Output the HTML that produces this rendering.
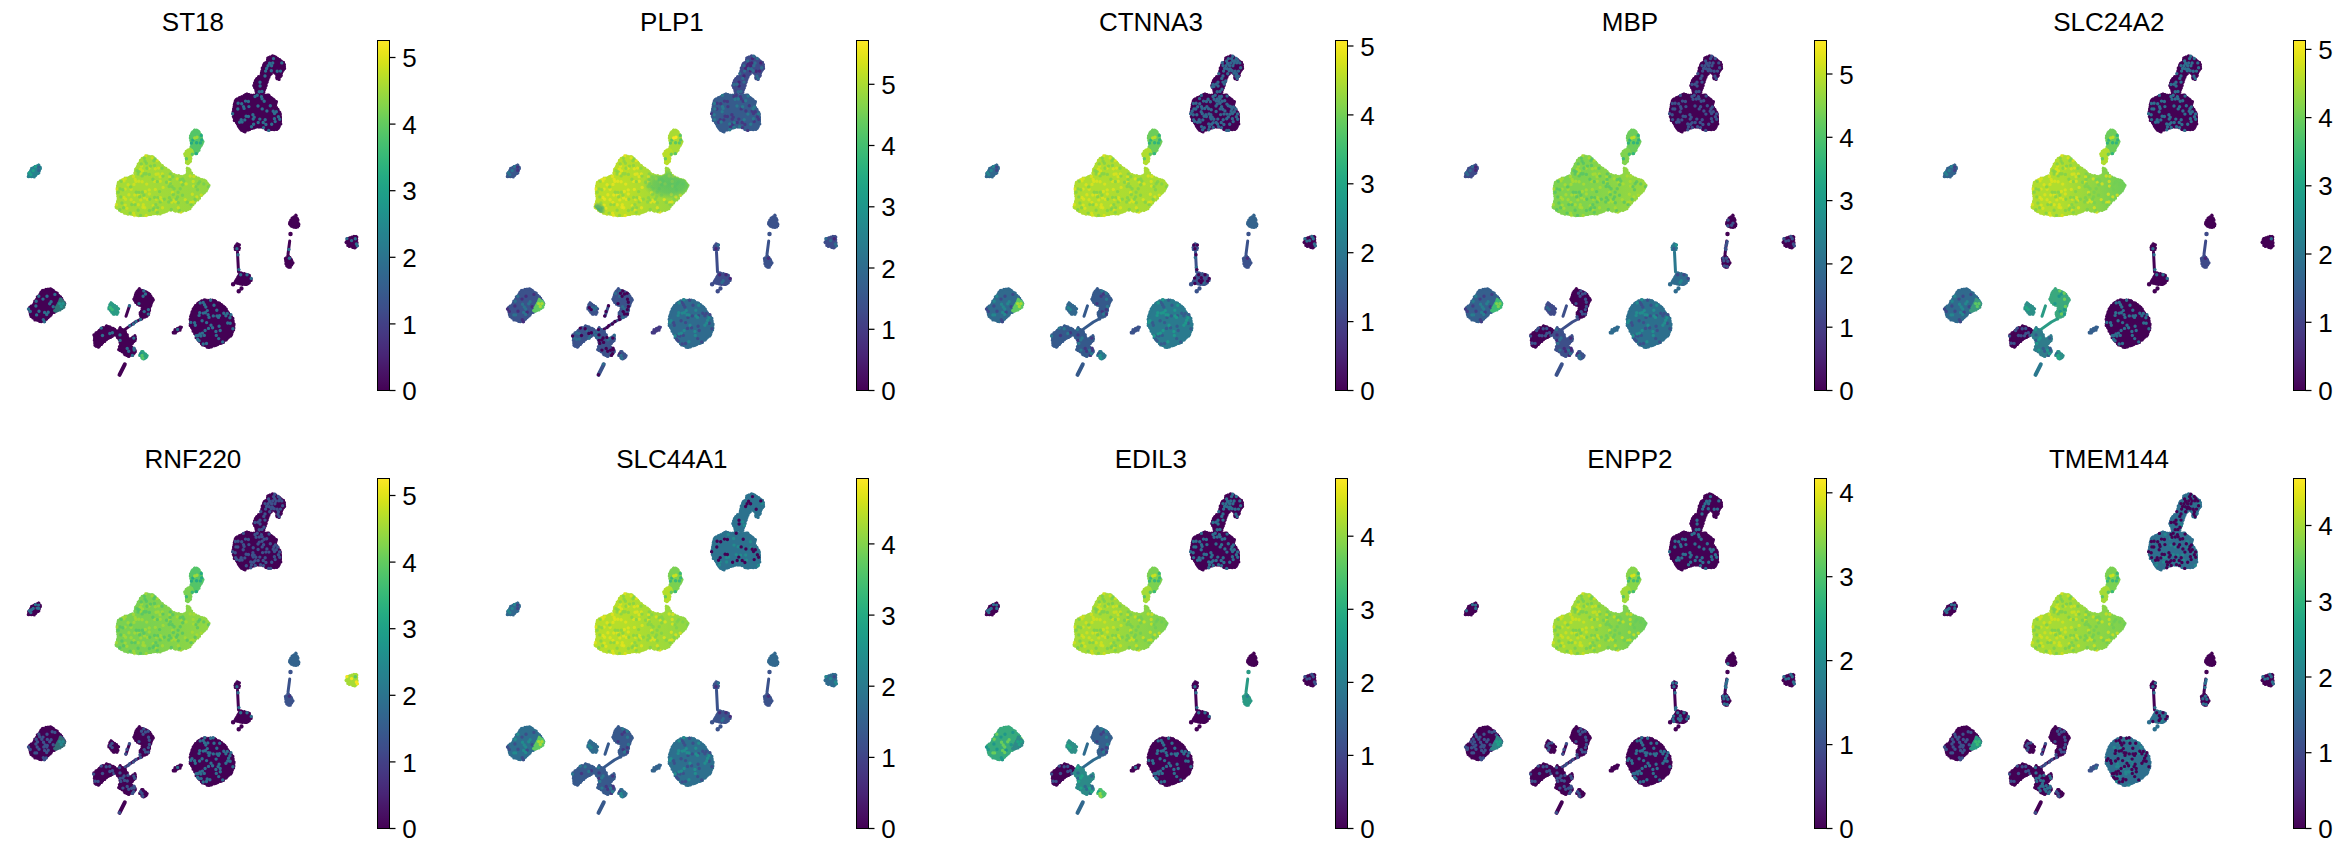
<!DOCTYPE html><html><head><meta charset="utf-8"><style>html,body{margin:0;padding:0;background:#fff;width:2344px;height:854px;overflow:hidden}svg{display:block}text{font-family:"Liberation Sans",sans-serif}</style></head><body>
<svg width="2344" height="854" viewBox="0 0 2344 854">
<defs><linearGradient id="vir" x1="0" y1="1" x2="0" y2="0">
<stop offset="0.000" stop-color="#440154"/>
<stop offset="0.032" stop-color="#470d60"/>
<stop offset="0.065" stop-color="#48186a"/>
<stop offset="0.097" stop-color="#482475"/>
<stop offset="0.129" stop-color="#472e7c"/>
<stop offset="0.161" stop-color="#453882"/>
<stop offset="0.194" stop-color="#424186"/>
<stop offset="0.226" stop-color="#3e4c8a"/>
<stop offset="0.258" stop-color="#3a548c"/>
<stop offset="0.290" stop-color="#365d8d"/>
<stop offset="0.323" stop-color="#32658e"/>
<stop offset="0.355" stop-color="#2e6d8e"/>
<stop offset="0.387" stop-color="#2b758e"/>
<stop offset="0.419" stop-color="#287d8e"/>
<stop offset="0.452" stop-color="#25848e"/>
<stop offset="0.484" stop-color="#228c8d"/>
<stop offset="0.516" stop-color="#1f948c"/>
<stop offset="0.548" stop-color="#1e9c89"/>
<stop offset="0.581" stop-color="#20a386"/>
<stop offset="0.613" stop-color="#25ab82"/>
<stop offset="0.645" stop-color="#2eb37c"/>
<stop offset="0.677" stop-color="#3aba76"/>
<stop offset="0.710" stop-color="#48c16e"/>
<stop offset="0.742" stop-color="#58c765"/>
<stop offset="0.774" stop-color="#69cd5b"/>
<stop offset="0.806" stop-color="#7fd34e"/>
<stop offset="0.839" stop-color="#93d741"/>
<stop offset="0.871" stop-color="#a8db34"/>
<stop offset="0.903" stop-color="#bddf26"/>
<stop offset="0.935" stop-color="#d5e21a"/>
<stop offset="0.968" stop-color="#eae51a"/>
<stop offset="1.000" stop-color="#fde725"/>
</linearGradient>
<path id="d_A_0" d="M37.0,170.4a1.7,1.7 0 1,0 3.4,0a1.7,1.7 0 1,0 -3.4,0"/>
<path id="d_A_1" d="M36.9,167.1a1.7,1.7 0 1,0 3.4,0a1.7,1.7 0 1,0 -3.4,0"/>
<path id="d_A_2" d=""/>
<path id="d_A_3" d=""/>
<path id="d_A_4" d="M33.8,166.6a1.7,1.7 0 1,0 3.4,0a1.7,1.7 0 1,0 -3.4,0M27.7,172.8a1.7,1.7 0 1,0 3.4,0a1.7,1.7 0 1,0 -3.4,0"/>
<path id="d_A_5" d="M31.5,170.5a1.7,1.7 0 1,0 3.4,0a1.7,1.7 0 1,0 -3.4,0M29.1,174.6a1.7,1.7 0 1,0 3.4,0a1.7,1.7 0 1,0 -3.4,0"/>
<path id="d_A_6" d=""/>
<path id="d_A_7" d="M29.8,171.8a1.7,1.7 0 1,0 3.4,0a1.7,1.7 0 1,0 -3.4,0"/>
<path id="d_A_8" d=""/>
<path id="d_A_9" d="M35.4,170.1a1.7,1.7 0 1,0 3.4,0a1.7,1.7 0 1,0 -3.4,0"/>
<path id="d_A_10" d="M26.0,175.4a1.7,1.7 0 1,0 3.4,0a1.7,1.7 0 1,0 -3.4,0M35.1,175.1a1.7,1.7 0 1,0 3.4,0a1.7,1.7 0 1,0 -3.4,0"/>
<path id="d_A_11" d="M33.1,172.9a1.7,1.7 0 1,0 3.4,0a1.7,1.7 0 1,0 -3.4,0"/>
<path id="d_A_12" d="M32.2,174.6a1.7,1.7 0 1,0 3.4,0a1.7,1.7 0 1,0 -3.4,0"/>
<path id="d_A_13" d=""/>
<path id="d_A_14" d=""/>
<path id="d_A_15" d=""/>
<path id="d_A_16" d="M37.2,164.5a1.7,1.7 0 1,0 3.4,0a1.7,1.7 0 1,0 -3.4,0"/>
<path id="d_A_17" d="M36.3,172.7a1.7,1.7 0 1,0 3.4,0a1.7,1.7 0 1,0 -3.4,0"/>
<path id="d_A_18" d=""/>
<path id="d_A_19" d=""/>
<path id="d_B1_0" d="M266.4,65.7a1.7,1.7 0 1,0 3.4,0a1.7,1.7 0 1,0 -3.4,0M264.9,68.5a1.7,1.7 0 1,0 3.4,0a1.7,1.7 0 1,0 -3.4,0M275.5,71.3a1.7,1.7 0 1,0 3.4,0a1.7,1.7 0 1,0 -3.4,0M258.3,82.2a1.7,1.7 0 1,0 3.4,0a1.7,1.7 0 1,0 -3.4,0M258.4,86.0a1.7,1.7 0 1,0 3.4,0a1.7,1.7 0 1,0 -3.4,0"/>
<path id="d_B1_1" d="M271.8,58.6a1.7,1.7 0 1,0 3.4,0a1.7,1.7 0 1,0 -3.4,0M267.9,63.2a1.7,1.7 0 1,0 3.4,0a1.7,1.7 0 1,0 -3.4,0M280.1,62.9a1.7,1.7 0 1,0 3.4,0a1.7,1.7 0 1,0 -3.4,0M269.9,65.7a1.7,1.7 0 1,0 3.4,0a1.7,1.7 0 1,0 -3.4,0"/>
<path id="d_B1_2" d="M271.0,63.0a1.7,1.7 0 1,0 3.4,0a1.7,1.7 0 1,0 -3.4,0M269.6,70.8a1.7,1.7 0 1,0 3.4,0a1.7,1.7 0 1,0 -3.4,0M278.8,71.1a1.7,1.7 0 1,0 3.4,0a1.7,1.7 0 1,0 -3.4,0M263.3,76.0a1.7,1.7 0 1,0 3.4,0a1.7,1.7 0 1,0 -3.4,0"/>
<path id="d_B1_3" d="M263.9,71.1a1.7,1.7 0 1,0 3.4,0a1.7,1.7 0 1,0 -3.4,0M257.5,91.7a1.7,1.7 0 1,0 3.4,0a1.7,1.7 0 1,0 -3.4,0M260.3,91.5a1.7,1.7 0 1,0 3.4,0a1.7,1.7 0 1,0 -3.4,0"/>
<path id="d_B1_4" d="M276.6,58.5a1.7,1.7 0 1,0 3.4,0a1.7,1.7 0 1,0 -3.4,0M266.9,61.0a1.7,1.7 0 1,0 3.4,0a1.7,1.7 0 1,0 -3.4,0M274.4,63.0a1.7,1.7 0 1,0 3.4,0a1.7,1.7 0 1,0 -3.4,0M263.3,65.6a1.7,1.7 0 1,0 3.4,0a1.7,1.7 0 1,0 -3.4,0M273.2,65.8a1.7,1.7 0 1,0 3.4,0a1.7,1.7 0 1,0 -3.4,0M270.6,69.0a1.7,1.7 0 1,0 3.4,0a1.7,1.7 0 1,0 -3.4,0M280.9,67.8a1.7,1.7 0 1,0 3.4,0a1.7,1.7 0 1,0 -3.4,0M272.5,70.8a1.7,1.7 0 1,0 3.4,0a1.7,1.7 0 1,0 -3.4,0M259.1,73.6a1.7,1.7 0 1,0 3.4,0a1.7,1.7 0 1,0 -3.4,0M277.5,78.6a1.7,1.7 0 1,0 3.4,0a1.7,1.7 0 1,0 -3.4,0M263.3,82.1a1.7,1.7 0 1,0 3.4,0a1.7,1.7 0 1,0 -3.4,0M253.3,84.5a1.7,1.7 0 1,0 3.4,0a1.7,1.7 0 1,0 -3.4,0M256.4,84.3a1.7,1.7 0 1,0 3.4,0a1.7,1.7 0 1,0 -3.4,0"/>
<path id="d_B1_5" d="M273.1,56.2a1.7,1.7 0 1,0 3.4,0a1.7,1.7 0 1,0 -3.4,0M267.7,68.8a1.7,1.7 0 1,0 3.4,0a1.7,1.7 0 1,0 -3.4,0M276.2,76.3a1.7,1.7 0 1,0 3.4,0a1.7,1.7 0 1,0 -3.4,0M262.1,78.4a1.7,1.7 0 1,0 3.4,0a1.7,1.7 0 1,0 -3.4,0"/>
<path id="d_B1_6" d="M273.0,60.7a1.7,1.7 0 1,0 3.4,0a1.7,1.7 0 1,0 -3.4,0M278.2,60.7a1.7,1.7 0 1,0 3.4,0a1.7,1.7 0 1,0 -3.4,0M268.0,73.7a1.7,1.7 0 1,0 3.4,0a1.7,1.7 0 1,0 -3.4,0M276.8,73.8a1.7,1.7 0 1,0 3.4,0a1.7,1.7 0 1,0 -3.4,0M262.3,89.3a1.7,1.7 0 1,0 3.4,0a1.7,1.7 0 1,0 -3.4,0"/>
<path id="d_B1_7" d="M277.2,62.7a1.7,1.7 0 1,0 3.4,0a1.7,1.7 0 1,0 -3.4,0"/>
<path id="d_B1_8" d="M275.3,60.8a1.7,1.7 0 1,0 3.4,0a1.7,1.7 0 1,0 -3.4,0M262.6,62.8a1.7,1.7 0 1,0 3.4,0a1.7,1.7 0 1,0 -3.4,0M278.7,76.3a1.7,1.7 0 1,0 3.4,0a1.7,1.7 0 1,0 -3.4,0M266.0,81.0a1.7,1.7 0 1,0 3.4,0a1.7,1.7 0 1,0 -3.4,0M264.6,84.0a1.7,1.7 0 1,0 3.4,0a1.7,1.7 0 1,0 -3.4,0M252.4,86.9a1.7,1.7 0 1,0 3.4,0a1.7,1.7 0 1,0 -3.4,0"/>
<path id="d_B1_9" d="M268.7,58.6a1.7,1.7 0 1,0 3.4,0a1.7,1.7 0 1,0 -3.4,0M274.2,73.2a1.7,1.7 0 1,0 3.4,0a1.7,1.7 0 1,0 -3.4,0M254.2,86.6a1.7,1.7 0 1,0 3.4,0a1.7,1.7 0 1,0 -3.4,0"/>
<path id="d_B1_10" d="M265.0,74.1a1.7,1.7 0 1,0 3.4,0a1.7,1.7 0 1,0 -3.4,0M257.1,76.7a1.7,1.7 0 1,0 3.4,0a1.7,1.7 0 1,0 -3.4,0M266.7,76.6a1.7,1.7 0 1,0 3.4,0a1.7,1.7 0 1,0 -3.4,0"/>
<path id="d_B1_11" d="M265.7,63.5a1.7,1.7 0 1,0 3.4,0a1.7,1.7 0 1,0 -3.4,0M266.8,70.8a1.7,1.7 0 1,0 3.4,0a1.7,1.7 0 1,0 -3.4,0M281.2,71.2a1.7,1.7 0 1,0 3.4,0a1.7,1.7 0 1,0 -3.4,0M262.1,74.3a1.7,1.7 0 1,0 3.4,0a1.7,1.7 0 1,0 -3.4,0M253.3,89.6a1.7,1.7 0 1,0 3.4,0a1.7,1.7 0 1,0 -3.4,0"/>
<path id="d_B1_12" d="M275.2,65.4a1.7,1.7 0 1,0 3.4,0a1.7,1.7 0 1,0 -3.4,0M260.1,76.4a1.7,1.7 0 1,0 3.4,0a1.7,1.7 0 1,0 -3.4,0M255.0,81.3a1.7,1.7 0 1,0 3.4,0a1.7,1.7 0 1,0 -3.4,0M256.7,89.7a1.7,1.7 0 1,0 3.4,0a1.7,1.7 0 1,0 -3.4,0M255.3,91.3a1.7,1.7 0 1,0 3.4,0a1.7,1.7 0 1,0 -3.4,0"/>
<path id="d_B1_13" d="M278.4,65.7a1.7,1.7 0 1,0 3.4,0a1.7,1.7 0 1,0 -3.4,0M262.2,68.6a1.7,1.7 0 1,0 3.4,0a1.7,1.7 0 1,0 -3.4,0"/>
<path id="d_B1_14" d="M260.3,82.1a1.7,1.7 0 1,0 3.4,0a1.7,1.7 0 1,0 -3.4,0"/>
<path id="d_B1_15" d="M260.0,70.9a1.7,1.7 0 1,0 3.4,0a1.7,1.7 0 1,0 -3.4,0M255.6,78.8a1.7,1.7 0 1,0 3.4,0a1.7,1.7 0 1,0 -3.4,0"/>
<path id="d_B1_16" d="M273.9,58.4a1.7,1.7 0 1,0 3.4,0a1.7,1.7 0 1,0 -3.4,0M269.9,60.8a1.7,1.7 0 1,0 3.4,0a1.7,1.7 0 1,0 -3.4,0M273.6,68.1a1.7,1.7 0 1,0 3.4,0a1.7,1.7 0 1,0 -3.4,0M277.2,69.1a1.7,1.7 0 1,0 3.4,0a1.7,1.7 0 1,0 -3.4,0M260.6,86.9a1.7,1.7 0 1,0 3.4,0a1.7,1.7 0 1,0 -3.4,0"/>
<path id="d_B1_17" d="M280.3,73.3a1.7,1.7 0 1,0 3.4,0a1.7,1.7 0 1,0 -3.4,0M259.0,78.8a1.7,1.7 0 1,0 3.4,0a1.7,1.7 0 1,0 -3.4,0M264.8,79.0a1.7,1.7 0 1,0 3.4,0a1.7,1.7 0 1,0 -3.4,0M259.1,84.2a1.7,1.7 0 1,0 3.4,0a1.7,1.7 0 1,0 -3.4,0M259.7,89.0a1.7,1.7 0 1,0 3.4,0a1.7,1.7 0 1,0 -3.4,0M263.1,91.5a1.7,1.7 0 1,0 3.4,0a1.7,1.7 0 1,0 -3.4,0"/>
<path id="d_B1_18" d="M281.3,65.4a1.7,1.7 0 1,0 3.4,0a1.7,1.7 0 1,0 -3.4,0M263.5,87.2a1.7,1.7 0 1,0 3.4,0a1.7,1.7 0 1,0 -3.4,0"/>
<path id="d_B1_19" d="M261.9,83.8a1.7,1.7 0 1,0 3.4,0a1.7,1.7 0 1,0 -3.4,0"/>
<path id="d_B2_0" d="M255.5,95.3a1.7,1.7 0 1,0 3.4,0a1.7,1.7 0 1,0 -3.4,0M246.7,101.5a1.7,1.7 0 1,0 3.4,0a1.7,1.7 0 1,0 -3.4,0M262.5,101.2a1.7,1.7 0 1,0 3.4,0a1.7,1.7 0 1,0 -3.4,0M274.6,111.7a1.7,1.7 0 1,0 3.4,0a1.7,1.7 0 1,0 -3.4,0M276.7,116.8a1.7,1.7 0 1,0 3.4,0a1.7,1.7 0 1,0 -3.4,0M256.5,122.5a1.7,1.7 0 1,0 3.4,0a1.7,1.7 0 1,0 -3.4,0M273.5,121.6a1.7,1.7 0 1,0 3.4,0a1.7,1.7 0 1,0 -3.4,0"/>
<path id="d_B2_1" d="M243.8,101.1a1.7,1.7 0 1,0 3.4,0a1.7,1.7 0 1,0 -3.4,0M236.4,103.2a1.7,1.7 0 1,0 3.4,0a1.7,1.7 0 1,0 -3.4,0M240.0,103.8a1.7,1.7 0 1,0 3.4,0a1.7,1.7 0 1,0 -3.4,0M236.1,109.0a1.7,1.7 0 1,0 3.4,0a1.7,1.7 0 1,0 -3.4,0M260.5,108.9a1.7,1.7 0 1,0 3.4,0a1.7,1.7 0 1,0 -3.4,0M265.2,111.0a1.7,1.7 0 1,0 3.4,0a1.7,1.7 0 1,0 -3.4,0M271.5,111.3a1.7,1.7 0 1,0 3.4,0a1.7,1.7 0 1,0 -3.4,0M230.9,113.7a1.7,1.7 0 1,0 3.4,0a1.7,1.7 0 1,0 -3.4,0M272.8,113.5a1.7,1.7 0 1,0 3.4,0a1.7,1.7 0 1,0 -3.4,0M244.4,116.3a1.7,1.7 0 1,0 3.4,0a1.7,1.7 0 1,0 -3.4,0M246.7,116.5a1.7,1.7 0 1,0 3.4,0a1.7,1.7 0 1,0 -3.4,0M239.5,119.6a1.7,1.7 0 1,0 3.4,0a1.7,1.7 0 1,0 -3.4,0M258.1,119.1a1.7,1.7 0 1,0 3.4,0a1.7,1.7 0 1,0 -3.4,0M278.0,119.2a1.7,1.7 0 1,0 3.4,0a1.7,1.7 0 1,0 -3.4,0M237.9,122.2a1.7,1.7 0 1,0 3.4,0a1.7,1.7 0 1,0 -3.4,0M261.5,122.5a1.7,1.7 0 1,0 3.4,0a1.7,1.7 0 1,0 -3.4,0M251.9,124.2a1.7,1.7 0 1,0 3.4,0a1.7,1.7 0 1,0 -3.4,0M264.2,124.5a1.7,1.7 0 1,0 3.4,0a1.7,1.7 0 1,0 -3.4,0"/>
<path id="d_B2_2" d="M253.3,96.5a1.7,1.7 0 1,0 3.4,0a1.7,1.7 0 1,0 -3.4,0M259.7,96.6a1.7,1.7 0 1,0 3.4,0a1.7,1.7 0 1,0 -3.4,0M260.4,98.7a1.7,1.7 0 1,0 3.4,0a1.7,1.7 0 1,0 -3.4,0M247.2,106.6a1.7,1.7 0 1,0 3.4,0a1.7,1.7 0 1,0 -3.4,0M268.6,105.7a1.7,1.7 0 1,0 3.4,0a1.7,1.7 0 1,0 -3.4,0M251.2,114.8a1.7,1.7 0 1,0 3.4,0a1.7,1.7 0 1,0 -3.4,0M252.5,117.2a1.7,1.7 0 1,0 3.4,0a1.7,1.7 0 1,0 -3.4,0M243.1,119.9a1.7,1.7 0 1,0 3.4,0a1.7,1.7 0 1,0 -3.4,0M251.5,119.1a1.7,1.7 0 1,0 3.4,0a1.7,1.7 0 1,0 -3.4,0M249.8,126.7a1.7,1.7 0 1,0 3.4,0a1.7,1.7 0 1,0 -3.4,0M261.8,127.6a1.7,1.7 0 1,0 3.4,0a1.7,1.7 0 1,0 -3.4,0M267.0,130.4a1.7,1.7 0 1,0 3.4,0a1.7,1.7 0 1,0 -3.4,0"/>
<path id="d_B2_3" d="M241.8,106.6a1.7,1.7 0 1,0 3.4,0a1.7,1.7 0 1,0 -3.4,0M256.3,106.0a1.7,1.7 0 1,0 3.4,0a1.7,1.7 0 1,0 -3.4,0M242.4,108.4a1.7,1.7 0 1,0 3.4,0a1.7,1.7 0 1,0 -3.4,0M263.5,119.7a1.7,1.7 0 1,0 3.4,0a1.7,1.7 0 1,0 -3.4,0M272.7,118.8a1.7,1.7 0 1,0 3.4,0a1.7,1.7 0 1,0 -3.4,0M240.4,122.0a1.7,1.7 0 1,0 3.4,0a1.7,1.7 0 1,0 -3.4,0M270.0,124.2a1.7,1.7 0 1,0 3.4,0a1.7,1.7 0 1,0 -3.4,0"/>
<path id="d_B2_4" d="M267.4,96.1a1.7,1.7 0 1,0 3.4,0a1.7,1.7 0 1,0 -3.4,0M257.6,99.0a1.7,1.7 0 1,0 3.4,0a1.7,1.7 0 1,0 -3.4,0M261.9,106.8a1.7,1.7 0 1,0 3.4,0a1.7,1.7 0 1,0 -3.4,0M273.7,106.9a1.7,1.7 0 1,0 3.4,0a1.7,1.7 0 1,0 -3.4,0M234.2,108.9a1.7,1.7 0 1,0 3.4,0a1.7,1.7 0 1,0 -3.4,0M241.5,111.8a1.7,1.7 0 1,0 3.4,0a1.7,1.7 0 1,0 -3.4,0M277.9,113.9a1.7,1.7 0 1,0 3.4,0a1.7,1.7 0 1,0 -3.4,0M253.5,127.5a1.7,1.7 0 1,0 3.4,0a1.7,1.7 0 1,0 -3.4,0M258.8,126.6a1.7,1.7 0 1,0 3.4,0a1.7,1.7 0 1,0 -3.4,0M249.1,129.8a1.7,1.7 0 1,0 3.4,0a1.7,1.7 0 1,0 -3.4,0"/>
<path id="d_B2_5" d="M241.7,95.4a1.7,1.7 0 1,0 3.4,0a1.7,1.7 0 1,0 -3.4,0M254.4,99.2a1.7,1.7 0 1,0 3.4,0a1.7,1.7 0 1,0 -3.4,0M265.0,100.7a1.7,1.7 0 1,0 3.4,0a1.7,1.7 0 1,0 -3.4,0M233.7,103.5a1.7,1.7 0 1,0 3.4,0a1.7,1.7 0 1,0 -3.4,0M272.3,108.8a1.7,1.7 0 1,0 3.4,0a1.7,1.7 0 1,0 -3.4,0M233.5,114.7a1.7,1.7 0 1,0 3.4,0a1.7,1.7 0 1,0 -3.4,0M267.2,114.1a1.7,1.7 0 1,0 3.4,0a1.7,1.7 0 1,0 -3.4,0M233.9,119.6a1.7,1.7 0 1,0 3.4,0a1.7,1.7 0 1,0 -3.4,0M253.5,122.6a1.7,1.7 0 1,0 3.4,0a1.7,1.7 0 1,0 -3.4,0M249.0,123.9a1.7,1.7 0 1,0 3.4,0a1.7,1.7 0 1,0 -3.4,0"/>
<path id="d_B2_6" d="M257.6,104.1a1.7,1.7 0 1,0 3.4,0a1.7,1.7 0 1,0 -3.4,0M251.5,109.7a1.7,1.7 0 1,0 3.4,0a1.7,1.7 0 1,0 -3.4,0M276.0,109.0a1.7,1.7 0 1,0 3.4,0a1.7,1.7 0 1,0 -3.4,0M256.4,111.5a1.7,1.7 0 1,0 3.4,0a1.7,1.7 0 1,0 -3.4,0M260.9,114.6a1.7,1.7 0 1,0 3.4,0a1.7,1.7 0 1,0 -3.4,0M250.7,117.3a1.7,1.7 0 1,0 3.4,0a1.7,1.7 0 1,0 -3.4,0M254.2,119.2a1.7,1.7 0 1,0 3.4,0a1.7,1.7 0 1,0 -3.4,0M234.9,121.4a1.7,1.7 0 1,0 3.4,0a1.7,1.7 0 1,0 -3.4,0"/>
<path id="d_B2_7" d="M260.4,103.2a1.7,1.7 0 1,0 3.4,0a1.7,1.7 0 1,0 -3.4,0M264.2,114.1a1.7,1.7 0 1,0 3.4,0a1.7,1.7 0 1,0 -3.4,0M244.6,127.7a1.7,1.7 0 1,0 3.4,0a1.7,1.7 0 1,0 -3.4,0M269.0,130.4a1.7,1.7 0 1,0 3.4,0a1.7,1.7 0 1,0 -3.4,0"/>
<path id="d_B2_8" d="M248.4,99.2a1.7,1.7 0 1,0 3.4,0a1.7,1.7 0 1,0 -3.4,0M250.7,101.8a1.7,1.7 0 1,0 3.4,0a1.7,1.7 0 1,0 -3.4,0M256.5,101.1a1.7,1.7 0 1,0 3.4,0a1.7,1.7 0 1,0 -3.4,0M259.2,101.4a1.7,1.7 0 1,0 3.4,0a1.7,1.7 0 1,0 -3.4,0M267.2,104.1a1.7,1.7 0 1,0 3.4,0a1.7,1.7 0 1,0 -3.4,0M270.7,106.5a1.7,1.7 0 1,0 3.4,0a1.7,1.7 0 1,0 -3.4,0M248.9,108.7a1.7,1.7 0 1,0 3.4,0a1.7,1.7 0 1,0 -3.4,0M237.1,114.8a1.7,1.7 0 1,0 3.4,0a1.7,1.7 0 1,0 -3.4,0M242.6,113.7a1.7,1.7 0 1,0 3.4,0a1.7,1.7 0 1,0 -3.4,0M246.2,114.8a1.7,1.7 0 1,0 3.4,0a1.7,1.7 0 1,0 -3.4,0M270.2,114.2a1.7,1.7 0 1,0 3.4,0a1.7,1.7 0 1,0 -3.4,0M267.0,118.7a1.7,1.7 0 1,0 3.4,0a1.7,1.7 0 1,0 -3.4,0M241.8,126.6a1.7,1.7 0 1,0 3.4,0a1.7,1.7 0 1,0 -3.4,0"/>
<path id="d_B2_9" d="M261.8,96.5a1.7,1.7 0 1,0 3.4,0a1.7,1.7 0 1,0 -3.4,0M239.8,98.6a1.7,1.7 0 1,0 3.4,0a1.7,1.7 0 1,0 -3.4,0M238.0,106.8a1.7,1.7 0 1,0 3.4,0a1.7,1.7 0 1,0 -3.4,0M245.1,108.5a1.7,1.7 0 1,0 3.4,0a1.7,1.7 0 1,0 -3.4,0M263.1,109.2a1.7,1.7 0 1,0 3.4,0a1.7,1.7 0 1,0 -3.4,0M232.5,111.3a1.7,1.7 0 1,0 3.4,0a1.7,1.7 0 1,0 -3.4,0M249.3,114.0a1.7,1.7 0 1,0 3.4,0a1.7,1.7 0 1,0 -3.4,0M268.6,116.9a1.7,1.7 0 1,0 3.4,0a1.7,1.7 0 1,0 -3.4,0M257.8,124.0a1.7,1.7 0 1,0 3.4,0a1.7,1.7 0 1,0 -3.4,0M242.9,129.8a1.7,1.7 0 1,0 3.4,0a1.7,1.7 0 1,0 -3.4,0"/>
<path id="d_B2_10" d="M244.7,96.4a1.7,1.7 0 1,0 3.4,0a1.7,1.7 0 1,0 -3.4,0M249.7,95.5a1.7,1.7 0 1,0 3.4,0a1.7,1.7 0 1,0 -3.4,0M235.0,100.5a1.7,1.7 0 1,0 3.4,0a1.7,1.7 0 1,0 -3.4,0M242.9,103.9a1.7,1.7 0 1,0 3.4,0a1.7,1.7 0 1,0 -3.4,0M249.7,105.7a1.7,1.7 0 1,0 3.4,0a1.7,1.7 0 1,0 -3.4,0M243.4,111.4a1.7,1.7 0 1,0 3.4,0a1.7,1.7 0 1,0 -3.4,0M231.8,116.2a1.7,1.7 0 1,0 3.4,0a1.7,1.7 0 1,0 -3.4,0M269.1,118.8a1.7,1.7 0 1,0 3.4,0a1.7,1.7 0 1,0 -3.4,0M275.5,119.1a1.7,1.7 0 1,0 3.4,0a1.7,1.7 0 1,0 -3.4,0M237.1,125.1a1.7,1.7 0 1,0 3.4,0a1.7,1.7 0 1,0 -3.4,0M242.0,124.0a1.7,1.7 0 1,0 3.4,0a1.7,1.7 0 1,0 -3.4,0"/>
<path id="d_B2_11" d="M231.2,109.3a1.7,1.7 0 1,0 3.4,0a1.7,1.7 0 1,0 -3.4,0M266.7,108.4a1.7,1.7 0 1,0 3.4,0a1.7,1.7 0 1,0 -3.4,0M253.5,112.3a1.7,1.7 0 1,0 3.4,0a1.7,1.7 0 1,0 -3.4,0M246.8,126.9a1.7,1.7 0 1,0 3.4,0a1.7,1.7 0 1,0 -3.4,0M267.8,126.9a1.7,1.7 0 1,0 3.4,0a1.7,1.7 0 1,0 -3.4,0M270.9,127.3a1.7,1.7 0 1,0 3.4,0a1.7,1.7 0 1,0 -3.4,0M244.9,130.0a1.7,1.7 0 1,0 3.4,0a1.7,1.7 0 1,0 -3.4,0"/>
<path id="d_B2_12" d="M264.8,96.5a1.7,1.7 0 1,0 3.4,0a1.7,1.7 0 1,0 -3.4,0M263.0,98.2a1.7,1.7 0 1,0 3.4,0a1.7,1.7 0 1,0 -3.4,0M269.4,98.7a1.7,1.7 0 1,0 3.4,0a1.7,1.7 0 1,0 -3.4,0M238.2,101.1a1.7,1.7 0 1,0 3.4,0a1.7,1.7 0 1,0 -3.4,0M240.9,101.0a1.7,1.7 0 1,0 3.4,0a1.7,1.7 0 1,0 -3.4,0M272.9,103.4a1.7,1.7 0 1,0 3.4,0a1.7,1.7 0 1,0 -3.4,0M265.5,107.0a1.7,1.7 0 1,0 3.4,0a1.7,1.7 0 1,0 -3.4,0M239.2,114.8a1.7,1.7 0 1,0 3.4,0a1.7,1.7 0 1,0 -3.4,0M257.9,114.9a1.7,1.7 0 1,0 3.4,0a1.7,1.7 0 1,0 -3.4,0M261.2,118.7a1.7,1.7 0 1,0 3.4,0a1.7,1.7 0 1,0 -3.4,0M246.7,122.0a1.7,1.7 0 1,0 3.4,0a1.7,1.7 0 1,0 -3.4,0M259.9,124.4a1.7,1.7 0 1,0 3.4,0a1.7,1.7 0 1,0 -3.4,0M256.5,127.4a1.7,1.7 0 1,0 3.4,0a1.7,1.7 0 1,0 -3.4,0"/>
<path id="d_B2_13" d="M245.1,98.9a1.7,1.7 0 1,0 3.4,0a1.7,1.7 0 1,0 -3.4,0M267.5,100.7a1.7,1.7 0 1,0 3.4,0a1.7,1.7 0 1,0 -3.4,0M270.6,101.8a1.7,1.7 0 1,0 3.4,0a1.7,1.7 0 1,0 -3.4,0M274.2,100.5a1.7,1.7 0 1,0 3.4,0a1.7,1.7 0 1,0 -3.4,0M248.3,104.2a1.7,1.7 0 1,0 3.4,0a1.7,1.7 0 1,0 -3.4,0M244.3,105.9a1.7,1.7 0 1,0 3.4,0a1.7,1.7 0 1,0 -3.4,0M254.4,109.2a1.7,1.7 0 1,0 3.4,0a1.7,1.7 0 1,0 -3.4,0M267.8,111.7a1.7,1.7 0 1,0 3.4,0a1.7,1.7 0 1,0 -3.4,0M237.7,117.1a1.7,1.7 0 1,0 3.4,0a1.7,1.7 0 1,0 -3.4,0M249.5,122.0a1.7,1.7 0 1,0 3.4,0a1.7,1.7 0 1,0 -3.4,0"/>
<path id="d_B2_14" d="M236.6,98.8a1.7,1.7 0 1,0 3.4,0a1.7,1.7 0 1,0 -3.4,0M243.1,98.5a1.7,1.7 0 1,0 3.4,0a1.7,1.7 0 1,0 -3.4,0M234.8,117.3a1.7,1.7 0 1,0 3.4,0a1.7,1.7 0 1,0 -3.4,0M271.7,117.3a1.7,1.7 0 1,0 3.4,0a1.7,1.7 0 1,0 -3.4,0M276.8,122.2a1.7,1.7 0 1,0 3.4,0a1.7,1.7 0 1,0 -3.4,0M266.3,124.5a1.7,1.7 0 1,0 3.4,0a1.7,1.7 0 1,0 -3.4,0M273.6,126.7a1.7,1.7 0 1,0 3.4,0a1.7,1.7 0 1,0 -3.4,0"/>
<path id="d_B2_15" d="M251.4,97.9a1.7,1.7 0 1,0 3.4,0a1.7,1.7 0 1,0 -3.4,0M251.4,104.4a1.7,1.7 0 1,0 3.4,0a1.7,1.7 0 1,0 -3.4,0M255.0,104.1a1.7,1.7 0 1,0 3.4,0a1.7,1.7 0 1,0 -3.4,0M238.6,112.1a1.7,1.7 0 1,0 3.4,0a1.7,1.7 0 1,0 -3.4,0M254.9,114.8a1.7,1.7 0 1,0 3.4,0a1.7,1.7 0 1,0 -3.4,0M236.7,119.6a1.7,1.7 0 1,0 3.4,0a1.7,1.7 0 1,0 -3.4,0M270.5,122.5a1.7,1.7 0 1,0 3.4,0a1.7,1.7 0 1,0 -3.4,0M254.8,124.9a1.7,1.7 0 1,0 3.4,0a1.7,1.7 0 1,0 -3.4,0M264.4,127.2a1.7,1.7 0 1,0 3.4,0a1.7,1.7 0 1,0 -3.4,0M239.8,129.6a1.7,1.7 0 1,0 3.4,0a1.7,1.7 0 1,0 -3.4,0"/>
<path id="d_B2_16" d="M245.1,93.1a1.7,1.7 0 1,0 3.4,0a1.7,1.7 0 1,0 -3.4,0M264.1,103.7a1.7,1.7 0 1,0 3.4,0a1.7,1.7 0 1,0 -3.4,0M259.6,106.1a1.7,1.7 0 1,0 3.4,0a1.7,1.7 0 1,0 -3.4,0M247.4,111.2a1.7,1.7 0 1,0 3.4,0a1.7,1.7 0 1,0 -3.4,0M262.6,111.6a1.7,1.7 0 1,0 3.4,0a1.7,1.7 0 1,0 -3.4,0M275.4,113.9a1.7,1.7 0 1,0 3.4,0a1.7,1.7 0 1,0 -3.4,0M261.6,116.9a1.7,1.7 0 1,0 3.4,0a1.7,1.7 0 1,0 -3.4,0M273.6,116.2a1.7,1.7 0 1,0 3.4,0a1.7,1.7 0 1,0 -3.4,0M243.4,122.5a1.7,1.7 0 1,0 3.4,0a1.7,1.7 0 1,0 -3.4,0M272.1,125.2a1.7,1.7 0 1,0 3.4,0a1.7,1.7 0 1,0 -3.4,0M275.5,124.5a1.7,1.7 0 1,0 3.4,0a1.7,1.7 0 1,0 -3.4,0M278.3,124.2a1.7,1.7 0 1,0 3.4,0a1.7,1.7 0 1,0 -3.4,0"/>
<path id="d_B2_17" d="M266.0,98.5a1.7,1.7 0 1,0 3.4,0a1.7,1.7 0 1,0 -3.4,0M245.0,103.5a1.7,1.7 0 1,0 3.4,0a1.7,1.7 0 1,0 -3.4,0M234.9,106.6a1.7,1.7 0 1,0 3.4,0a1.7,1.7 0 1,0 -3.4,0M240.2,109.1a1.7,1.7 0 1,0 3.4,0a1.7,1.7 0 1,0 -3.4,0M235.1,112.0a1.7,1.7 0 1,0 3.4,0a1.7,1.7 0 1,0 -3.4,0M249.5,111.7a1.7,1.7 0 1,0 3.4,0a1.7,1.7 0 1,0 -3.4,0M258.4,111.8a1.7,1.7 0 1,0 3.4,0a1.7,1.7 0 1,0 -3.4,0M277.2,111.2a1.7,1.7 0 1,0 3.4,0a1.7,1.7 0 1,0 -3.4,0M241.8,116.1a1.7,1.7 0 1,0 3.4,0a1.7,1.7 0 1,0 -3.4,0M268.2,122.3a1.7,1.7 0 1,0 3.4,0a1.7,1.7 0 1,0 -3.4,0"/>
<path id="d_B2_18" d="M253.3,107.1a1.7,1.7 0 1,0 3.4,0a1.7,1.7 0 1,0 -3.4,0M257.4,108.8a1.7,1.7 0 1,0 3.4,0a1.7,1.7 0 1,0 -3.4,0M270.3,109.7a1.7,1.7 0 1,0 3.4,0a1.7,1.7 0 1,0 -3.4,0M255.5,116.6a1.7,1.7 0 1,0 3.4,0a1.7,1.7 0 1,0 -3.4,0M265.0,117.0a1.7,1.7 0 1,0 3.4,0a1.7,1.7 0 1,0 -3.4,0M245.9,119.6a1.7,1.7 0 1,0 3.4,0a1.7,1.7 0 1,0 -3.4,0M258.4,122.4a1.7,1.7 0 1,0 3.4,0a1.7,1.7 0 1,0 -3.4,0M265.8,122.3a1.7,1.7 0 1,0 3.4,0a1.7,1.7 0 1,0 -3.4,0M245.9,124.0a1.7,1.7 0 1,0 3.4,0a1.7,1.7 0 1,0 -3.4,0M238.7,127.1a1.7,1.7 0 1,0 3.4,0a1.7,1.7 0 1,0 -3.4,0"/>
<path id="d_B2_19" d="M247.5,96.4a1.7,1.7 0 1,0 3.4,0a1.7,1.7 0 1,0 -3.4,0M252.9,100.5a1.7,1.7 0 1,0 3.4,0a1.7,1.7 0 1,0 -3.4,0M269.7,103.7a1.7,1.7 0 1,0 3.4,0a1.7,1.7 0 1,0 -3.4,0M259.8,117.3a1.7,1.7 0 1,0 3.4,0a1.7,1.7 0 1,0 -3.4,0M248.0,119.1a1.7,1.7 0 1,0 3.4,0a1.7,1.7 0 1,0 -3.4,0M239.3,123.9a1.7,1.7 0 1,0 3.4,0a1.7,1.7 0 1,0 -3.4,0M277.6,127.5a1.7,1.7 0 1,0 3.4,0a1.7,1.7 0 1,0 -3.4,0"/>
<path id="d_C_0" d="M150.5,157.9a1.7,1.7 0 1,0 3.4,0a1.7,1.7 0 1,0 -3.4,0M155.5,160.6a1.7,1.7 0 1,0 3.4,0a1.7,1.7 0 1,0 -3.4,0M139.9,166.1a1.7,1.7 0 1,0 3.4,0a1.7,1.7 0 1,0 -3.4,0M156.9,168.1a1.7,1.7 0 1,0 3.4,0a1.7,1.7 0 1,0 -3.4,0M138.9,173.8a1.7,1.7 0 1,0 3.4,0a1.7,1.7 0 1,0 -3.4,0M131.8,176.5a1.7,1.7 0 1,0 3.4,0a1.7,1.7 0 1,0 -3.4,0M158.4,176.7a1.7,1.7 0 1,0 3.4,0a1.7,1.7 0 1,0 -3.4,0M133.5,179.4a1.7,1.7 0 1,0 3.4,0a1.7,1.7 0 1,0 -3.4,0M175.6,178.9a1.7,1.7 0 1,0 3.4,0a1.7,1.7 0 1,0 -3.4,0M126.4,184.8a1.7,1.7 0 1,0 3.4,0a1.7,1.7 0 1,0 -3.4,0M184.4,183.9a1.7,1.7 0 1,0 3.4,0a1.7,1.7 0 1,0 -3.4,0M191.8,186.1a1.7,1.7 0 1,0 3.4,0a1.7,1.7 0 1,0 -3.4,0M127.2,194.8a1.7,1.7 0 1,0 3.4,0a1.7,1.7 0 1,0 -3.4,0M136.7,195.0a1.7,1.7 0 1,0 3.4,0a1.7,1.7 0 1,0 -3.4,0M139.1,199.9a1.7,1.7 0 1,0 3.4,0a1.7,1.7 0 1,0 -3.4,0M145.7,199.4a1.7,1.7 0 1,0 3.4,0a1.7,1.7 0 1,0 -3.4,0M154.7,199.2a1.7,1.7 0 1,0 3.4,0a1.7,1.7 0 1,0 -3.4,0M183.5,199.6a1.7,1.7 0 1,0 3.4,0a1.7,1.7 0 1,0 -3.4,0M170.2,202.1a1.7,1.7 0 1,0 3.4,0a1.7,1.7 0 1,0 -3.4,0M114.7,204.7a1.7,1.7 0 1,0 3.4,0a1.7,1.7 0 1,0 -3.4,0M151.5,205.7a1.7,1.7 0 1,0 3.4,0a1.7,1.7 0 1,0 -3.4,0M125.2,208.2a1.7,1.7 0 1,0 3.4,0a1.7,1.7 0 1,0 -3.4,0M131.9,213.1a1.7,1.7 0 1,0 3.4,0a1.7,1.7 0 1,0 -3.4,0"/>
<path id="d_C_1" d="M153.6,168.7a1.7,1.7 0 1,0 3.4,0a1.7,1.7 0 1,0 -3.4,0M154.4,174.2a1.7,1.7 0 1,0 3.4,0a1.7,1.7 0 1,0 -3.4,0M156.4,174.0a1.7,1.7 0 1,0 3.4,0a1.7,1.7 0 1,0 -3.4,0M188.5,176.0a1.7,1.7 0 1,0 3.4,0a1.7,1.7 0 1,0 -3.4,0M123.6,178.8a1.7,1.7 0 1,0 3.4,0a1.7,1.7 0 1,0 -3.4,0M122.2,180.9a1.7,1.7 0 1,0 3.4,0a1.7,1.7 0 1,0 -3.4,0M191.5,181.5a1.7,1.7 0 1,0 3.4,0a1.7,1.7 0 1,0 -3.4,0M132.3,184.4a1.7,1.7 0 1,0 3.4,0a1.7,1.7 0 1,0 -3.4,0M145.0,184.1a1.7,1.7 0 1,0 3.4,0a1.7,1.7 0 1,0 -3.4,0M115.3,189.0a1.7,1.7 0 1,0 3.4,0a1.7,1.7 0 1,0 -3.4,0M129.4,189.2a1.7,1.7 0 1,0 3.4,0a1.7,1.7 0 1,0 -3.4,0M170.8,192.5a1.7,1.7 0 1,0 3.4,0a1.7,1.7 0 1,0 -3.4,0M147.6,194.0a1.7,1.7 0 1,0 3.4,0a1.7,1.7 0 1,0 -3.4,0M122.2,197.5a1.7,1.7 0 1,0 3.4,0a1.7,1.7 0 1,0 -3.4,0M158.7,197.6a1.7,1.7 0 1,0 3.4,0a1.7,1.7 0 1,0 -3.4,0M159.9,200.4a1.7,1.7 0 1,0 3.4,0a1.7,1.7 0 1,0 -3.4,0M132.2,202.5a1.7,1.7 0 1,0 3.4,0a1.7,1.7 0 1,0 -3.4,0M191.3,201.9a1.7,1.7 0 1,0 3.4,0a1.7,1.7 0 1,0 -3.4,0M141.6,204.7a1.7,1.7 0 1,0 3.4,0a1.7,1.7 0 1,0 -3.4,0M160.8,207.7a1.7,1.7 0 1,0 3.4,0a1.7,1.7 0 1,0 -3.4,0M176.6,207.7a1.7,1.7 0 1,0 3.4,0a1.7,1.7 0 1,0 -3.4,0M154.5,210.3a1.7,1.7 0 1,0 3.4,0a1.7,1.7 0 1,0 -3.4,0M132.7,215.5a1.7,1.7 0 1,0 3.4,0a1.7,1.7 0 1,0 -3.4,0M144.5,215.5a1.7,1.7 0 1,0 3.4,0a1.7,1.7 0 1,0 -3.4,0"/>
<path id="d_C_2" d="M144.0,155.8a1.7,1.7 0 1,0 3.4,0a1.7,1.7 0 1,0 -3.4,0M140.8,170.9a1.7,1.7 0 1,0 3.4,0a1.7,1.7 0 1,0 -3.4,0M168.0,176.7a1.7,1.7 0 1,0 3.4,0a1.7,1.7 0 1,0 -3.4,0M134.1,181.6a1.7,1.7 0 1,0 3.4,0a1.7,1.7 0 1,0 -3.4,0M137.1,181.2a1.7,1.7 0 1,0 3.4,0a1.7,1.7 0 1,0 -3.4,0M153.0,181.4a1.7,1.7 0 1,0 3.4,0a1.7,1.7 0 1,0 -3.4,0M167.5,182.1a1.7,1.7 0 1,0 3.4,0a1.7,1.7 0 1,0 -3.4,0M123.4,189.1a1.7,1.7 0 1,0 3.4,0a1.7,1.7 0 1,0 -3.4,0M147.5,189.9a1.7,1.7 0 1,0 3.4,0a1.7,1.7 0 1,0 -3.4,0M143.6,191.4a1.7,1.7 0 1,0 3.4,0a1.7,1.7 0 1,0 -3.4,0M133.1,195.0a1.7,1.7 0 1,0 3.4,0a1.7,1.7 0 1,0 -3.4,0M123.9,199.3a1.7,1.7 0 1,0 3.4,0a1.7,1.7 0 1,0 -3.4,0M171.7,200.2a1.7,1.7 0 1,0 3.4,0a1.7,1.7 0 1,0 -3.4,0M173.8,201.7a1.7,1.7 0 1,0 3.4,0a1.7,1.7 0 1,0 -3.4,0M189.1,202.4a1.7,1.7 0 1,0 3.4,0a1.7,1.7 0 1,0 -3.4,0M123.5,205.1a1.7,1.7 0 1,0 3.4,0a1.7,1.7 0 1,0 -3.4,0M136.5,204.7a1.7,1.7 0 1,0 3.4,0a1.7,1.7 0 1,0 -3.4,0M141.2,207.3a1.7,1.7 0 1,0 3.4,0a1.7,1.7 0 1,0 -3.4,0M179.1,212.2a1.7,1.7 0 1,0 3.4,0a1.7,1.7 0 1,0 -3.4,0"/>
<path id="d_C_3" d="M138.7,169.3a1.7,1.7 0 1,0 3.4,0a1.7,1.7 0 1,0 -3.4,0M147.4,168.1a1.7,1.7 0 1,0 3.4,0a1.7,1.7 0 1,0 -3.4,0M160.6,173.9a1.7,1.7 0 1,0 3.4,0a1.7,1.7 0 1,0 -3.4,0M192.2,176.4a1.7,1.7 0 1,0 3.4,0a1.7,1.7 0 1,0 -3.4,0M120.8,179.7a1.7,1.7 0 1,0 3.4,0a1.7,1.7 0 1,0 -3.4,0M140.4,181.8a1.7,1.7 0 1,0 3.4,0a1.7,1.7 0 1,0 -3.4,0M158.5,181.3a1.7,1.7 0 1,0 3.4,0a1.7,1.7 0 1,0 -3.4,0M179.6,182.1a1.7,1.7 0 1,0 3.4,0a1.7,1.7 0 1,0 -3.4,0M161.4,187.4a1.7,1.7 0 1,0 3.4,0a1.7,1.7 0 1,0 -3.4,0M153.6,189.4a1.7,1.7 0 1,0 3.4,0a1.7,1.7 0 1,0 -3.4,0M190.6,194.2a1.7,1.7 0 1,0 3.4,0a1.7,1.7 0 1,0 -3.4,0M199.5,195.1a1.7,1.7 0 1,0 3.4,0a1.7,1.7 0 1,0 -3.4,0M142.9,197.9a1.7,1.7 0 1,0 3.4,0a1.7,1.7 0 1,0 -3.4,0M195.1,196.9a1.7,1.7 0 1,0 3.4,0a1.7,1.7 0 1,0 -3.4,0M129.4,199.7a1.7,1.7 0 1,0 3.4,0a1.7,1.7 0 1,0 -3.4,0M143.1,207.7a1.7,1.7 0 1,0 3.4,0a1.7,1.7 0 1,0 -3.4,0"/>
<path id="d_C_4" d="M153.4,158.8a1.7,1.7 0 1,0 3.4,0a1.7,1.7 0 1,0 -3.4,0M139.5,164.0a1.7,1.7 0 1,0 3.4,0a1.7,1.7 0 1,0 -3.4,0M148.8,166.1a1.7,1.7 0 1,0 3.4,0a1.7,1.7 0 1,0 -3.4,0M135.2,170.7a1.7,1.7 0 1,0 3.4,0a1.7,1.7 0 1,0 -3.4,0M161.2,176.1a1.7,1.7 0 1,0 3.4,0a1.7,1.7 0 1,0 -3.4,0M171.1,176.7a1.7,1.7 0 1,0 3.4,0a1.7,1.7 0 1,0 -3.4,0M194.2,186.6a1.7,1.7 0 1,0 3.4,0a1.7,1.7 0 1,0 -3.4,0M176.4,192.2a1.7,1.7 0 1,0 3.4,0a1.7,1.7 0 1,0 -3.4,0M156.0,197.8a1.7,1.7 0 1,0 3.4,0a1.7,1.7 0 1,0 -3.4,0M174.6,199.2a1.7,1.7 0 1,0 3.4,0a1.7,1.7 0 1,0 -3.4,0M193.4,199.3a1.7,1.7 0 1,0 3.4,0a1.7,1.7 0 1,0 -3.4,0M130.1,204.6a1.7,1.7 0 1,0 3.4,0a1.7,1.7 0 1,0 -3.4,0M189.4,204.6a1.7,1.7 0 1,0 3.4,0a1.7,1.7 0 1,0 -3.4,0M151.3,209.6a1.7,1.7 0 1,0 3.4,0a1.7,1.7 0 1,0 -3.4,0M128.4,213.1a1.7,1.7 0 1,0 3.4,0a1.7,1.7 0 1,0 -3.4,0"/>
<path id="d_C_5" d="M152.2,160.7a1.7,1.7 0 1,0 3.4,0a1.7,1.7 0 1,0 -3.4,0M144.7,163.3a1.7,1.7 0 1,0 3.4,0a1.7,1.7 0 1,0 -3.4,0M145.3,168.3a1.7,1.7 0 1,0 3.4,0a1.7,1.7 0 1,0 -3.4,0M160.3,168.3a1.7,1.7 0 1,0 3.4,0a1.7,1.7 0 1,0 -3.4,0M136.4,174.0a1.7,1.7 0 1,0 3.4,0a1.7,1.7 0 1,0 -3.4,0M168.6,173.9a1.7,1.7 0 1,0 3.4,0a1.7,1.7 0 1,0 -3.4,0M178.4,179.7a1.7,1.7 0 1,0 3.4,0a1.7,1.7 0 1,0 -3.4,0M168.7,183.6a1.7,1.7 0 1,0 3.4,0a1.7,1.7 0 1,0 -3.4,0M181.0,184.7a1.7,1.7 0 1,0 3.4,0a1.7,1.7 0 1,0 -3.4,0M202.1,183.9a1.7,1.7 0 1,0 3.4,0a1.7,1.7 0 1,0 -3.4,0M129.0,187.0a1.7,1.7 0 1,0 3.4,0a1.7,1.7 0 1,0 -3.4,0M167.4,186.5a1.7,1.7 0 1,0 3.4,0a1.7,1.7 0 1,0 -3.4,0M206.8,186.7a1.7,1.7 0 1,0 3.4,0a1.7,1.7 0 1,0 -3.4,0M116.5,192.2a1.7,1.7 0 1,0 3.4,0a1.7,1.7 0 1,0 -3.4,0M134.5,192.3a1.7,1.7 0 1,0 3.4,0a1.7,1.7 0 1,0 -3.4,0M137.2,192.4a1.7,1.7 0 1,0 3.4,0a1.7,1.7 0 1,0 -3.4,0M180.8,195.2a1.7,1.7 0 1,0 3.4,0a1.7,1.7 0 1,0 -3.4,0M119.1,196.9a1.7,1.7 0 1,0 3.4,0a1.7,1.7 0 1,0 -3.4,0M167.7,197.7a1.7,1.7 0 1,0 3.4,0a1.7,1.7 0 1,0 -3.4,0M148.0,199.2a1.7,1.7 0 1,0 3.4,0a1.7,1.7 0 1,0 -3.4,0M167.0,202.0a1.7,1.7 0 1,0 3.4,0a1.7,1.7 0 1,0 -3.4,0M176.6,202.8a1.7,1.7 0 1,0 3.4,0a1.7,1.7 0 1,0 -3.4,0M185.5,202.2a1.7,1.7 0 1,0 3.4,0a1.7,1.7 0 1,0 -3.4,0M154.1,204.8a1.7,1.7 0 1,0 3.4,0a1.7,1.7 0 1,0 -3.4,0M136.4,210.2a1.7,1.7 0 1,0 3.4,0a1.7,1.7 0 1,0 -3.4,0M147.7,210.5a1.7,1.7 0 1,0 3.4,0a1.7,1.7 0 1,0 -3.4,0M178.0,210.6a1.7,1.7 0 1,0 3.4,0a1.7,1.7 0 1,0 -3.4,0"/>
<path id="d_C_6" d="M137.3,171.7a1.7,1.7 0 1,0 3.4,0a1.7,1.7 0 1,0 -3.4,0M142.6,173.8a1.7,1.7 0 1,0 3.4,0a1.7,1.7 0 1,0 -3.4,0M144.4,173.7a1.7,1.7 0 1,0 3.4,0a1.7,1.7 0 1,0 -3.4,0M147.7,174.4a1.7,1.7 0 1,0 3.4,0a1.7,1.7 0 1,0 -3.4,0M151.2,179.2a1.7,1.7 0 1,0 3.4,0a1.7,1.7 0 1,0 -3.4,0M181.0,178.9a1.7,1.7 0 1,0 3.4,0a1.7,1.7 0 1,0 -3.4,0M155.6,181.6a1.7,1.7 0 1,0 3.4,0a1.7,1.7 0 1,0 -3.4,0M164.8,182.2a1.7,1.7 0 1,0 3.4,0a1.7,1.7 0 1,0 -3.4,0M182.1,181.0a1.7,1.7 0 1,0 3.4,0a1.7,1.7 0 1,0 -3.4,0M196.4,183.8a1.7,1.7 0 1,0 3.4,0a1.7,1.7 0 1,0 -3.4,0M170.4,186.8a1.7,1.7 0 1,0 3.4,0a1.7,1.7 0 1,0 -3.4,0M178.5,188.8a1.7,1.7 0 1,0 3.4,0a1.7,1.7 0 1,0 -3.4,0M195.8,189.8a1.7,1.7 0 1,0 3.4,0a1.7,1.7 0 1,0 -3.4,0M140.7,192.3a1.7,1.7 0 1,0 3.4,0a1.7,1.7 0 1,0 -3.4,0M171.6,194.5a1.7,1.7 0 1,0 3.4,0a1.7,1.7 0 1,0 -3.4,0M137.9,196.8a1.7,1.7 0 1,0 3.4,0a1.7,1.7 0 1,0 -3.4,0M152.9,197.4a1.7,1.7 0 1,0 3.4,0a1.7,1.7 0 1,0 -3.4,0M175.9,196.9a1.7,1.7 0 1,0 3.4,0a1.7,1.7 0 1,0 -3.4,0M162.6,199.3a1.7,1.7 0 1,0 3.4,0a1.7,1.7 0 1,0 -3.4,0M120.2,203.0a1.7,1.7 0 1,0 3.4,0a1.7,1.7 0 1,0 -3.4,0M133.3,204.6a1.7,1.7 0 1,0 3.4,0a1.7,1.7 0 1,0 -3.4,0M121.9,207.7a1.7,1.7 0 1,0 3.4,0a1.7,1.7 0 1,0 -3.4,0M155.9,207.6a1.7,1.7 0 1,0 3.4,0a1.7,1.7 0 1,0 -3.4,0"/>
<path id="d_C_7" d="M142.6,158.1a1.7,1.7 0 1,0 3.4,0a1.7,1.7 0 1,0 -3.4,0M143.3,161.1a1.7,1.7 0 1,0 3.4,0a1.7,1.7 0 1,0 -3.4,0M152.8,165.5a1.7,1.7 0 1,0 3.4,0a1.7,1.7 0 1,0 -3.4,0M140.4,175.9a1.7,1.7 0 1,0 3.4,0a1.7,1.7 0 1,0 -3.4,0M168.4,179.4a1.7,1.7 0 1,0 3.4,0a1.7,1.7 0 1,0 -3.4,0M119.6,181.2a1.7,1.7 0 1,0 3.4,0a1.7,1.7 0 1,0 -3.4,0M198.0,181.7a1.7,1.7 0 1,0 3.4,0a1.7,1.7 0 1,0 -3.4,0M118.3,188.9a1.7,1.7 0 1,0 3.4,0a1.7,1.7 0 1,0 -3.4,0M121.2,189.8a1.7,1.7 0 1,0 3.4,0a1.7,1.7 0 1,0 -3.4,0M172.4,188.8a1.7,1.7 0 1,0 3.4,0a1.7,1.7 0 1,0 -3.4,0M157.9,191.6a1.7,1.7 0 1,0 3.4,0a1.7,1.7 0 1,0 -3.4,0M142.2,195.2a1.7,1.7 0 1,0 3.4,0a1.7,1.7 0 1,0 -3.4,0M169.4,200.1a1.7,1.7 0 1,0 3.4,0a1.7,1.7 0 1,0 -3.4,0M158.5,201.9a1.7,1.7 0 1,0 3.4,0a1.7,1.7 0 1,0 -3.4,0M152.3,207.7a1.7,1.7 0 1,0 3.4,0a1.7,1.7 0 1,0 -3.4,0M118.1,209.8a1.7,1.7 0 1,0 3.4,0a1.7,1.7 0 1,0 -3.4,0M169.6,209.5a1.7,1.7 0 1,0 3.4,0a1.7,1.7 0 1,0 -3.4,0M155.5,212.2a1.7,1.7 0 1,0 3.4,0a1.7,1.7 0 1,0 -3.4,0M138.8,215.4a1.7,1.7 0 1,0 3.4,0a1.7,1.7 0 1,0 -3.4,0"/>
<path id="d_C_8" d="M148.4,158.0a1.7,1.7 0 1,0 3.4,0a1.7,1.7 0 1,0 -3.4,0M137.0,165.8a1.7,1.7 0 1,0 3.4,0a1.7,1.7 0 1,0 -3.4,0M143.6,170.6a1.7,1.7 0 1,0 3.4,0a1.7,1.7 0 1,0 -3.4,0M161.6,171.0a1.7,1.7 0 1,0 3.4,0a1.7,1.7 0 1,0 -3.4,0M167.2,171.5a1.7,1.7 0 1,0 3.4,0a1.7,1.7 0 1,0 -3.4,0M162.7,174.4a1.7,1.7 0 1,0 3.4,0a1.7,1.7 0 1,0 -3.4,0M187.0,178.8a1.7,1.7 0 1,0 3.4,0a1.7,1.7 0 1,0 -3.4,0M146.6,181.9a1.7,1.7 0 1,0 3.4,0a1.7,1.7 0 1,0 -3.4,0M200.5,182.2a1.7,1.7 0 1,0 3.4,0a1.7,1.7 0 1,0 -3.4,0M203.4,181.3a1.7,1.7 0 1,0 3.4,0a1.7,1.7 0 1,0 -3.4,0M175.0,184.0a1.7,1.7 0 1,0 3.4,0a1.7,1.7 0 1,0 -3.4,0M152.8,187.1a1.7,1.7 0 1,0 3.4,0a1.7,1.7 0 1,0 -3.4,0M200.2,187.0a1.7,1.7 0 1,0 3.4,0a1.7,1.7 0 1,0 -3.4,0M202.8,186.5a1.7,1.7 0 1,0 3.4,0a1.7,1.7 0 1,0 -3.4,0M126.8,189.9a1.7,1.7 0 1,0 3.4,0a1.7,1.7 0 1,0 -3.4,0M180.8,188.7a1.7,1.7 0 1,0 3.4,0a1.7,1.7 0 1,0 -3.4,0M202.5,188.8a1.7,1.7 0 1,0 3.4,0a1.7,1.7 0 1,0 -3.4,0M179.8,192.5a1.7,1.7 0 1,0 3.4,0a1.7,1.7 0 1,0 -3.4,0M197.7,192.5a1.7,1.7 0 1,0 3.4,0a1.7,1.7 0 1,0 -3.4,0M142.2,199.9a1.7,1.7 0 1,0 3.4,0a1.7,1.7 0 1,0 -3.4,0M126.0,202.8a1.7,1.7 0 1,0 3.4,0a1.7,1.7 0 1,0 -3.4,0M117.0,207.9a1.7,1.7 0 1,0 3.4,0a1.7,1.7 0 1,0 -3.4,0M132.9,209.5a1.7,1.7 0 1,0 3.4,0a1.7,1.7 0 1,0 -3.4,0M145.0,210.4a1.7,1.7 0 1,0 3.4,0a1.7,1.7 0 1,0 -3.4,0M172.5,209.7a1.7,1.7 0 1,0 3.4,0a1.7,1.7 0 1,0 -3.4,0M181.3,210.6a1.7,1.7 0 1,0 3.4,0a1.7,1.7 0 1,0 -3.4,0M146.3,212.6a1.7,1.7 0 1,0 3.4,0a1.7,1.7 0 1,0 -3.4,0M149.9,213.0a1.7,1.7 0 1,0 3.4,0a1.7,1.7 0 1,0 -3.4,0M161.0,212.9a1.7,1.7 0 1,0 3.4,0a1.7,1.7 0 1,0 -3.4,0M136.2,215.5a1.7,1.7 0 1,0 3.4,0a1.7,1.7 0 1,0 -3.4,0M142.6,215.4a1.7,1.7 0 1,0 3.4,0a1.7,1.7 0 1,0 -3.4,0"/>
<path id="d_C_9" d="M165.4,173.8a1.7,1.7 0 1,0 3.4,0a1.7,1.7 0 1,0 -3.4,0M135.2,176.4a1.7,1.7 0 1,0 3.4,0a1.7,1.7 0 1,0 -3.4,0M185.5,176.7a1.7,1.7 0 1,0 3.4,0a1.7,1.7 0 1,0 -3.4,0M190.3,179.6a1.7,1.7 0 1,0 3.4,0a1.7,1.7 0 1,0 -3.4,0M170.5,182.3a1.7,1.7 0 1,0 3.4,0a1.7,1.7 0 1,0 -3.4,0M184.8,181.7a1.7,1.7 0 1,0 3.4,0a1.7,1.7 0 1,0 -3.4,0M194.5,182.0a1.7,1.7 0 1,0 3.4,0a1.7,1.7 0 1,0 -3.4,0M177.7,183.8a1.7,1.7 0 1,0 3.4,0a1.7,1.7 0 1,0 -3.4,0M122.7,187.1a1.7,1.7 0 1,0 3.4,0a1.7,1.7 0 1,0 -3.4,0M133.7,188.8a1.7,1.7 0 1,0 3.4,0a1.7,1.7 0 1,0 -3.4,0M200.2,191.7a1.7,1.7 0 1,0 3.4,0a1.7,1.7 0 1,0 -3.4,0M115.4,194.0a1.7,1.7 0 1,0 3.4,0a1.7,1.7 0 1,0 -3.4,0M187.3,194.3a1.7,1.7 0 1,0 3.4,0a1.7,1.7 0 1,0 -3.4,0M196.0,194.7a1.7,1.7 0 1,0 3.4,0a1.7,1.7 0 1,0 -3.4,0M132.0,197.5a1.7,1.7 0 1,0 3.4,0a1.7,1.7 0 1,0 -3.4,0M147.2,197.4a1.7,1.7 0 1,0 3.4,0a1.7,1.7 0 1,0 -3.4,0M116.3,202.7a1.7,1.7 0 1,0 3.4,0a1.7,1.7 0 1,0 -3.4,0M118.0,204.5a1.7,1.7 0 1,0 3.4,0a1.7,1.7 0 1,0 -3.4,0M157.1,204.8a1.7,1.7 0 1,0 3.4,0a1.7,1.7 0 1,0 -3.4,0M163.5,205.4a1.7,1.7 0 1,0 3.4,0a1.7,1.7 0 1,0 -3.4,0M181.2,204.3a1.7,1.7 0 1,0 3.4,0a1.7,1.7 0 1,0 -3.4,0M119.7,208.2a1.7,1.7 0 1,0 3.4,0a1.7,1.7 0 1,0 -3.4,0M183.3,210.1a1.7,1.7 0 1,0 3.4,0a1.7,1.7 0 1,0 -3.4,0M125.8,213.4a1.7,1.7 0 1,0 3.4,0a1.7,1.7 0 1,0 -3.4,0"/>
<path id="d_C_10" d="M140.8,160.9a1.7,1.7 0 1,0 3.4,0a1.7,1.7 0 1,0 -3.4,0M186.4,168.8a1.7,1.7 0 1,0 3.4,0a1.7,1.7 0 1,0 -3.4,0M146.0,170.5a1.7,1.7 0 1,0 3.4,0a1.7,1.7 0 1,0 -3.4,0M173.0,181.3a1.7,1.7 0 1,0 3.4,0a1.7,1.7 0 1,0 -3.4,0M121.3,184.7a1.7,1.7 0 1,0 3.4,0a1.7,1.7 0 1,0 -3.4,0M147.4,184.5a1.7,1.7 0 1,0 3.4,0a1.7,1.7 0 1,0 -3.4,0M124.9,186.4a1.7,1.7 0 1,0 3.4,0a1.7,1.7 0 1,0 -3.4,0M140.7,187.3a1.7,1.7 0 1,0 3.4,0a1.7,1.7 0 1,0 -3.4,0M198.4,189.7a1.7,1.7 0 1,0 3.4,0a1.7,1.7 0 1,0 -3.4,0M131.5,191.8a1.7,1.7 0 1,0 3.4,0a1.7,1.7 0 1,0 -3.4,0M191.0,191.3a1.7,1.7 0 1,0 3.4,0a1.7,1.7 0 1,0 -3.4,0M193.7,194.9a1.7,1.7 0 1,0 3.4,0a1.7,1.7 0 1,0 -3.4,0M129.0,197.0a1.7,1.7 0 1,0 3.4,0a1.7,1.7 0 1,0 -3.4,0M134.5,197.5a1.7,1.7 0 1,0 3.4,0a1.7,1.7 0 1,0 -3.4,0M148.9,196.5a1.7,1.7 0 1,0 3.4,0a1.7,1.7 0 1,0 -3.4,0M190.4,199.3a1.7,1.7 0 1,0 3.4,0a1.7,1.7 0 1,0 -3.4,0M194.0,202.1a1.7,1.7 0 1,0 3.4,0a1.7,1.7 0 1,0 -3.4,0M186.8,204.6a1.7,1.7 0 1,0 3.4,0a1.7,1.7 0 1,0 -3.4,0M175.2,210.8a1.7,1.7 0 1,0 3.4,0a1.7,1.7 0 1,0 -3.4,0M119.9,212.2a1.7,1.7 0 1,0 3.4,0a1.7,1.7 0 1,0 -3.4,0M152.4,213.4a1.7,1.7 0 1,0 3.4,0a1.7,1.7 0 1,0 -3.4,0"/>
<path id="d_C_11" d="M147.0,160.6a1.7,1.7 0 1,0 3.4,0a1.7,1.7 0 1,0 -3.4,0M150.9,163.4a1.7,1.7 0 1,0 3.4,0a1.7,1.7 0 1,0 -3.4,0M161.1,165.9a1.7,1.7 0 1,0 3.4,0a1.7,1.7 0 1,0 -3.4,0M150.9,169.2a1.7,1.7 0 1,0 3.4,0a1.7,1.7 0 1,0 -3.4,0M163.9,170.9a1.7,1.7 0 1,0 3.4,0a1.7,1.7 0 1,0 -3.4,0M189.8,173.1a1.7,1.7 0 1,0 3.4,0a1.7,1.7 0 1,0 -3.4,0M194.0,176.9a1.7,1.7 0 1,0 3.4,0a1.7,1.7 0 1,0 -3.4,0M157.0,178.6a1.7,1.7 0 1,0 3.4,0a1.7,1.7 0 1,0 -3.4,0M184.6,179.3a1.7,1.7 0 1,0 3.4,0a1.7,1.7 0 1,0 -3.4,0M117.8,183.6a1.7,1.7 0 1,0 3.4,0a1.7,1.7 0 1,0 -3.4,0M130.6,184.7a1.7,1.7 0 1,0 3.4,0a1.7,1.7 0 1,0 -3.4,0M150.3,184.3a1.7,1.7 0 1,0 3.4,0a1.7,1.7 0 1,0 -3.4,0M199.1,183.6a1.7,1.7 0 1,0 3.4,0a1.7,1.7 0 1,0 -3.4,0M134.3,186.3a1.7,1.7 0 1,0 3.4,0a1.7,1.7 0 1,0 -3.4,0M158.3,186.5a1.7,1.7 0 1,0 3.4,0a1.7,1.7 0 1,0 -3.4,0M197.9,186.1a1.7,1.7 0 1,0 3.4,0a1.7,1.7 0 1,0 -3.4,0M159.4,189.1a1.7,1.7 0 1,0 3.4,0a1.7,1.7 0 1,0 -3.4,0M186.8,188.9a1.7,1.7 0 1,0 3.4,0a1.7,1.7 0 1,0 -3.4,0M128.8,192.5a1.7,1.7 0 1,0 3.4,0a1.7,1.7 0 1,0 -3.4,0M174.0,191.3a1.7,1.7 0 1,0 3.4,0a1.7,1.7 0 1,0 -3.4,0M162.9,194.7a1.7,1.7 0 1,0 3.4,0a1.7,1.7 0 1,0 -3.4,0M161.3,197.0a1.7,1.7 0 1,0 3.4,0a1.7,1.7 0 1,0 -3.4,0M191.1,196.8a1.7,1.7 0 1,0 3.4,0a1.7,1.7 0 1,0 -3.4,0M187.4,200.0a1.7,1.7 0 1,0 3.4,0a1.7,1.7 0 1,0 -3.4,0M143.9,202.0a1.7,1.7 0 1,0 3.4,0a1.7,1.7 0 1,0 -3.4,0M150.2,202.8a1.7,1.7 0 1,0 3.4,0a1.7,1.7 0 1,0 -3.4,0M164.3,202.0a1.7,1.7 0 1,0 3.4,0a1.7,1.7 0 1,0 -3.4,0M178.6,204.7a1.7,1.7 0 1,0 3.4,0a1.7,1.7 0 1,0 -3.4,0M188.1,207.8a1.7,1.7 0 1,0 3.4,0a1.7,1.7 0 1,0 -3.4,0M121.7,210.0a1.7,1.7 0 1,0 3.4,0a1.7,1.7 0 1,0 -3.4,0"/>
<path id="d_C_12" d="M133.1,169.0a1.7,1.7 0 1,0 3.4,0a1.7,1.7 0 1,0 -3.4,0M135.9,169.1a1.7,1.7 0 1,0 3.4,0a1.7,1.7 0 1,0 -3.4,0M142.3,168.2a1.7,1.7 0 1,0 3.4,0a1.7,1.7 0 1,0 -3.4,0M189.0,170.9a1.7,1.7 0 1,0 3.4,0a1.7,1.7 0 1,0 -3.4,0M133.3,173.5a1.7,1.7 0 1,0 3.4,0a1.7,1.7 0 1,0 -3.4,0M155.8,176.1a1.7,1.7 0 1,0 3.4,0a1.7,1.7 0 1,0 -3.4,0M173.8,176.1a1.7,1.7 0 1,0 3.4,0a1.7,1.7 0 1,0 -3.4,0M179.6,176.7a1.7,1.7 0 1,0 3.4,0a1.7,1.7 0 1,0 -3.4,0M165.9,179.4a1.7,1.7 0 1,0 3.4,0a1.7,1.7 0 1,0 -3.4,0M199.5,179.3a1.7,1.7 0 1,0 3.4,0a1.7,1.7 0 1,0 -3.4,0M124.6,184.9a1.7,1.7 0 1,0 3.4,0a1.7,1.7 0 1,0 -3.4,0M160.4,183.8a1.7,1.7 0 1,0 3.4,0a1.7,1.7 0 1,0 -3.4,0M166.3,184.1a1.7,1.7 0 1,0 3.4,0a1.7,1.7 0 1,0 -3.4,0M116.9,186.1a1.7,1.7 0 1,0 3.4,0a1.7,1.7 0 1,0 -3.4,0M119.5,186.5a1.7,1.7 0 1,0 3.4,0a1.7,1.7 0 1,0 -3.4,0M131.0,186.8a1.7,1.7 0 1,0 3.4,0a1.7,1.7 0 1,0 -3.4,0M137.4,186.8a1.7,1.7 0 1,0 3.4,0a1.7,1.7 0 1,0 -3.4,0M156.7,189.3a1.7,1.7 0 1,0 3.4,0a1.7,1.7 0 1,0 -3.4,0M175.3,189.2a1.7,1.7 0 1,0 3.4,0a1.7,1.7 0 1,0 -3.4,0M119.6,191.9a1.7,1.7 0 1,0 3.4,0a1.7,1.7 0 1,0 -3.4,0M144.6,194.1a1.7,1.7 0 1,0 3.4,0a1.7,1.7 0 1,0 -3.4,0M165.4,194.6a1.7,1.7 0 1,0 3.4,0a1.7,1.7 0 1,0 -3.4,0M175.6,195.3a1.7,1.7 0 1,0 3.4,0a1.7,1.7 0 1,0 -3.4,0M183.7,194.7a1.7,1.7 0 1,0 3.4,0a1.7,1.7 0 1,0 -3.4,0M138.6,205.4a1.7,1.7 0 1,0 3.4,0a1.7,1.7 0 1,0 -3.4,0M175.0,205.6a1.7,1.7 0 1,0 3.4,0a1.7,1.7 0 1,0 -3.4,0M184.3,205.1a1.7,1.7 0 1,0 3.4,0a1.7,1.7 0 1,0 -3.4,0M127.9,208.1a1.7,1.7 0 1,0 3.4,0a1.7,1.7 0 1,0 -3.4,0M170.8,207.4a1.7,1.7 0 1,0 3.4,0a1.7,1.7 0 1,0 -3.4,0M139.3,209.5a1.7,1.7 0 1,0 3.4,0a1.7,1.7 0 1,0 -3.4,0M148.3,214.8a1.7,1.7 0 1,0 3.4,0a1.7,1.7 0 1,0 -3.4,0"/>
<path id="d_C_13" d="M146.0,155.9a1.7,1.7 0 1,0 3.4,0a1.7,1.7 0 1,0 -3.4,0M142.8,166.0a1.7,1.7 0 1,0 3.4,0a1.7,1.7 0 1,0 -3.4,0M158.5,166.4a1.7,1.7 0 1,0 3.4,0a1.7,1.7 0 1,0 -3.4,0M150.0,170.7a1.7,1.7 0 1,0 3.4,0a1.7,1.7 0 1,0 -3.4,0M171.9,174.3a1.7,1.7 0 1,0 3.4,0a1.7,1.7 0 1,0 -3.4,0M137.1,176.8a1.7,1.7 0 1,0 3.4,0a1.7,1.7 0 1,0 -3.4,0M145.4,178.6a1.7,1.7 0 1,0 3.4,0a1.7,1.7 0 1,0 -3.4,0M163.6,178.5a1.7,1.7 0 1,0 3.4,0a1.7,1.7 0 1,0 -3.4,0M172.6,179.1a1.7,1.7 0 1,0 3.4,0a1.7,1.7 0 1,0 -3.4,0M193.0,178.9a1.7,1.7 0 1,0 3.4,0a1.7,1.7 0 1,0 -3.4,0M135.6,184.7a1.7,1.7 0 1,0 3.4,0a1.7,1.7 0 1,0 -3.4,0M138.7,183.6a1.7,1.7 0 1,0 3.4,0a1.7,1.7 0 1,0 -3.4,0M142.3,189.1a1.7,1.7 0 1,0 3.4,0a1.7,1.7 0 1,0 -3.4,0M145.0,189.9a1.7,1.7 0 1,0 3.4,0a1.7,1.7 0 1,0 -3.4,0M168.1,192.2a1.7,1.7 0 1,0 3.4,0a1.7,1.7 0 1,0 -3.4,0M182.1,192.0a1.7,1.7 0 1,0 3.4,0a1.7,1.7 0 1,0 -3.4,0M186.1,191.5a1.7,1.7 0 1,0 3.4,0a1.7,1.7 0 1,0 -3.4,0M139.0,194.0a1.7,1.7 0 1,0 3.4,0a1.7,1.7 0 1,0 -3.4,0M178.3,194.3a1.7,1.7 0 1,0 3.4,0a1.7,1.7 0 1,0 -3.4,0M120.8,200.0a1.7,1.7 0 1,0 3.4,0a1.7,1.7 0 1,0 -3.4,0M151.4,199.8a1.7,1.7 0 1,0 3.4,0a1.7,1.7 0 1,0 -3.4,0M195.3,199.7a1.7,1.7 0 1,0 3.4,0a1.7,1.7 0 1,0 -3.4,0M122.6,202.2a1.7,1.7 0 1,0 3.4,0a1.7,1.7 0 1,0 -3.4,0M138.1,201.9a1.7,1.7 0 1,0 3.4,0a1.7,1.7 0 1,0 -3.4,0M121.0,205.0a1.7,1.7 0 1,0 3.4,0a1.7,1.7 0 1,0 -3.4,0M134.5,212.7a1.7,1.7 0 1,0 3.4,0a1.7,1.7 0 1,0 -3.4,0"/>
<path id="d_C_14" d="M149.5,161.3a1.7,1.7 0 1,0 3.4,0a1.7,1.7 0 1,0 -3.4,0M142.3,163.9a1.7,1.7 0 1,0 3.4,0a1.7,1.7 0 1,0 -3.4,0M148.1,163.3a1.7,1.7 0 1,0 3.4,0a1.7,1.7 0 1,0 -3.4,0M152.3,170.9a1.7,1.7 0 1,0 3.4,0a1.7,1.7 0 1,0 -3.4,0M149.2,177.0a1.7,1.7 0 1,0 3.4,0a1.7,1.7 0 1,0 -3.4,0M176.8,177.0a1.7,1.7 0 1,0 3.4,0a1.7,1.7 0 1,0 -3.4,0M159.8,178.7a1.7,1.7 0 1,0 3.4,0a1.7,1.7 0 1,0 -3.4,0M128.3,181.8a1.7,1.7 0 1,0 3.4,0a1.7,1.7 0 1,0 -3.4,0M153.4,184.1a1.7,1.7 0 1,0 3.4,0a1.7,1.7 0 1,0 -3.4,0M163.5,184.0a1.7,1.7 0 1,0 3.4,0a1.7,1.7 0 1,0 -3.4,0M146.3,187.0a1.7,1.7 0 1,0 3.4,0a1.7,1.7 0 1,0 -3.4,0M188.0,186.5a1.7,1.7 0 1,0 3.4,0a1.7,1.7 0 1,0 -3.4,0M164.7,191.8a1.7,1.7 0 1,0 3.4,0a1.7,1.7 0 1,0 -3.4,0M204.1,191.3a1.7,1.7 0 1,0 3.4,0a1.7,1.7 0 1,0 -3.4,0M118.5,194.3a1.7,1.7 0 1,0 3.4,0a1.7,1.7 0 1,0 -3.4,0M121.6,194.8a1.7,1.7 0 1,0 3.4,0a1.7,1.7 0 1,0 -3.4,0M154.5,195.1a1.7,1.7 0 1,0 3.4,0a1.7,1.7 0 1,0 -3.4,0M117.9,200.0a1.7,1.7 0 1,0 3.4,0a1.7,1.7 0 1,0 -3.4,0M165.9,199.4a1.7,1.7 0 1,0 3.4,0a1.7,1.7 0 1,0 -3.4,0M147.2,202.8a1.7,1.7 0 1,0 3.4,0a1.7,1.7 0 1,0 -3.4,0M153.1,202.0a1.7,1.7 0 1,0 3.4,0a1.7,1.7 0 1,0 -3.4,0M162.1,202.8a1.7,1.7 0 1,0 3.4,0a1.7,1.7 0 1,0 -3.4,0M182.2,202.9a1.7,1.7 0 1,0 3.4,0a1.7,1.7 0 1,0 -3.4,0M160.7,204.6a1.7,1.7 0 1,0 3.4,0a1.7,1.7 0 1,0 -3.4,0M123.5,210.6a1.7,1.7 0 1,0 3.4,0a1.7,1.7 0 1,0 -3.4,0"/>
<path id="d_C_15" d="M139.5,158.7a1.7,1.7 0 1,0 3.4,0a1.7,1.7 0 1,0 -3.4,0M156.5,163.8a1.7,1.7 0 1,0 3.4,0a1.7,1.7 0 1,0 -3.4,0M155.6,165.4a1.7,1.7 0 1,0 3.4,0a1.7,1.7 0 1,0 -3.4,0M150.9,173.6a1.7,1.7 0 1,0 3.4,0a1.7,1.7 0 1,0 -3.4,0M146.0,176.0a1.7,1.7 0 1,0 3.4,0a1.7,1.7 0 1,0 -3.4,0M127.2,178.5a1.7,1.7 0 1,0 3.4,0a1.7,1.7 0 1,0 -3.4,0M148.3,178.5a1.7,1.7 0 1,0 3.4,0a1.7,1.7 0 1,0 -3.4,0M154.2,178.5a1.7,1.7 0 1,0 3.4,0a1.7,1.7 0 1,0 -3.4,0M116.6,181.8a1.7,1.7 0 1,0 3.4,0a1.7,1.7 0 1,0 -3.4,0M149.1,181.0a1.7,1.7 0 1,0 3.4,0a1.7,1.7 0 1,0 -3.4,0M176.9,181.5a1.7,1.7 0 1,0 3.4,0a1.7,1.7 0 1,0 -3.4,0M149.4,186.7a1.7,1.7 0 1,0 3.4,0a1.7,1.7 0 1,0 -3.4,0M139.1,189.3a1.7,1.7 0 1,0 3.4,0a1.7,1.7 0 1,0 -3.4,0M124.4,194.2a1.7,1.7 0 1,0 3.4,0a1.7,1.7 0 1,0 -3.4,0M151.0,194.2a1.7,1.7 0 1,0 3.4,0a1.7,1.7 0 1,0 -3.4,0M169.1,194.2a1.7,1.7 0 1,0 3.4,0a1.7,1.7 0 1,0 -3.4,0M125.9,196.9a1.7,1.7 0 1,0 3.4,0a1.7,1.7 0 1,0 -3.4,0M141.1,196.9a1.7,1.7 0 1,0 3.4,0a1.7,1.7 0 1,0 -3.4,0M170.4,197.7a1.7,1.7 0 1,0 3.4,0a1.7,1.7 0 1,0 -3.4,0M173.9,196.8a1.7,1.7 0 1,0 3.4,0a1.7,1.7 0 1,0 -3.4,0M179.6,197.3a1.7,1.7 0 1,0 3.4,0a1.7,1.7 0 1,0 -3.4,0M147.9,205.5a1.7,1.7 0 1,0 3.4,0a1.7,1.7 0 1,0 -3.4,0M147.2,207.2a1.7,1.7 0 1,0 3.4,0a1.7,1.7 0 1,0 -3.4,0M163.8,207.2a1.7,1.7 0 1,0 3.4,0a1.7,1.7 0 1,0 -3.4,0M179.5,207.6a1.7,1.7 0 1,0 3.4,0a1.7,1.7 0 1,0 -3.4,0M130.1,210.1a1.7,1.7 0 1,0 3.4,0a1.7,1.7 0 1,0 -3.4,0M142.0,209.9a1.7,1.7 0 1,0 3.4,0a1.7,1.7 0 1,0 -3.4,0M156.7,210.7a1.7,1.7 0 1,0 3.4,0a1.7,1.7 0 1,0 -3.4,0M159.4,210.3a1.7,1.7 0 1,0 3.4,0a1.7,1.7 0 1,0 -3.4,0"/>
<path id="d_C_16" d="M136.3,163.6a1.7,1.7 0 1,0 3.4,0a1.7,1.7 0 1,0 -3.4,0M165.1,176.8a1.7,1.7 0 1,0 3.4,0a1.7,1.7 0 1,0 -3.4,0M161.0,181.9a1.7,1.7 0 1,0 3.4,0a1.7,1.7 0 1,0 -3.4,0M172.2,183.6a1.7,1.7 0 1,0 3.4,0a1.7,1.7 0 1,0 -3.4,0M190.3,184.4a1.7,1.7 0 1,0 3.4,0a1.7,1.7 0 1,0 -3.4,0M143.2,187.5a1.7,1.7 0 1,0 3.4,0a1.7,1.7 0 1,0 -3.4,0M136.6,188.8a1.7,1.7 0 1,0 3.4,0a1.7,1.7 0 1,0 -3.4,0M184.6,189.5a1.7,1.7 0 1,0 3.4,0a1.7,1.7 0 1,0 -3.4,0M190.5,189.2a1.7,1.7 0 1,0 3.4,0a1.7,1.7 0 1,0 -3.4,0M205.3,189.7a1.7,1.7 0 1,0 3.4,0a1.7,1.7 0 1,0 -3.4,0M182.0,197.4a1.7,1.7 0 1,0 3.4,0a1.7,1.7 0 1,0 -3.4,0M188.0,197.5a1.7,1.7 0 1,0 3.4,0a1.7,1.7 0 1,0 -3.4,0M127.0,199.2a1.7,1.7 0 1,0 3.4,0a1.7,1.7 0 1,0 -3.4,0M157.1,199.4a1.7,1.7 0 1,0 3.4,0a1.7,1.7 0 1,0 -3.4,0M177.5,199.9a1.7,1.7 0 1,0 3.4,0a1.7,1.7 0 1,0 -3.4,0M155.1,202.0a1.7,1.7 0 1,0 3.4,0a1.7,1.7 0 1,0 -3.4,0M179.1,202.5a1.7,1.7 0 1,0 3.4,0a1.7,1.7 0 1,0 -3.4,0M173.9,207.6a1.7,1.7 0 1,0 3.4,0a1.7,1.7 0 1,0 -3.4,0M185.2,207.2a1.7,1.7 0 1,0 3.4,0a1.7,1.7 0 1,0 -3.4,0M127.0,210.1a1.7,1.7 0 1,0 3.4,0a1.7,1.7 0 1,0 -3.4,0M140.2,212.3a1.7,1.7 0 1,0 3.4,0a1.7,1.7 0 1,0 -3.4,0M144.0,213.2a1.7,1.7 0 1,0 3.4,0a1.7,1.7 0 1,0 -3.4,0M158.3,212.6a1.7,1.7 0 1,0 3.4,0a1.7,1.7 0 1,0 -3.4,0"/>
<path id="d_C_17" d="M144.4,157.6a1.7,1.7 0 1,0 3.4,0a1.7,1.7 0 1,0 -3.4,0M162.4,169.1a1.7,1.7 0 1,0 3.4,0a1.7,1.7 0 1,0 -3.4,0M185.9,171.8a1.7,1.7 0 1,0 3.4,0a1.7,1.7 0 1,0 -3.4,0M186.9,173.2a1.7,1.7 0 1,0 3.4,0a1.7,1.7 0 1,0 -3.4,0M152.9,175.7a1.7,1.7 0 1,0 3.4,0a1.7,1.7 0 1,0 -3.4,0M139.2,178.4a1.7,1.7 0 1,0 3.4,0a1.7,1.7 0 1,0 -3.4,0M142.1,184.4a1.7,1.7 0 1,0 3.4,0a1.7,1.7 0 1,0 -3.4,0M164.2,186.4a1.7,1.7 0 1,0 3.4,0a1.7,1.7 0 1,0 -3.4,0M182.8,187.3a1.7,1.7 0 1,0 3.4,0a1.7,1.7 0 1,0 -3.4,0M166.2,189.5a1.7,1.7 0 1,0 3.4,0a1.7,1.7 0 1,0 -3.4,0M168.9,188.7a1.7,1.7 0 1,0 3.4,0a1.7,1.7 0 1,0 -3.4,0M192.5,189.3a1.7,1.7 0 1,0 3.4,0a1.7,1.7 0 1,0 -3.4,0M149.7,192.5a1.7,1.7 0 1,0 3.4,0a1.7,1.7 0 1,0 -3.4,0M152.0,191.9a1.7,1.7 0 1,0 3.4,0a1.7,1.7 0 1,0 -3.4,0M161.1,191.6a1.7,1.7 0 1,0 3.4,0a1.7,1.7 0 1,0 -3.4,0M157.5,194.6a1.7,1.7 0 1,0 3.4,0a1.7,1.7 0 1,0 -3.4,0M129.1,202.0a1.7,1.7 0 1,0 3.4,0a1.7,1.7 0 1,0 -3.4,0M134.7,202.0a1.7,1.7 0 1,0 3.4,0a1.7,1.7 0 1,0 -3.4,0M159.1,207.8a1.7,1.7 0 1,0 3.4,0a1.7,1.7 0 1,0 -3.4,0M181.8,207.1a1.7,1.7 0 1,0 3.4,0a1.7,1.7 0 1,0 -3.4,0M163.5,210.5a1.7,1.7 0 1,0 3.4,0a1.7,1.7 0 1,0 -3.4,0M166.6,210.1a1.7,1.7 0 1,0 3.4,0a1.7,1.7 0 1,0 -3.4,0"/>
<path id="d_C_18" d="M157.8,170.7a1.7,1.7 0 1,0 3.4,0a1.7,1.7 0 1,0 -3.4,0M182.0,176.3a1.7,1.7 0 1,0 3.4,0a1.7,1.7 0 1,0 -3.4,0M141.4,178.5a1.7,1.7 0 1,0 3.4,0a1.7,1.7 0 1,0 -3.4,0M196.0,178.3a1.7,1.7 0 1,0 3.4,0a1.7,1.7 0 1,0 -3.4,0M131.3,181.5a1.7,1.7 0 1,0 3.4,0a1.7,1.7 0 1,0 -3.4,0M189.1,181.2a1.7,1.7 0 1,0 3.4,0a1.7,1.7 0 1,0 -3.4,0M187.1,184.4a1.7,1.7 0 1,0 3.4,0a1.7,1.7 0 1,0 -3.4,0M192.4,183.7a1.7,1.7 0 1,0 3.4,0a1.7,1.7 0 1,0 -3.4,0M204.4,183.5a1.7,1.7 0 1,0 3.4,0a1.7,1.7 0 1,0 -3.4,0M154.9,186.1a1.7,1.7 0 1,0 3.4,0a1.7,1.7 0 1,0 -3.4,0M173.0,187.1a1.7,1.7 0 1,0 3.4,0a1.7,1.7 0 1,0 -3.4,0M176.7,187.1a1.7,1.7 0 1,0 3.4,0a1.7,1.7 0 1,0 -3.4,0M179.4,186.3a1.7,1.7 0 1,0 3.4,0a1.7,1.7 0 1,0 -3.4,0M150.4,188.9a1.7,1.7 0 1,0 3.4,0a1.7,1.7 0 1,0 -3.4,0M125.5,191.8a1.7,1.7 0 1,0 3.4,0a1.7,1.7 0 1,0 -3.4,0M146.7,192.5a1.7,1.7 0 1,0 3.4,0a1.7,1.7 0 1,0 -3.4,0M155.8,192.6a1.7,1.7 0 1,0 3.4,0a1.7,1.7 0 1,0 -3.4,0M187.9,191.9a1.7,1.7 0 1,0 3.4,0a1.7,1.7 0 1,0 -3.4,0M194.4,192.2a1.7,1.7 0 1,0 3.4,0a1.7,1.7 0 1,0 -3.4,0M159.9,194.8a1.7,1.7 0 1,0 3.4,0a1.7,1.7 0 1,0 -3.4,0M201.4,194.3a1.7,1.7 0 1,0 3.4,0a1.7,1.7 0 1,0 -3.4,0M164.7,196.9a1.7,1.7 0 1,0 3.4,0a1.7,1.7 0 1,0 -3.4,0M185.2,197.0a1.7,1.7 0 1,0 3.4,0a1.7,1.7 0 1,0 -3.4,0M197.9,196.5a1.7,1.7 0 1,0 3.4,0a1.7,1.7 0 1,0 -3.4,0M132.8,200.2a1.7,1.7 0 1,0 3.4,0a1.7,1.7 0 1,0 -3.4,0M135.4,199.6a1.7,1.7 0 1,0 3.4,0a1.7,1.7 0 1,0 -3.4,0M140.8,203.0a1.7,1.7 0 1,0 3.4,0a1.7,1.7 0 1,0 -3.4,0M127.6,205.3a1.7,1.7 0 1,0 3.4,0a1.7,1.7 0 1,0 -3.4,0M145.3,204.8a1.7,1.7 0 1,0 3.4,0a1.7,1.7 0 1,0 -3.4,0M165.7,205.4a1.7,1.7 0 1,0 3.4,0a1.7,1.7 0 1,0 -3.4,0M169.3,205.4a1.7,1.7 0 1,0 3.4,0a1.7,1.7 0 1,0 -3.4,0M172.0,204.5a1.7,1.7 0 1,0 3.4,0a1.7,1.7 0 1,0 -3.4,0M135.0,207.6a1.7,1.7 0 1,0 3.4,0a1.7,1.7 0 1,0 -3.4,0M138.1,207.5a1.7,1.7 0 1,0 3.4,0a1.7,1.7 0 1,0 -3.4,0M149.8,207.2a1.7,1.7 0 1,0 3.4,0a1.7,1.7 0 1,0 -3.4,0M138.1,212.4a1.7,1.7 0 1,0 3.4,0a1.7,1.7 0 1,0 -3.4,0"/>
<path id="d_C_19" d="M154.0,162.7a1.7,1.7 0 1,0 3.4,0a1.7,1.7 0 1,0 -3.4,0M146.2,165.3a1.7,1.7 0 1,0 3.4,0a1.7,1.7 0 1,0 -3.4,0M155.8,170.6a1.7,1.7 0 1,0 3.4,0a1.7,1.7 0 1,0 -3.4,0M144.1,176.4a1.7,1.7 0 1,0 3.4,0a1.7,1.7 0 1,0 -3.4,0M129.5,178.4a1.7,1.7 0 1,0 3.4,0a1.7,1.7 0 1,0 -3.4,0M135.5,178.7a1.7,1.7 0 1,0 3.4,0a1.7,1.7 0 1,0 -3.4,0M125.4,181.7a1.7,1.7 0 1,0 3.4,0a1.7,1.7 0 1,0 -3.4,0M143.5,181.2a1.7,1.7 0 1,0 3.4,0a1.7,1.7 0 1,0 -3.4,0M157.1,183.8a1.7,1.7 0 1,0 3.4,0a1.7,1.7 0 1,0 -3.4,0M186.0,187.1a1.7,1.7 0 1,0 3.4,0a1.7,1.7 0 1,0 -3.4,0M162.3,188.8a1.7,1.7 0 1,0 3.4,0a1.7,1.7 0 1,0 -3.4,0M122.0,192.0a1.7,1.7 0 1,0 3.4,0a1.7,1.7 0 1,0 -3.4,0M129.9,194.6a1.7,1.7 0 1,0 3.4,0a1.7,1.7 0 1,0 -3.4,0M116.6,196.7a1.7,1.7 0 1,0 3.4,0a1.7,1.7 0 1,0 -3.4,0M181.4,200.1a1.7,1.7 0 1,0 3.4,0a1.7,1.7 0 1,0 -3.4,0M132.1,206.9a1.7,1.7 0 1,0 3.4,0a1.7,1.7 0 1,0 -3.4,0M167.5,207.4a1.7,1.7 0 1,0 3.4,0a1.7,1.7 0 1,0 -3.4,0M122.8,213.3a1.7,1.7 0 1,0 3.4,0a1.7,1.7 0 1,0 -3.4,0"/>
<path id="d_D_0" d=""/>
<path id="d_D_1" d="M199.6,135.4a1.7,1.7 0 1,0 3.4,0a1.7,1.7 0 1,0 -3.4,0M191.1,140.1a1.7,1.7 0 1,0 3.4,0a1.7,1.7 0 1,0 -3.4,0M198.7,142.9a1.7,1.7 0 1,0 3.4,0a1.7,1.7 0 1,0 -3.4,0"/>
<path id="d_D_2" d="M200.0,139.9a1.7,1.7 0 1,0 3.4,0a1.7,1.7 0 1,0 -3.4,0M189.7,143.1a1.7,1.7 0 1,0 3.4,0a1.7,1.7 0 1,0 -3.4,0M194.9,142.7a1.7,1.7 0 1,0 3.4,0a1.7,1.7 0 1,0 -3.4,0M194.7,153.6a1.7,1.7 0 1,0 3.4,0a1.7,1.7 0 1,0 -3.4,0"/>
<path id="d_D_3" d=""/>
<path id="d_D_4" d=""/>
<path id="d_D_5" d="M193.0,138.0a1.7,1.7 0 1,0 3.4,0a1.7,1.7 0 1,0 -3.4,0M195.3,137.2a1.7,1.7 0 1,0 3.4,0a1.7,1.7 0 1,0 -3.4,0"/>
<path id="d_D_6" d="M198.9,147.9a1.7,1.7 0 1,0 3.4,0a1.7,1.7 0 1,0 -3.4,0M191.4,150.1a1.7,1.7 0 1,0 3.4,0a1.7,1.7 0 1,0 -3.4,0"/>
<path id="d_D_7" d="M197.4,134.4a1.7,1.7 0 1,0 3.4,0a1.7,1.7 0 1,0 -3.4,0M193.6,140.0a1.7,1.7 0 1,0 3.4,0a1.7,1.7 0 1,0 -3.4,0M196.5,150.8a1.7,1.7 0 1,0 3.4,0a1.7,1.7 0 1,0 -3.4,0"/>
<path id="d_D_8" d="M190.1,131.9a1.7,1.7 0 1,0 3.4,0a1.7,1.7 0 1,0 -3.4,0M198.6,132.9a1.7,1.7 0 1,0 3.4,0a1.7,1.7 0 1,0 -3.4,0M192.6,143.2a1.7,1.7 0 1,0 3.4,0a1.7,1.7 0 1,0 -3.4,0M192.6,148.2a1.7,1.7 0 1,0 3.4,0a1.7,1.7 0 1,0 -3.4,0"/>
<path id="d_D_9" d="M192.7,131.9a1.7,1.7 0 1,0 3.4,0a1.7,1.7 0 1,0 -3.4,0"/>
<path id="d_D_10" d="M198.0,137.4a1.7,1.7 0 1,0 3.4,0a1.7,1.7 0 1,0 -3.4,0M193.9,145.6a1.7,1.7 0 1,0 3.4,0a1.7,1.7 0 1,0 -3.4,0"/>
<path id="d_D_11" d="M192.5,152.8a1.7,1.7 0 1,0 3.4,0a1.7,1.7 0 1,0 -3.4,0"/>
<path id="d_D_12" d="M190.5,145.1a1.7,1.7 0 1,0 3.4,0a1.7,1.7 0 1,0 -3.4,0M193.3,150.1a1.7,1.7 0 1,0 3.4,0a1.7,1.7 0 1,0 -3.4,0"/>
<path id="d_D_13" d="M194.3,129.4a1.7,1.7 0 1,0 3.4,0a1.7,1.7 0 1,0 -3.4,0M195.9,131.8a1.7,1.7 0 1,0 3.4,0a1.7,1.7 0 1,0 -3.4,0M189.1,147.3a1.7,1.7 0 1,0 3.4,0a1.7,1.7 0 1,0 -3.4,0"/>
<path id="d_D_14" d=""/>
<path id="d_D_15" d="M189.5,137.6a1.7,1.7 0 1,0 3.4,0a1.7,1.7 0 1,0 -3.4,0"/>
<path id="d_D_16" d=""/>
<path id="d_D_17" d="M193.8,134.9a1.7,1.7 0 1,0 3.4,0a1.7,1.7 0 1,0 -3.4,0M196.9,140.2a1.7,1.7 0 1,0 3.4,0a1.7,1.7 0 1,0 -3.4,0"/>
<path id="d_D_18" d="M201.1,143.0a1.7,1.7 0 1,0 3.4,0a1.7,1.7 0 1,0 -3.4,0M194.9,147.7a1.7,1.7 0 1,0 3.4,0a1.7,1.7 0 1,0 -3.4,0"/>
<path id="d_D_19" d="M190.3,134.8a1.7,1.7 0 1,0 3.4,0a1.7,1.7 0 1,0 -3.4,0M196.9,145.0a1.7,1.7 0 1,0 3.4,0a1.7,1.7 0 1,0 -3.4,0"/>
<path id="d_Dl_0" d=""/>
<path id="d_Dl_1" d="M184.7,158.7a1.7,1.7 0 1,0 3.4,0a1.7,1.7 0 1,0 -3.4,0"/>
<path id="d_Dl_2" d="M190.6,154.2a1.7,1.7 0 1,0 3.4,0a1.7,1.7 0 1,0 -3.4,0"/>
<path id="d_Dl_3" d=""/>
<path id="d_Dl_4" d=""/>
<path id="d_Dl_5" d=""/>
<path id="d_Dl_6" d=""/>
<path id="d_Dl_7" d="M189.4,156.1a1.7,1.7 0 1,0 3.4,0a1.7,1.7 0 1,0 -3.4,0"/>
<path id="d_Dl_8" d=""/>
<path id="d_Dl_9" d=""/>
<path id="d_Dl_10" d="M188.5,154.3a1.7,1.7 0 1,0 3.4,0a1.7,1.7 0 1,0 -3.4,0M187.0,160.9a1.7,1.7 0 1,0 3.4,0a1.7,1.7 0 1,0 -3.4,0"/>
<path id="d_Dl_11" d="M186.9,151.0a1.7,1.7 0 1,0 3.4,0a1.7,1.7 0 1,0 -3.4,0M184.7,153.5a1.7,1.7 0 1,0 3.4,0a1.7,1.7 0 1,0 -3.4,0"/>
<path id="d_Dl_12" d="M188.8,159.1a1.7,1.7 0 1,0 3.4,0a1.7,1.7 0 1,0 -3.4,0"/>
<path id="d_Dl_13" d=""/>
<path id="d_Dl_14" d="M186.1,157.1a1.7,1.7 0 1,0 3.4,0a1.7,1.7 0 1,0 -3.4,0"/>
<path id="d_Dl_15" d=""/>
<path id="d_Dl_16" d=""/>
<path id="d_Dl_17" d="M189.7,151.1a1.7,1.7 0 1,0 3.4,0a1.7,1.7 0 1,0 -3.4,0"/>
<path id="d_Dl_18" d=""/>
<path id="d_Dl_19" d="M189.3,162.2a1.7,1.7 0 1,0 3.4,0a1.7,1.7 0 1,0 -3.4,0"/>
<path id="d_E_0" d="M53.2,294.4a1.7,1.7 0 1,0 3.4,0a1.7,1.7 0 1,0 -3.4,0M59.3,299.1a1.7,1.7 0 1,0 3.4,0a1.7,1.7 0 1,0 -3.4,0M46.5,312.3a1.7,1.7 0 1,0 3.4,0a1.7,1.7 0 1,0 -3.4,0M42.6,321.8a1.7,1.7 0 1,0 3.4,0a1.7,1.7 0 1,0 -3.4,0"/>
<path id="d_E_1" d="M45.3,296.3a1.7,1.7 0 1,0 3.4,0a1.7,1.7 0 1,0 -3.4,0M41.6,319.6a1.7,1.7 0 1,0 3.4,0a1.7,1.7 0 1,0 -3.4,0"/>
<path id="d_E_2" d="M41.3,299.1a1.7,1.7 0 1,0 3.4,0a1.7,1.7 0 1,0 -3.4,0M34.2,306.0a1.7,1.7 0 1,0 3.4,0a1.7,1.7 0 1,0 -3.4,0M51.5,306.8a1.7,1.7 0 1,0 3.4,0a1.7,1.7 0 1,0 -3.4,0M26.8,309.0a1.7,1.7 0 1,0 3.4,0a1.7,1.7 0 1,0 -3.4,0M28.6,311.5a1.7,1.7 0 1,0 3.4,0a1.7,1.7 0 1,0 -3.4,0M37.3,311.2a1.7,1.7 0 1,0 3.4,0a1.7,1.7 0 1,0 -3.4,0"/>
<path id="d_E_3" d="M37.1,296.2a1.7,1.7 0 1,0 3.4,0a1.7,1.7 0 1,0 -3.4,0M49.4,301.8a1.7,1.7 0 1,0 3.4,0a1.7,1.7 0 1,0 -3.4,0M48.0,303.8a1.7,1.7 0 1,0 3.4,0a1.7,1.7 0 1,0 -3.4,0"/>
<path id="d_E_4" d="M34.5,301.2a1.7,1.7 0 1,0 3.4,0a1.7,1.7 0 1,0 -3.4,0M60.0,304.7a1.7,1.7 0 1,0 3.4,0a1.7,1.7 0 1,0 -3.4,0M55.4,307.3a1.7,1.7 0 1,0 3.4,0a1.7,1.7 0 1,0 -3.4,0M42.9,312.4a1.7,1.7 0 1,0 3.4,0a1.7,1.7 0 1,0 -3.4,0M34.9,314.9a1.7,1.7 0 1,0 3.4,0a1.7,1.7 0 1,0 -3.4,0M45.0,314.5a1.7,1.7 0 1,0 3.4,0a1.7,1.7 0 1,0 -3.4,0"/>
<path id="d_E_5" d="M61.3,300.8a1.7,1.7 0 1,0 3.4,0a1.7,1.7 0 1,0 -3.4,0M41.8,304.3a1.7,1.7 0 1,0 3.4,0a1.7,1.7 0 1,0 -3.4,0M43.5,307.0a1.7,1.7 0 1,0 3.4,0a1.7,1.7 0 1,0 -3.4,0M45.0,309.0a1.7,1.7 0 1,0 3.4,0a1.7,1.7 0 1,0 -3.4,0M57.2,309.0a1.7,1.7 0 1,0 3.4,0a1.7,1.7 0 1,0 -3.4,0M33.2,314.9a1.7,1.7 0 1,0 3.4,0a1.7,1.7 0 1,0 -3.4,0"/>
<path id="d_E_6" d="M50.5,293.8a1.7,1.7 0 1,0 3.4,0a1.7,1.7 0 1,0 -3.4,0M45.6,301.4a1.7,1.7 0 1,0 3.4,0a1.7,1.7 0 1,0 -3.4,0M35.8,303.9a1.7,1.7 0 1,0 3.4,0a1.7,1.7 0 1,0 -3.4,0M56.3,304.6a1.7,1.7 0 1,0 3.4,0a1.7,1.7 0 1,0 -3.4,0M45.6,307.4a1.7,1.7 0 1,0 3.4,0a1.7,1.7 0 1,0 -3.4,0M42.1,309.0a1.7,1.7 0 1,0 3.4,0a1.7,1.7 0 1,0 -3.4,0M44.5,320.0a1.7,1.7 0 1,0 3.4,0a1.7,1.7 0 1,0 -3.4,0"/>
<path id="d_E_7" d="M38.0,298.7a1.7,1.7 0 1,0 3.4,0a1.7,1.7 0 1,0 -3.4,0M40.1,301.2a1.7,1.7 0 1,0 3.4,0a1.7,1.7 0 1,0 -3.4,0M35.5,309.0a1.7,1.7 0 1,0 3.4,0a1.7,1.7 0 1,0 -3.4,0"/>
<path id="d_E_8" d="M57.6,296.9a1.7,1.7 0 1,0 3.4,0a1.7,1.7 0 1,0 -3.4,0M37.1,307.2a1.7,1.7 0 1,0 3.4,0a1.7,1.7 0 1,0 -3.4,0M32.9,309.8a1.7,1.7 0 1,0 3.4,0a1.7,1.7 0 1,0 -3.4,0"/>
<path id="d_E_9" d="M55.8,293.4a1.7,1.7 0 1,0 3.4,0a1.7,1.7 0 1,0 -3.4,0M32.3,303.7a1.7,1.7 0 1,0 3.4,0a1.7,1.7 0 1,0 -3.4,0M28.9,309.9a1.7,1.7 0 1,0 3.4,0a1.7,1.7 0 1,0 -3.4,0M51.9,312.1a1.7,1.7 0 1,0 3.4,0a1.7,1.7 0 1,0 -3.4,0"/>
<path id="d_E_10" d="M45.1,298.9a1.7,1.7 0 1,0 3.4,0a1.7,1.7 0 1,0 -3.4,0M36.9,301.2a1.7,1.7 0 1,0 3.4,0a1.7,1.7 0 1,0 -3.4,0M44.2,304.3a1.7,1.7 0 1,0 3.4,0a1.7,1.7 0 1,0 -3.4,0M63.1,303.5a1.7,1.7 0 1,0 3.4,0a1.7,1.7 0 1,0 -3.4,0M40.4,306.2a1.7,1.7 0 1,0 3.4,0a1.7,1.7 0 1,0 -3.4,0M57.8,307.3a1.7,1.7 0 1,0 3.4,0a1.7,1.7 0 1,0 -3.4,0M53.5,309.1a1.7,1.7 0 1,0 3.4,0a1.7,1.7 0 1,0 -3.4,0M32.3,319.0a1.7,1.7 0 1,0 3.4,0a1.7,1.7 0 1,0 -3.4,0"/>
<path id="d_E_11" d="M50.3,288.8a1.7,1.7 0 1,0 3.4,0a1.7,1.7 0 1,0 -3.4,0M35.3,298.7a1.7,1.7 0 1,0 3.4,0a1.7,1.7 0 1,0 -3.4,0M39.0,309.1a1.7,1.7 0 1,0 3.4,0a1.7,1.7 0 1,0 -3.4,0M36.0,320.1a1.7,1.7 0 1,0 3.4,0a1.7,1.7 0 1,0 -3.4,0"/>
<path id="d_E_12" d="M57.4,301.1a1.7,1.7 0 1,0 3.4,0a1.7,1.7 0 1,0 -3.4,0M30.9,306.7a1.7,1.7 0 1,0 3.4,0a1.7,1.7 0 1,0 -3.4,0M61.7,306.1a1.7,1.7 0 1,0 3.4,0a1.7,1.7 0 1,0 -3.4,0M33.5,311.6a1.7,1.7 0 1,0 3.4,0a1.7,1.7 0 1,0 -3.4,0M38.9,320.1a1.7,1.7 0 1,0 3.4,0a1.7,1.7 0 1,0 -3.4,0"/>
<path id="d_E_13" d="M48.5,296.1a1.7,1.7 0 1,0 3.4,0a1.7,1.7 0 1,0 -3.4,0M53.8,298.4a1.7,1.7 0 1,0 3.4,0a1.7,1.7 0 1,0 -3.4,0M52.2,301.1a1.7,1.7 0 1,0 3.4,0a1.7,1.7 0 1,0 -3.4,0M30.6,312.5a1.7,1.7 0 1,0 3.4,0a1.7,1.7 0 1,0 -3.4,0M45.4,316.7a1.7,1.7 0 1,0 3.4,0a1.7,1.7 0 1,0 -3.4,0"/>
<path id="d_E_14" d="M46.0,291.4a1.7,1.7 0 1,0 3.4,0a1.7,1.7 0 1,0 -3.4,0M41.9,314.1a1.7,1.7 0 1,0 3.4,0a1.7,1.7 0 1,0 -3.4,0M37.2,317.5a1.7,1.7 0 1,0 3.4,0a1.7,1.7 0 1,0 -3.4,0"/>
<path id="d_E_15" d="M40.5,290.5a1.7,1.7 0 1,0 3.4,0a1.7,1.7 0 1,0 -3.4,0M47.3,294.2a1.7,1.7 0 1,0 3.4,0a1.7,1.7 0 1,0 -3.4,0M43.0,301.1a1.7,1.7 0 1,0 3.4,0a1.7,1.7 0 1,0 -3.4,0M52.9,304.7a1.7,1.7 0 1,0 3.4,0a1.7,1.7 0 1,0 -3.4,0M39.7,311.8a1.7,1.7 0 1,0 3.4,0a1.7,1.7 0 1,0 -3.4,0M29.7,315.0a1.7,1.7 0 1,0 3.4,0a1.7,1.7 0 1,0 -3.4,0M31.1,317.3a1.7,1.7 0 1,0 3.4,0a1.7,1.7 0 1,0 -3.4,0M33.9,317.6a1.7,1.7 0 1,0 3.4,0a1.7,1.7 0 1,0 -3.4,0"/>
<path id="d_E_16" d="M51.7,290.6a1.7,1.7 0 1,0 3.4,0a1.7,1.7 0 1,0 -3.4,0M37.9,293.9a1.7,1.7 0 1,0 3.4,0a1.7,1.7 0 1,0 -3.4,0M39.5,296.5a1.7,1.7 0 1,0 3.4,0a1.7,1.7 0 1,0 -3.4,0M51.1,303.8a1.7,1.7 0 1,0 3.4,0a1.7,1.7 0 1,0 -3.4,0M38.4,315.1a1.7,1.7 0 1,0 3.4,0a1.7,1.7 0 1,0 -3.4,0M40.4,321.7a1.7,1.7 0 1,0 3.4,0a1.7,1.7 0 1,0 -3.4,0"/>
<path id="d_E_17" d="M55.6,296.0a1.7,1.7 0 1,0 3.4,0a1.7,1.7 0 1,0 -3.4,0M48.0,298.3a1.7,1.7 0 1,0 3.4,0a1.7,1.7 0 1,0 -3.4,0M48.1,309.0a1.7,1.7 0 1,0 3.4,0a1.7,1.7 0 1,0 -3.4,0M48.3,312.2a1.7,1.7 0 1,0 3.4,0a1.7,1.7 0 1,0 -3.4,0M48.1,314.0a1.7,1.7 0 1,0 3.4,0a1.7,1.7 0 1,0 -3.4,0M40.6,316.4a1.7,1.7 0 1,0 3.4,0a1.7,1.7 0 1,0 -3.4,0"/>
<path id="d_E_18" d="M44.4,294.2a1.7,1.7 0 1,0 3.4,0a1.7,1.7 0 1,0 -3.4,0M42.7,296.0a1.7,1.7 0 1,0 3.4,0a1.7,1.7 0 1,0 -3.4,0M50.2,299.4a1.7,1.7 0 1,0 3.4,0a1.7,1.7 0 1,0 -3.4,0M54.7,301.5a1.7,1.7 0 1,0 3.4,0a1.7,1.7 0 1,0 -3.4,0M38.4,304.8a1.7,1.7 0 1,0 3.4,0a1.7,1.7 0 1,0 -3.4,0M49.9,309.6a1.7,1.7 0 1,0 3.4,0a1.7,1.7 0 1,0 -3.4,0M43.4,316.5a1.7,1.7 0 1,0 3.4,0a1.7,1.7 0 1,0 -3.4,0"/>
<path id="d_E_19" d="M42.3,291.7a1.7,1.7 0 1,0 3.4,0a1.7,1.7 0 1,0 -3.4,0M48.9,291.5a1.7,1.7 0 1,0 3.4,0a1.7,1.7 0 1,0 -3.4,0M41.5,293.9a1.7,1.7 0 1,0 3.4,0a1.7,1.7 0 1,0 -3.4,0M51.7,296.5a1.7,1.7 0 1,0 3.4,0a1.7,1.7 0 1,0 -3.4,0M56.9,299.0a1.7,1.7 0 1,0 3.4,0a1.7,1.7 0 1,0 -3.4,0M49.3,307.3a1.7,1.7 0 1,0 3.4,0a1.7,1.7 0 1,0 -3.4,0"/>
<path id="d_E2_0" d=""/>
<path id="d_E2_1" d=""/>
<path id="d_E2_2" d=""/>
<path id="d_E2_3" d="M59.6,306.5a1.7,1.7 0 1,0 3.4,0a1.7,1.7 0 1,0 -3.4,0"/>
<path id="d_E2_4" d="M58.0,303.6a1.7,1.7 0 1,0 3.4,0a1.7,1.7 0 1,0 -3.4,0"/>
<path id="d_E2_5" d="M61.2,303.6a1.7,1.7 0 1,0 3.4,0a1.7,1.7 0 1,0 -3.4,0"/>
<path id="d_E2_6" d=""/>
<path id="d_E2_7" d="M62.1,301.4a1.7,1.7 0 1,0 3.4,0a1.7,1.7 0 1,0 -3.4,0"/>
<path id="d_E2_8" d="M60.6,308.9a1.7,1.7 0 1,0 3.4,0a1.7,1.7 0 1,0 -3.4,0"/>
<path id="d_E2_9" d="M56.4,306.4a1.7,1.7 0 1,0 3.4,0a1.7,1.7 0 1,0 -3.4,0"/>
<path id="d_E2_10" d=""/>
<path id="d_E2_11" d="M60.2,301.2a1.7,1.7 0 1,0 3.4,0a1.7,1.7 0 1,0 -3.4,0"/>
<path id="d_E2_12" d=""/>
<path id="d_E2_13" d="M58.7,298.5a1.7,1.7 0 1,0 3.4,0a1.7,1.7 0 1,0 -3.4,0"/>
<path id="d_E2_14" d=""/>
<path id="d_E2_15" d=""/>
<path id="d_E2_16" d=""/>
<path id="d_E2_17" d=""/>
<path id="d_E2_18" d="M55.7,309.4a1.7,1.7 0 1,0 3.4,0a1.7,1.7 0 1,0 -3.4,0"/>
<path id="d_E2_19" d="M62.4,306.4a1.7,1.7 0 1,0 3.4,0a1.7,1.7 0 1,0 -3.4,0M58.3,309.0a1.7,1.7 0 1,0 3.4,0a1.7,1.7 0 1,0 -3.4,0"/>
<path id="d_F1_0" d="M142.5,311.6a1.7,1.7 0 1,0 3.4,0a1.7,1.7 0 1,0 -3.4,0"/>
<path id="d_F1_1" d="M141.4,296.3a1.7,1.7 0 1,0 3.4,0a1.7,1.7 0 1,0 -3.4,0M146.7,309.6a1.7,1.7 0 1,0 3.4,0a1.7,1.7 0 1,0 -3.4,0M146.6,314.1a1.7,1.7 0 1,0 3.4,0a1.7,1.7 0 1,0 -3.4,0"/>
<path id="d_F1_2" d="M143.8,294.0a1.7,1.7 0 1,0 3.4,0a1.7,1.7 0 1,0 -3.4,0M137.3,303.6a1.7,1.7 0 1,0 3.4,0a1.7,1.7 0 1,0 -3.4,0"/>
<path id="d_F1_3" d="M142.1,290.9a1.7,1.7 0 1,0 3.4,0a1.7,1.7 0 1,0 -3.4,0"/>
<path id="d_F1_4" d="M146.5,293.3a1.7,1.7 0 1,0 3.4,0a1.7,1.7 0 1,0 -3.4,0M146.8,299.2a1.7,1.7 0 1,0 3.4,0a1.7,1.7 0 1,0 -3.4,0"/>
<path id="d_F1_5" d="M147.7,306.5a1.7,1.7 0 1,0 3.4,0a1.7,1.7 0 1,0 -3.4,0M143.8,314.0a1.7,1.7 0 1,0 3.4,0a1.7,1.7 0 1,0 -3.4,0"/>
<path id="d_F1_6" d="M139.8,293.3a1.7,1.7 0 1,0 3.4,0a1.7,1.7 0 1,0 -3.4,0M147.6,302.2a1.7,1.7 0 1,0 3.4,0a1.7,1.7 0 1,0 -3.4,0M138.3,316.7a1.7,1.7 0 1,0 3.4,0a1.7,1.7 0 1,0 -3.4,0"/>
<path id="d_F1_7" d=""/>
<path id="d_F1_8" d=""/>
<path id="d_F1_9" d="M142.7,298.9a1.7,1.7 0 1,0 3.4,0a1.7,1.7 0 1,0 -3.4,0M148.7,298.8a1.7,1.7 0 1,0 3.4,0a1.7,1.7 0 1,0 -3.4,0M139.9,315.3a1.7,1.7 0 1,0 3.4,0a1.7,1.7 0 1,0 -3.4,0"/>
<path id="d_F1_10" d="M137.5,298.9a1.7,1.7 0 1,0 3.4,0a1.7,1.7 0 1,0 -3.4,0M140.3,298.8a1.7,1.7 0 1,0 3.4,0a1.7,1.7 0 1,0 -3.4,0M136.2,301.5a1.7,1.7 0 1,0 3.4,0a1.7,1.7 0 1,0 -3.4,0M138.9,301.5a1.7,1.7 0 1,0 3.4,0a1.7,1.7 0 1,0 -3.4,0M140.7,303.6a1.7,1.7 0 1,0 3.4,0a1.7,1.7 0 1,0 -3.4,0M146.9,304.4a1.7,1.7 0 1,0 3.4,0a1.7,1.7 0 1,0 -3.4,0M144.6,312.4a1.7,1.7 0 1,0 3.4,0a1.7,1.7 0 1,0 -3.4,0"/>
<path id="d_F1_11" d="M137.6,293.6a1.7,1.7 0 1,0 3.4,0a1.7,1.7 0 1,0 -3.4,0M144.6,296.8a1.7,1.7 0 1,0 3.4,0a1.7,1.7 0 1,0 -3.4,0M138.2,312.5a1.7,1.7 0 1,0 3.4,0a1.7,1.7 0 1,0 -3.4,0"/>
<path id="d_F1_12" d=""/>
<path id="d_F1_13" d="M137.5,289.2a1.7,1.7 0 1,0 3.4,0a1.7,1.7 0 1,0 -3.4,0M144.3,301.4a1.7,1.7 0 1,0 3.4,0a1.7,1.7 0 1,0 -3.4,0M149.7,303.7a1.7,1.7 0 1,0 3.4,0a1.7,1.7 0 1,0 -3.4,0"/>
<path id="d_F1_14" d="M145.4,291.7a1.7,1.7 0 1,0 3.4,0a1.7,1.7 0 1,0 -3.4,0M136.2,297.1a1.7,1.7 0 1,0 3.4,0a1.7,1.7 0 1,0 -3.4,0M141.9,302.1a1.7,1.7 0 1,0 3.4,0a1.7,1.7 0 1,0 -3.4,0"/>
<path id="d_F1_15" d="M136.2,291.2a1.7,1.7 0 1,0 3.4,0a1.7,1.7 0 1,0 -3.4,0"/>
<path id="d_F1_16" d="M148.3,296.0a1.7,1.7 0 1,0 3.4,0a1.7,1.7 0 1,0 -3.4,0M152.3,298.8a1.7,1.7 0 1,0 3.4,0a1.7,1.7 0 1,0 -3.4,0"/>
<path id="d_F1_17" d="M134.2,299.6a1.7,1.7 0 1,0 3.4,0a1.7,1.7 0 1,0 -3.4,0M143.1,304.9a1.7,1.7 0 1,0 3.4,0a1.7,1.7 0 1,0 -3.4,0M145.2,307.6a1.7,1.7 0 1,0 3.4,0a1.7,1.7 0 1,0 -3.4,0M139.6,309.6a1.7,1.7 0 1,0 3.4,0a1.7,1.7 0 1,0 -3.4,0"/>
<path id="d_F1_18" d="M134.8,293.5a1.7,1.7 0 1,0 3.4,0a1.7,1.7 0 1,0 -3.4,0M139.2,296.4a1.7,1.7 0 1,0 3.4,0a1.7,1.7 0 1,0 -3.4,0M142.4,317.6a1.7,1.7 0 1,0 3.4,0a1.7,1.7 0 1,0 -3.4,0"/>
<path id="d_F1_19" d="M139.0,291.5a1.7,1.7 0 1,0 3.4,0a1.7,1.7 0 1,0 -3.4,0M141.9,306.8a1.7,1.7 0 1,0 3.4,0a1.7,1.7 0 1,0 -3.4,0M143.6,308.9a1.7,1.7 0 1,0 3.4,0a1.7,1.7 0 1,0 -3.4,0"/>
<path id="d_F2_0" d="M128.1,325.7a1.7,1.7 0 1,0 3.4,0a1.7,1.7 0 1,0 -3.4,0"/>
<path id="d_F2_1" d="M138.8,319.5a1.7,1.7 0 1,0 3.4,0a1.7,1.7 0 1,0 -3.4,0"/>
<path id="d_F2_2" d="M134.3,321.5a1.7,1.7 0 1,0 3.4,0a1.7,1.7 0 1,0 -3.4,0"/>
<path id="d_F2_3" d="M131.7,324.0a1.7,1.7 0 1,0 3.4,0a1.7,1.7 0 1,0 -3.4,0"/>
<path id="d_F2_4" d="M126.4,327.6a1.7,1.7 0 1,0 3.4,0a1.7,1.7 0 1,0 -3.4,0M123.4,329.3a1.7,1.7 0 1,0 3.4,0a1.7,1.7 0 1,0 -3.4,0"/>
<path id="d_F2_5" d=""/>
<path id="d_F2_6" d=""/>
<path id="d_F2_7" d=""/>
<path id="d_F2_8" d=""/>
<path id="d_F2_9" d=""/>
<path id="d_F2_10" d=""/>
<path id="d_F2_11" d=""/>
<path id="d_F2_12" d="M129.8,324.7a1.7,1.7 0 1,0 3.4,0a1.7,1.7 0 1,0 -3.4,0M121.4,330.6a1.7,1.7 0 1,0 3.4,0a1.7,1.7 0 1,0 -3.4,0"/>
<path id="d_F2_13" d="M133.8,321.9a1.7,1.7 0 1,0 3.4,0a1.7,1.7 0 1,0 -3.4,0"/>
<path id="d_F2_14" d=""/>
<path id="d_F2_15" d=""/>
<path id="d_F2_16" d="M136.2,321.0a1.7,1.7 0 1,0 3.4,0a1.7,1.7 0 1,0 -3.4,0"/>
<path id="d_F2_17" d=""/>
<path id="d_F2_18" d=""/>
<path id="d_F2_19" d=""/>
<path id="d_F3_0" d=""/>
<path id="d_F3_1" d=""/>
<path id="d_F3_2" d=""/>
<path id="d_F3_3" d="M127.8,305.7a1.7,1.7 0 1,0 3.4,0a1.7,1.7 0 1,0 -3.4,0"/>
<path id="d_F3_4" d=""/>
<path id="d_F3_5" d=""/>
<path id="d_F3_6" d="M125.3,311.5a1.7,1.7 0 1,0 3.4,0a1.7,1.7 0 1,0 -3.4,0M124.0,315.9a1.7,1.7 0 1,0 3.4,0a1.7,1.7 0 1,0 -3.4,0"/>
<path id="d_F3_7" d=""/>
<path id="d_F3_8" d=""/>
<path id="d_F3_9" d="M127.1,308.1a1.7,1.7 0 1,0 3.4,0a1.7,1.7 0 1,0 -3.4,0"/>
<path id="d_F3_10" d=""/>
<path id="d_F3_11" d="M126.1,310.3a1.7,1.7 0 1,0 3.4,0a1.7,1.7 0 1,0 -3.4,0"/>
<path id="d_F3_12" d="M124.7,314.8a1.7,1.7 0 1,0 3.4,0a1.7,1.7 0 1,0 -3.4,0"/>
<path id="d_F3_13" d=""/>
<path id="d_F3_14" d=""/>
<path id="d_F3_15" d=""/>
<path id="d_F3_16" d=""/>
<path id="d_F3_17" d=""/>
<path id="d_F3_18" d=""/>
<path id="d_F3_19" d=""/>
<path id="d_F4_0" d=""/>
<path id="d_F4_1" d=""/>
<path id="d_F4_2" d=""/>
<path id="d_F4_3" d=""/>
<path id="d_F4_4" d="M110.5,309.6a1.7,1.7 0 1,0 3.4,0a1.7,1.7 0 1,0 -3.4,0"/>
<path id="d_F4_5" d="M108.6,307.6a1.7,1.7 0 1,0 3.4,0a1.7,1.7 0 1,0 -3.4,0"/>
<path id="d_F4_6" d=""/>
<path id="d_F4_7" d="M110.3,305.4a1.7,1.7 0 1,0 3.4,0a1.7,1.7 0 1,0 -3.4,0"/>
<path id="d_F4_8" d="M113.1,304.9a1.7,1.7 0 1,0 3.4,0a1.7,1.7 0 1,0 -3.4,0M109.6,312.1a1.7,1.7 0 1,0 3.4,0a1.7,1.7 0 1,0 -3.4,0"/>
<path id="d_F4_9" d=""/>
<path id="d_F4_10" d=""/>
<path id="d_F4_11" d=""/>
<path id="d_F4_12" d=""/>
<path id="d_F4_13" d="M115.4,312.7a1.7,1.7 0 1,0 3.4,0a1.7,1.7 0 1,0 -3.4,0"/>
<path id="d_F4_14" d="M111.7,312.2a1.7,1.7 0 1,0 3.4,0a1.7,1.7 0 1,0 -3.4,0"/>
<path id="d_F4_15" d=""/>
<path id="d_F4_16" d=""/>
<path id="d_F4_17" d=""/>
<path id="d_F4_18" d="M111.7,307.7a1.7,1.7 0 1,0 3.4,0a1.7,1.7 0 1,0 -3.4,0M113.6,309.4a1.7,1.7 0 1,0 3.4,0a1.7,1.7 0 1,0 -3.4,0"/>
<path id="d_F4_19" d="M115.2,307.6a1.7,1.7 0 1,0 3.4,0a1.7,1.7 0 1,0 -3.4,0"/>
<path id="d_F5_0" d=""/>
<path id="d_F5_1" d="M110.7,332.7a1.7,1.7 0 1,0 3.4,0a1.7,1.7 0 1,0 -3.4,0"/>
<path id="d_F5_2" d="M100.8,335.5a1.7,1.7 0 1,0 3.4,0a1.7,1.7 0 1,0 -3.4,0"/>
<path id="d_F5_3" d="M99.6,328.1a1.7,1.7 0 1,0 3.4,0a1.7,1.7 0 1,0 -3.4,0M108.1,333.5a1.7,1.7 0 1,0 3.4,0a1.7,1.7 0 1,0 -3.4,0"/>
<path id="d_F5_4" d="M104.5,328.8a1.7,1.7 0 1,0 3.4,0a1.7,1.7 0 1,0 -3.4,0M91.9,336.1a1.7,1.7 0 1,0 3.4,0a1.7,1.7 0 1,0 -3.4,0"/>
<path id="d_F5_5" d=""/>
<path id="d_F5_6" d=""/>
<path id="d_F5_7" d="M108.0,328.5a1.7,1.7 0 1,0 3.4,0a1.7,1.7 0 1,0 -3.4,0M112.2,335.6a1.7,1.7 0 1,0 3.4,0a1.7,1.7 0 1,0 -3.4,0M93.4,343.3a1.7,1.7 0 1,0 3.4,0a1.7,1.7 0 1,0 -3.4,0M96.4,343.4a1.7,1.7 0 1,0 3.4,0a1.7,1.7 0 1,0 -3.4,0"/>
<path id="d_F5_8" d="M103.4,335.8a1.7,1.7 0 1,0 3.4,0a1.7,1.7 0 1,0 -3.4,0M106.8,335.7a1.7,1.7 0 1,0 3.4,0a1.7,1.7 0 1,0 -3.4,0"/>
<path id="d_F5_9" d="M97.9,330.5a1.7,1.7 0 1,0 3.4,0a1.7,1.7 0 1,0 -3.4,0"/>
<path id="d_F5_10" d="M94.5,346.0a1.7,1.7 0 1,0 3.4,0a1.7,1.7 0 1,0 -3.4,0"/>
<path id="d_F5_11" d="M101.7,328.0a1.7,1.7 0 1,0 3.4,0a1.7,1.7 0 1,0 -3.4,0M93.5,333.9a1.7,1.7 0 1,0 3.4,0a1.7,1.7 0 1,0 -3.4,0M104.6,339.0a1.7,1.7 0 1,0 3.4,0a1.7,1.7 0 1,0 -3.4,0M100.1,341.5a1.7,1.7 0 1,0 3.4,0a1.7,1.7 0 1,0 -3.4,0"/>
<path id="d_F5_12" d="M109.9,331.3a1.7,1.7 0 1,0 3.4,0a1.7,1.7 0 1,0 -3.4,0M113.0,331.1a1.7,1.7 0 1,0 3.4,0a1.7,1.7 0 1,0 -3.4,0M94.7,340.7a1.7,1.7 0 1,0 3.4,0a1.7,1.7 0 1,0 -3.4,0"/>
<path id="d_F5_13" d="M100.4,330.6a1.7,1.7 0 1,0 3.4,0a1.7,1.7 0 1,0 -3.4,0M103.2,330.9a1.7,1.7 0 1,0 3.4,0a1.7,1.7 0 1,0 -3.4,0M101.7,333.9a1.7,1.7 0 1,0 3.4,0a1.7,1.7 0 1,0 -3.4,0M94.0,335.5a1.7,1.7 0 1,0 3.4,0a1.7,1.7 0 1,0 -3.4,0"/>
<path id="d_F5_14" d="M105.4,333.8a1.7,1.7 0 1,0 3.4,0a1.7,1.7 0 1,0 -3.4,0M92.2,340.8a1.7,1.7 0 1,0 3.4,0a1.7,1.7 0 1,0 -3.4,0M103.5,340.6a1.7,1.7 0 1,0 3.4,0a1.7,1.7 0 1,0 -3.4,0"/>
<path id="d_F5_15" d="M102.5,338.4a1.7,1.7 0 1,0 3.4,0a1.7,1.7 0 1,0 -3.4,0"/>
<path id="d_F5_16" d=""/>
<path id="d_F5_17" d="M111.4,327.6a1.7,1.7 0 1,0 3.4,0a1.7,1.7 0 1,0 -3.4,0M97.6,335.5a1.7,1.7 0 1,0 3.4,0a1.7,1.7 0 1,0 -3.4,0M97.2,341.5a1.7,1.7 0 1,0 3.4,0a1.7,1.7 0 1,0 -3.4,0M99.6,343.3a1.7,1.7 0 1,0 3.4,0a1.7,1.7 0 1,0 -3.4,0M98.1,346.2a1.7,1.7 0 1,0 3.4,0a1.7,1.7 0 1,0 -3.4,0"/>
<path id="d_F5_18" d="M96.1,332.9a1.7,1.7 0 1,0 3.4,0a1.7,1.7 0 1,0 -3.4,0M98.7,333.8a1.7,1.7 0 1,0 3.4,0a1.7,1.7 0 1,0 -3.4,0M114.0,332.8a1.7,1.7 0 1,0 3.4,0a1.7,1.7 0 1,0 -3.4,0M95.9,339.3a1.7,1.7 0 1,0 3.4,0a1.7,1.7 0 1,0 -3.4,0M108.4,338.2a1.7,1.7 0 1,0 3.4,0a1.7,1.7 0 1,0 -3.4,0"/>
<path id="d_F5_19" d="M105.9,330.2a1.7,1.7 0 1,0 3.4,0a1.7,1.7 0 1,0 -3.4,0M109.0,335.3a1.7,1.7 0 1,0 3.4,0a1.7,1.7 0 1,0 -3.4,0M93.3,338.0a1.7,1.7 0 1,0 3.4,0a1.7,1.7 0 1,0 -3.4,0M98.5,339.1a1.7,1.7 0 1,0 3.4,0a1.7,1.7 0 1,0 -3.4,0"/>
<path id="d_F6_0" d="M132.1,338.1a1.7,1.7 0 1,0 3.4,0a1.7,1.7 0 1,0 -3.4,0M125.5,348.4a1.7,1.7 0 1,0 3.4,0a1.7,1.7 0 1,0 -3.4,0M132.3,348.2a1.7,1.7 0 1,0 3.4,0a1.7,1.7 0 1,0 -3.4,0"/>
<path id="d_F6_1" d="M118.3,334.9a1.7,1.7 0 1,0 3.4,0a1.7,1.7 0 1,0 -3.4,0M118.4,340.4a1.7,1.7 0 1,0 3.4,0a1.7,1.7 0 1,0 -3.4,0M132.5,350.0a1.7,1.7 0 1,0 3.4,0a1.7,1.7 0 1,0 -3.4,0M130.7,355.4a1.7,1.7 0 1,0 3.4,0a1.7,1.7 0 1,0 -3.4,0"/>
<path id="d_F6_2" d="M127.0,351.2a1.7,1.7 0 1,0 3.4,0a1.7,1.7 0 1,0 -3.4,0"/>
<path id="d_F6_3" d=""/>
<path id="d_F6_4" d="M117.8,329.6a1.7,1.7 0 1,0 3.4,0a1.7,1.7 0 1,0 -3.4,0M122.4,338.0a1.7,1.7 0 1,0 3.4,0a1.7,1.7 0 1,0 -3.4,0M121.0,339.9a1.7,1.7 0 1,0 3.4,0a1.7,1.7 0 1,0 -3.4,0M119.1,343.4a1.7,1.7 0 1,0 3.4,0a1.7,1.7 0 1,0 -3.4,0M121.2,350.1a1.7,1.7 0 1,0 3.4,0a1.7,1.7 0 1,0 -3.4,0M129.9,350.3a1.7,1.7 0 1,0 3.4,0a1.7,1.7 0 1,0 -3.4,0M131.8,353.8a1.7,1.7 0 1,0 3.4,0a1.7,1.7 0 1,0 -3.4,0"/>
<path id="d_F6_5" d=""/>
<path id="d_F6_6" d="M126.2,337.4a1.7,1.7 0 1,0 3.4,0a1.7,1.7 0 1,0 -3.4,0M122.9,342.4a1.7,1.7 0 1,0 3.4,0a1.7,1.7 0 1,0 -3.4,0"/>
<path id="d_F6_7" d="M133.0,340.2a1.7,1.7 0 1,0 3.4,0a1.7,1.7 0 1,0 -3.4,0M125.6,343.0a1.7,1.7 0 1,0 3.4,0a1.7,1.7 0 1,0 -3.4,0"/>
<path id="d_F6_8" d="M123.1,348.2a1.7,1.7 0 1,0 3.4,0a1.7,1.7 0 1,0 -3.4,0M122.5,352.7a1.7,1.7 0 1,0 3.4,0a1.7,1.7 0 1,0 -3.4,0"/>
<path id="d_F6_9" d="M124.7,345.7a1.7,1.7 0 1,0 3.4,0a1.7,1.7 0 1,0 -3.4,0M128.5,347.6a1.7,1.7 0 1,0 3.4,0a1.7,1.7 0 1,0 -3.4,0M128.4,353.3a1.7,1.7 0 1,0 3.4,0a1.7,1.7 0 1,0 -3.4,0"/>
<path id="d_F6_10" d="M119.4,347.5a1.7,1.7 0 1,0 3.4,0a1.7,1.7 0 1,0 -3.4,0"/>
<path id="d_F6_11" d="M121.0,335.5a1.7,1.7 0 1,0 3.4,0a1.7,1.7 0 1,0 -3.4,0"/>
<path id="d_F6_12" d="M121.7,330.5a1.7,1.7 0 1,0 3.4,0a1.7,1.7 0 1,0 -3.4,0M124.1,334.6a1.7,1.7 0 1,0 3.4,0a1.7,1.7 0 1,0 -3.4,0M124.2,339.9a1.7,1.7 0 1,0 3.4,0a1.7,1.7 0 1,0 -3.4,0M130.8,340.3a1.7,1.7 0 1,0 3.4,0a1.7,1.7 0 1,0 -3.4,0M127.7,356.0a1.7,1.7 0 1,0 3.4,0a1.7,1.7 0 1,0 -3.4,0"/>
<path id="d_F6_13" d="M131.4,342.3a1.7,1.7 0 1,0 3.4,0a1.7,1.7 0 1,0 -3.4,0"/>
<path id="d_F6_14" d="M124.7,356.0a1.7,1.7 0 1,0 3.4,0a1.7,1.7 0 1,0 -3.4,0"/>
<path id="d_F6_15" d="M122.1,332.6a1.7,1.7 0 1,0 3.4,0a1.7,1.7 0 1,0 -3.4,0"/>
<path id="d_F6_16" d=""/>
<path id="d_F6_17" d="M120.1,332.0a1.7,1.7 0 1,0 3.4,0a1.7,1.7 0 1,0 -3.4,0M128.6,342.2a1.7,1.7 0 1,0 3.4,0a1.7,1.7 0 1,0 -3.4,0M117.6,346.2a1.7,1.7 0 1,0 3.4,0a1.7,1.7 0 1,0 -3.4,0M121.5,346.1a1.7,1.7 0 1,0 3.4,0a1.7,1.7 0 1,0 -3.4,0M127.4,345.0a1.7,1.7 0 1,0 3.4,0a1.7,1.7 0 1,0 -3.4,0M123.9,350.7a1.7,1.7 0 1,0 3.4,0a1.7,1.7 0 1,0 -3.4,0M126.0,353.8a1.7,1.7 0 1,0 3.4,0a1.7,1.7 0 1,0 -3.4,0"/>
<path id="d_F6_18" d="M114.8,335.2a1.7,1.7 0 1,0 3.4,0a1.7,1.7 0 1,0 -3.4,0M119.3,337.8a1.7,1.7 0 1,0 3.4,0a1.7,1.7 0 1,0 -3.4,0M129.4,338.2a1.7,1.7 0 1,0 3.4,0a1.7,1.7 0 1,0 -3.4,0"/>
<path id="d_F6_19" d="M117.2,331.8a1.7,1.7 0 1,0 3.4,0a1.7,1.7 0 1,0 -3.4,0M133.6,335.2a1.7,1.7 0 1,0 3.4,0a1.7,1.7 0 1,0 -3.4,0M117.0,337.1a1.7,1.7 0 1,0 3.4,0a1.7,1.7 0 1,0 -3.4,0M127.3,339.7a1.7,1.7 0 1,0 3.4,0a1.7,1.7 0 1,0 -3.4,0"/>
<path id="d_F7_0" d=""/>
<path id="d_F7_1" d=""/>
<path id="d_F7_2" d="M138.8,353.7a1.7,1.7 0 1,0 3.4,0a1.7,1.7 0 1,0 -3.4,0"/>
<path id="d_F7_3" d="M140.3,355.4a1.7,1.7 0 1,0 3.4,0a1.7,1.7 0 1,0 -3.4,0"/>
<path id="d_F7_4" d="M141.1,358.2a1.7,1.7 0 1,0 3.4,0a1.7,1.7 0 1,0 -3.4,0"/>
<path id="d_F7_5" d=""/>
<path id="d_F7_6" d=""/>
<path id="d_F7_7" d=""/>
<path id="d_F7_8" d=""/>
<path id="d_F7_9" d=""/>
<path id="d_F7_10" d="M143.8,356.0a1.7,1.7 0 1,0 3.4,0a1.7,1.7 0 1,0 -3.4,0"/>
<path id="d_F7_11" d=""/>
<path id="d_F7_12" d="M141.7,354.0a1.7,1.7 0 1,0 3.4,0a1.7,1.7 0 1,0 -3.4,0"/>
<path id="d_F7_13" d=""/>
<path id="d_F7_14" d=""/>
<path id="d_F7_15" d=""/>
<path id="d_F7_16" d=""/>
<path id="d_F7_17" d="M144.0,358.2a1.7,1.7 0 1,0 3.4,0a1.7,1.7 0 1,0 -3.4,0"/>
<path id="d_F7_18" d=""/>
<path id="d_F7_19" d=""/>
<path id="d_F8_0" d=""/>
<path id="d_F8_1" d=""/>
<path id="d_F8_2" d=""/>
<path id="d_F8_3" d=""/>
<path id="d_F8_4" d=""/>
<path id="d_F8_5" d="M117.8,374.8a1.7,1.7 0 1,0 3.4,0a1.7,1.7 0 1,0 -3.4,0"/>
<path id="d_F8_6" d=""/>
<path id="d_F8_7" d=""/>
<path id="d_F8_8" d="M120.5,370.8a1.7,1.7 0 1,0 3.4,0a1.7,1.7 0 1,0 -3.4,0"/>
<path id="d_F8_9" d=""/>
<path id="d_F8_10" d="M121.3,368.4a1.7,1.7 0 1,0 3.4,0a1.7,1.7 0 1,0 -3.4,0"/>
<path id="d_F8_11" d=""/>
<path id="d_F8_12" d=""/>
<path id="d_F8_13" d="M122.2,366.4a1.7,1.7 0 1,0 3.4,0a1.7,1.7 0 1,0 -3.4,0"/>
<path id="d_F8_14" d=""/>
<path id="d_F8_15" d="M118.6,372.5a1.7,1.7 0 1,0 3.4,0a1.7,1.7 0 1,0 -3.4,0"/>
<path id="d_F8_16" d=""/>
<path id="d_F8_17" d=""/>
<path id="d_F8_18" d=""/>
<path id="d_F8_19" d="M122.6,364.1a1.7,1.7 0 1,0 3.4,0a1.7,1.7 0 1,0 -3.4,0"/>
<path id="d_G_0" d="M202.8,304.7a1.7,1.7 0 1,0 3.4,0a1.7,1.7 0 1,0 -3.4,0M212.3,305.2a1.7,1.7 0 1,0 3.4,0a1.7,1.7 0 1,0 -3.4,0M229.2,314.8a1.7,1.7 0 1,0 3.4,0a1.7,1.7 0 1,0 -3.4,0M207.3,317.4a1.7,1.7 0 1,0 3.4,0a1.7,1.7 0 1,0 -3.4,0M204.9,322.6a1.7,1.7 0 1,0 3.4,0a1.7,1.7 0 1,0 -3.4,0M193.6,325.3a1.7,1.7 0 1,0 3.4,0a1.7,1.7 0 1,0 -3.4,0M206.8,328.4a1.7,1.7 0 1,0 3.4,0a1.7,1.7 0 1,0 -3.4,0M210.9,327.7a1.7,1.7 0 1,0 3.4,0a1.7,1.7 0 1,0 -3.4,0M231.2,328.8a1.7,1.7 0 1,0 3.4,0a1.7,1.7 0 1,0 -3.4,0M218.5,330.5a1.7,1.7 0 1,0 3.4,0a1.7,1.7 0 1,0 -3.4,0M196.3,335.5a1.7,1.7 0 1,0 3.4,0a1.7,1.7 0 1,0 -3.4,0M202.6,335.4a1.7,1.7 0 1,0 3.4,0a1.7,1.7 0 1,0 -3.4,0M195.9,339.2a1.7,1.7 0 1,0 3.4,0a1.7,1.7 0 1,0 -3.4,0M197.4,340.8a1.7,1.7 0 1,0 3.4,0a1.7,1.7 0 1,0 -3.4,0M201.5,344.0a1.7,1.7 0 1,0 3.4,0a1.7,1.7 0 1,0 -3.4,0"/>
<path id="d_G_1" d="M201.5,302.4a1.7,1.7 0 1,0 3.4,0a1.7,1.7 0 1,0 -3.4,0M204.1,307.0a1.7,1.7 0 1,0 3.4,0a1.7,1.7 0 1,0 -3.4,0M225.6,313.4a1.7,1.7 0 1,0 3.4,0a1.7,1.7 0 1,0 -3.4,0M211.6,315.9a1.7,1.7 0 1,0 3.4,0a1.7,1.7 0 1,0 -3.4,0M217.8,315.6a1.7,1.7 0 1,0 3.4,0a1.7,1.7 0 1,0 -3.4,0M192.9,322.7a1.7,1.7 0 1,0 3.4,0a1.7,1.7 0 1,0 -3.4,0M228.5,323.3a1.7,1.7 0 1,0 3.4,0a1.7,1.7 0 1,0 -3.4,0M217.4,326.2a1.7,1.7 0 1,0 3.4,0a1.7,1.7 0 1,0 -3.4,0"/>
<path id="d_G_2" d="M208.9,300.3a1.7,1.7 0 1,0 3.4,0a1.7,1.7 0 1,0 -3.4,0M222.1,313.2a1.7,1.7 0 1,0 3.4,0a1.7,1.7 0 1,0 -3.4,0M224.2,315.7a1.7,1.7 0 1,0 3.4,0a1.7,1.7 0 1,0 -3.4,0M200.4,320.7a1.7,1.7 0 1,0 3.4,0a1.7,1.7 0 1,0 -3.4,0M199.2,336.0a1.7,1.7 0 1,0 3.4,0a1.7,1.7 0 1,0 -3.4,0M217.0,338.6a1.7,1.7 0 1,0 3.4,0a1.7,1.7 0 1,0 -3.4,0M221.0,341.9a1.7,1.7 0 1,0 3.4,0a1.7,1.7 0 1,0 -3.4,0M204.8,343.5a1.7,1.7 0 1,0 3.4,0a1.7,1.7 0 1,0 -3.4,0"/>
<path id="d_G_3" d="M205.6,310.6a1.7,1.7 0 1,0 3.4,0a1.7,1.7 0 1,0 -3.4,0M215.1,310.3a1.7,1.7 0 1,0 3.4,0a1.7,1.7 0 1,0 -3.4,0M198.0,312.7a1.7,1.7 0 1,0 3.4,0a1.7,1.7 0 1,0 -3.4,0M201.5,313.1a1.7,1.7 0 1,0 3.4,0a1.7,1.7 0 1,0 -3.4,0M203.6,312.7a1.7,1.7 0 1,0 3.4,0a1.7,1.7 0 1,0 -3.4,0M197.4,315.4a1.7,1.7 0 1,0 3.4,0a1.7,1.7 0 1,0 -3.4,0M206.4,314.7a1.7,1.7 0 1,0 3.4,0a1.7,1.7 0 1,0 -3.4,0M228.2,317.7a1.7,1.7 0 1,0 3.4,0a1.7,1.7 0 1,0 -3.4,0M203.4,330.5a1.7,1.7 0 1,0 3.4,0a1.7,1.7 0 1,0 -3.4,0M214.2,331.5a1.7,1.7 0 1,0 3.4,0a1.7,1.7 0 1,0 -3.4,0M200.7,333.1a1.7,1.7 0 1,0 3.4,0a1.7,1.7 0 1,0 -3.4,0"/>
<path id="d_G_4" d="M198.5,302.9a1.7,1.7 0 1,0 3.4,0a1.7,1.7 0 1,0 -3.4,0M215.3,316.0a1.7,1.7 0 1,0 3.4,0a1.7,1.7 0 1,0 -3.4,0M216.8,317.4a1.7,1.7 0 1,0 3.4,0a1.7,1.7 0 1,0 -3.4,0M189.1,322.4a1.7,1.7 0 1,0 3.4,0a1.7,1.7 0 1,0 -3.4,0M226.0,323.0a1.7,1.7 0 1,0 3.4,0a1.7,1.7 0 1,0 -3.4,0M209.3,325.3a1.7,1.7 0 1,0 3.4,0a1.7,1.7 0 1,0 -3.4,0M198.3,333.9a1.7,1.7 0 1,0 3.4,0a1.7,1.7 0 1,0 -3.4,0M194.5,335.7a1.7,1.7 0 1,0 3.4,0a1.7,1.7 0 1,0 -3.4,0M214.6,335.4a1.7,1.7 0 1,0 3.4,0a1.7,1.7 0 1,0 -3.4,0"/>
<path id="d_G_5" d="M203.1,299.7a1.7,1.7 0 1,0 3.4,0a1.7,1.7 0 1,0 -3.4,0M218.0,305.3a1.7,1.7 0 1,0 3.4,0a1.7,1.7 0 1,0 -3.4,0M208.3,315.0a1.7,1.7 0 1,0 3.4,0a1.7,1.7 0 1,0 -3.4,0M190.3,320.6a1.7,1.7 0 1,0 3.4,0a1.7,1.7 0 1,0 -3.4,0M226.9,320.3a1.7,1.7 0 1,0 3.4,0a1.7,1.7 0 1,0 -3.4,0M224.2,325.3a1.7,1.7 0 1,0 3.4,0a1.7,1.7 0 1,0 -3.4,0M208.2,341.7a1.7,1.7 0 1,0 3.4,0a1.7,1.7 0 1,0 -3.4,0"/>
<path id="d_G_6" d="M211.5,299.7a1.7,1.7 0 1,0 3.4,0a1.7,1.7 0 1,0 -3.4,0M206.1,304.9a1.7,1.7 0 1,0 3.4,0a1.7,1.7 0 1,0 -3.4,0M214.4,321.1a1.7,1.7 0 1,0 3.4,0a1.7,1.7 0 1,0 -3.4,0M197.9,323.0a1.7,1.7 0 1,0 3.4,0a1.7,1.7 0 1,0 -3.4,0M216.4,328.6a1.7,1.7 0 1,0 3.4,0a1.7,1.7 0 1,0 -3.4,0M218.6,333.8a1.7,1.7 0 1,0 3.4,0a1.7,1.7 0 1,0 -3.4,0M199.5,340.6a1.7,1.7 0 1,0 3.4,0a1.7,1.7 0 1,0 -3.4,0M205.5,341.0a1.7,1.7 0 1,0 3.4,0a1.7,1.7 0 1,0 -3.4,0"/>
<path id="d_G_7" d="M197.9,307.4a1.7,1.7 0 1,0 3.4,0a1.7,1.7 0 1,0 -3.4,0M213.2,307.9a1.7,1.7 0 1,0 3.4,0a1.7,1.7 0 1,0 -3.4,0M216.6,313.1a1.7,1.7 0 1,0 3.4,0a1.7,1.7 0 1,0 -3.4,0M198.5,317.6a1.7,1.7 0 1,0 3.4,0a1.7,1.7 0 1,0 -3.4,0M204.0,317.8a1.7,1.7 0 1,0 3.4,0a1.7,1.7 0 1,0 -3.4,0M221.8,318.3a1.7,1.7 0 1,0 3.4,0a1.7,1.7 0 1,0 -3.4,0M224.8,318.4a1.7,1.7 0 1,0 3.4,0a1.7,1.7 0 1,0 -3.4,0M193.9,331.6a1.7,1.7 0 1,0 3.4,0a1.7,1.7 0 1,0 -3.4,0M225.5,338.9a1.7,1.7 0 1,0 3.4,0a1.7,1.7 0 1,0 -3.4,0M205.2,347.0a1.7,1.7 0 1,0 3.4,0a1.7,1.7 0 1,0 -3.4,0"/>
<path id="d_G_8" d="M208.9,304.7a1.7,1.7 0 1,0 3.4,0a1.7,1.7 0 1,0 -3.4,0M219.5,308.1a1.7,1.7 0 1,0 3.4,0a1.7,1.7 0 1,0 -3.4,0M195.7,312.7a1.7,1.7 0 1,0 3.4,0a1.7,1.7 0 1,0 -3.4,0M209.9,312.6a1.7,1.7 0 1,0 3.4,0a1.7,1.7 0 1,0 -3.4,0M218.8,313.0a1.7,1.7 0 1,0 3.4,0a1.7,1.7 0 1,0 -3.4,0M193.6,315.0a1.7,1.7 0 1,0 3.4,0a1.7,1.7 0 1,0 -3.4,0M202.5,315.5a1.7,1.7 0 1,0 3.4,0a1.7,1.7 0 1,0 -3.4,0M195.2,318.5a1.7,1.7 0 1,0 3.4,0a1.7,1.7 0 1,0 -3.4,0M213.7,317.9a1.7,1.7 0 1,0 3.4,0a1.7,1.7 0 1,0 -3.4,0M194.3,320.9a1.7,1.7 0 1,0 3.4,0a1.7,1.7 0 1,0 -3.4,0M212.1,320.3a1.7,1.7 0 1,0 3.4,0a1.7,1.7 0 1,0 -3.4,0M229.6,320.6a1.7,1.7 0 1,0 3.4,0a1.7,1.7 0 1,0 -3.4,0M207.5,323.4a1.7,1.7 0 1,0 3.4,0a1.7,1.7 0 1,0 -3.4,0M196.5,326.1a1.7,1.7 0 1,0 3.4,0a1.7,1.7 0 1,0 -3.4,0M228.6,327.8a1.7,1.7 0 1,0 3.4,0a1.7,1.7 0 1,0 -3.4,0M206.9,338.1a1.7,1.7 0 1,0 3.4,0a1.7,1.7 0 1,0 -3.4,0"/>
<path id="d_G_9" d="M195.9,308.2a1.7,1.7 0 1,0 3.4,0a1.7,1.7 0 1,0 -3.4,0M207.9,306.8a1.7,1.7 0 1,0 3.4,0a1.7,1.7 0 1,0 -3.4,0M199.6,310.2a1.7,1.7 0 1,0 3.4,0a1.7,1.7 0 1,0 -3.4,0M192.0,327.7a1.7,1.7 0 1,0 3.4,0a1.7,1.7 0 1,0 -3.4,0M196.4,330.6a1.7,1.7 0 1,0 3.4,0a1.7,1.7 0 1,0 -3.4,0M223.5,331.2a1.7,1.7 0 1,0 3.4,0a1.7,1.7 0 1,0 -3.4,0M227.2,336.8a1.7,1.7 0 1,0 3.4,0a1.7,1.7 0 1,0 -3.4,0M211.2,341.4a1.7,1.7 0 1,0 3.4,0a1.7,1.7 0 1,0 -3.4,0M207.0,344.1a1.7,1.7 0 1,0 3.4,0a1.7,1.7 0 1,0 -3.4,0"/>
<path id="d_G_10" d="M200.8,307.7a1.7,1.7 0 1,0 3.4,0a1.7,1.7 0 1,0 -3.4,0M190.5,325.5a1.7,1.7 0 1,0 3.4,0a1.7,1.7 0 1,0 -3.4,0M203.9,328.3a1.7,1.7 0 1,0 3.4,0a1.7,1.7 0 1,0 -3.4,0M190.9,330.2a1.7,1.7 0 1,0 3.4,0a1.7,1.7 0 1,0 -3.4,0M195.7,333.0a1.7,1.7 0 1,0 3.4,0a1.7,1.7 0 1,0 -3.4,0M204.8,338.5a1.7,1.7 0 1,0 3.4,0a1.7,1.7 0 1,0 -3.4,0M210.6,339.0a1.7,1.7 0 1,0 3.4,0a1.7,1.7 0 1,0 -3.4,0M222.2,338.0a1.7,1.7 0 1,0 3.4,0a1.7,1.7 0 1,0 -3.4,0M216.0,344.3a1.7,1.7 0 1,0 3.4,0a1.7,1.7 0 1,0 -3.4,0"/>
<path id="d_G_11" d="M221.2,310.5a1.7,1.7 0 1,0 3.4,0a1.7,1.7 0 1,0 -3.4,0M190.9,314.7a1.7,1.7 0 1,0 3.4,0a1.7,1.7 0 1,0 -3.4,0M194.7,328.7a1.7,1.7 0 1,0 3.4,0a1.7,1.7 0 1,0 -3.4,0M222.4,328.4a1.7,1.7 0 1,0 3.4,0a1.7,1.7 0 1,0 -3.4,0M225.3,328.0a1.7,1.7 0 1,0 3.4,0a1.7,1.7 0 1,0 -3.4,0M199.2,331.4a1.7,1.7 0 1,0 3.4,0a1.7,1.7 0 1,0 -3.4,0M208.2,330.9a1.7,1.7 0 1,0 3.4,0a1.7,1.7 0 1,0 -3.4,0M213.8,338.4a1.7,1.7 0 1,0 3.4,0a1.7,1.7 0 1,0 -3.4,0M218.7,344.2a1.7,1.7 0 1,0 3.4,0a1.7,1.7 0 1,0 -3.4,0M202.1,346.1a1.7,1.7 0 1,0 3.4,0a1.7,1.7 0 1,0 -3.4,0"/>
<path id="d_G_12" d="M213.5,302.6a1.7,1.7 0 1,0 3.4,0a1.7,1.7 0 1,0 -3.4,0M214.2,304.9a1.7,1.7 0 1,0 3.4,0a1.7,1.7 0 1,0 -3.4,0M191.6,317.8a1.7,1.7 0 1,0 3.4,0a1.7,1.7 0 1,0 -3.4,0M205.2,320.1a1.7,1.7 0 1,0 3.4,0a1.7,1.7 0 1,0 -3.4,0M194.8,322.7a1.7,1.7 0 1,0 3.4,0a1.7,1.7 0 1,0 -3.4,0M206.1,325.5a1.7,1.7 0 1,0 3.4,0a1.7,1.7 0 1,0 -3.4,0M229.3,331.2a1.7,1.7 0 1,0 3.4,0a1.7,1.7 0 1,0 -3.4,0M223.2,336.3a1.7,1.7 0 1,0 3.4,0a1.7,1.7 0 1,0 -3.4,0M217.4,340.8a1.7,1.7 0 1,0 3.4,0a1.7,1.7 0 1,0 -3.4,0"/>
<path id="d_G_13" d="M204.0,302.8a1.7,1.7 0 1,0 3.4,0a1.7,1.7 0 1,0 -3.4,0M196.8,304.5a1.7,1.7 0 1,0 3.4,0a1.7,1.7 0 1,0 -3.4,0M194.1,309.7a1.7,1.7 0 1,0 3.4,0a1.7,1.7 0 1,0 -3.4,0M207.3,312.2a1.7,1.7 0 1,0 3.4,0a1.7,1.7 0 1,0 -3.4,0M189.0,318.0a1.7,1.7 0 1,0 3.4,0a1.7,1.7 0 1,0 -3.4,0M200.7,317.6a1.7,1.7 0 1,0 3.4,0a1.7,1.7 0 1,0 -3.4,0M210.6,318.4a1.7,1.7 0 1,0 3.4,0a1.7,1.7 0 1,0 -3.4,0M188.1,320.2a1.7,1.7 0 1,0 3.4,0a1.7,1.7 0 1,0 -3.4,0M217.9,320.9a1.7,1.7 0 1,0 3.4,0a1.7,1.7 0 1,0 -3.4,0M220.9,319.9a1.7,1.7 0 1,0 3.4,0a1.7,1.7 0 1,0 -3.4,0M226.5,326.0a1.7,1.7 0 1,0 3.4,0a1.7,1.7 0 1,0 -3.4,0M229.6,326.3a1.7,1.7 0 1,0 3.4,0a1.7,1.7 0 1,0 -3.4,0M222.0,333.5a1.7,1.7 0 1,0 3.4,0a1.7,1.7 0 1,0 -3.4,0M198.6,338.3a1.7,1.7 0 1,0 3.4,0a1.7,1.7 0 1,0 -3.4,0M202.7,341.8a1.7,1.7 0 1,0 3.4,0a1.7,1.7 0 1,0 -3.4,0M214.7,341.9a1.7,1.7 0 1,0 3.4,0a1.7,1.7 0 1,0 -3.4,0"/>
<path id="d_G_14" d="M207.2,302.0a1.7,1.7 0 1,0 3.4,0a1.7,1.7 0 1,0 -3.4,0M210.9,308.2a1.7,1.7 0 1,0 3.4,0a1.7,1.7 0 1,0 -3.4,0M218.6,317.8a1.7,1.7 0 1,0 3.4,0a1.7,1.7 0 1,0 -3.4,0M212.3,330.6a1.7,1.7 0 1,0 3.4,0a1.7,1.7 0 1,0 -3.4,0M204.5,333.3a1.7,1.7 0 1,0 3.4,0a1.7,1.7 0 1,0 -3.4,0M212.2,336.3a1.7,1.7 0 1,0 3.4,0a1.7,1.7 0 1,0 -3.4,0M221.4,336.1a1.7,1.7 0 1,0 3.4,0a1.7,1.7 0 1,0 -3.4,0"/>
<path id="d_G_15" d="M211.6,309.8a1.7,1.7 0 1,0 3.4,0a1.7,1.7 0 1,0 -3.4,0M192.1,312.9a1.7,1.7 0 1,0 3.4,0a1.7,1.7 0 1,0 -3.4,0M230.9,317.9a1.7,1.7 0 1,0 3.4,0a1.7,1.7 0 1,0 -3.4,0M197.5,320.5a1.7,1.7 0 1,0 3.4,0a1.7,1.7 0 1,0 -3.4,0M202.8,320.2a1.7,1.7 0 1,0 3.4,0a1.7,1.7 0 1,0 -3.4,0M223.8,320.6a1.7,1.7 0 1,0 3.4,0a1.7,1.7 0 1,0 -3.4,0M211.6,325.6a1.7,1.7 0 1,0 3.4,0a1.7,1.7 0 1,0 -3.4,0M220.8,331.1a1.7,1.7 0 1,0 3.4,0a1.7,1.7 0 1,0 -3.4,0M217.5,336.1a1.7,1.7 0 1,0 3.4,0a1.7,1.7 0 1,0 -3.4,0M208.7,346.2a1.7,1.7 0 1,0 3.4,0a1.7,1.7 0 1,0 -3.4,0"/>
<path id="d_G_16" d="M208.5,319.8a1.7,1.7 0 1,0 3.4,0a1.7,1.7 0 1,0 -3.4,0M201.5,323.8a1.7,1.7 0 1,0 3.4,0a1.7,1.7 0 1,0 -3.4,0M203.5,325.5a1.7,1.7 0 1,0 3.4,0a1.7,1.7 0 1,0 -3.4,0M221.4,326.2a1.7,1.7 0 1,0 3.4,0a1.7,1.7 0 1,0 -3.4,0M219.6,328.8a1.7,1.7 0 1,0 3.4,0a1.7,1.7 0 1,0 -3.4,0M226.5,330.5a1.7,1.7 0 1,0 3.4,0a1.7,1.7 0 1,0 -3.4,0M225.1,333.8a1.7,1.7 0 1,0 3.4,0a1.7,1.7 0 1,0 -3.4,0M228.4,334.0a1.7,1.7 0 1,0 3.4,0a1.7,1.7 0 1,0 -3.4,0M210.3,344.0a1.7,1.7 0 1,0 3.4,0a1.7,1.7 0 1,0 -3.4,0M213.8,343.4a1.7,1.7 0 1,0 3.4,0a1.7,1.7 0 1,0 -3.4,0"/>
<path id="d_G_17" d="M216.7,302.9a1.7,1.7 0 1,0 3.4,0a1.7,1.7 0 1,0 -3.4,0M216.5,307.0a1.7,1.7 0 1,0 3.4,0a1.7,1.7 0 1,0 -3.4,0M221.8,307.2a1.7,1.7 0 1,0 3.4,0a1.7,1.7 0 1,0 -3.4,0M191.3,310.5a1.7,1.7 0 1,0 3.4,0a1.7,1.7 0 1,0 -3.4,0M209.5,309.7a1.7,1.7 0 1,0 3.4,0a1.7,1.7 0 1,0 -3.4,0M218.5,309.4a1.7,1.7 0 1,0 3.4,0a1.7,1.7 0 1,0 -3.4,0M214.0,312.5a1.7,1.7 0 1,0 3.4,0a1.7,1.7 0 1,0 -3.4,0M199.4,315.9a1.7,1.7 0 1,0 3.4,0a1.7,1.7 0 1,0 -3.4,0M217.0,323.0a1.7,1.7 0 1,0 3.4,0a1.7,1.7 0 1,0 -3.4,0M218.8,322.5a1.7,1.7 0 1,0 3.4,0a1.7,1.7 0 1,0 -3.4,0M221.6,322.7a1.7,1.7 0 1,0 3.4,0a1.7,1.7 0 1,0 -3.4,0M231.1,323.6a1.7,1.7 0 1,0 3.4,0a1.7,1.7 0 1,0 -3.4,0M216.7,332.8a1.7,1.7 0 1,0 3.4,0a1.7,1.7 0 1,0 -3.4,0M206.1,336.0a1.7,1.7 0 1,0 3.4,0a1.7,1.7 0 1,0 -3.4,0M219.1,338.2a1.7,1.7 0 1,0 3.4,0a1.7,1.7 0 1,0 -3.4,0"/>
<path id="d_G_18" d="M199.7,304.4a1.7,1.7 0 1,0 3.4,0a1.7,1.7 0 1,0 -3.4,0M221.3,305.1a1.7,1.7 0 1,0 3.4,0a1.7,1.7 0 1,0 -3.4,0M196.5,309.4a1.7,1.7 0 1,0 3.4,0a1.7,1.7 0 1,0 -3.4,0M202.6,310.3a1.7,1.7 0 1,0 3.4,0a1.7,1.7 0 1,0 -3.4,0M227.1,314.6a1.7,1.7 0 1,0 3.4,0a1.7,1.7 0 1,0 -3.4,0M210.0,323.5a1.7,1.7 0 1,0 3.4,0a1.7,1.7 0 1,0 -3.4,0M213.6,322.5a1.7,1.7 0 1,0 3.4,0a1.7,1.7 0 1,0 -3.4,0M199.9,325.6a1.7,1.7 0 1,0 3.4,0a1.7,1.7 0 1,0 -3.4,0M201.0,328.8a1.7,1.7 0 1,0 3.4,0a1.7,1.7 0 1,0 -3.4,0M213.0,328.6a1.7,1.7 0 1,0 3.4,0a1.7,1.7 0 1,0 -3.4,0M205.4,330.6a1.7,1.7 0 1,0 3.4,0a1.7,1.7 0 1,0 -3.4,0M207.9,334.0a1.7,1.7 0 1,0 3.4,0a1.7,1.7 0 1,0 -3.4,0M210.9,333.8a1.7,1.7 0 1,0 3.4,0a1.7,1.7 0 1,0 -3.4,0M212.7,333.9a1.7,1.7 0 1,0 3.4,0a1.7,1.7 0 1,0 -3.4,0M208.2,335.9a1.7,1.7 0 1,0 3.4,0a1.7,1.7 0 1,0 -3.4,0"/>
<path id="d_G_19" d="M210.5,302.1a1.7,1.7 0 1,0 3.4,0a1.7,1.7 0 1,0 -3.4,0M223.2,309.5a1.7,1.7 0 1,0 3.4,0a1.7,1.7 0 1,0 -3.4,0M221.1,315.1a1.7,1.7 0 1,0 3.4,0a1.7,1.7 0 1,0 -3.4,0M215.3,325.6a1.7,1.7 0 1,0 3.4,0a1.7,1.7 0 1,0 -3.4,0M199.0,328.6a1.7,1.7 0 1,0 3.4,0a1.7,1.7 0 1,0 -3.4,0M201.2,339.0a1.7,1.7 0 1,0 3.4,0a1.7,1.7 0 1,0 -3.4,0M198.9,343.6a1.7,1.7 0 1,0 3.4,0a1.7,1.7 0 1,0 -3.4,0M211.2,347.1a1.7,1.7 0 1,0 3.4,0a1.7,1.7 0 1,0 -3.4,0"/>
<path id="d_H_0" d=""/>
<path id="d_H_1" d=""/>
<path id="d_H_2" d=""/>
<path id="d_H_3" d=""/>
<path id="d_H_4" d=""/>
<path id="d_H_5" d=""/>
<path id="d_H_6" d=""/>
<path id="d_H_7" d=""/>
<path id="d_H_8" d=""/>
<path id="d_H_9" d="M175.9,329.5a1.7,1.7 0 1,0 3.4,0a1.7,1.7 0 1,0 -3.4,0"/>
<path id="d_H_10" d="M179.8,327.0a1.7,1.7 0 1,0 3.4,0a1.7,1.7 0 1,0 -3.4,0M173.5,332.2a1.7,1.7 0 1,0 3.4,0a1.7,1.7 0 1,0 -3.4,0"/>
<path id="d_H_11" d=""/>
<path id="d_H_12" d=""/>
<path id="d_H_13" d=""/>
<path id="d_H_14" d=""/>
<path id="d_H_15" d=""/>
<path id="d_H_16" d=""/>
<path id="d_H_17" d=""/>
<path id="d_H_18" d="M178.6,329.6a1.7,1.7 0 1,0 3.4,0a1.7,1.7 0 1,0 -3.4,0"/>
<path id="d_H_19" d=""/>
<path id="d_I0_0" d="M235.2,248.7a1.7,1.7 0 1,0 3.4,0a1.7,1.7 0 1,0 -3.4,0"/>
<path id="d_I0_1" d=""/>
<path id="d_I0_2" d=""/>
<path id="d_I0_3" d=""/>
<path id="d_I0_4" d="M237.6,245.1a1.7,1.7 0 1,0 3.4,0a1.7,1.7 0 1,0 -3.4,0"/>
<path id="d_I0_5" d=""/>
<path id="d_I0_6" d=""/>
<path id="d_I0_7" d=""/>
<path id="d_I0_8" d="M234.1,245.0a1.7,1.7 0 1,0 3.4,0a1.7,1.7 0 1,0 -3.4,0"/>
<path id="d_I0_9" d=""/>
<path id="d_I0_10" d=""/>
<path id="d_I0_11" d=""/>
<path id="d_I0_12" d=""/>
<path id="d_I0_13" d=""/>
<path id="d_I0_14" d=""/>
<path id="d_I0_15" d=""/>
<path id="d_I0_16" d=""/>
<path id="d_I0_17" d=""/>
<path id="d_I0_18" d=""/>
<path id="d_I0_19" d=""/>
<path id="d_I1_0" d="M237.2,269.6a1.7,1.7 0 1,0 3.4,0a1.7,1.7 0 1,0 -3.4,0"/>
<path id="d_I1_1" d="M236.3,254.7a1.7,1.7 0 1,0 3.4,0a1.7,1.7 0 1,0 -3.4,0"/>
<path id="d_I1_2" d=""/>
<path id="d_I1_3" d=""/>
<path id="d_I1_4" d=""/>
<path id="d_I1_5" d=""/>
<path id="d_I1_6" d=""/>
<path id="d_I1_7" d=""/>
<path id="d_I1_8" d=""/>
<path id="d_I1_9" d="M236.9,271.4a1.7,1.7 0 1,0 3.4,0a1.7,1.7 0 1,0 -3.4,0"/>
<path id="d_I1_10" d=""/>
<path id="d_I1_11" d="M236.6,262.5a1.7,1.7 0 1,0 3.4,0a1.7,1.7 0 1,0 -3.4,0"/>
<path id="d_I1_12" d="M235.8,251.5a1.7,1.7 0 1,0 3.4,0a1.7,1.7 0 1,0 -3.4,0M236.3,264.5a1.7,1.7 0 1,0 3.4,0a1.7,1.7 0 1,0 -3.4,0"/>
<path id="d_I1_13" d=""/>
<path id="d_I1_14" d=""/>
<path id="d_I1_15" d=""/>
<path id="d_I1_16" d="M236.8,259.4a1.7,1.7 0 1,0 3.4,0a1.7,1.7 0 1,0 -3.4,0M236.1,261.9a1.7,1.7 0 1,0 3.4,0a1.7,1.7 0 1,0 -3.4,0"/>
<path id="d_I1_17" d=""/>
<path id="d_I1_18" d=""/>
<path id="d_I1_19" d="M235.6,257.4a1.7,1.7 0 1,0 3.4,0a1.7,1.7 0 1,0 -3.4,0M236.7,267.5a1.7,1.7 0 1,0 3.4,0a1.7,1.7 0 1,0 -3.4,0"/>
<path id="d_I2_0" d=""/>
<path id="d_I2_1" d="M239.0,274.8a1.7,1.7 0 1,0 3.4,0a1.7,1.7 0 1,0 -3.4,0M245.3,274.8a1.7,1.7 0 1,0 3.4,0a1.7,1.7 0 1,0 -3.4,0M249.5,278.4a1.7,1.7 0 1,0 3.4,0a1.7,1.7 0 1,0 -3.4,0"/>
<path id="d_I2_2" d=""/>
<path id="d_I2_3" d=""/>
<path id="d_I2_4" d="M242.5,280.8a1.7,1.7 0 1,0 3.4,0a1.7,1.7 0 1,0 -3.4,0M241.4,282.5a1.7,1.7 0 1,0 3.4,0a1.7,1.7 0 1,0 -3.4,0"/>
<path id="d_I2_5" d=""/>
<path id="d_I2_6" d="M241.6,277.8a1.7,1.7 0 1,0 3.4,0a1.7,1.7 0 1,0 -3.4,0M248.0,281.1a1.7,1.7 0 1,0 3.4,0a1.7,1.7 0 1,0 -3.4,0M235.1,283.5a1.7,1.7 0 1,0 3.4,0a1.7,1.7 0 1,0 -3.4,0"/>
<path id="d_I2_7" d=""/>
<path id="d_I2_8" d="M234.9,278.1a1.7,1.7 0 1,0 3.4,0a1.7,1.7 0 1,0 -3.4,0M239.7,280.8a1.7,1.7 0 1,0 3.4,0a1.7,1.7 0 1,0 -3.4,0"/>
<path id="d_I2_9" d="M234.2,281.1a1.7,1.7 0 1,0 3.4,0a1.7,1.7 0 1,0 -3.4,0"/>
<path id="d_I2_10" d="M242.8,275.5a1.7,1.7 0 1,0 3.4,0a1.7,1.7 0 1,0 -3.4,0"/>
<path id="d_I2_11" d="M237.6,278.0a1.7,1.7 0 1,0 3.4,0a1.7,1.7 0 1,0 -3.4,0M237.1,280.1a1.7,1.7 0 1,0 3.4,0a1.7,1.7 0 1,0 -3.4,0M245.8,279.9a1.7,1.7 0 1,0 3.4,0a1.7,1.7 0 1,0 -3.4,0M247.0,282.8a1.7,1.7 0 1,0 3.4,0a1.7,1.7 0 1,0 -3.4,0"/>
<path id="d_I2_12" d="M240.5,272.8a1.7,1.7 0 1,0 3.4,0a1.7,1.7 0 1,0 -3.4,0M244.2,277.8a1.7,1.7 0 1,0 3.4,0a1.7,1.7 0 1,0 -3.4,0"/>
<path id="d_I2_13" d="M238.7,283.4a1.7,1.7 0 1,0 3.4,0a1.7,1.7 0 1,0 -3.4,0"/>
<path id="d_I2_14" d=""/>
<path id="d_I2_15" d=""/>
<path id="d_I2_16" d=""/>
<path id="d_I2_17" d="M246.6,278.0a1.7,1.7 0 1,0 3.4,0a1.7,1.7 0 1,0 -3.4,0"/>
<path id="d_I2_18" d=""/>
<path id="d_I2_19" d="M243.8,282.9a1.7,1.7 0 1,0 3.4,0a1.7,1.7 0 1,0 -3.4,0"/>
<path id="d_J_0" d=""/>
<path id="d_J_1" d=""/>
<path id="d_J_2" d=""/>
<path id="d_J_3" d=""/>
<path id="d_J_4" d=""/>
<path id="d_J_5" d=""/>
<path id="d_J_6" d="M289.2,225.8a1.7,1.7 0 1,0 3.4,0a1.7,1.7 0 1,0 -3.4,0"/>
<path id="d_J_7" d=""/>
<path id="d_J_8" d="M294.3,223.1a1.7,1.7 0 1,0 3.4,0a1.7,1.7 0 1,0 -3.4,0"/>
<path id="d_J_9" d="M289.4,220.1a1.7,1.7 0 1,0 3.4,0a1.7,1.7 0 1,0 -3.4,0M292.9,225.2a1.7,1.7 0 1,0 3.4,0a1.7,1.7 0 1,0 -3.4,0"/>
<path id="d_J_10" d=""/>
<path id="d_J_11" d="M294.7,218.1a1.7,1.7 0 1,0 3.4,0a1.7,1.7 0 1,0 -3.4,0"/>
<path id="d_J_12" d=""/>
<path id="d_J_13" d=""/>
<path id="d_J_14" d=""/>
<path id="d_J_15" d="M288.5,223.0a1.7,1.7 0 1,0 3.4,0a1.7,1.7 0 1,0 -3.4,0"/>
<path id="d_J_16" d="M293.3,220.3a1.7,1.7 0 1,0 3.4,0a1.7,1.7 0 1,0 -3.4,0M295.3,225.3a1.7,1.7 0 1,0 3.4,0a1.7,1.7 0 1,0 -3.4,0"/>
<path id="d_J_17" d="M291.7,217.3a1.7,1.7 0 1,0 3.4,0a1.7,1.7 0 1,0 -3.4,0"/>
<path id="d_J_18" d="M296.0,219.5a1.7,1.7 0 1,0 3.4,0a1.7,1.7 0 1,0 -3.4,0M291.5,222.1a1.7,1.7 0 1,0 3.4,0a1.7,1.7 0 1,0 -3.4,0"/>
<path id="d_J_19" d=""/>
<path id="d_K1_0" d=""/>
<path id="d_K1_1" d=""/>
<path id="d_K1_2" d="M287.2,249.5a1.7,1.7 0 1,0 3.4,0a1.7,1.7 0 1,0 -3.4,0"/>
<path id="d_K1_3" d=""/>
<path id="d_K1_4" d=""/>
<path id="d_K1_5" d="M288.1,243.6a1.7,1.7 0 1,0 3.4,0a1.7,1.7 0 1,0 -3.4,0M287.5,245.3a1.7,1.7 0 1,0 3.4,0a1.7,1.7 0 1,0 -3.4,0"/>
<path id="d_K1_6" d=""/>
<path id="d_K1_7" d="M288.5,241.6a1.7,1.7 0 1,0 3.4,0a1.7,1.7 0 1,0 -3.4,0"/>
<path id="d_K1_8" d=""/>
<path id="d_K1_9" d="M286.7,248.2a1.7,1.7 0 1,0 3.4,0a1.7,1.7 0 1,0 -3.4,0"/>
<path id="d_K1_10" d=""/>
<path id="d_K1_11" d=""/>
<path id="d_K1_12" d=""/>
<path id="d_K1_13" d="M287.0,252.1a1.7,1.7 0 1,0 3.4,0a1.7,1.7 0 1,0 -3.4,0"/>
<path id="d_K1_14" d=""/>
<path id="d_K1_15" d=""/>
<path id="d_K1_16" d=""/>
<path id="d_K1_17" d="M285.8,254.0a1.7,1.7 0 1,0 3.4,0a1.7,1.7 0 1,0 -3.4,0"/>
<path id="d_K1_18" d=""/>
<path id="d_K1_19" d=""/>
<path id="d_K2_0" d=""/>
<path id="d_K2_1" d=""/>
<path id="d_K2_2" d="M287.7,258.3a1.7,1.7 0 1,0 3.4,0a1.7,1.7 0 1,0 -3.4,0"/>
<path id="d_K2_3" d=""/>
<path id="d_K2_4" d=""/>
<path id="d_K2_5" d=""/>
<path id="d_K2_6" d="M289.1,261.2a1.7,1.7 0 1,0 3.4,0a1.7,1.7 0 1,0 -3.4,0"/>
<path id="d_K2_7" d="M285.2,260.8a1.7,1.7 0 1,0 3.4,0a1.7,1.7 0 1,0 -3.4,0M285.7,266.0a1.7,1.7 0 1,0 3.4,0a1.7,1.7 0 1,0 -3.4,0M288.5,266.4a1.7,1.7 0 1,0 3.4,0a1.7,1.7 0 1,0 -3.4,0"/>
<path id="d_K2_8" d="M284.3,258.1a1.7,1.7 0 1,0 3.4,0a1.7,1.7 0 1,0 -3.4,0"/>
<path id="d_K2_9" d=""/>
<path id="d_K2_10" d=""/>
<path id="d_K2_11" d="M285.8,256.1a1.7,1.7 0 1,0 3.4,0a1.7,1.7 0 1,0 -3.4,0M287.1,263.3a1.7,1.7 0 1,0 3.4,0a1.7,1.7 0 1,0 -3.4,0"/>
<path id="d_K2_12" d=""/>
<path id="d_K2_13" d=""/>
<path id="d_K2_14" d=""/>
<path id="d_K2_15" d=""/>
<path id="d_K2_16" d="M290.7,263.9a1.7,1.7 0 1,0 3.4,0a1.7,1.7 0 1,0 -3.4,0"/>
<path id="d_K2_17" d="M284.2,262.9a1.7,1.7 0 1,0 3.4,0a1.7,1.7 0 1,0 -3.4,0"/>
<path id="d_K2_18" d=""/>
<path id="d_K2_19" d=""/>
<path id="d_L_0" d=""/>
<path id="d_L_1" d=""/>
<path id="d_L_2" d="M353.6,238.8a1.7,1.7 0 1,0 3.4,0a1.7,1.7 0 1,0 -3.4,0"/>
<path id="d_L_3" d="M345.2,238.6a1.7,1.7 0 1,0 3.4,0a1.7,1.7 0 1,0 -3.4,0"/>
<path id="d_L_4" d="M349.9,240.6a1.7,1.7 0 1,0 3.4,0a1.7,1.7 0 1,0 -3.4,0M355.6,245.8a1.7,1.7 0 1,0 3.4,0a1.7,1.7 0 1,0 -3.4,0"/>
<path id="d_L_5" d="M354.7,243.9a1.7,1.7 0 1,0 3.4,0a1.7,1.7 0 1,0 -3.4,0"/>
<path id="d_L_6" d=""/>
<path id="d_L_7" d="M352.2,236.5a1.7,1.7 0 1,0 3.4,0a1.7,1.7 0 1,0 -3.4,0M347.2,241.1a1.7,1.7 0 1,0 3.4,0a1.7,1.7 0 1,0 -3.4,0"/>
<path id="d_L_8" d=""/>
<path id="d_L_9" d=""/>
<path id="d_L_10" d=""/>
<path id="d_L_11" d=""/>
<path id="d_L_12" d="M351.8,244.0a1.7,1.7 0 1,0 3.4,0a1.7,1.7 0 1,0 -3.4,0"/>
<path id="d_L_13" d="M348.0,237.7a1.7,1.7 0 1,0 3.4,0a1.7,1.7 0 1,0 -3.4,0"/>
<path id="d_L_14" d="M345.7,243.5a1.7,1.7 0 1,0 3.4,0a1.7,1.7 0 1,0 -3.4,0M353.3,245.7a1.7,1.7 0 1,0 3.4,0a1.7,1.7 0 1,0 -3.4,0"/>
<path id="d_L_15" d="M348.3,244.1a1.7,1.7 0 1,0 3.4,0a1.7,1.7 0 1,0 -3.4,0"/>
<path id="d_L_16" d=""/>
<path id="d_L_17" d="M350.8,238.2a1.7,1.7 0 1,0 3.4,0a1.7,1.7 0 1,0 -3.4,0"/>
<path id="d_L_18" d="M352.1,241.3a1.7,1.7 0 1,0 3.4,0a1.7,1.7 0 1,0 -3.4,0M349.1,245.8a1.7,1.7 0 1,0 3.4,0a1.7,1.7 0 1,0 -3.4,0"/>
<path id="d_L_19" d=""/>
<path id="d_X_0" d=""/>
<path id="d_X_1" d=""/>
<path id="d_X_2" d=""/>
<path id="d_X_3" d=""/>
<path id="d_X_4" d=""/>
<path id="d_X_5" d=""/>
<path id="d_X_6" d=""/>
<path id="d_X_7" d=""/>
<path id="d_X_8" d=""/>
<path id="d_X_9" d=""/>
<path id="d_X_10" d=""/>
<path id="d_X_11" d=""/>
<path id="d_X_12" d=""/>
<path id="d_X_13" d=""/>
<path id="d_X_14" d=""/>
<path id="d_X_15" d=""/>
<path id="d_X_16" d=""/>
<path id="d_X_17" d=""/>
<path id="d_X_18" d=""/>
<path id="d_X_19" d=""/>
<path id="d_X2_0" d=""/>
<path id="d_X2_1" d=""/>
<path id="d_X2_2" d=""/>
<path id="d_X2_3" d=""/>
<path id="d_X2_4" d=""/>
<path id="d_X2_5" d=""/>
<path id="d_X2_6" d=""/>
<path id="d_X2_7" d=""/>
<path id="d_X2_8" d=""/>
<path id="d_X2_9" d=""/>
<path id="d_X2_10" d=""/>
<path id="d_X2_11" d=""/>
<path id="d_X2_12" d=""/>
<path id="d_X2_13" d=""/>
<path id="d_X2_14" d=""/>
<path id="d_X2_15" d=""/>
<path id="d_X2_16" d=""/>
<path id="d_X2_17" d=""/>
<path id="d_X2_18" d=""/>
<path id="d_X2_19" d=""/>
<path id="e_A" d="M37.4,165.1a1.5,1.5 0 1,0 3.0,0a1.5,1.5 0 1,0 -3.0,0M38.9,167.3a1.5,1.5 0 1,0 3.0,0a1.5,1.5 0 1,0 -3.0,0M38.8,168.7a1.5,1.5 0 1,0 3.0,0a1.5,1.5 0 1,0 -3.0,0M37.6,171.2a1.5,1.5 0 1,0 3.0,0a1.5,1.5 0 1,0 -3.0,0M37.4,173.0a1.5,1.5 0 1,0 3.0,0a1.5,1.5 0 1,0 -3.0,0M36.3,173.5a1.5,1.5 0 1,0 3.0,0a1.5,1.5 0 1,0 -3.0,0M34.1,175.4a1.5,1.5 0 1,0 3.0,0a1.5,1.5 0 1,0 -3.0,0M32.8,177.0a1.5,1.5 0 1,0 3.0,0a1.5,1.5 0 1,0 -3.0,0M31.1,176.5a1.5,1.5 0 1,0 3.0,0a1.5,1.5 0 1,0 -3.0,0M29.9,176.8a1.5,1.5 0 1,0 3.0,0a1.5,1.5 0 1,0 -3.0,0M27.2,176.8a1.5,1.5 0 1,0 3.0,0a1.5,1.5 0 1,0 -3.0,0M26.7,176.5a1.5,1.5 0 1,0 3.0,0a1.5,1.5 0 1,0 -3.0,0M27.2,173.2a1.5,1.5 0 1,0 3.0,0a1.5,1.5 0 1,0 -3.0,0M29.4,170.2a1.5,1.5 0 1,0 3.0,0a1.5,1.5 0 1,0 -3.0,0M30.0,168.3a1.5,1.5 0 1,0 3.0,0a1.5,1.5 0 1,0 -3.0,0M32.2,167.3a1.5,1.5 0 1,0 3.0,0a1.5,1.5 0 1,0 -3.0,0M33.4,166.5a1.5,1.5 0 1,0 3.0,0a1.5,1.5 0 1,0 -3.0,0M36.3,165.6a1.5,1.5 0 1,0 3.0,0a1.5,1.5 0 1,0 -3.0,0"/>
<path id="e_B1" d="M253.0,82.8a1.5,1.5 0 1,0 3.0,0a1.5,1.5 0 1,0 -3.0,0M253.8,80.5a1.5,1.5 0 1,0 3.0,0a1.5,1.5 0 1,0 -3.0,0M255.2,78.4a1.5,1.5 0 1,0 3.0,0a1.5,1.5 0 1,0 -3.0,0M257.0,76.5a1.5,1.5 0 1,0 3.0,0a1.5,1.5 0 1,0 -3.0,0M259.8,73.1a1.5,1.5 0 1,0 3.0,0a1.5,1.5 0 1,0 -3.0,0M260.4,71.0a1.5,1.5 0 1,0 3.0,0a1.5,1.5 0 1,0 -3.0,0M260.6,67.9a1.5,1.5 0 1,0 3.0,0a1.5,1.5 0 1,0 -3.0,0M262.1,65.8a1.5,1.5 0 1,0 3.0,0a1.5,1.5 0 1,0 -3.0,0M262.3,64.7a1.5,1.5 0 1,0 3.0,0a1.5,1.5 0 1,0 -3.0,0M263.2,63.2a1.5,1.5 0 1,0 3.0,0a1.5,1.5 0 1,0 -3.0,0M265.9,59.6a1.5,1.5 0 1,0 3.0,0a1.5,1.5 0 1,0 -3.0,0M266.1,58.0a1.5,1.5 0 1,0 3.0,0a1.5,1.5 0 1,0 -3.0,0M268.3,57.0a1.5,1.5 0 1,0 3.0,0a1.5,1.5 0 1,0 -3.0,0M270.9,55.8a1.5,1.5 0 1,0 3.0,0a1.5,1.5 0 1,0 -3.0,0M272.7,56.2a1.5,1.5 0 1,0 3.0,0a1.5,1.5 0 1,0 -3.0,0M274.3,57.0a1.5,1.5 0 1,0 3.0,0a1.5,1.5 0 1,0 -3.0,0M276.0,58.3a1.5,1.5 0 1,0 3.0,0a1.5,1.5 0 1,0 -3.0,0M278.3,59.5a1.5,1.5 0 1,0 3.0,0a1.5,1.5 0 1,0 -3.0,0M279.9,61.1a1.5,1.5 0 1,0 3.0,0a1.5,1.5 0 1,0 -3.0,0M282.1,62.3a1.5,1.5 0 1,0 3.0,0a1.5,1.5 0 1,0 -3.0,0M283.0,64.4a1.5,1.5 0 1,0 3.0,0a1.5,1.5 0 1,0 -3.0,0M282.9,66.5a1.5,1.5 0 1,0 3.0,0a1.5,1.5 0 1,0 -3.0,0M283.2,68.5a1.5,1.5 0 1,0 3.0,0a1.5,1.5 0 1,0 -3.0,0M281.9,69.9a1.5,1.5 0 1,0 3.0,0a1.5,1.5 0 1,0 -3.0,0M280.3,72.6a1.5,1.5 0 1,0 3.0,0a1.5,1.5 0 1,0 -3.0,0M279.9,75.5a1.5,1.5 0 1,0 3.0,0a1.5,1.5 0 1,0 -3.0,0M278.9,76.8a1.5,1.5 0 1,0 3.0,0a1.5,1.5 0 1,0 -3.0,0M277.7,79.6a1.5,1.5 0 1,0 3.0,0a1.5,1.5 0 1,0 -3.0,0M277.4,79.3a1.5,1.5 0 1,0 3.0,0a1.5,1.5 0 1,0 -3.0,0M275.5,78.7a1.5,1.5 0 1,0 3.0,0a1.5,1.5 0 1,0 -3.0,0M275.2,76.9a1.5,1.5 0 1,0 3.0,0a1.5,1.5 0 1,0 -3.0,0M275.1,75.0a1.5,1.5 0 1,0 3.0,0a1.5,1.5 0 1,0 -3.0,0M273.5,73.3a1.5,1.5 0 1,0 3.0,0a1.5,1.5 0 1,0 -3.0,0M272.7,72.2a1.5,1.5 0 1,0 3.0,0a1.5,1.5 0 1,0 -3.0,0M269.9,73.7a1.5,1.5 0 1,0 3.0,0a1.5,1.5 0 1,0 -3.0,0M268.6,74.7a1.5,1.5 0 1,0 3.0,0a1.5,1.5 0 1,0 -3.0,0M267.5,77.3a1.5,1.5 0 1,0 3.0,0a1.5,1.5 0 1,0 -3.0,0M266.5,79.4a1.5,1.5 0 1,0 3.0,0a1.5,1.5 0 1,0 -3.0,0M265.8,81.9a1.5,1.5 0 1,0 3.0,0a1.5,1.5 0 1,0 -3.0,0M264.9,82.9a1.5,1.5 0 1,0 3.0,0a1.5,1.5 0 1,0 -3.0,0M264.8,85.5a1.5,1.5 0 1,0 3.0,0a1.5,1.5 0 1,0 -3.0,0M263.9,87.9a1.5,1.5 0 1,0 3.0,0a1.5,1.5 0 1,0 -3.0,0M263.0,89.5a1.5,1.5 0 1,0 3.0,0a1.5,1.5 0 1,0 -3.0,0M262.4,92.2a1.5,1.5 0 1,0 3.0,0a1.5,1.5 0 1,0 -3.0,0M261.7,93.0a1.5,1.5 0 1,0 3.0,0a1.5,1.5 0 1,0 -3.0,0M259.7,93.0a1.5,1.5 0 1,0 3.0,0a1.5,1.5 0 1,0 -3.0,0M255.9,93.8a1.5,1.5 0 1,0 3.0,0a1.5,1.5 0 1,0 -3.0,0M254.7,92.7a1.5,1.5 0 1,0 3.0,0a1.5,1.5 0 1,0 -3.0,0M254.4,90.9a1.5,1.5 0 1,0 3.0,0a1.5,1.5 0 1,0 -3.0,0M253.2,87.8a1.5,1.5 0 1,0 3.0,0a1.5,1.5 0 1,0 -3.0,0M252.2,85.6a1.5,1.5 0 1,0 3.0,0a1.5,1.5 0 1,0 -3.0,0"/>
<path id="e_B2" d="M235.4,99.1a1.5,1.5 0 1,0 3.0,0a1.5,1.5 0 1,0 -3.0,0M237.9,97.4a1.5,1.5 0 1,0 3.0,0a1.5,1.5 0 1,0 -3.0,0M240.1,96.8a1.5,1.5 0 1,0 3.0,0a1.5,1.5 0 1,0 -3.0,0M242.9,95.2a1.5,1.5 0 1,0 3.0,0a1.5,1.5 0 1,0 -3.0,0M244.1,94.5a1.5,1.5 0 1,0 3.0,0a1.5,1.5 0 1,0 -3.0,0M245.6,93.9a1.5,1.5 0 1,0 3.0,0a1.5,1.5 0 1,0 -3.0,0M247.4,94.6a1.5,1.5 0 1,0 3.0,0a1.5,1.5 0 1,0 -3.0,0M249.8,95.3a1.5,1.5 0 1,0 3.0,0a1.5,1.5 0 1,0 -3.0,0M252.4,94.9a1.5,1.5 0 1,0 3.0,0a1.5,1.5 0 1,0 -3.0,0M254.6,94.8a1.5,1.5 0 1,0 3.0,0a1.5,1.5 0 1,0 -3.0,0M257.6,95.3a1.5,1.5 0 1,0 3.0,0a1.5,1.5 0 1,0 -3.0,0M260.3,95.1a1.5,1.5 0 1,0 3.0,0a1.5,1.5 0 1,0 -3.0,0M263.2,95.0a1.5,1.5 0 1,0 3.0,0a1.5,1.5 0 1,0 -3.0,0M265.7,95.1a1.5,1.5 0 1,0 3.0,0a1.5,1.5 0 1,0 -3.0,0M267.4,95.1a1.5,1.5 0 1,0 3.0,0a1.5,1.5 0 1,0 -3.0,0M270.0,97.7a1.5,1.5 0 1,0 3.0,0a1.5,1.5 0 1,0 -3.0,0M271.8,98.9a1.5,1.5 0 1,0 3.0,0a1.5,1.5 0 1,0 -3.0,0M272.6,99.8a1.5,1.5 0 1,0 3.0,0a1.5,1.5 0 1,0 -3.0,0M275.0,101.4a1.5,1.5 0 1,0 3.0,0a1.5,1.5 0 1,0 -3.0,0M274.5,103.0a1.5,1.5 0 1,0 3.0,0a1.5,1.5 0 1,0 -3.0,0M274.2,104.8a1.5,1.5 0 1,0 3.0,0a1.5,1.5 0 1,0 -3.0,0M275.2,107.4a1.5,1.5 0 1,0 3.0,0a1.5,1.5 0 1,0 -3.0,0M276.5,109.2a1.5,1.5 0 1,0 3.0,0a1.5,1.5 0 1,0 -3.0,0M278.4,112.5a1.5,1.5 0 1,0 3.0,0a1.5,1.5 0 1,0 -3.0,0M278.9,114.1a1.5,1.5 0 1,0 3.0,0a1.5,1.5 0 1,0 -3.0,0M279.1,117.5a1.5,1.5 0 1,0 3.0,0a1.5,1.5 0 1,0 -3.0,0M279.1,120.0a1.5,1.5 0 1,0 3.0,0a1.5,1.5 0 1,0 -3.0,0M279.1,121.1a1.5,1.5 0 1,0 3.0,0a1.5,1.5 0 1,0 -3.0,0M279.4,123.9a1.5,1.5 0 1,0 3.0,0a1.5,1.5 0 1,0 -3.0,0M277.8,126.6a1.5,1.5 0 1,0 3.0,0a1.5,1.5 0 1,0 -3.0,0M276.9,128.1a1.5,1.5 0 1,0 3.0,0a1.5,1.5 0 1,0 -3.0,0M275.3,129.4a1.5,1.5 0 1,0 3.0,0a1.5,1.5 0 1,0 -3.0,0M272.7,129.8a1.5,1.5 0 1,0 3.0,0a1.5,1.5 0 1,0 -3.0,0M270.2,129.5a1.5,1.5 0 1,0 3.0,0a1.5,1.5 0 1,0 -3.0,0M267.6,129.9a1.5,1.5 0 1,0 3.0,0a1.5,1.5 0 1,0 -3.0,0M264.3,129.5a1.5,1.5 0 1,0 3.0,0a1.5,1.5 0 1,0 -3.0,0M261.5,127.7a1.5,1.5 0 1,0 3.0,0a1.5,1.5 0 1,0 -3.0,0M259.1,127.0a1.5,1.5 0 1,0 3.0,0a1.5,1.5 0 1,0 -3.0,0M257.1,127.0a1.5,1.5 0 1,0 3.0,0a1.5,1.5 0 1,0 -3.0,0M254.3,127.3a1.5,1.5 0 1,0 3.0,0a1.5,1.5 0 1,0 -3.0,0M252.5,128.1a1.5,1.5 0 1,0 3.0,0a1.5,1.5 0 1,0 -3.0,0M250.2,128.5a1.5,1.5 0 1,0 3.0,0a1.5,1.5 0 1,0 -3.0,0M248.2,129.4a1.5,1.5 0 1,0 3.0,0a1.5,1.5 0 1,0 -3.0,0M246.9,129.9a1.5,1.5 0 1,0 3.0,0a1.5,1.5 0 1,0 -3.0,0M243.6,131.9a1.5,1.5 0 1,0 3.0,0a1.5,1.5 0 1,0 -3.0,0M242.3,131.4a1.5,1.5 0 1,0 3.0,0a1.5,1.5 0 1,0 -3.0,0M240.1,130.3a1.5,1.5 0 1,0 3.0,0a1.5,1.5 0 1,0 -3.0,0M239.1,129.0a1.5,1.5 0 1,0 3.0,0a1.5,1.5 0 1,0 -3.0,0M238.1,128.1a1.5,1.5 0 1,0 3.0,0a1.5,1.5 0 1,0 -3.0,0M236.8,126.2a1.5,1.5 0 1,0 3.0,0a1.5,1.5 0 1,0 -3.0,0M235.8,124.1a1.5,1.5 0 1,0 3.0,0a1.5,1.5 0 1,0 -3.0,0M234.9,122.4a1.5,1.5 0 1,0 3.0,0a1.5,1.5 0 1,0 -3.0,0M232.7,120.5a1.5,1.5 0 1,0 3.0,0a1.5,1.5 0 1,0 -3.0,0M232.6,118.1a1.5,1.5 0 1,0 3.0,0a1.5,1.5 0 1,0 -3.0,0M231.7,116.6a1.5,1.5 0 1,0 3.0,0a1.5,1.5 0 1,0 -3.0,0M231.5,113.4a1.5,1.5 0 1,0 3.0,0a1.5,1.5 0 1,0 -3.0,0M231.6,111.4a1.5,1.5 0 1,0 3.0,0a1.5,1.5 0 1,0 -3.0,0M232.0,109.1a1.5,1.5 0 1,0 3.0,0a1.5,1.5 0 1,0 -3.0,0M232.6,107.1a1.5,1.5 0 1,0 3.0,0a1.5,1.5 0 1,0 -3.0,0M232.7,104.6a1.5,1.5 0 1,0 3.0,0a1.5,1.5 0 1,0 -3.0,0M233.2,103.3a1.5,1.5 0 1,0 3.0,0a1.5,1.5 0 1,0 -3.0,0M233.7,101.1a1.5,1.5 0 1,0 3.0,0a1.5,1.5 0 1,0 -3.0,0"/>
<path id="e_C" d="M144.5,156.0a1.5,1.5 0 1,0 3.0,0a1.5,1.5 0 1,0 -3.0,0M142.3,157.8a1.5,1.5 0 1,0 3.0,0a1.5,1.5 0 1,0 -3.0,0M140.6,158.3a1.5,1.5 0 1,0 3.0,0a1.5,1.5 0 1,0 -3.0,0M138.8,160.2a1.5,1.5 0 1,0 3.0,0a1.5,1.5 0 1,0 -3.0,0M138.3,162.4a1.5,1.5 0 1,0 3.0,0a1.5,1.5 0 1,0 -3.0,0M136.6,163.9a1.5,1.5 0 1,0 3.0,0a1.5,1.5 0 1,0 -3.0,0M136.0,166.5a1.5,1.5 0 1,0 3.0,0a1.5,1.5 0 1,0 -3.0,0M134.2,168.9a1.5,1.5 0 1,0 3.0,0a1.5,1.5 0 1,0 -3.0,0M133.9,171.2a1.5,1.5 0 1,0 3.0,0a1.5,1.5 0 1,0 -3.0,0M133.3,173.1a1.5,1.5 0 1,0 3.0,0a1.5,1.5 0 1,0 -3.0,0M130.9,175.7a1.5,1.5 0 1,0 3.0,0a1.5,1.5 0 1,0 -3.0,0M128.9,176.4a1.5,1.5 0 1,0 3.0,0a1.5,1.5 0 1,0 -3.0,0M128.0,177.3a1.5,1.5 0 1,0 3.0,0a1.5,1.5 0 1,0 -3.0,0M125.4,178.0a1.5,1.5 0 1,0 3.0,0a1.5,1.5 0 1,0 -3.0,0M123.5,178.1a1.5,1.5 0 1,0 3.0,0a1.5,1.5 0 1,0 -3.0,0M121.2,180.0a1.5,1.5 0 1,0 3.0,0a1.5,1.5 0 1,0 -3.0,0M118.7,180.8a1.5,1.5 0 1,0 3.0,0a1.5,1.5 0 1,0 -3.0,0M116.8,182.3a1.5,1.5 0 1,0 3.0,0a1.5,1.5 0 1,0 -3.0,0M116.6,183.3a1.5,1.5 0 1,0 3.0,0a1.5,1.5 0 1,0 -3.0,0M116.0,185.4a1.5,1.5 0 1,0 3.0,0a1.5,1.5 0 1,0 -3.0,0M115.8,187.5a1.5,1.5 0 1,0 3.0,0a1.5,1.5 0 1,0 -3.0,0M115.9,189.0a1.5,1.5 0 1,0 3.0,0a1.5,1.5 0 1,0 -3.0,0M115.8,191.6a1.5,1.5 0 1,0 3.0,0a1.5,1.5 0 1,0 -3.0,0M115.8,193.6a1.5,1.5 0 1,0 3.0,0a1.5,1.5 0 1,0 -3.0,0M116.2,196.2a1.5,1.5 0 1,0 3.0,0a1.5,1.5 0 1,0 -3.0,0M116.5,199.0a1.5,1.5 0 1,0 3.0,0a1.5,1.5 0 1,0 -3.0,0M115.9,201.3a1.5,1.5 0 1,0 3.0,0a1.5,1.5 0 1,0 -3.0,0M115.6,203.5a1.5,1.5 0 1,0 3.0,0a1.5,1.5 0 1,0 -3.0,0M114.6,206.4a1.5,1.5 0 1,0 3.0,0a1.5,1.5 0 1,0 -3.0,0M114.6,207.5a1.5,1.5 0 1,0 3.0,0a1.5,1.5 0 1,0 -3.0,0M115.8,208.3a1.5,1.5 0 1,0 3.0,0a1.5,1.5 0 1,0 -3.0,0M117.9,210.2a1.5,1.5 0 1,0 3.0,0a1.5,1.5 0 1,0 -3.0,0M119.6,211.2a1.5,1.5 0 1,0 3.0,0a1.5,1.5 0 1,0 -3.0,0M120.2,211.6a1.5,1.5 0 1,0 3.0,0a1.5,1.5 0 1,0 -3.0,0M123.0,213.2a1.5,1.5 0 1,0 3.0,0a1.5,1.5 0 1,0 -3.0,0M125.0,213.5a1.5,1.5 0 1,0 3.0,0a1.5,1.5 0 1,0 -3.0,0M126.5,214.2a1.5,1.5 0 1,0 3.0,0a1.5,1.5 0 1,0 -3.0,0M129.4,214.0a1.5,1.5 0 1,0 3.0,0a1.5,1.5 0 1,0 -3.0,0M131.4,214.6a1.5,1.5 0 1,0 3.0,0a1.5,1.5 0 1,0 -3.0,0M133.4,214.8a1.5,1.5 0 1,0 3.0,0a1.5,1.5 0 1,0 -3.0,0M135.7,215.3a1.5,1.5 0 1,0 3.0,0a1.5,1.5 0 1,0 -3.0,0M137.2,215.7a1.5,1.5 0 1,0 3.0,0a1.5,1.5 0 1,0 -3.0,0M139.4,215.3a1.5,1.5 0 1,0 3.0,0a1.5,1.5 0 1,0 -3.0,0M141.8,215.6a1.5,1.5 0 1,0 3.0,0a1.5,1.5 0 1,0 -3.0,0M144.1,215.5a1.5,1.5 0 1,0 3.0,0a1.5,1.5 0 1,0 -3.0,0M146.3,214.7a1.5,1.5 0 1,0 3.0,0a1.5,1.5 0 1,0 -3.0,0M147.5,214.5a1.5,1.5 0 1,0 3.0,0a1.5,1.5 0 1,0 -3.0,0M149.5,214.6a1.5,1.5 0 1,0 3.0,0a1.5,1.5 0 1,0 -3.0,0M152.3,213.8a1.5,1.5 0 1,0 3.0,0a1.5,1.5 0 1,0 -3.0,0M153.9,213.5a1.5,1.5 0 1,0 3.0,0a1.5,1.5 0 1,0 -3.0,0M156.0,214.0a1.5,1.5 0 1,0 3.0,0a1.5,1.5 0 1,0 -3.0,0M158.7,213.9a1.5,1.5 0 1,0 3.0,0a1.5,1.5 0 1,0 -3.0,0M160.3,212.8a1.5,1.5 0 1,0 3.0,0a1.5,1.5 0 1,0 -3.0,0M163.1,212.0a1.5,1.5 0 1,0 3.0,0a1.5,1.5 0 1,0 -3.0,0M165.3,211.2a1.5,1.5 0 1,0 3.0,0a1.5,1.5 0 1,0 -3.0,0M166.8,210.1a1.5,1.5 0 1,0 3.0,0a1.5,1.5 0 1,0 -3.0,0M169.3,210.2a1.5,1.5 0 1,0 3.0,0a1.5,1.5 0 1,0 -3.0,0M172.8,210.4a1.5,1.5 0 1,0 3.0,0a1.5,1.5 0 1,0 -3.0,0M174.0,211.3a1.5,1.5 0 1,0 3.0,0a1.5,1.5 0 1,0 -3.0,0M177.2,211.7a1.5,1.5 0 1,0 3.0,0a1.5,1.5 0 1,0 -3.0,0M179.7,211.5a1.5,1.5 0 1,0 3.0,0a1.5,1.5 0 1,0 -3.0,0M181.3,211.0a1.5,1.5 0 1,0 3.0,0a1.5,1.5 0 1,0 -3.0,0M184.6,210.4a1.5,1.5 0 1,0 3.0,0a1.5,1.5 0 1,0 -3.0,0M186.7,209.3a1.5,1.5 0 1,0 3.0,0a1.5,1.5 0 1,0 -3.0,0M188.5,208.7a1.5,1.5 0 1,0 3.0,0a1.5,1.5 0 1,0 -3.0,0M189.7,206.7a1.5,1.5 0 1,0 3.0,0a1.5,1.5 0 1,0 -3.0,0M191.5,204.7a1.5,1.5 0 1,0 3.0,0a1.5,1.5 0 1,0 -3.0,0M193.1,203.1a1.5,1.5 0 1,0 3.0,0a1.5,1.5 0 1,0 -3.0,0M193.8,201.4a1.5,1.5 0 1,0 3.0,0a1.5,1.5 0 1,0 -3.0,0M196.4,199.9a1.5,1.5 0 1,0 3.0,0a1.5,1.5 0 1,0 -3.0,0M198.1,198.2a1.5,1.5 0 1,0 3.0,0a1.5,1.5 0 1,0 -3.0,0M200.0,195.5a1.5,1.5 0 1,0 3.0,0a1.5,1.5 0 1,0 -3.0,0M201.5,194.0a1.5,1.5 0 1,0 3.0,0a1.5,1.5 0 1,0 -3.0,0M202.9,192.8a1.5,1.5 0 1,0 3.0,0a1.5,1.5 0 1,0 -3.0,0M204.8,190.9a1.5,1.5 0 1,0 3.0,0a1.5,1.5 0 1,0 -3.0,0M205.6,188.9a1.5,1.5 0 1,0 3.0,0a1.5,1.5 0 1,0 -3.0,0M206.2,187.4a1.5,1.5 0 1,0 3.0,0a1.5,1.5 0 1,0 -3.0,0M207.6,185.2a1.5,1.5 0 1,0 3.0,0a1.5,1.5 0 1,0 -3.0,0M206.3,183.8a1.5,1.5 0 1,0 3.0,0a1.5,1.5 0 1,0 -3.0,0M205.2,182.7a1.5,1.5 0 1,0 3.0,0a1.5,1.5 0 1,0 -3.0,0M204.4,181.1a1.5,1.5 0 1,0 3.0,0a1.5,1.5 0 1,0 -3.0,0M202.7,180.1a1.5,1.5 0 1,0 3.0,0a1.5,1.5 0 1,0 -3.0,0M200.5,179.6a1.5,1.5 0 1,0 3.0,0a1.5,1.5 0 1,0 -3.0,0M198.1,179.0a1.5,1.5 0 1,0 3.0,0a1.5,1.5 0 1,0 -3.0,0M197.0,178.1a1.5,1.5 0 1,0 3.0,0a1.5,1.5 0 1,0 -3.0,0M194.6,176.9a1.5,1.5 0 1,0 3.0,0a1.5,1.5 0 1,0 -3.0,0M192.3,175.4a1.5,1.5 0 1,0 3.0,0a1.5,1.5 0 1,0 -3.0,0M190.2,173.1a1.5,1.5 0 1,0 3.0,0a1.5,1.5 0 1,0 -3.0,0M188.5,170.1a1.5,1.5 0 1,0 3.0,0a1.5,1.5 0 1,0 -3.0,0M187.5,168.8a1.5,1.5 0 1,0 3.0,0a1.5,1.5 0 1,0 -3.0,0M185.7,168.2a1.5,1.5 0 1,0 3.0,0a1.5,1.5 0 1,0 -3.0,0M185.6,168.4a1.5,1.5 0 1,0 3.0,0a1.5,1.5 0 1,0 -3.0,0M185.7,170.8a1.5,1.5 0 1,0 3.0,0a1.5,1.5 0 1,0 -3.0,0M185.6,173.3a1.5,1.5 0 1,0 3.0,0a1.5,1.5 0 1,0 -3.0,0M184.1,175.3a1.5,1.5 0 1,0 3.0,0a1.5,1.5 0 1,0 -3.0,0M182.1,176.0a1.5,1.5 0 1,0 3.0,0a1.5,1.5 0 1,0 -3.0,0M179.5,176.3a1.5,1.5 0 1,0 3.0,0a1.5,1.5 0 1,0 -3.0,0M177.3,175.5a1.5,1.5 0 1,0 3.0,0a1.5,1.5 0 1,0 -3.0,0M175.0,175.7a1.5,1.5 0 1,0 3.0,0a1.5,1.5 0 1,0 -3.0,0M172.6,174.6a1.5,1.5 0 1,0 3.0,0a1.5,1.5 0 1,0 -3.0,0M170.3,173.7a1.5,1.5 0 1,0 3.0,0a1.5,1.5 0 1,0 -3.0,0M168.7,171.4a1.5,1.5 0 1,0 3.0,0a1.5,1.5 0 1,0 -3.0,0M167.0,170.0a1.5,1.5 0 1,0 3.0,0a1.5,1.5 0 1,0 -3.0,0M164.5,168.2a1.5,1.5 0 1,0 3.0,0a1.5,1.5 0 1,0 -3.0,0M162.9,167.8a1.5,1.5 0 1,0 3.0,0a1.5,1.5 0 1,0 -3.0,0M160.9,165.4a1.5,1.5 0 1,0 3.0,0a1.5,1.5 0 1,0 -3.0,0M158.2,163.6a1.5,1.5 0 1,0 3.0,0a1.5,1.5 0 1,0 -3.0,0M157.1,162.1a1.5,1.5 0 1,0 3.0,0a1.5,1.5 0 1,0 -3.0,0M154.9,160.6a1.5,1.5 0 1,0 3.0,0a1.5,1.5 0 1,0 -3.0,0M153.6,158.9a1.5,1.5 0 1,0 3.0,0a1.5,1.5 0 1,0 -3.0,0M151.8,157.1a1.5,1.5 0 1,0 3.0,0a1.5,1.5 0 1,0 -3.0,0M150.5,156.6a1.5,1.5 0 1,0 3.0,0a1.5,1.5 0 1,0 -3.0,0M148.2,156.8a1.5,1.5 0 1,0 3.0,0a1.5,1.5 0 1,0 -3.0,0M145.8,155.9a1.5,1.5 0 1,0 3.0,0a1.5,1.5 0 1,0 -3.0,0"/>
<path id="e_D" d="M195.2,130.1a1.5,1.5 0 1,0 3.0,0a1.5,1.5 0 1,0 -3.0,0M196.4,130.7a1.5,1.5 0 1,0 3.0,0a1.5,1.5 0 1,0 -3.0,0M197.6,132.0a1.5,1.5 0 1,0 3.0,0a1.5,1.5 0 1,0 -3.0,0M199.3,134.4a1.5,1.5 0 1,0 3.0,0a1.5,1.5 0 1,0 -3.0,0M199.9,137.0a1.5,1.5 0 1,0 3.0,0a1.5,1.5 0 1,0 -3.0,0M200.3,139.2a1.5,1.5 0 1,0 3.0,0a1.5,1.5 0 1,0 -3.0,0M201.6,141.4a1.5,1.5 0 1,0 3.0,0a1.5,1.5 0 1,0 -3.0,0M200.8,143.4a1.5,1.5 0 1,0 3.0,0a1.5,1.5 0 1,0 -3.0,0M199.9,145.3a1.5,1.5 0 1,0 3.0,0a1.5,1.5 0 1,0 -3.0,0M198.3,147.6a1.5,1.5 0 1,0 3.0,0a1.5,1.5 0 1,0 -3.0,0M197.6,150.2a1.5,1.5 0 1,0 3.0,0a1.5,1.5 0 1,0 -3.0,0M195.8,151.9a1.5,1.5 0 1,0 3.0,0a1.5,1.5 0 1,0 -3.0,0M195.2,153.6a1.5,1.5 0 1,0 3.0,0a1.5,1.5 0 1,0 -3.0,0M192.7,153.2a1.5,1.5 0 1,0 3.0,0a1.5,1.5 0 1,0 -3.0,0M191.4,151.8a1.5,1.5 0 1,0 3.0,0a1.5,1.5 0 1,0 -3.0,0M189.8,149.6a1.5,1.5 0 1,0 3.0,0a1.5,1.5 0 1,0 -3.0,0M189.5,146.7a1.5,1.5 0 1,0 3.0,0a1.5,1.5 0 1,0 -3.0,0M190.2,143.7a1.5,1.5 0 1,0 3.0,0a1.5,1.5 0 1,0 -3.0,0M189.2,140.5a1.5,1.5 0 1,0 3.0,0a1.5,1.5 0 1,0 -3.0,0M188.7,138.0a1.5,1.5 0 1,0 3.0,0a1.5,1.5 0 1,0 -3.0,0M188.9,135.7a1.5,1.5 0 1,0 3.0,0a1.5,1.5 0 1,0 -3.0,0M190.1,134.0a1.5,1.5 0 1,0 3.0,0a1.5,1.5 0 1,0 -3.0,0M191.3,131.9a1.5,1.5 0 1,0 3.0,0a1.5,1.5 0 1,0 -3.0,0M193.0,130.0a1.5,1.5 0 1,0 3.0,0a1.5,1.5 0 1,0 -3.0,0"/>
<path id="e_Dl" d="M183.2,153.7a1.5,1.5 0 1,0 3.0,0a1.5,1.5 0 1,0 -3.0,0M184.6,151.3a1.5,1.5 0 1,0 3.0,0a1.5,1.5 0 1,0 -3.0,0M186.3,150.1a1.5,1.5 0 1,0 3.0,0a1.5,1.5 0 1,0 -3.0,0M188.4,149.1a1.5,1.5 0 1,0 3.0,0a1.5,1.5 0 1,0 -3.0,0M190.2,150.2a1.5,1.5 0 1,0 3.0,0a1.5,1.5 0 1,0 -3.0,0M190.9,152.3a1.5,1.5 0 1,0 3.0,0a1.5,1.5 0 1,0 -3.0,0M190.4,154.9a1.5,1.5 0 1,0 3.0,0a1.5,1.5 0 1,0 -3.0,0M189.5,158.4a1.5,1.5 0 1,0 3.0,0a1.5,1.5 0 1,0 -3.0,0M189.1,161.2a1.5,1.5 0 1,0 3.0,0a1.5,1.5 0 1,0 -3.0,0M187.4,163.1a1.5,1.5 0 1,0 3.0,0a1.5,1.5 0 1,0 -3.0,0M186.3,163.8a1.5,1.5 0 1,0 3.0,0a1.5,1.5 0 1,0 -3.0,0M184.8,162.7a1.5,1.5 0 1,0 3.0,0a1.5,1.5 0 1,0 -3.0,0M184.9,160.8a1.5,1.5 0 1,0 3.0,0a1.5,1.5 0 1,0 -3.0,0M184.7,157.8a1.5,1.5 0 1,0 3.0,0a1.5,1.5 0 1,0 -3.0,0M183.5,155.6a1.5,1.5 0 1,0 3.0,0a1.5,1.5 0 1,0 -3.0,0"/>
<path id="e_E" d="M41.5,290.3a1.5,1.5 0 1,0 3.0,0a1.5,1.5 0 1,0 -3.0,0M44.4,289.2a1.5,1.5 0 1,0 3.0,0a1.5,1.5 0 1,0 -3.0,0M46.5,289.0a1.5,1.5 0 1,0 3.0,0a1.5,1.5 0 1,0 -3.0,0M48.8,288.8a1.5,1.5 0 1,0 3.0,0a1.5,1.5 0 1,0 -3.0,0M50.0,289.2a1.5,1.5 0 1,0 3.0,0a1.5,1.5 0 1,0 -3.0,0M51.8,290.3a1.5,1.5 0 1,0 3.0,0a1.5,1.5 0 1,0 -3.0,0M54.0,292.4a1.5,1.5 0 1,0 3.0,0a1.5,1.5 0 1,0 -3.0,0M55.8,292.9a1.5,1.5 0 1,0 3.0,0a1.5,1.5 0 1,0 -3.0,0M57.4,295.5a1.5,1.5 0 1,0 3.0,0a1.5,1.5 0 1,0 -3.0,0M59.1,296.7a1.5,1.5 0 1,0 3.0,0a1.5,1.5 0 1,0 -3.0,0M60.3,298.3a1.5,1.5 0 1,0 3.0,0a1.5,1.5 0 1,0 -3.0,0M60.7,300.0a1.5,1.5 0 1,0 3.0,0a1.5,1.5 0 1,0 -3.0,0M62.7,302.3a1.5,1.5 0 1,0 3.0,0a1.5,1.5 0 1,0 -3.0,0M63.0,304.6a1.5,1.5 0 1,0 3.0,0a1.5,1.5 0 1,0 -3.0,0M61.8,306.1a1.5,1.5 0 1,0 3.0,0a1.5,1.5 0 1,0 -3.0,0M59.9,307.9a1.5,1.5 0 1,0 3.0,0a1.5,1.5 0 1,0 -3.0,0M58.0,309.4a1.5,1.5 0 1,0 3.0,0a1.5,1.5 0 1,0 -3.0,0M55.8,309.7a1.5,1.5 0 1,0 3.0,0a1.5,1.5 0 1,0 -3.0,0M54.9,311.1a1.5,1.5 0 1,0 3.0,0a1.5,1.5 0 1,0 -3.0,0M52.8,312.4a1.5,1.5 0 1,0 3.0,0a1.5,1.5 0 1,0 -3.0,0M49.6,314.9a1.5,1.5 0 1,0 3.0,0a1.5,1.5 0 1,0 -3.0,0M48.6,315.9a1.5,1.5 0 1,0 3.0,0a1.5,1.5 0 1,0 -3.0,0M46.7,317.4a1.5,1.5 0 1,0 3.0,0a1.5,1.5 0 1,0 -3.0,0M45.3,319.0a1.5,1.5 0 1,0 3.0,0a1.5,1.5 0 1,0 -3.0,0M43.2,321.5a1.5,1.5 0 1,0 3.0,0a1.5,1.5 0 1,0 -3.0,0M42.3,321.2a1.5,1.5 0 1,0 3.0,0a1.5,1.5 0 1,0 -3.0,0M39.8,321.8a1.5,1.5 0 1,0 3.0,0a1.5,1.5 0 1,0 -3.0,0M38.1,321.4a1.5,1.5 0 1,0 3.0,0a1.5,1.5 0 1,0 -3.0,0M35.9,320.2a1.5,1.5 0 1,0 3.0,0a1.5,1.5 0 1,0 -3.0,0M33.3,319.9a1.5,1.5 0 1,0 3.0,0a1.5,1.5 0 1,0 -3.0,0M31.3,317.9a1.5,1.5 0 1,0 3.0,0a1.5,1.5 0 1,0 -3.0,0M29.5,316.4a1.5,1.5 0 1,0 3.0,0a1.5,1.5 0 1,0 -3.0,0M28.8,314.2a1.5,1.5 0 1,0 3.0,0a1.5,1.5 0 1,0 -3.0,0M28.6,312.2a1.5,1.5 0 1,0 3.0,0a1.5,1.5 0 1,0 -3.0,0M27.7,309.8a1.5,1.5 0 1,0 3.0,0a1.5,1.5 0 1,0 -3.0,0M27.9,307.5a1.5,1.5 0 1,0 3.0,0a1.5,1.5 0 1,0 -3.0,0M29.5,306.0a1.5,1.5 0 1,0 3.0,0a1.5,1.5 0 1,0 -3.0,0M31.7,304.8a1.5,1.5 0 1,0 3.0,0a1.5,1.5 0 1,0 -3.0,0M32.8,302.7a1.5,1.5 0 1,0 3.0,0a1.5,1.5 0 1,0 -3.0,0M33.2,301.0a1.5,1.5 0 1,0 3.0,0a1.5,1.5 0 1,0 -3.0,0M35.1,299.2a1.5,1.5 0 1,0 3.0,0a1.5,1.5 0 1,0 -3.0,0M35.7,296.8a1.5,1.5 0 1,0 3.0,0a1.5,1.5 0 1,0 -3.0,0M36.7,296.4a1.5,1.5 0 1,0 3.0,0a1.5,1.5 0 1,0 -3.0,0M38.7,294.0a1.5,1.5 0 1,0 3.0,0a1.5,1.5 0 1,0 -3.0,0M39.3,292.2a1.5,1.5 0 1,0 3.0,0a1.5,1.5 0 1,0 -3.0,0M40.8,290.4a1.5,1.5 0 1,0 3.0,0a1.5,1.5 0 1,0 -3.0,0"/>
<path id="e_E2" d="M58.9,299.2a1.5,1.5 0 1,0 3.0,0a1.5,1.5 0 1,0 -3.0,0M61.2,301.3a1.5,1.5 0 1,0 3.0,0a1.5,1.5 0 1,0 -3.0,0M62.4,302.5a1.5,1.5 0 1,0 3.0,0a1.5,1.5 0 1,0 -3.0,0M63.0,305.0a1.5,1.5 0 1,0 3.0,0a1.5,1.5 0 1,0 -3.0,0M62.4,307.2a1.5,1.5 0 1,0 3.0,0a1.5,1.5 0 1,0 -3.0,0M60.5,308.4a1.5,1.5 0 1,0 3.0,0a1.5,1.5 0 1,0 -3.0,0M58.5,310.0a1.5,1.5 0 1,0 3.0,0a1.5,1.5 0 1,0 -3.0,0M56.1,310.5a1.5,1.5 0 1,0 3.0,0a1.5,1.5 0 1,0 -3.0,0M54.1,311.2a1.5,1.5 0 1,0 3.0,0a1.5,1.5 0 1,0 -3.0,0M53.0,310.6a1.5,1.5 0 1,0 3.0,0a1.5,1.5 0 1,0 -3.0,0M54.4,307.6a1.5,1.5 0 1,0 3.0,0a1.5,1.5 0 1,0 -3.0,0M55.6,305.6a1.5,1.5 0 1,0 3.0,0a1.5,1.5 0 1,0 -3.0,0M56.7,303.6a1.5,1.5 0 1,0 3.0,0a1.5,1.5 0 1,0 -3.0,0M58.1,301.6a1.5,1.5 0 1,0 3.0,0a1.5,1.5 0 1,0 -3.0,0M58.8,299.4a1.5,1.5 0 1,0 3.0,0a1.5,1.5 0 1,0 -3.0,0"/>
<path id="e_F1" d="M137.9,288.5a1.5,1.5 0 1,0 3.0,0a1.5,1.5 0 1,0 -3.0,0M141.1,290.6a1.5,1.5 0 1,0 3.0,0a1.5,1.5 0 1,0 -3.0,0M143.5,291.5a1.5,1.5 0 1,0 3.0,0a1.5,1.5 0 1,0 -3.0,0M144.8,292.0a1.5,1.5 0 1,0 3.0,0a1.5,1.5 0 1,0 -3.0,0M147.0,293.2a1.5,1.5 0 1,0 3.0,0a1.5,1.5 0 1,0 -3.0,0M148.4,294.3a1.5,1.5 0 1,0 3.0,0a1.5,1.5 0 1,0 -3.0,0M149.4,296.1a1.5,1.5 0 1,0 3.0,0a1.5,1.5 0 1,0 -3.0,0M151.1,298.4a1.5,1.5 0 1,0 3.0,0a1.5,1.5 0 1,0 -3.0,0M151.9,300.0a1.5,1.5 0 1,0 3.0,0a1.5,1.5 0 1,0 -3.0,0M150.8,301.5a1.5,1.5 0 1,0 3.0,0a1.5,1.5 0 1,0 -3.0,0M149.9,303.2a1.5,1.5 0 1,0 3.0,0a1.5,1.5 0 1,0 -3.0,0M149.4,305.4a1.5,1.5 0 1,0 3.0,0a1.5,1.5 0 1,0 -3.0,0M148.4,307.0a1.5,1.5 0 1,0 3.0,0a1.5,1.5 0 1,0 -3.0,0M148.1,309.0a1.5,1.5 0 1,0 3.0,0a1.5,1.5 0 1,0 -3.0,0M148.1,310.6a1.5,1.5 0 1,0 3.0,0a1.5,1.5 0 1,0 -3.0,0M147.4,313.1a1.5,1.5 0 1,0 3.0,0a1.5,1.5 0 1,0 -3.0,0M147.0,314.7a1.5,1.5 0 1,0 3.0,0a1.5,1.5 0 1,0 -3.0,0M145.4,316.3a1.5,1.5 0 1,0 3.0,0a1.5,1.5 0 1,0 -3.0,0M143.5,316.9a1.5,1.5 0 1,0 3.0,0a1.5,1.5 0 1,0 -3.0,0M140.3,318.9a1.5,1.5 0 1,0 3.0,0a1.5,1.5 0 1,0 -3.0,0M140.1,318.2a1.5,1.5 0 1,0 3.0,0a1.5,1.5 0 1,0 -3.0,0M139.4,316.4a1.5,1.5 0 1,0 3.0,0a1.5,1.5 0 1,0 -3.0,0M138.8,314.6a1.5,1.5 0 1,0 3.0,0a1.5,1.5 0 1,0 -3.0,0M138.6,312.5a1.5,1.5 0 1,0 3.0,0a1.5,1.5 0 1,0 -3.0,0M140.0,311.0a1.5,1.5 0 1,0 3.0,0a1.5,1.5 0 1,0 -3.0,0M140.5,308.6a1.5,1.5 0 1,0 3.0,0a1.5,1.5 0 1,0 -3.0,0M140.4,306.5a1.5,1.5 0 1,0 3.0,0a1.5,1.5 0 1,0 -3.0,0M137.8,305.2a1.5,1.5 0 1,0 3.0,0a1.5,1.5 0 1,0 -3.0,0M135.9,304.2a1.5,1.5 0 1,0 3.0,0a1.5,1.5 0 1,0 -3.0,0M134.1,302.6a1.5,1.5 0 1,0 3.0,0a1.5,1.5 0 1,0 -3.0,0M133.0,300.3a1.5,1.5 0 1,0 3.0,0a1.5,1.5 0 1,0 -3.0,0M132.3,298.9a1.5,1.5 0 1,0 3.0,0a1.5,1.5 0 1,0 -3.0,0M133.4,297.1a1.5,1.5 0 1,0 3.0,0a1.5,1.5 0 1,0 -3.0,0M133.8,295.0a1.5,1.5 0 1,0 3.0,0a1.5,1.5 0 1,0 -3.0,0M134.5,293.3a1.5,1.5 0 1,0 3.0,0a1.5,1.5 0 1,0 -3.0,0M135.7,291.2a1.5,1.5 0 1,0 3.0,0a1.5,1.5 0 1,0 -3.0,0M137.2,289.8a1.5,1.5 0 1,0 3.0,0a1.5,1.5 0 1,0 -3.0,0"/>
<path id="e_F4" d="M109.7,302.8a1.5,1.5 0 1,0 3.0,0a1.5,1.5 0 1,0 -3.0,0M111.2,304.1a1.5,1.5 0 1,0 3.0,0a1.5,1.5 0 1,0 -3.0,0M113.2,305.3a1.5,1.5 0 1,0 3.0,0a1.5,1.5 0 1,0 -3.0,0M115.2,306.6a1.5,1.5 0 1,0 3.0,0a1.5,1.5 0 1,0 -3.0,0M116.0,308.3a1.5,1.5 0 1,0 3.0,0a1.5,1.5 0 1,0 -3.0,0M117.2,308.7a1.5,1.5 0 1,0 3.0,0a1.5,1.5 0 1,0 -3.0,0M116.6,312.2a1.5,1.5 0 1,0 3.0,0a1.5,1.5 0 1,0 -3.0,0M115.8,313.4a1.5,1.5 0 1,0 3.0,0a1.5,1.5 0 1,0 -3.0,0M115.5,314.2a1.5,1.5 0 1,0 3.0,0a1.5,1.5 0 1,0 -3.0,0M112.5,314.2a1.5,1.5 0 1,0 3.0,0a1.5,1.5 0 1,0 -3.0,0M111.6,314.0a1.5,1.5 0 1,0 3.0,0a1.5,1.5 0 1,0 -3.0,0M110.1,312.3a1.5,1.5 0 1,0 3.0,0a1.5,1.5 0 1,0 -3.0,0M109.1,310.7a1.5,1.5 0 1,0 3.0,0a1.5,1.5 0 1,0 -3.0,0M107.3,309.0a1.5,1.5 0 1,0 3.0,0a1.5,1.5 0 1,0 -3.0,0M107.7,307.2a1.5,1.5 0 1,0 3.0,0a1.5,1.5 0 1,0 -3.0,0M108.3,304.6a1.5,1.5 0 1,0 3.0,0a1.5,1.5 0 1,0 -3.0,0M109.4,303.3a1.5,1.5 0 1,0 3.0,0a1.5,1.5 0 1,0 -3.0,0"/>
<path id="e_F5" d="M106.4,326.4a1.5,1.5 0 1,0 3.0,0a1.5,1.5 0 1,0 -3.0,0M108.4,326.7a1.5,1.5 0 1,0 3.0,0a1.5,1.5 0 1,0 -3.0,0M111.6,328.2a1.5,1.5 0 1,0 3.0,0a1.5,1.5 0 1,0 -3.0,0M113.3,329.2a1.5,1.5 0 1,0 3.0,0a1.5,1.5 0 1,0 -3.0,0M115.5,330.9a1.5,1.5 0 1,0 3.0,0a1.5,1.5 0 1,0 -3.0,0M116.9,332.6a1.5,1.5 0 1,0 3.0,0a1.5,1.5 0 1,0 -3.0,0M117.1,332.4a1.5,1.5 0 1,0 3.0,0a1.5,1.5 0 1,0 -3.0,0M115.3,333.1a1.5,1.5 0 1,0 3.0,0a1.5,1.5 0 1,0 -3.0,0M112.3,335.3a1.5,1.5 0 1,0 3.0,0a1.5,1.5 0 1,0 -3.0,0M110.7,336.6a1.5,1.5 0 1,0 3.0,0a1.5,1.5 0 1,0 -3.0,0M109.1,337.6a1.5,1.5 0 1,0 3.0,0a1.5,1.5 0 1,0 -3.0,0M107.0,338.2a1.5,1.5 0 1,0 3.0,0a1.5,1.5 0 1,0 -3.0,0M104.9,339.8a1.5,1.5 0 1,0 3.0,0a1.5,1.5 0 1,0 -3.0,0M103.3,341.5a1.5,1.5 0 1,0 3.0,0a1.5,1.5 0 1,0 -3.0,0M101.0,343.1a1.5,1.5 0 1,0 3.0,0a1.5,1.5 0 1,0 -3.0,0M100.0,344.4a1.5,1.5 0 1,0 3.0,0a1.5,1.5 0 1,0 -3.0,0M97.9,346.3a1.5,1.5 0 1,0 3.0,0a1.5,1.5 0 1,0 -3.0,0M96.9,347.3a1.5,1.5 0 1,0 3.0,0a1.5,1.5 0 1,0 -3.0,0M94.7,346.3a1.5,1.5 0 1,0 3.0,0a1.5,1.5 0 1,0 -3.0,0M93.3,344.9a1.5,1.5 0 1,0 3.0,0a1.5,1.5 0 1,0 -3.0,0M93.2,343.0a1.5,1.5 0 1,0 3.0,0a1.5,1.5 0 1,0 -3.0,0M92.7,340.3a1.5,1.5 0 1,0 3.0,0a1.5,1.5 0 1,0 -3.0,0M93.1,338.2a1.5,1.5 0 1,0 3.0,0a1.5,1.5 0 1,0 -3.0,0M92.7,335.7a1.5,1.5 0 1,0 3.0,0a1.5,1.5 0 1,0 -3.0,0M92.3,334.7a1.5,1.5 0 1,0 3.0,0a1.5,1.5 0 1,0 -3.0,0M94.4,332.7a1.5,1.5 0 1,0 3.0,0a1.5,1.5 0 1,0 -3.0,0M95.6,332.4a1.5,1.5 0 1,0 3.0,0a1.5,1.5 0 1,0 -3.0,0M97.6,330.4a1.5,1.5 0 1,0 3.0,0a1.5,1.5 0 1,0 -3.0,0M99.2,329.2a1.5,1.5 0 1,0 3.0,0a1.5,1.5 0 1,0 -3.0,0M101.3,327.4a1.5,1.5 0 1,0 3.0,0a1.5,1.5 0 1,0 -3.0,0M104.9,325.8a1.5,1.5 0 1,0 3.0,0a1.5,1.5 0 1,0 -3.0,0"/>
<path id="e_F6" d="M118.7,327.5a1.5,1.5 0 1,0 3.0,0a1.5,1.5 0 1,0 -3.0,0M121.1,329.5a1.5,1.5 0 1,0 3.0,0a1.5,1.5 0 1,0 -3.0,0M123.9,331.2a1.5,1.5 0 1,0 3.0,0a1.5,1.5 0 1,0 -3.0,0M124.0,332.7a1.5,1.5 0 1,0 3.0,0a1.5,1.5 0 1,0 -3.0,0M125.9,334.7a1.5,1.5 0 1,0 3.0,0a1.5,1.5 0 1,0 -3.0,0M126.5,337.8a1.5,1.5 0 1,0 3.0,0a1.5,1.5 0 1,0 -3.0,0M129.3,338.8a1.5,1.5 0 1,0 3.0,0a1.5,1.5 0 1,0 -3.0,0M131.3,336.9a1.5,1.5 0 1,0 3.0,0a1.5,1.5 0 1,0 -3.0,0M133.4,335.5a1.5,1.5 0 1,0 3.0,0a1.5,1.5 0 1,0 -3.0,0M133.8,336.5a1.5,1.5 0 1,0 3.0,0a1.5,1.5 0 1,0 -3.0,0M134.0,338.4a1.5,1.5 0 1,0 3.0,0a1.5,1.5 0 1,0 -3.0,0M133.6,340.7a1.5,1.5 0 1,0 3.0,0a1.5,1.5 0 1,0 -3.0,0M132.1,341.8a1.5,1.5 0 1,0 3.0,0a1.5,1.5 0 1,0 -3.0,0M130.8,343.6a1.5,1.5 0 1,0 3.0,0a1.5,1.5 0 1,0 -3.0,0M130.0,346.7a1.5,1.5 0 1,0 3.0,0a1.5,1.5 0 1,0 -3.0,0M132.6,348.5a1.5,1.5 0 1,0 3.0,0a1.5,1.5 0 1,0 -3.0,0M133.4,349.7a1.5,1.5 0 1,0 3.0,0a1.5,1.5 0 1,0 -3.0,0M133.9,351.7a1.5,1.5 0 1,0 3.0,0a1.5,1.5 0 1,0 -3.0,0M132.9,352.9a1.5,1.5 0 1,0 3.0,0a1.5,1.5 0 1,0 -3.0,0M131.3,355.2a1.5,1.5 0 1,0 3.0,0a1.5,1.5 0 1,0 -3.0,0M129.3,354.9a1.5,1.5 0 1,0 3.0,0a1.5,1.5 0 1,0 -3.0,0M127.4,356.4a1.5,1.5 0 1,0 3.0,0a1.5,1.5 0 1,0 -3.0,0M125.2,355.5a1.5,1.5 0 1,0 3.0,0a1.5,1.5 0 1,0 -3.0,0M123.3,354.7a1.5,1.5 0 1,0 3.0,0a1.5,1.5 0 1,0 -3.0,0M122.6,353.5a1.5,1.5 0 1,0 3.0,0a1.5,1.5 0 1,0 -3.0,0M120.5,351.8a1.5,1.5 0 1,0 3.0,0a1.5,1.5 0 1,0 -3.0,0M118.4,350.4a1.5,1.5 0 1,0 3.0,0a1.5,1.5 0 1,0 -3.0,0M117.1,349.6a1.5,1.5 0 1,0 3.0,0a1.5,1.5 0 1,0 -3.0,0M117.8,346.5a1.5,1.5 0 1,0 3.0,0a1.5,1.5 0 1,0 -3.0,0M118.9,343.9a1.5,1.5 0 1,0 3.0,0a1.5,1.5 0 1,0 -3.0,0M118.4,342.6a1.5,1.5 0 1,0 3.0,0a1.5,1.5 0 1,0 -3.0,0M117.6,339.5a1.5,1.5 0 1,0 3.0,0a1.5,1.5 0 1,0 -3.0,0M115.8,337.5a1.5,1.5 0 1,0 3.0,0a1.5,1.5 0 1,0 -3.0,0M115.0,335.8a1.5,1.5 0 1,0 3.0,0a1.5,1.5 0 1,0 -3.0,0M114.5,334.7a1.5,1.5 0 1,0 3.0,0a1.5,1.5 0 1,0 -3.0,0M116.2,331.9a1.5,1.5 0 1,0 3.0,0a1.5,1.5 0 1,0 -3.0,0M117.1,330.4a1.5,1.5 0 1,0 3.0,0a1.5,1.5 0 1,0 -3.0,0M118.3,328.3a1.5,1.5 0 1,0 3.0,0a1.5,1.5 0 1,0 -3.0,0"/>
<path id="e_F7" d="M141.5,351.5a1.5,1.5 0 1,0 3.0,0a1.5,1.5 0 1,0 -3.0,0M142.5,353.1a1.5,1.5 0 1,0 3.0,0a1.5,1.5 0 1,0 -3.0,0M144.2,353.9a1.5,1.5 0 1,0 3.0,0a1.5,1.5 0 1,0 -3.0,0M145.7,355.6a1.5,1.5 0 1,0 3.0,0a1.5,1.5 0 1,0 -3.0,0M145.4,356.6a1.5,1.5 0 1,0 3.0,0a1.5,1.5 0 1,0 -3.0,0M144.5,357.7a1.5,1.5 0 1,0 3.0,0a1.5,1.5 0 1,0 -3.0,0M142.9,358.8a1.5,1.5 0 1,0 3.0,0a1.5,1.5 0 1,0 -3.0,0M141.3,358.7a1.5,1.5 0 1,0 3.0,0a1.5,1.5 0 1,0 -3.0,0M140.3,357.7a1.5,1.5 0 1,0 3.0,0a1.5,1.5 0 1,0 -3.0,0M138.1,355.4a1.5,1.5 0 1,0 3.0,0a1.5,1.5 0 1,0 -3.0,0M138.8,354.3a1.5,1.5 0 1,0 3.0,0a1.5,1.5 0 1,0 -3.0,0M140.1,351.5a1.5,1.5 0 1,0 3.0,0a1.5,1.5 0 1,0 -3.0,0"/>
<path id="e_G" d="M204.0,300.1a1.5,1.5 0 1,0 3.0,0a1.5,1.5 0 1,0 -3.0,0M207.3,300.4a1.5,1.5 0 1,0 3.0,0a1.5,1.5 0 1,0 -3.0,0M208.9,300.1a1.5,1.5 0 1,0 3.0,0a1.5,1.5 0 1,0 -3.0,0M210.9,299.9a1.5,1.5 0 1,0 3.0,0a1.5,1.5 0 1,0 -3.0,0M213.4,300.4a1.5,1.5 0 1,0 3.0,0a1.5,1.5 0 1,0 -3.0,0M214.3,301.3a1.5,1.5 0 1,0 3.0,0a1.5,1.5 0 1,0 -3.0,0M217.0,302.7a1.5,1.5 0 1,0 3.0,0a1.5,1.5 0 1,0 -3.0,0M218.1,303.0a1.5,1.5 0 1,0 3.0,0a1.5,1.5 0 1,0 -3.0,0M220.1,304.5a1.5,1.5 0 1,0 3.0,0a1.5,1.5 0 1,0 -3.0,0M221.9,306.0a1.5,1.5 0 1,0 3.0,0a1.5,1.5 0 1,0 -3.0,0M223.4,307.2a1.5,1.5 0 1,0 3.0,0a1.5,1.5 0 1,0 -3.0,0M224.9,309.1a1.5,1.5 0 1,0 3.0,0a1.5,1.5 0 1,0 -3.0,0M225.6,310.9a1.5,1.5 0 1,0 3.0,0a1.5,1.5 0 1,0 -3.0,0M227.0,312.8a1.5,1.5 0 1,0 3.0,0a1.5,1.5 0 1,0 -3.0,0M228.6,314.4a1.5,1.5 0 1,0 3.0,0a1.5,1.5 0 1,0 -3.0,0M229.9,316.5a1.5,1.5 0 1,0 3.0,0a1.5,1.5 0 1,0 -3.0,0M231.5,318.3a1.5,1.5 0 1,0 3.0,0a1.5,1.5 0 1,0 -3.0,0M231.6,320.8a1.5,1.5 0 1,0 3.0,0a1.5,1.5 0 1,0 -3.0,0M232.7,323.9a1.5,1.5 0 1,0 3.0,0a1.5,1.5 0 1,0 -3.0,0M232.5,325.6a1.5,1.5 0 1,0 3.0,0a1.5,1.5 0 1,0 -3.0,0M232.5,328.1a1.5,1.5 0 1,0 3.0,0a1.5,1.5 0 1,0 -3.0,0M232.2,330.0a1.5,1.5 0 1,0 3.0,0a1.5,1.5 0 1,0 -3.0,0M230.9,332.3a1.5,1.5 0 1,0 3.0,0a1.5,1.5 0 1,0 -3.0,0M230.3,334.6a1.5,1.5 0 1,0 3.0,0a1.5,1.5 0 1,0 -3.0,0M229.4,335.9a1.5,1.5 0 1,0 3.0,0a1.5,1.5 0 1,0 -3.0,0M227.5,337.1a1.5,1.5 0 1,0 3.0,0a1.5,1.5 0 1,0 -3.0,0M225.4,339.1a1.5,1.5 0 1,0 3.0,0a1.5,1.5 0 1,0 -3.0,0M224.7,339.9a1.5,1.5 0 1,0 3.0,0a1.5,1.5 0 1,0 -3.0,0M222.0,342.4a1.5,1.5 0 1,0 3.0,0a1.5,1.5 0 1,0 -3.0,0M220.0,343.3a1.5,1.5 0 1,0 3.0,0a1.5,1.5 0 1,0 -3.0,0M218.9,343.4a1.5,1.5 0 1,0 3.0,0a1.5,1.5 0 1,0 -3.0,0M216.2,344.4a1.5,1.5 0 1,0 3.0,0a1.5,1.5 0 1,0 -3.0,0M214.8,345.2a1.5,1.5 0 1,0 3.0,0a1.5,1.5 0 1,0 -3.0,0M213.1,345.8a1.5,1.5 0 1,0 3.0,0a1.5,1.5 0 1,0 -3.0,0M209.9,347.1a1.5,1.5 0 1,0 3.0,0a1.5,1.5 0 1,0 -3.0,0M207.5,347.5a1.5,1.5 0 1,0 3.0,0a1.5,1.5 0 1,0 -3.0,0M205.6,347.2a1.5,1.5 0 1,0 3.0,0a1.5,1.5 0 1,0 -3.0,0M203.4,345.6a1.5,1.5 0 1,0 3.0,0a1.5,1.5 0 1,0 -3.0,0M201.0,345.0a1.5,1.5 0 1,0 3.0,0a1.5,1.5 0 1,0 -3.0,0M199.9,343.7a1.5,1.5 0 1,0 3.0,0a1.5,1.5 0 1,0 -3.0,0M198.0,341.4a1.5,1.5 0 1,0 3.0,0a1.5,1.5 0 1,0 -3.0,0M196.7,340.3a1.5,1.5 0 1,0 3.0,0a1.5,1.5 0 1,0 -3.0,0M194.5,337.8a1.5,1.5 0 1,0 3.0,0a1.5,1.5 0 1,0 -3.0,0M194.9,336.1a1.5,1.5 0 1,0 3.0,0a1.5,1.5 0 1,0 -3.0,0M193.1,333.8a1.5,1.5 0 1,0 3.0,0a1.5,1.5 0 1,0 -3.0,0M191.5,331.2a1.5,1.5 0 1,0 3.0,0a1.5,1.5 0 1,0 -3.0,0M191.4,329.4a1.5,1.5 0 1,0 3.0,0a1.5,1.5 0 1,0 -3.0,0M190.1,327.5a1.5,1.5 0 1,0 3.0,0a1.5,1.5 0 1,0 -3.0,0M188.6,325.5a1.5,1.5 0 1,0 3.0,0a1.5,1.5 0 1,0 -3.0,0M188.6,323.7a1.5,1.5 0 1,0 3.0,0a1.5,1.5 0 1,0 -3.0,0M189.0,321.7a1.5,1.5 0 1,0 3.0,0a1.5,1.5 0 1,0 -3.0,0M188.5,319.2a1.5,1.5 0 1,0 3.0,0a1.5,1.5 0 1,0 -3.0,0M189.0,316.5a1.5,1.5 0 1,0 3.0,0a1.5,1.5 0 1,0 -3.0,0M189.6,314.9a1.5,1.5 0 1,0 3.0,0a1.5,1.5 0 1,0 -3.0,0M190.5,311.7a1.5,1.5 0 1,0 3.0,0a1.5,1.5 0 1,0 -3.0,0M191.4,310.5a1.5,1.5 0 1,0 3.0,0a1.5,1.5 0 1,0 -3.0,0M191.6,308.7a1.5,1.5 0 1,0 3.0,0a1.5,1.5 0 1,0 -3.0,0M193.1,307.0a1.5,1.5 0 1,0 3.0,0a1.5,1.5 0 1,0 -3.0,0M193.8,305.5a1.5,1.5 0 1,0 3.0,0a1.5,1.5 0 1,0 -3.0,0M196.2,303.3a1.5,1.5 0 1,0 3.0,0a1.5,1.5 0 1,0 -3.0,0M197.5,302.4a1.5,1.5 0 1,0 3.0,0a1.5,1.5 0 1,0 -3.0,0M200.2,300.8a1.5,1.5 0 1,0 3.0,0a1.5,1.5 0 1,0 -3.0,0M202.7,299.7a1.5,1.5 0 1,0 3.0,0a1.5,1.5 0 1,0 -3.0,0"/>
<path id="e_H" d="M171.6,332.3a1.5,1.5 0 1,0 3.0,0a1.5,1.5 0 1,0 -3.0,0M173.4,329.6a1.5,1.5 0 1,0 3.0,0a1.5,1.5 0 1,0 -3.0,0M175.9,328.3a1.5,1.5 0 1,0 3.0,0a1.5,1.5 0 1,0 -3.0,0M178.5,327.0a1.5,1.5 0 1,0 3.0,0a1.5,1.5 0 1,0 -3.0,0M179.8,327.2a1.5,1.5 0 1,0 3.0,0a1.5,1.5 0 1,0 -3.0,0M179.4,327.7a1.5,1.5 0 1,0 3.0,0a1.5,1.5 0 1,0 -3.0,0M178.6,330.2a1.5,1.5 0 1,0 3.0,0a1.5,1.5 0 1,0 -3.0,0M176.0,331.0a1.5,1.5 0 1,0 3.0,0a1.5,1.5 0 1,0 -3.0,0M174.0,333.0a1.5,1.5 0 1,0 3.0,0a1.5,1.5 0 1,0 -3.0,0M171.8,333.0a1.5,1.5 0 1,0 3.0,0a1.5,1.5 0 1,0 -3.0,0"/>
<path id="e_I0" d="M236.3,244.0a1.5,1.5 0 1,0 3.0,0a1.5,1.5 0 1,0 -3.0,0M238.0,244.8a1.5,1.5 0 1,0 3.0,0a1.5,1.5 0 1,0 -3.0,0M238.0,248.0a1.5,1.5 0 1,0 3.0,0a1.5,1.5 0 1,0 -3.0,0M237.6,249.4a1.5,1.5 0 1,0 3.0,0a1.5,1.5 0 1,0 -3.0,0M236.0,249.9a1.5,1.5 0 1,0 3.0,0a1.5,1.5 0 1,0 -3.0,0M233.7,249.5a1.5,1.5 0 1,0 3.0,0a1.5,1.5 0 1,0 -3.0,0M233.4,247.5a1.5,1.5 0 1,0 3.0,0a1.5,1.5 0 1,0 -3.0,0M234.0,246.0a1.5,1.5 0 1,0 3.0,0a1.5,1.5 0 1,0 -3.0,0M235.5,244.4a1.5,1.5 0 1,0 3.0,0a1.5,1.5 0 1,0 -3.0,0"/>
<path id="e_I2" d="M240.1,273.0a1.5,1.5 0 1,0 3.0,0a1.5,1.5 0 1,0 -3.0,0M242.9,273.4a1.5,1.5 0 1,0 3.0,0a1.5,1.5 0 1,0 -3.0,0M244.9,274.2a1.5,1.5 0 1,0 3.0,0a1.5,1.5 0 1,0 -3.0,0M246.6,274.7a1.5,1.5 0 1,0 3.0,0a1.5,1.5 0 1,0 -3.0,0M248.0,275.3a1.5,1.5 0 1,0 3.0,0a1.5,1.5 0 1,0 -3.0,0M248.7,278.0a1.5,1.5 0 1,0 3.0,0a1.5,1.5 0 1,0 -3.0,0M249.8,278.7a1.5,1.5 0 1,0 3.0,0a1.5,1.5 0 1,0 -3.0,0M249.7,280.6a1.5,1.5 0 1,0 3.0,0a1.5,1.5 0 1,0 -3.0,0M247.9,282.7a1.5,1.5 0 1,0 3.0,0a1.5,1.5 0 1,0 -3.0,0M246.6,283.7a1.5,1.5 0 1,0 3.0,0a1.5,1.5 0 1,0 -3.0,0M245.0,284.6a1.5,1.5 0 1,0 3.0,0a1.5,1.5 0 1,0 -3.0,0M243.5,284.4a1.5,1.5 0 1,0 3.0,0a1.5,1.5 0 1,0 -3.0,0M241.0,284.4a1.5,1.5 0 1,0 3.0,0a1.5,1.5 0 1,0 -3.0,0M239.2,284.0a1.5,1.5 0 1,0 3.0,0a1.5,1.5 0 1,0 -3.0,0M236.3,283.3a1.5,1.5 0 1,0 3.0,0a1.5,1.5 0 1,0 -3.0,0M234.6,283.0a1.5,1.5 0 1,0 3.0,0a1.5,1.5 0 1,0 -3.0,0M233.6,281.7a1.5,1.5 0 1,0 3.0,0a1.5,1.5 0 1,0 -3.0,0M234.3,280.6a1.5,1.5 0 1,0 3.0,0a1.5,1.5 0 1,0 -3.0,0M235.4,278.9a1.5,1.5 0 1,0 3.0,0a1.5,1.5 0 1,0 -3.0,0M236.6,276.4a1.5,1.5 0 1,0 3.0,0a1.5,1.5 0 1,0 -3.0,0M237.6,274.4a1.5,1.5 0 1,0 3.0,0a1.5,1.5 0 1,0 -3.0,0M239.1,272.8a1.5,1.5 0 1,0 3.0,0a1.5,1.5 0 1,0 -3.0,0"/>
<path id="e_J" d="M294.8,215.6a1.5,1.5 0 1,0 3.0,0a1.5,1.5 0 1,0 -3.0,0M296.0,218.5a1.5,1.5 0 1,0 3.0,0a1.5,1.5 0 1,0 -3.0,0M296.6,220.1a1.5,1.5 0 1,0 3.0,0a1.5,1.5 0 1,0 -3.0,0M297.4,223.9a1.5,1.5 0 1,0 3.0,0a1.5,1.5 0 1,0 -3.0,0M297.3,225.8a1.5,1.5 0 1,0 3.0,0a1.5,1.5 0 1,0 -3.0,0M296.2,227.0a1.5,1.5 0 1,0 3.0,0a1.5,1.5 0 1,0 -3.0,0M294.4,227.5a1.5,1.5 0 1,0 3.0,0a1.5,1.5 0 1,0 -3.0,0M292.2,227.2a1.5,1.5 0 1,0 3.0,0a1.5,1.5 0 1,0 -3.0,0M290.3,226.3a1.5,1.5 0 1,0 3.0,0a1.5,1.5 0 1,0 -3.0,0M289.0,225.1a1.5,1.5 0 1,0 3.0,0a1.5,1.5 0 1,0 -3.0,0M288.0,223.9a1.5,1.5 0 1,0 3.0,0a1.5,1.5 0 1,0 -3.0,0M288.3,222.1a1.5,1.5 0 1,0 3.0,0a1.5,1.5 0 1,0 -3.0,0M289.2,219.9a1.5,1.5 0 1,0 3.0,0a1.5,1.5 0 1,0 -3.0,0M290.5,218.0a1.5,1.5 0 1,0 3.0,0a1.5,1.5 0 1,0 -3.0,0M292.2,216.9a1.5,1.5 0 1,0 3.0,0a1.5,1.5 0 1,0 -3.0,0M294.3,215.1a1.5,1.5 0 1,0 3.0,0a1.5,1.5 0 1,0 -3.0,0"/>
<path id="e_K2" d="M287.0,256.1a1.5,1.5 0 1,0 3.0,0a1.5,1.5 0 1,0 -3.0,0M288.5,257.6a1.5,1.5 0 1,0 3.0,0a1.5,1.5 0 1,0 -3.0,0M290.0,259.5a1.5,1.5 0 1,0 3.0,0a1.5,1.5 0 1,0 -3.0,0M290.5,261.0a1.5,1.5 0 1,0 3.0,0a1.5,1.5 0 1,0 -3.0,0M291.6,262.7a1.5,1.5 0 1,0 3.0,0a1.5,1.5 0 1,0 -3.0,0M290.2,264.9a1.5,1.5 0 1,0 3.0,0a1.5,1.5 0 1,0 -3.0,0M288.9,267.2a1.5,1.5 0 1,0 3.0,0a1.5,1.5 0 1,0 -3.0,0M287.1,267.2a1.5,1.5 0 1,0 3.0,0a1.5,1.5 0 1,0 -3.0,0M285.2,265.7a1.5,1.5 0 1,0 3.0,0a1.5,1.5 0 1,0 -3.0,0M284.3,263.7a1.5,1.5 0 1,0 3.0,0a1.5,1.5 0 1,0 -3.0,0M284.3,261.4a1.5,1.5 0 1,0 3.0,0a1.5,1.5 0 1,0 -3.0,0M284.0,259.4a1.5,1.5 0 1,0 3.0,0a1.5,1.5 0 1,0 -3.0,0M283.9,258.4a1.5,1.5 0 1,0 3.0,0a1.5,1.5 0 1,0 -3.0,0M286.4,256.1a1.5,1.5 0 1,0 3.0,0a1.5,1.5 0 1,0 -3.0,0"/>
<path id="e_L" d="M346.3,238.4a1.5,1.5 0 1,0 3.0,0a1.5,1.5 0 1,0 -3.0,0M348.2,237.7a1.5,1.5 0 1,0 3.0,0a1.5,1.5 0 1,0 -3.0,0M350.3,236.9a1.5,1.5 0 1,0 3.0,0a1.5,1.5 0 1,0 -3.0,0M352.4,236.2a1.5,1.5 0 1,0 3.0,0a1.5,1.5 0 1,0 -3.0,0M354.3,236.6a1.5,1.5 0 1,0 3.0,0a1.5,1.5 0 1,0 -3.0,0M355.4,237.1a1.5,1.5 0 1,0 3.0,0a1.5,1.5 0 1,0 -3.0,0M355.3,239.4a1.5,1.5 0 1,0 3.0,0a1.5,1.5 0 1,0 -3.0,0M355.6,242.7a1.5,1.5 0 1,0 3.0,0a1.5,1.5 0 1,0 -3.0,0M355.7,245.7a1.5,1.5 0 1,0 3.0,0a1.5,1.5 0 1,0 -3.0,0M353.9,247.4a1.5,1.5 0 1,0 3.0,0a1.5,1.5 0 1,0 -3.0,0M353.2,248.1a1.5,1.5 0 1,0 3.0,0a1.5,1.5 0 1,0 -3.0,0M351.2,247.4a1.5,1.5 0 1,0 3.0,0a1.5,1.5 0 1,0 -3.0,0M347.8,246.6a1.5,1.5 0 1,0 3.0,0a1.5,1.5 0 1,0 -3.0,0M346.2,245.4a1.5,1.5 0 1,0 3.0,0a1.5,1.5 0 1,0 -3.0,0M344.7,242.8a1.5,1.5 0 1,0 3.0,0a1.5,1.5 0 1,0 -3.0,0M344.5,242.2a1.5,1.5 0 1,0 3.0,0a1.5,1.5 0 1,0 -3.0,0M345.8,239.4a1.5,1.5 0 1,0 3.0,0a1.5,1.5 0 1,0 -3.0,0"/>
<clipPath id="clipC"><path d="M146.8,155.1 L141.0,158.6 L137.5,164.5 L134.5,169.2 L134.0,175.0 L123.4,178.5 L117.6,182.0 L116.4,190.3 L117.6,199.6 L115.2,206.7 L121.0,212.5 L129.3,214.8 L142.2,216.6 L152.7,214.8 L163.2,213.7 L170.3,210.2 L179.6,212.5 L189.0,210.2 L193.7,204.3 L200.7,197.3 L207.7,190.3 L209.5,184.4 L205.4,179.7 L197.2,177.4 L192.5,173.9 L190.2,169.2 L186.7,166.8 L186.7,173.9 L182.0,176.2 L173.8,173.9 L167.9,169.2 L163.2,165.7 L158.5,161.0 L152.7,156.3 Z" stroke-width="1.5"/></clipPath>
<radialGradient id="rg"><stop offset="0" stop-color="#fff" stop-opacity="1"/><stop offset="1" stop-color="#fff" stop-opacity="0"/></radialGradient>
</defs>
<g transform="translate(0.0,0.0)">
<text x="192.9" y="30.7" font-size="26" text-anchor="middle" fill="#000">ST18</text>
<g stroke-linejoin="round" stroke-linecap="round">
<path d="M39.0,164.1 L41.4,168.3 L39.0,174.0 L34.0,177.5 L27.4,177.5 L27.7,173.6 L30.5,169.0 L34.0,166.2 Z" fill="#26828e" stroke="#26828e" stroke-width="0.6"/><use href="#e_A" fill="#26828e"/>
<g fill="#32648e"><use href="#d_A_0"/><use href="#d_A_1"/><use href="#d_A_2"/></g>
<g fill="#1f9f88"><use href="#d_A_3"/><use href="#d_A_4"/><use href="#d_A_5"/></g>
<path d="M253.4,83.9 L255.6,78.4 L260.0,75.0 L261.2,69.5 L263.4,62.8 L266.7,60.6 L267.8,56.7 L273.4,55.0 L279.0,58.3 L284.5,62.8 L285.6,67.2 L282.3,73.9 L279.0,80.6 L275.6,78.4 L276.7,73.9 L272.3,72.8 L269.0,78.4 L266.7,85.0 L264.5,93.0 L256.7,94.0 L253.4,87.3 Z" fill="#440154" stroke="#440154" stroke-width="0.6"/><use href="#e_B1" fill="#440154"/>
<g fill="#2d6f8e"><use href="#d_B1_0"/><use href="#d_B1_1"/><use href="#d_B1_2"/><use href="#d_B1_3"/></g>
<path d="M235.2,98.8 L240.5,96.4 L246.4,92.9 L250.5,94.1 L255.1,94.7 L261.0,94.7 L268.6,94.1 L272.7,97.6 L277.4,101.7 L276.2,106.4 L279.7,110.5 L281.5,115.8 L281.5,122.8 L278.6,129.8 L272.7,130.4 L266.9,131.0 L262.2,127.5 L255.1,128.1 L249.3,130.4 L244.6,132.2 L240.5,131.0 L237.0,125.1 L233.5,119.9 L232.3,112.3 L233.5,104.1 Z" fill="#440154" stroke="#440154" stroke-width="0.6"/><use href="#e_B2" fill="#440154"/>
<g fill="#2d6f8e"><use href="#d_B2_0"/><use href="#d_B2_1"/><use href="#d_B2_2"/><use href="#d_B2_3"/></g>
<linearGradient id="gc0" gradientUnits="userSpaceOnUse" x1="120" y1="0" x2="210" y2="0"><stop offset="0.3" stop-color="#a5db36"/><stop offset="1" stop-color="#93d741"/></linearGradient>
<path d="M146.8,155.1 L141.0,158.6 L137.5,164.5 L134.5,169.2 L134.0,175.0 L123.4,178.5 L117.6,182.0 L116.4,190.3 L117.6,199.6 L115.2,206.7 L121.0,212.5 L129.3,214.8 L142.2,216.6 L152.7,214.8 L163.2,213.7 L170.3,210.2 L179.6,212.5 L189.0,210.2 L193.7,204.3 L200.7,197.3 L207.7,190.3 L209.5,184.4 L205.4,179.7 L197.2,177.4 L192.5,173.9 L190.2,169.2 L186.7,166.8 L186.7,173.9 L182.0,176.2 L173.8,173.9 L167.9,169.2 L163.2,165.7 L158.5,161.0 L152.7,156.3 Z" fill="url(#gc0)" stroke="url(#gc0)" stroke-width="0.6"/><use href="#e_C" fill="url(#gc0)"/>
<g fill="#dae319" fill-opacity="0.7"><use href="#d_C_0"/><use href="#d_C_1"/><use href="#d_C_2"/><use href="#d_C_3"/></g>
<g fill="#67cc5c" fill-opacity="0.6"><use href="#d_C_4"/><use href="#d_C_5"/><use href="#d_C_6"/><use href="#d_C_7"/></g>
<path d="M195.2,129.1 L199.4,130.5 L201.5,135.5 L203.6,141.8 L201.5,146.7 L198.7,151.6 L195.9,155.1 L193.1,153.0 L190.8,150.5 L190.3,148.1 L191.0,142.5 L189.6,137.6 L191.0,131.9 Z" fill="#54c568" stroke="#54c568" stroke-width="0.6"/><use href="#e_D" fill="#54c568"/>
<g fill="#25ab82"><use href="#d_D_0"/><use href="#d_D_1"/><use href="#d_D_2"/></g>
<g fill="#9dd93b"><use href="#d_D_3"/><use href="#d_D_4"/><use href="#d_D_5"/></g>
<path d="M183.9,153.7 L186.8,150.2 L190.3,148.1 L193.1,150.0 L193.1,153.0 L191.7,156.5 L191.0,162.2 L188.2,164.3 L186.0,163.6 L185.4,157.2 Z" fill="#a5db36" stroke="#a5db36" stroke-width="0.6"/><use href="#e_Dl" fill="#a5db36"/>
<g fill="#5ac864"><use href="#d_Dl_0"/><use href="#d_Dl_1"/><use href="#d_Dl_2"/></g>
<g fill="#f6e620"><use href="#d_Dl_3"/><use href="#d_Dl_4"/><use href="#d_Dl_5"/></g>
<path d="M42.1,289.7 L51.1,288.0 L56.9,292.1 L62.6,298.7 L65.9,303.6 L62.6,308.5 L55.2,311.8 L51.1,315.9 L44.6,322.5 L35.6,320.8 L29.8,315.9 L28.2,308.5 L33.1,303.6 L37.2,296.2 Z" fill="#440154" stroke="#440154" stroke-width="0.6"/><use href="#e_E" fill="#440154"/>
<g fill="#2d6f8e"><use href="#d_E_0"/><use href="#d_E_1"/><use href="#d_E_2"/><use href="#d_E_3"/><use href="#d_E_4"/></g>
<path d="M60.0,298.0 L64.0,301.0 L66.0,304.0 L63.0,309.0 L57.0,312.0 L54.0,311.0 L57.0,305.0 Z" fill="#2c7676" stroke="#2c7676" stroke-width="0.6"/><use href="#e_E2" fill="#2c7676"/>
<g fill="#39568c"><use href="#d_E2_0"/><use href="#d_E2_1"/><use href="#d_E2_2"/></g>
<g fill="#20928c"><use href="#d_E2_3"/><use href="#d_E2_4"/><use href="#d_E2_5"/></g>
<path d="M138.9,288.2 L148.2,291.7 L154.1,298.7 L150.6,308.1 L148.2,316.3 L141.2,319.8 L138.9,314.0 L142.4,306.9 L136.5,304.6 L133.0,299.9 L135.4,291.7 Z" fill="#440154" stroke="#440154" stroke-width="0.6"/><use href="#e_F1" fill="#440154"/>
<g fill="#2d6f8e"><use href="#d_F1_0"/><use href="#d_F1_1"/><use href="#d_F1_2"/><use href="#d_F1_3"/></g>
<path d="M141,319 L135.4,322 L123.6,330.4" fill="none" stroke="#440154" stroke-width="3"/>
<g fill="#2d6f8e"><use href="#d_F2_0"/><use href="#d_F2_1"/><use href="#d_F2_2"/><use href="#d_F2_3"/></g>
<path d="M129.5,305.8 L126,316.3" fill="none" stroke="#440154" stroke-width="3"/>
<g fill="#2d6f8e"><use href="#d_F3_0"/><use href="#d_F3_1"/><use href="#d_F3_2"/><use href="#d_F3_3"/></g>
<path d="M110.8,301.7 L119.0,308.1 L117.8,315.1 L113.1,315.1 L107.8,308.1 Z" fill="#2a9b84" stroke="#2a9b84" stroke-width="0.6"/><use href="#e_F4" fill="#2a9b84"/>
<g fill="#26818e"><use href="#d_F4_0"/><use href="#d_F4_1"/><use href="#d_F4_2"/></g>
<g fill="#3aba76"><use href="#d_F4_3"/><use href="#d_F4_4"/><use href="#d_F4_5"/></g>
<path d="M107.2,325.1 L114.3,328.0 L120.1,332.7 L113.1,336.2 L106.1,340.9 L99.1,347.9 L94.4,346.7 L93.2,335.0 L99.1,329.2 L103.7,326.8 Z" fill="#440154" stroke="#440154" stroke-width="0.6"/><use href="#e_F5" fill="#440154"/>
<g fill="#2d6f8e"><use href="#d_F5_0"/><use href="#d_F5_1"/><use href="#d_F5_2"/><use href="#d_F5_3"/></g>
<path d="M120.1,326.8 L126.0,331.5 L129.5,338.5 L135.4,335.0 L136.5,339.7 L131.8,345.6 L136.5,350.3 L134.2,354.9 L127.2,357.3 L122.5,352.6 L117.8,350.3 L120.1,343.2 L115.4,335.0 Z" fill="#440154" stroke="#440154" stroke-width="0.6"/><use href="#e_F6" fill="#440154"/>
<g fill="#2d6f8e"><use href="#d_F6_0"/><use href="#d_F6_1"/><use href="#d_F6_2"/><use href="#d_F6_3"/></g>
<path d="M142.4,350.3 L148.2,356.1 L143.5,360.2 L138.9,354.9 Z" fill="#2ca37f" stroke="#2ca37f" stroke-width="0.6"/><use href="#e_F7" fill="#2ca37f"/>
<g fill="#218f8d"><use href="#d_F7_0"/><use href="#d_F7_1"/><use href="#d_F7_2"/></g>
<g fill="#56c667"><use href="#d_F7_3"/><use href="#d_F7_4"/><use href="#d_F7_5"/></g>
<path d="M124.8,364.3 L119.5,374.8" fill="none" stroke="#440154" stroke-width="4"/>
<g fill="#2d6f8e"><use href="#d_F8_0"/><use href="#d_F8_1"/><use href="#d_F8_2"/><use href="#d_F8_3"/></g>
<path d="M205.1,299.2 L213.5,299.6 L221.1,303.4 L225.7,307.5 L229.5,312.9 L233.3,317.4 L234.4,322.8 L234.0,329.6 L231.7,335.7 L227.2,340.3 L221.1,344.1 L213.5,347.1 L208.2,348.3 L201.3,344.8 L196.7,339.5 L193.7,332.7 L189.9,326.6 L189.5,320.5 L190.7,312.9 L194.5,305.3 L199.8,300.7 Z" fill="#440154" stroke="#440154" stroke-width="0.6"/><use href="#e_G" fill="#440154"/>
<g fill="#2d6f8e"><use href="#d_G_0"/><use href="#d_G_1"/><use href="#d_G_2"/><use href="#d_G_3"/><use href="#d_G_4"/></g>
<path d="M172.5,333.0 L174.0,330.0 L180.0,326.0 L182.5,326.5 L181.0,330.0 L175.0,333.5 Z" fill="#440154" stroke="#440154" stroke-width="0.6"/><use href="#e_H" fill="#440154"/>
<g fill="#2d6f8e"><use href="#d_H_0"/><use href="#d_H_1"/><use href="#d_H_2"/><use href="#d_H_3"/><use href="#d_H_4"/><use href="#d_H_5"/><use href="#d_H_6"/><use href="#d_H_7"/><use href="#d_H_8"/><use href="#d_H_9"/></g>
<path d="M237.0,242.5 L239.5,244.0 L240.0,248.5 L238.0,251.0 L235.0,250.5 L234.5,246.0 Z" fill="#440154" stroke="#440154" stroke-width="0.6"/><use href="#e_I0" fill="#440154"/>
<g fill="#2d6f8e"><use href="#d_I0_0"/><use href="#d_I0_1"/><use href="#d_I0_2"/></g>
<path d="M237.5,252 L238,262 L238.5,272" fill="none" stroke="#440154" stroke-width="3"/>
<g fill="#2d6f8e"><use href="#d_I1_0"/><use href="#d_I1_1"/><use href="#d_I1_2"/></g>
<path d="M240.8,272.2 L249.3,274.3 L252.1,280.0 L247.9,284.9 L239.4,284.9 L233.8,282.8 L236.6,277.1 Z" fill="#440154" stroke="#440154" stroke-width="0.6"/><use href="#e_I2" fill="#440154"/>
<g fill="#2d6f8e"><use href="#d_I2_0"/><use href="#d_I2_1"/><use href="#d_I2_2"/></g>
<path d="M296.2,214.4 L298.7,221.4 L299.9,224.7 L297.0,228.0 L290.5,227.1 L288.4,223.0 L292.1,217.3 Z" fill="#440154" stroke="#440154" stroke-width="0.6"/><use href="#e_J" fill="#440154"/>
<g fill="#2d6f8e"><use href="#d_J_0"/><use href="#d_J_1"/><use href="#d_J_2"/><use href="#d_J_3"/><use href="#d_J_4"/><use href="#d_J_5"/></g>
<path d="M289.7,241.1 L288,254.2" fill="none" stroke="#440154" stroke-width="3"/>
<g fill="#2d6f8e"><use href="#d_K1_0"/><use href="#d_K1_1"/><use href="#d_K1_2"/><use href="#d_K1_3"/><use href="#d_K1_4"/></g>
<path d="M288.0,255.0 L290.5,256.6 L293.8,264.0 L289.7,268.1 L286.4,267.3 L284.3,258.3 Z" fill="#440154" stroke="#440154" stroke-width="0.6"/><use href="#e_K2" fill="#440154"/>
<g fill="#2d6f8e"><use href="#d_K2_0"/><use href="#d_K2_1"/><use href="#d_K2_2"/><use href="#d_K2_3"/><use href="#d_K2_4"/></g>
<path d="M347.0,237.8 L356.9,235.3 L357.7,241.1 L357.7,246.8 L355.2,248.4 L348.7,246.8 L345.4,242.7 Z" fill="#440154" stroke="#440154" stroke-width="0.6"/><use href="#e_L" fill="#440154"/>
<g fill="#2d6f8e"><use href="#d_L_0"/><use href="#d_L_1"/><use href="#d_L_2"/><use href="#d_L_3"/><use href="#d_L_4"/><use href="#d_L_5"/></g>
<path d="M237.2,291.2a1.5,1.5 0 1,0 3,0a1.5,1.5 0 1,0 -3,0M231.6,284.2a1.5,1.5 0 1,0 3,0a1.5,1.5 0 1,0 -3,0M240.1,288.5a1.4,1.4 0 1,0 2.8,0a1.4,1.4 0 1,0 -2.8,0" fill="#440154" stroke="#440154" stroke-width="1.5"/>
<path d="M289,234.1a1.5,1.5 0 1,0 3,0a1.5,1.5 0 1,0 -3,0" fill="#440154" stroke="#440154" stroke-width="1.5"/>
</g>
<rect x="377.5" y="40.5" width="12" height="350.0" fill="url(#vir)" stroke="#000" stroke-width="1.0"/>
<line x1="389.5" y1="390.5" x2="395.5" y2="390.5" stroke="#000" stroke-width="1.25"/>
<text x="402.3" y="400.1" font-size="26" fill="#000">0</text>
<line x1="389.5" y1="323.9" x2="395.5" y2="323.9" stroke="#000" stroke-width="1.25"/>
<text x="402.3" y="333.5" font-size="26" fill="#000">1</text>
<line x1="389.5" y1="257.3" x2="395.5" y2="257.3" stroke="#000" stroke-width="1.25"/>
<text x="402.3" y="266.9" font-size="26" fill="#000">2</text>
<line x1="389.5" y1="190.7" x2="395.5" y2="190.7" stroke="#000" stroke-width="1.25"/>
<text x="402.3" y="200.3" font-size="26" fill="#000">3</text>
<line x1="389.5" y1="124.1" x2="395.5" y2="124.1" stroke="#000" stroke-width="1.25"/>
<text x="402.3" y="133.7" font-size="26" fill="#000">4</text>
<line x1="389.5" y1="57.5" x2="395.5" y2="57.5" stroke="#000" stroke-width="1.25"/>
<text x="402.3" y="67.1" font-size="26" fill="#000">5</text>
</g>
<g transform="translate(479.0,0.0)">
<text x="192.9" y="30.7" font-size="26" text-anchor="middle" fill="#000">PLP1</text>
<g stroke-linejoin="round" stroke-linecap="round">
<path d="M39.0,164.1 L41.4,168.3 L39.0,174.0 L34.0,177.5 L27.4,177.5 L27.7,173.6 L30.5,169.0 L34.0,166.2 Z" fill="#3a568b" stroke="#3a568b" stroke-width="0.6"/><use href="#e_A" fill="#3a568b"/>
<g fill="#46327e"><use href="#d_A_0"/><use href="#d_A_1"/><use href="#d_A_2"/></g>
<g fill="#2b748e"><use href="#d_A_3"/><use href="#d_A_4"/><use href="#d_A_5"/></g>
<path d="M253.4,83.9 L255.6,78.4 L260.0,75.0 L261.2,69.5 L263.4,62.8 L266.7,60.6 L267.8,56.7 L273.4,55.0 L279.0,58.3 L284.5,62.8 L285.6,67.2 L282.3,73.9 L279.0,80.6 L275.6,78.4 L276.7,73.9 L272.3,72.8 L269.0,78.4 L266.7,85.0 L264.5,93.0 L256.7,94.0 L253.4,87.3 Z" fill="#3e4a89" stroke="#3e4a89" stroke-width="0.6"/><use href="#e_B1" fill="#3e4a89"/>
<g fill="#482576"><use href="#d_B1_0"/><use href="#d_B1_1"/><use href="#d_B1_2"/></g>
<g fill="#2f6b8e"><use href="#d_B1_3"/><use href="#d_B1_4"/><use href="#d_B1_5"/></g>
<path d="M235.2,98.8 L240.5,96.4 L246.4,92.9 L250.5,94.1 L255.1,94.7 L261.0,94.7 L268.6,94.1 L272.7,97.6 L277.4,101.7 L276.2,106.4 L279.7,110.5 L281.5,115.8 L281.5,122.8 L278.6,129.8 L272.7,130.4 L266.9,131.0 L262.2,127.5 L255.1,128.1 L249.3,130.4 L244.6,132.2 L240.5,131.0 L237.0,125.1 L233.5,119.9 L232.3,112.3 L233.5,104.1 Z" fill="#365b8c" stroke="#365b8c" stroke-width="0.6"/><use href="#e_B2" fill="#365b8c"/>
<g fill="#453882"><use href="#d_B2_0"/><use href="#d_B2_1"/><use href="#d_B2_2"/></g>
<g fill="#29798e"><use href="#d_B2_3"/><use href="#d_B2_4"/><use href="#d_B2_5"/></g>
<linearGradient id="gc1" gradientUnits="userSpaceOnUse" x1="120" y1="0" x2="210" y2="0"><stop offset="0.3" stop-color="#bade28"/><stop offset="1" stop-color="#8ad547"/></linearGradient>
<path d="M146.8,155.1 L141.0,158.6 L137.5,164.5 L134.5,169.2 L134.0,175.0 L123.4,178.5 L117.6,182.0 L116.4,190.3 L117.6,199.6 L115.2,206.7 L121.0,212.5 L129.3,214.8 L142.2,216.6 L152.7,214.8 L163.2,213.7 L170.3,210.2 L179.6,212.5 L189.0,210.2 L193.7,204.3 L200.7,197.3 L207.7,190.3 L209.5,184.4 L205.4,179.7 L197.2,177.4 L192.5,173.9 L190.2,169.2 L186.7,166.8 L186.7,173.9 L182.0,176.2 L173.8,173.9 L167.9,169.2 L163.2,165.7 L158.5,161.0 L152.7,156.3 Z" fill="url(#gc1)" stroke="url(#gc1)" stroke-width="0.6"/><use href="#e_C" fill="url(#gc1)"/>
<g fill="#efe51c" fill-opacity="0.7"><use href="#d_C_0"/><use href="#d_C_1"/><use href="#d_C_2"/><use href="#d_C_3"/></g>
<g fill="#7ad151" fill-opacity="0.6"><use href="#d_C_4"/><use href="#d_C_5"/><use href="#d_C_6"/><use href="#d_C_7"/></g>
<radialGradient id="ov1_190"><stop offset="0" stop-color="#3fb874" stop-opacity="0.65"/><stop offset="0.6" stop-color="#3fb874" stop-opacity="0.52"/><stop offset="1" stop-color="#3fb874" stop-opacity="0"/></radialGradient>
<g clip-path="url(#clipC)"><ellipse cx="190" cy="184" rx="26" ry="15" fill="url(#ov1_190)"/></g>
<radialGradient id="ov1_117"><stop offset="0" stop-color="#2a9b84" stop-opacity="0.75"/><stop offset="0.6" stop-color="#2a9b84" stop-opacity="0.60"/><stop offset="1" stop-color="#2a9b84" stop-opacity="0"/></radialGradient>
<g clip-path="url(#clipC)"><ellipse cx="117" cy="210" rx="10" ry="8" fill="url(#ov1_117)"/></g>
<path d="M195.2,129.1 L199.4,130.5 L201.5,135.5 L203.6,141.8 L201.5,146.7 L198.7,151.6 L195.9,155.1 L193.1,153.0 L190.8,150.5 L190.3,148.1 L191.0,142.5 L189.6,137.6 L191.0,131.9 Z" fill="#a8db34" stroke="#a8db34" stroke-width="0.6"/><use href="#e_D" fill="#a8db34"/>
<g fill="#5cc863"><use href="#d_D_0"/><use href="#d_D_1"/><use href="#d_D_2"/></g>
<g fill="#f8e621"><use href="#d_D_3"/><use href="#d_D_4"/><use href="#d_D_5"/></g>
<path d="M183.9,153.7 L186.8,150.2 L190.3,148.1 L193.1,150.0 L193.1,153.0 L191.7,156.5 L191.0,162.2 L188.2,164.3 L186.0,163.6 L185.4,157.2 Z" fill="#bade28" stroke="#bade28" stroke-width="0.6"/><use href="#e_Dl" fill="#bade28"/>
<g fill="#6ccd5a"><use href="#d_Dl_0"/><use href="#d_Dl_1"/><use href="#d_Dl_2"/></g>
<g fill="#fde725"><use href="#d_Dl_3"/><use href="#d_Dl_4"/><use href="#d_Dl_5"/></g>
<path d="M42.1,289.7 L51.1,288.0 L56.9,292.1 L62.6,298.7 L65.9,303.6 L62.6,308.5 L55.2,311.8 L51.1,315.9 L44.6,322.5 L35.6,320.8 L29.8,315.9 L28.2,308.5 L33.1,303.6 L37.2,296.2 Z" fill="#3b528b" stroke="#3b528b" stroke-width="0.6"/><use href="#e_E" fill="#3b528b"/>
<g fill="#472e7c"><use href="#d_E_0"/><use href="#d_E_1"/><use href="#d_E_2"/></g>
<g fill="#2c718e"><use href="#d_E_3"/><use href="#d_E_4"/><use href="#d_E_5"/></g>
<path d="M60.0,298.0 L64.0,301.0 L66.0,304.0 L63.0,309.0 L57.0,312.0 L54.0,311.0 L57.0,305.0 Z" fill="#5ec962" stroke="#5ec962" stroke-width="0.6"/><use href="#e_E2" fill="#5ec962"/>
<g fill="#29af7f"><use href="#d_E2_0"/><use href="#d_E2_1"/><use href="#d_E2_2"/></g>
<g fill="#aadc32"><use href="#d_E2_3"/><use href="#d_E2_4"/><use href="#d_E2_5"/></g>
<path d="M138.9,288.2 L148.2,291.7 L154.1,298.7 L150.6,308.1 L148.2,316.3 L141.2,319.8 L138.9,314.0 L142.4,306.9 L136.5,304.6 L133.0,299.9 L135.4,291.7 Z" fill="#3b528b" stroke="#3b528b" stroke-width="0.6"/><use href="#e_F1" fill="#3b528b"/>
<g fill="#2e6d8e"><use href="#d_F1_18"/><use href="#d_F1_19"/></g>
<g fill="#440154"><use href="#d_F1_0"/><use href="#d_F1_1"/><use href="#d_F1_2"/><use href="#d_F1_3"/><use href="#d_F1_4"/><use href="#d_F1_5"/><use href="#d_F1_6"/></g>
<path d="M141,319 L135.4,322 L123.6,330.4" fill="none" stroke="#3b528b" stroke-width="3"/>
<g fill="#2e6d8e"><use href="#d_F2_18"/><use href="#d_F2_19"/></g>
<g fill="#440154"><use href="#d_F2_0"/><use href="#d_F2_1"/><use href="#d_F2_2"/><use href="#d_F2_3"/><use href="#d_F2_4"/><use href="#d_F2_5"/><use href="#d_F2_6"/></g>
<path d="M129.5,305.8 L126,316.3" fill="none" stroke="#3b528b" stroke-width="3"/>
<g fill="#2e6d8e"><use href="#d_F3_18"/><use href="#d_F3_19"/></g>
<g fill="#440154"><use href="#d_F3_0"/><use href="#d_F3_1"/><use href="#d_F3_2"/><use href="#d_F3_3"/><use href="#d_F3_4"/><use href="#d_F3_5"/><use href="#d_F3_6"/></g>
<path d="M110.8,301.7 L119.0,308.1 L117.8,315.1 L113.1,315.1 L107.8,308.1 Z" fill="#3b528b" stroke="#3b528b" stroke-width="0.6"/><use href="#e_F4" fill="#3b528b"/>
<g fill="#2e6d8e"><use href="#d_F4_18"/><use href="#d_F4_19"/></g>
<g fill="#440154"><use href="#d_F4_0"/><use href="#d_F4_1"/><use href="#d_F4_2"/><use href="#d_F4_3"/><use href="#d_F4_4"/><use href="#d_F4_5"/></g>
<path d="M107.2,325.1 L114.3,328.0 L120.1,332.7 L113.1,336.2 L106.1,340.9 L99.1,347.9 L94.4,346.7 L93.2,335.0 L99.1,329.2 L103.7,326.8 Z" fill="#3b528b" stroke="#3b528b" stroke-width="0.6"/><use href="#e_F5" fill="#3b528b"/>
<g fill="#2e6d8e"><use href="#d_F5_18"/><use href="#d_F5_19"/></g>
<g fill="#440154"><use href="#d_F5_0"/><use href="#d_F5_1"/><use href="#d_F5_2"/><use href="#d_F5_3"/><use href="#d_F5_4"/><use href="#d_F5_5"/><use href="#d_F5_6"/></g>
<path d="M120.1,326.8 L126.0,331.5 L129.5,338.5 L135.4,335.0 L136.5,339.7 L131.8,345.6 L136.5,350.3 L134.2,354.9 L127.2,357.3 L122.5,352.6 L117.8,350.3 L120.1,343.2 L115.4,335.0 Z" fill="#3b528b" stroke="#3b528b" stroke-width="0.6"/><use href="#e_F6" fill="#3b528b"/>
<g fill="#2e6d8e"><use href="#d_F6_18"/><use href="#d_F6_19"/></g>
<g fill="#440154"><use href="#d_F6_0"/><use href="#d_F6_1"/><use href="#d_F6_2"/><use href="#d_F6_3"/><use href="#d_F6_4"/><use href="#d_F6_5"/><use href="#d_F6_6"/></g>
<path d="M142.4,350.3 L148.2,356.1 L143.5,360.2 L138.9,354.9 Z" fill="#3b528b" stroke="#3b528b" stroke-width="0.6"/><use href="#e_F7" fill="#3b528b"/>
<g fill="#472e7c"><use href="#d_F7_0"/><use href="#d_F7_1"/><use href="#d_F7_2"/></g>
<g fill="#2c718e"><use href="#d_F7_3"/><use href="#d_F7_4"/><use href="#d_F7_5"/></g>
<path d="M124.8,364.3 L119.5,374.8" fill="none" stroke="#3b528b" stroke-width="4"/>
<g fill="#2e6d8e"><use href="#d_F8_18"/><use href="#d_F8_19"/></g>
<g fill="#440154"><use href="#d_F8_0"/><use href="#d_F8_1"/><use href="#d_F8_2"/><use href="#d_F8_3"/><use href="#d_F8_4"/><use href="#d_F8_5"/><use href="#d_F8_6"/></g>
<path d="M205.1,299.2 L213.5,299.6 L221.1,303.4 L225.7,307.5 L229.5,312.9 L233.3,317.4 L234.4,322.8 L234.0,329.6 L231.7,335.7 L227.2,340.3 L221.1,344.1 L213.5,347.1 L208.2,348.3 L201.3,344.8 L196.7,339.5 L193.7,332.7 L189.9,326.6 L189.5,320.5 L190.7,312.9 L194.5,305.3 L199.8,300.7 Z" fill="#2f6b8e" stroke="#2f6b8e" stroke-width="0.6"/><use href="#e_G" fill="#2f6b8e"/>
<g fill="#3e4a89"><use href="#d_G_0"/><use href="#d_G_1"/><use href="#d_G_2"/></g>
<g fill="#23888e"><use href="#d_G_3"/><use href="#d_G_4"/><use href="#d_G_5"/></g>
<path d="M172.5,333.0 L174.0,330.0 L180.0,326.0 L182.5,326.5 L181.0,330.0 L175.0,333.5 Z" fill="#443983" stroke="#443983" stroke-width="0.6"/><use href="#e_H" fill="#443983"/>
<g fill="#471164"><use href="#d_H_0"/><use href="#d_H_1"/><use href="#d_H_2"/></g>
<g fill="#365c8d"><use href="#d_H_3"/><use href="#d_H_4"/><use href="#d_H_5"/></g>
<path d="M237.0,242.5 L239.5,244.0 L240.0,248.5 L238.0,251.0 L235.0,250.5 L234.5,246.0 Z" fill="#3e4c8a" stroke="#3e4c8a" stroke-width="0.6"/><use href="#e_I0" fill="#3e4c8a"/>
<g fill="#482677"><use href="#d_I0_0"/><use href="#d_I0_1"/><use href="#d_I0_2"/></g>
<g fill="#2f6c8e"><use href="#d_I0_3"/><use href="#d_I0_4"/><use href="#d_I0_5"/></g>
<path d="M237.5,252 L238,262 L238.5,272" fill="none" stroke="#3e4c8a" stroke-width="3"/>
<path d="M240.8,272.2 L249.3,274.3 L252.1,280.0 L247.9,284.9 L239.4,284.9 L233.8,282.8 L236.6,277.1 Z" fill="#3e4c8a" stroke="#3e4c8a" stroke-width="0.6"/><use href="#e_I2" fill="#3e4c8a"/>
<g fill="#482677"><use href="#d_I2_0"/><use href="#d_I2_1"/><use href="#d_I2_2"/></g>
<g fill="#2f6c8e"><use href="#d_I2_3"/><use href="#d_I2_4"/><use href="#d_I2_5"/></g>
<path d="M296.2,214.4 L298.7,221.4 L299.9,224.7 L297.0,228.0 L290.5,227.1 L288.4,223.0 L292.1,217.3 Z" fill="#3b528b" stroke="#3b528b" stroke-width="0.6"/><use href="#e_J" fill="#3b528b"/>
<g fill="#472e7c"><use href="#d_J_0"/><use href="#d_J_1"/><use href="#d_J_2"/></g>
<g fill="#2c718e"><use href="#d_J_3"/><use href="#d_J_4"/><use href="#d_J_5"/></g>
<path d="M289.7,241.1 L288,254.2" fill="none" stroke="#3b528b" stroke-width="3"/>
<path d="M288.0,255.0 L290.5,256.6 L293.8,264.0 L289.7,268.1 L286.4,267.3 L284.3,258.3 Z" fill="#3b528b" stroke="#3b528b" stroke-width="0.6"/><use href="#e_K2" fill="#3b528b"/>
<g fill="#472e7c"><use href="#d_K2_0"/><use href="#d_K2_1"/><use href="#d_K2_2"/></g>
<g fill="#2c718e"><use href="#d_K2_3"/><use href="#d_K2_4"/><use href="#d_K2_5"/></g>
<path d="M347.0,237.8 L356.9,235.3 L357.7,241.1 L357.7,246.8 L355.2,248.4 L348.7,246.8 L345.4,242.7 Z" fill="#3e4c8a" stroke="#3e4c8a" stroke-width="0.6"/><use href="#e_L" fill="#3e4c8a"/>
<g fill="#482677"><use href="#d_L_0"/><use href="#d_L_1"/><use href="#d_L_2"/></g>
<g fill="#2f6c8e"><use href="#d_L_3"/><use href="#d_L_4"/><use href="#d_L_5"/></g>
<path d="M237.2,291.2a1.5,1.5 0 1,0 3,0a1.5,1.5 0 1,0 -3,0M231.6,284.2a1.5,1.5 0 1,0 3,0a1.5,1.5 0 1,0 -3,0M240.1,288.5a1.4,1.4 0 1,0 2.8,0a1.4,1.4 0 1,0 -2.8,0" fill="#3e4c8a" stroke="#3e4c8a" stroke-width="1.5"/>
<path d="M289,234.1a1.5,1.5 0 1,0 3,0a1.5,1.5 0 1,0 -3,0" fill="#3b528b" stroke="#3b528b" stroke-width="1.5"/>
</g>
<rect x="377.5" y="40.5" width="12" height="350.0" fill="url(#vir)" stroke="#000" stroke-width="1.0"/>
<line x1="389.5" y1="390.5" x2="395.5" y2="390.5" stroke="#000" stroke-width="1.25"/>
<text x="402.3" y="400.1" font-size="26" fill="#000">0</text>
<line x1="389.5" y1="329.3" x2="395.5" y2="329.3" stroke="#000" stroke-width="1.25"/>
<text x="402.3" y="338.9" font-size="26" fill="#000">1</text>
<line x1="389.5" y1="268.0" x2="395.5" y2="268.0" stroke="#000" stroke-width="1.25"/>
<text x="402.3" y="277.6" font-size="26" fill="#000">2</text>
<line x1="389.5" y1="206.8" x2="395.5" y2="206.8" stroke="#000" stroke-width="1.25"/>
<text x="402.3" y="216.4" font-size="26" fill="#000">3</text>
<line x1="389.5" y1="145.5" x2="395.5" y2="145.5" stroke="#000" stroke-width="1.25"/>
<text x="402.3" y="155.1" font-size="26" fill="#000">4</text>
<line x1="389.5" y1="84.3" x2="395.5" y2="84.3" stroke="#000" stroke-width="1.25"/>
<text x="402.3" y="93.9" font-size="26" fill="#000">5</text>
</g>
<g transform="translate(958.0,0.0)">
<text x="192.9" y="30.7" font-size="26" text-anchor="middle" fill="#000">CTNNA3</text>
<g stroke-linejoin="round" stroke-linecap="round">
<path d="M39.0,164.1 L41.4,168.3 L39.0,174.0 L34.0,177.5 L27.4,177.5 L27.7,173.6 L30.5,169.0 L34.0,166.2 Z" fill="#31688e" stroke="#31688e" stroke-width="0.6"/><use href="#e_A" fill="#31688e"/>
<g fill="#3f4788"><use href="#d_A_0"/><use href="#d_A_1"/><use href="#d_A_2"/></g>
<g fill="#25858e"><use href="#d_A_3"/><use href="#d_A_4"/><use href="#d_A_5"/></g>
<path d="M253.4,83.9 L255.6,78.4 L260.0,75.0 L261.2,69.5 L263.4,62.8 L266.7,60.6 L267.8,56.7 L273.4,55.0 L279.0,58.3 L284.5,62.8 L285.6,67.2 L282.3,73.9 L279.0,80.6 L275.6,78.4 L276.7,73.9 L272.3,72.8 L269.0,78.4 L266.7,85.0 L264.5,93.0 L256.7,94.0 L253.4,87.3 Z" fill="#440154" stroke="#440154" stroke-width="0.6"/><use href="#e_B1" fill="#440154"/>
<g fill="#31688e"><use href="#d_B1_0"/><use href="#d_B1_1"/><use href="#d_B1_2"/><use href="#d_B1_3"/><use href="#d_B1_4"/><use href="#d_B1_5"/><use href="#d_B1_6"/><use href="#d_B1_7"/><use href="#d_B1_8"/><use href="#d_B1_9"/></g>
<path d="M235.2,98.8 L240.5,96.4 L246.4,92.9 L250.5,94.1 L255.1,94.7 L261.0,94.7 L268.6,94.1 L272.7,97.6 L277.4,101.7 L276.2,106.4 L279.7,110.5 L281.5,115.8 L281.5,122.8 L278.6,129.8 L272.7,130.4 L266.9,131.0 L262.2,127.5 L255.1,128.1 L249.3,130.4 L244.6,132.2 L240.5,131.0 L237.0,125.1 L233.5,119.9 L232.3,112.3 L233.5,104.1 Z" fill="#440154" stroke="#440154" stroke-width="0.6"/><use href="#e_B2" fill="#440154"/>
<g fill="#31688e"><use href="#d_B2_0"/><use href="#d_B2_1"/><use href="#d_B2_2"/><use href="#d_B2_3"/><use href="#d_B2_4"/><use href="#d_B2_5"/><use href="#d_B2_6"/><use href="#d_B2_7"/><use href="#d_B2_8"/><use href="#d_B2_9"/></g>
<linearGradient id="gc2" gradientUnits="userSpaceOnUse" x1="120" y1="0" x2="210" y2="0"><stop offset="0.3" stop-color="#b0dd2f"/><stop offset="1" stop-color="#a5db36"/></linearGradient>
<path d="M146.8,155.1 L141.0,158.6 L137.5,164.5 L134.5,169.2 L134.0,175.0 L123.4,178.5 L117.6,182.0 L116.4,190.3 L117.6,199.6 L115.2,206.7 L121.0,212.5 L129.3,214.8 L142.2,216.6 L152.7,214.8 L163.2,213.7 L170.3,210.2 L179.6,212.5 L189.0,210.2 L193.7,204.3 L200.7,197.3 L207.7,190.3 L209.5,184.4 L205.4,179.7 L197.2,177.4 L192.5,173.9 L190.2,169.2 L186.7,166.8 L186.7,173.9 L182.0,176.2 L173.8,173.9 L167.9,169.2 L163.2,165.7 L158.5,161.0 L152.7,156.3 Z" fill="url(#gc2)" stroke="url(#gc2)" stroke-width="0.6"/><use href="#e_C" fill="url(#gc2)"/>
<g fill="#e5e419" fill-opacity="0.7"><use href="#d_C_0"/><use href="#d_C_1"/><use href="#d_C_2"/><use href="#d_C_3"/></g>
<g fill="#70cf57" fill-opacity="0.6"><use href="#d_C_4"/><use href="#d_C_5"/><use href="#d_C_6"/><use href="#d_C_7"/></g>
<path d="M195.2,129.1 L199.4,130.5 L201.5,135.5 L203.6,141.8 L201.5,146.7 L198.7,151.6 L195.9,155.1 L193.1,153.0 L190.8,150.5 L190.3,148.1 L191.0,142.5 L189.6,137.6 L191.0,131.9 Z" fill="#6ccd5a" stroke="#6ccd5a" stroke-width="0.6"/><use href="#e_D" fill="#6ccd5a"/>
<g fill="#31b57b"><use href="#d_D_0"/><use href="#d_D_1"/><use href="#d_D_2"/></g>
<g fill="#bade28"><use href="#d_D_3"/><use href="#d_D_4"/><use href="#d_D_5"/></g>
<path d="M183.9,153.7 L186.8,150.2 L190.3,148.1 L193.1,150.0 L193.1,153.0 L191.7,156.5 L191.0,162.2 L188.2,164.3 L186.0,163.6 L185.4,157.2 Z" fill="#b0dd2f" stroke="#b0dd2f" stroke-width="0.6"/><use href="#e_Dl" fill="#b0dd2f"/>
<g fill="#63cb5f"><use href="#d_Dl_0"/><use href="#d_Dl_1"/><use href="#d_Dl_2"/></g>
<g fill="#fde725"><use href="#d_Dl_3"/><use href="#d_Dl_4"/><use href="#d_Dl_5"/></g>
<path d="M42.1,289.7 L51.1,288.0 L56.9,292.1 L62.6,298.7 L65.9,303.6 L62.6,308.5 L55.2,311.8 L51.1,315.9 L44.6,322.5 L35.6,320.8 L29.8,315.9 L28.2,308.5 L33.1,303.6 L37.2,296.2 Z" fill="#306a8d" stroke="#306a8d" stroke-width="0.6"/><use href="#e_E" fill="#306a8d"/>
<g fill="#3e4989"><use href="#d_E_0"/><use href="#d_E_1"/><use href="#d_E_2"/></g>
<g fill="#24878e"><use href="#d_E_3"/><use href="#d_E_4"/><use href="#d_E_5"/></g>
<path d="M60.0,298.0 L64.0,301.0 L66.0,304.0 L63.0,309.0 L57.0,312.0 L54.0,311.0 L57.0,305.0 Z" fill="#5ec962" stroke="#5ec962" stroke-width="0.6"/><use href="#e_E2" fill="#5ec962"/>
<g fill="#29af7f"><use href="#d_E2_0"/><use href="#d_E2_1"/><use href="#d_E2_2"/></g>
<g fill="#aadc32"><use href="#d_E2_3"/><use href="#d_E2_4"/><use href="#d_E2_5"/></g>
<path d="M138.9,288.2 L148.2,291.7 L154.1,298.7 L150.6,308.1 L148.2,316.3 L141.2,319.8 L138.9,314.0 L142.4,306.9 L136.5,304.6 L133.0,299.9 L135.4,291.7 Z" fill="#35598b" stroke="#35598b" stroke-width="0.6"/><use href="#e_F1" fill="#35598b"/>
<g fill="#453781"><use href="#d_F1_0"/><use href="#d_F1_1"/><use href="#d_F1_2"/></g>
<g fill="#2a788e"><use href="#d_F1_3"/><use href="#d_F1_4"/><use href="#d_F1_5"/></g>
<path d="M141,319 L135.4,322 L123.6,330.4" fill="none" stroke="#35598b" stroke-width="3"/>
<path d="M129.5,305.8 L126,316.3" fill="none" stroke="#35598b" stroke-width="3"/>
<path d="M110.8,301.7 L119.0,308.1 L117.8,315.1 L113.1,315.1 L107.8,308.1 Z" fill="#31688e" stroke="#31688e" stroke-width="0.6"/><use href="#e_F4" fill="#31688e"/>
<g fill="#3f4788"><use href="#d_F4_0"/><use href="#d_F4_1"/><use href="#d_F4_2"/></g>
<g fill="#25858e"><use href="#d_F4_3"/><use href="#d_F4_4"/><use href="#d_F4_5"/></g>
<path d="M107.2,325.1 L114.3,328.0 L120.1,332.7 L113.1,336.2 L106.1,340.9 L99.1,347.9 L94.4,346.7 L93.2,335.0 L99.1,329.2 L103.7,326.8 Z" fill="#35598b" stroke="#35598b" stroke-width="0.6"/><use href="#e_F5" fill="#35598b"/>
<g fill="#453781"><use href="#d_F5_0"/><use href="#d_F5_1"/><use href="#d_F5_2"/></g>
<g fill="#2a788e"><use href="#d_F5_3"/><use href="#d_F5_4"/><use href="#d_F5_5"/></g>
<path d="M120.1,326.8 L126.0,331.5 L129.5,338.5 L135.4,335.0 L136.5,339.7 L131.8,345.6 L136.5,350.3 L134.2,354.9 L127.2,357.3 L122.5,352.6 L117.8,350.3 L120.1,343.2 L115.4,335.0 Z" fill="#35598b" stroke="#35598b" stroke-width="0.6"/><use href="#e_F6" fill="#35598b"/>
<g fill="#453781"><use href="#d_F6_0"/><use href="#d_F6_1"/><use href="#d_F6_2"/></g>
<g fill="#2a788e"><use href="#d_F6_3"/><use href="#d_F6_4"/><use href="#d_F6_5"/></g>
<path d="M142.4,350.3 L148.2,356.1 L143.5,360.2 L138.9,354.9 Z" fill="#2a788e" stroke="#2a788e" stroke-width="0.6"/><use href="#e_F7" fill="#2a788e"/>
<g fill="#375a8c"><use href="#d_F7_0"/><use href="#d_F7_1"/><use href="#d_F7_2"/></g>
<g fill="#1f958b"><use href="#d_F7_3"/><use href="#d_F7_4"/><use href="#d_F7_5"/></g>
<path d="M124.8,364.3 L119.5,374.8" fill="none" stroke="#35598b" stroke-width="4"/>
<path d="M205.1,299.2 L213.5,299.6 L221.1,303.4 L225.7,307.5 L229.5,312.9 L233.3,317.4 L234.4,322.8 L234.0,329.6 L231.7,335.7 L227.2,340.3 L221.1,344.1 L213.5,347.1 L208.2,348.3 L201.3,344.8 L196.7,339.5 L193.7,332.7 L189.9,326.6 L189.5,320.5 L190.7,312.9 L194.5,305.3 L199.8,300.7 Z" fill="#2a7a8e" stroke="#2a7a8e" stroke-width="0.6"/><use href="#e_G" fill="#2a7a8e"/>
<g fill="#365c8d"><use href="#d_G_0"/><use href="#d_G_1"/><use href="#d_G_2"/></g>
<g fill="#1f978b"><use href="#d_G_3"/><use href="#d_G_4"/><use href="#d_G_5"/></g>
<path d="M172.5,333.0 L174.0,330.0 L180.0,326.0 L182.5,326.5 L181.0,330.0 L175.0,333.5 Z" fill="#3b528b" stroke="#3b528b" stroke-width="0.6"/><use href="#e_H" fill="#3b528b"/>
<g fill="#472e7c"><use href="#d_H_0"/><use href="#d_H_1"/><use href="#d_H_2"/></g>
<g fill="#2c718e"><use href="#d_H_3"/><use href="#d_H_4"/><use href="#d_H_5"/></g>
<path d="M237.0,242.5 L239.5,244.0 L240.0,248.5 L238.0,251.0 L235.0,250.5 L234.5,246.0 Z" fill="#3b528b" stroke="#3b528b" stroke-width="0.6"/><use href="#e_I0" fill="#3b528b"/>
<g fill="#2e6d8e"><use href="#d_I0_18"/><use href="#d_I0_19"/></g>
<g fill="#440154"><use href="#d_I0_0"/><use href="#d_I0_1"/><use href="#d_I0_2"/><use href="#d_I0_3"/><use href="#d_I0_4"/><use href="#d_I0_5"/><use href="#d_I0_6"/><use href="#d_I0_7"/><use href="#d_I0_8"/></g>
<path d="M237.5,252 L238,262 L238.5,272" fill="none" stroke="#3b528b" stroke-width="3"/>
<g fill="#2e6d8e"><use href="#d_I1_18"/><use href="#d_I1_19"/></g>
<g fill="#440154"><use href="#d_I1_0"/><use href="#d_I1_1"/><use href="#d_I1_2"/><use href="#d_I1_3"/><use href="#d_I1_4"/><use href="#d_I1_5"/><use href="#d_I1_6"/><use href="#d_I1_7"/><use href="#d_I1_8"/></g>
<path d="M240.8,272.2 L249.3,274.3 L252.1,280.0 L247.9,284.9 L239.4,284.9 L233.8,282.8 L236.6,277.1 Z" fill="#3b528b" stroke="#3b528b" stroke-width="0.6"/><use href="#e_I2" fill="#3b528b"/>
<g fill="#2e6d8e"><use href="#d_I2_18"/><use href="#d_I2_19"/></g>
<g fill="#440154"><use href="#d_I2_0"/><use href="#d_I2_1"/><use href="#d_I2_2"/><use href="#d_I2_3"/><use href="#d_I2_4"/><use href="#d_I2_5"/><use href="#d_I2_6"/><use href="#d_I2_7"/><use href="#d_I2_8"/></g>
<path d="M296.2,214.4 L298.7,221.4 L299.9,224.7 L297.0,228.0 L290.5,227.1 L288.4,223.0 L292.1,217.3 Z" fill="#33638d" stroke="#33638d" stroke-width="0.6"/><use href="#e_J" fill="#33638d"/>
<g fill="#424186"><use href="#d_J_0"/><use href="#d_J_1"/><use href="#d_J_2"/></g>
<g fill="#26818e"><use href="#d_J_3"/><use href="#d_J_4"/><use href="#d_J_5"/></g>
<path d="M289.7,241.1 L288,254.2" fill="none" stroke="#3b528b" stroke-width="3"/>
<path d="M288.0,255.0 L290.5,256.6 L293.8,264.0 L289.7,268.1 L286.4,267.3 L284.3,258.3 Z" fill="#3b528b" stroke="#3b528b" stroke-width="0.6"/><use href="#e_K2" fill="#3b528b"/>
<g fill="#472e7c"><use href="#d_K2_0"/><use href="#d_K2_1"/><use href="#d_K2_2"/></g>
<g fill="#2c718e"><use href="#d_K2_3"/><use href="#d_K2_4"/><use href="#d_K2_5"/></g>
<path d="M347.0,237.8 L356.9,235.3 L357.7,241.1 L357.7,246.8 L355.2,248.4 L348.7,246.8 L345.4,242.7 Z" fill="#440154" stroke="#440154" stroke-width="0.6"/><use href="#e_L" fill="#440154"/>
<g fill="#2d6f8e"><use href="#d_L_0"/><use href="#d_L_1"/><use href="#d_L_2"/><use href="#d_L_3"/><use href="#d_L_4"/><use href="#d_L_5"/><use href="#d_L_6"/><use href="#d_L_7"/></g>
<path d="M237.2,291.2a1.5,1.5 0 1,0 3,0a1.5,1.5 0 1,0 -3,0M231.6,284.2a1.5,1.5 0 1,0 3,0a1.5,1.5 0 1,0 -3,0M240.1,288.5a1.4,1.4 0 1,0 2.8,0a1.4,1.4 0 1,0 -2.8,0" fill="#3b528b" stroke="#3b528b" stroke-width="1.5"/>
<path d="M289,234.1a1.5,1.5 0 1,0 3,0a1.5,1.5 0 1,0 -3,0" fill="#3b528b" stroke="#3b528b" stroke-width="1.5"/>
</g>
<rect x="377.5" y="40.5" width="12" height="350.0" fill="url(#vir)" stroke="#000" stroke-width="1.0"/>
<line x1="389.5" y1="390.5" x2="395.5" y2="390.5" stroke="#000" stroke-width="1.25"/>
<text x="402.3" y="400.1" font-size="26" fill="#000">0</text>
<line x1="389.5" y1="321.6" x2="395.5" y2="321.6" stroke="#000" stroke-width="1.25"/>
<text x="402.3" y="331.2" font-size="26" fill="#000">1</text>
<line x1="389.5" y1="252.7" x2="395.5" y2="252.7" stroke="#000" stroke-width="1.25"/>
<text x="402.3" y="262.3" font-size="26" fill="#000">2</text>
<line x1="389.5" y1="183.8" x2="395.5" y2="183.8" stroke="#000" stroke-width="1.25"/>
<text x="402.3" y="193.4" font-size="26" fill="#000">3</text>
<line x1="389.5" y1="114.9" x2="395.5" y2="114.9" stroke="#000" stroke-width="1.25"/>
<text x="402.3" y="124.5" font-size="26" fill="#000">4</text>
<line x1="389.5" y1="46.0" x2="395.5" y2="46.0" stroke="#000" stroke-width="1.25"/>
<text x="402.3" y="55.6" font-size="26" fill="#000">5</text>
</g>
<g transform="translate(1437.0,0.0)">
<text x="192.9" y="30.7" font-size="26" text-anchor="middle" fill="#000">MBP</text>
<g stroke-linejoin="round" stroke-linecap="round">
<path d="M39.0,164.1 L41.4,168.3 L39.0,174.0 L34.0,177.5 L27.4,177.5 L27.7,173.6 L30.5,169.0 L34.0,166.2 Z" fill="#3e4a89" stroke="#3e4a89" stroke-width="0.6"/><use href="#e_A" fill="#3e4a89"/>
<g fill="#482576"><use href="#d_A_0"/><use href="#d_A_1"/><use href="#d_A_2"/></g>
<g fill="#2f6b8e"><use href="#d_A_3"/><use href="#d_A_4"/><use href="#d_A_5"/></g>
<path d="M253.4,83.9 L255.6,78.4 L260.0,75.0 L261.2,69.5 L263.4,62.8 L266.7,60.6 L267.8,56.7 L273.4,55.0 L279.0,58.3 L284.5,62.8 L285.6,67.2 L282.3,73.9 L279.0,80.6 L275.6,78.4 L276.7,73.9 L272.3,72.8 L269.0,78.4 L266.7,85.0 L264.5,93.0 L256.7,94.0 L253.4,87.3 Z" fill="#440154" stroke="#440154" stroke-width="0.6"/><use href="#e_B1" fill="#440154"/>
<g fill="#3b528b"><use href="#d_B1_0"/><use href="#d_B1_1"/><use href="#d_B1_2"/><use href="#d_B1_3"/><use href="#d_B1_4"/><use href="#d_B1_5"/></g>
<path d="M235.2,98.8 L240.5,96.4 L246.4,92.9 L250.5,94.1 L255.1,94.7 L261.0,94.7 L268.6,94.1 L272.7,97.6 L277.4,101.7 L276.2,106.4 L279.7,110.5 L281.5,115.8 L281.5,122.8 L278.6,129.8 L272.7,130.4 L266.9,131.0 L262.2,127.5 L255.1,128.1 L249.3,130.4 L244.6,132.2 L240.5,131.0 L237.0,125.1 L233.5,119.9 L232.3,112.3 L233.5,104.1 Z" fill="#440154" stroke="#440154" stroke-width="0.6"/><use href="#e_B2" fill="#440154"/>
<g fill="#3b528b"><use href="#d_B2_0"/><use href="#d_B2_1"/><use href="#d_B2_2"/><use href="#d_B2_3"/><use href="#d_B2_4"/><use href="#d_B2_5"/></g>
<linearGradient id="gc3" gradientUnits="userSpaceOnUse" x1="120" y1="0" x2="210" y2="0"><stop offset="0.3" stop-color="#7fd34e"/><stop offset="1" stop-color="#98d83e"/></linearGradient>
<path d="M146.8,155.1 L141.0,158.6 L137.5,164.5 L134.5,169.2 L134.0,175.0 L123.4,178.5 L117.6,182.0 L116.4,190.3 L117.6,199.6 L115.2,206.7 L121.0,212.5 L129.3,214.8 L142.2,216.6 L152.7,214.8 L163.2,213.7 L170.3,210.2 L179.6,212.5 L189.0,210.2 L193.7,204.3 L200.7,197.3 L207.7,190.3 L209.5,184.4 L205.4,179.7 L197.2,177.4 L192.5,173.9 L190.2,169.2 L186.7,166.8 L186.7,173.9 L182.0,176.2 L173.8,173.9 L167.9,169.2 L163.2,165.7 L158.5,161.0 L152.7,156.3 Z" fill="url(#gc3)" stroke="url(#gc3)" stroke-width="0.6"/><use href="#e_C" fill="url(#gc3)"/>
<g fill="#b2dd2d" fill-opacity="0.7"><use href="#d_C_0"/><use href="#d_C_1"/><use href="#d_C_2"/><use href="#d_C_3"/></g>
<g fill="#46c06f" fill-opacity="0.6"><use href="#d_C_4"/><use href="#d_C_5"/><use href="#d_C_6"/><use href="#d_C_7"/></g>
<path d="M195.2,129.1 L199.4,130.5 L201.5,135.5 L203.6,141.8 L201.5,146.7 L198.7,151.6 L195.9,155.1 L193.1,153.0 L190.8,150.5 L190.3,148.1 L191.0,142.5 L189.6,137.6 L191.0,131.9 Z" fill="#6ccd5a" stroke="#6ccd5a" stroke-width="0.6"/><use href="#e_D" fill="#6ccd5a"/>
<g fill="#31b57b"><use href="#d_D_0"/><use href="#d_D_1"/><use href="#d_D_2"/></g>
<g fill="#bade28"><use href="#d_D_3"/><use href="#d_D_4"/><use href="#d_D_5"/></g>
<path d="M183.9,153.7 L186.8,150.2 L190.3,148.1 L193.1,150.0 L193.1,153.0 L191.7,156.5 L191.0,162.2 L188.2,164.3 L186.0,163.6 L185.4,157.2 Z" fill="#7fd34e" stroke="#7fd34e" stroke-width="0.6"/><use href="#e_Dl" fill="#7fd34e"/>
<g fill="#3dbc74"><use href="#d_Dl_0"/><use href="#d_Dl_1"/><use href="#d_Dl_2"/></g>
<g fill="#d0e11c"><use href="#d_Dl_3"/><use href="#d_Dl_4"/><use href="#d_Dl_5"/></g>
<path d="M42.1,289.7 L51.1,288.0 L56.9,292.1 L62.6,298.7 L65.9,303.6 L62.6,308.5 L55.2,311.8 L51.1,315.9 L44.6,322.5 L35.6,320.8 L29.8,315.9 L28.2,308.5 L33.1,303.6 L37.2,296.2 Z" fill="#35608d" stroke="#35608d" stroke-width="0.6"/><use href="#e_E" fill="#35608d"/>
<g fill="#433e85"><use href="#d_E_0"/><use href="#d_E_1"/><use href="#d_E_2"/></g>
<g fill="#277e8e"><use href="#d_E_3"/><use href="#d_E_4"/><use href="#d_E_5"/></g>
<path d="M60.0,298.0 L64.0,301.0 L66.0,304.0 L63.0,309.0 L57.0,312.0 L54.0,311.0 L57.0,305.0 Z" fill="#3bbb75" stroke="#3bbb75" stroke-width="0.6"/><use href="#e_E2" fill="#3bbb75"/>
<g fill="#1f9f88"><use href="#d_E2_0"/><use href="#d_E2_1"/><use href="#d_E2_2"/></g>
<g fill="#7cd250"><use href="#d_E2_3"/><use href="#d_E2_4"/><use href="#d_E2_5"/></g>
<path d="M138.9,288.2 L148.2,291.7 L154.1,298.7 L150.6,308.1 L148.2,316.3 L141.2,319.8 L138.9,314.0 L142.4,306.9 L136.5,304.6 L133.0,299.9 L135.4,291.7 Z" fill="#440154" stroke="#440154" stroke-width="0.6"/><use href="#e_F1" fill="#440154"/>
<g fill="#3b528b"><use href="#d_F1_0"/><use href="#d_F1_1"/><use href="#d_F1_2"/><use href="#d_F1_3"/><use href="#d_F1_4"/><use href="#d_F1_5"/><use href="#d_F1_6"/><use href="#d_F1_7"/></g>
<path d="M141,319 L135.4,322 L123.6,330.4" fill="none" stroke="#3d4f89" stroke-width="3"/>
<path d="M129.5,305.8 L126,316.3" fill="none" stroke="#3d4f89" stroke-width="3"/>
<path d="M110.8,301.7 L119.0,308.1 L117.8,315.1 L113.1,315.1 L107.8,308.1 Z" fill="#3f4a89" stroke="#3f4a89" stroke-width="0.6"/><use href="#e_F4" fill="#3f4a89"/>
<g fill="#482475"><use href="#d_F4_0"/><use href="#d_F4_1"/><use href="#d_F4_2"/></g>
<g fill="#306a8e"><use href="#d_F4_3"/><use href="#d_F4_4"/><use href="#d_F4_5"/></g>
<path d="M107.2,325.1 L114.3,328.0 L120.1,332.7 L113.1,336.2 L106.1,340.9 L99.1,347.9 L94.4,346.7 L93.2,335.0 L99.1,329.2 L103.7,326.8 Z" fill="#440154" stroke="#440154" stroke-width="0.6"/><use href="#e_F5" fill="#440154"/>
<g fill="#3b528b"><use href="#d_F5_0"/><use href="#d_F5_1"/><use href="#d_F5_2"/><use href="#d_F5_3"/><use href="#d_F5_4"/><use href="#d_F5_5"/><use href="#d_F5_6"/><use href="#d_F5_7"/><use href="#d_F5_8"/><use href="#d_F5_9"/></g>
<path d="M120.1,326.8 L126.0,331.5 L129.5,338.5 L135.4,335.0 L136.5,339.7 L131.8,345.6 L136.5,350.3 L134.2,354.9 L127.2,357.3 L122.5,352.6 L117.8,350.3 L120.1,343.2 L115.4,335.0 Z" fill="#3d4f89" stroke="#3d4f89" stroke-width="0.6"/><use href="#e_F6" fill="#3d4f89"/>
<g fill="#472a7a"><use href="#d_F6_0"/><use href="#d_F6_1"/><use href="#d_F6_2"/></g>
<g fill="#2e6f8e"><use href="#d_F6_3"/><use href="#d_F6_4"/><use href="#d_F6_5"/></g>
<path d="M142.4,350.3 L148.2,356.1 L143.5,360.2 L138.9,354.9 Z" fill="#3b528b" stroke="#3b528b" stroke-width="0.6"/><use href="#e_F7" fill="#3b528b"/>
<g fill="#472e7c"><use href="#d_F7_0"/><use href="#d_F7_1"/><use href="#d_F7_2"/></g>
<g fill="#2c718e"><use href="#d_F7_3"/><use href="#d_F7_4"/><use href="#d_F7_5"/></g>
<path d="M124.8,364.3 L119.5,374.8" fill="none" stroke="#3b528b" stroke-width="4"/>
<path d="M205.1,299.2 L213.5,299.6 L221.1,303.4 L225.7,307.5 L229.5,312.9 L233.3,317.4 L234.4,322.8 L234.0,329.6 L231.7,335.7 L227.2,340.3 L221.1,344.1 L213.5,347.1 L208.2,348.3 L201.3,344.8 L196.7,339.5 L193.7,332.7 L189.9,326.6 L189.5,320.5 L190.7,312.9 L194.5,305.3 L199.8,300.7 Z" fill="#2c6f8d" stroke="#2c6f8d" stroke-width="0.6"/><use href="#e_G" fill="#2c6f8d"/>
<g fill="#3c508b"><use href="#d_G_0"/><use href="#d_G_1"/><use href="#d_G_2"/></g>
<g fill="#228d8d"><use href="#d_G_3"/><use href="#d_G_4"/><use href="#d_G_5"/></g>
<path d="M172.5,333.0 L174.0,330.0 L180.0,326.0 L182.5,326.5 L181.0,330.0 L175.0,333.5 Z" fill="#2f6b8e" stroke="#2f6b8e" stroke-width="0.6"/><use href="#e_H" fill="#2f6b8e"/>
<g fill="#3e4a89"><use href="#d_H_0"/><use href="#d_H_1"/><use href="#d_H_2"/></g>
<g fill="#23888e"><use href="#d_H_3"/><use href="#d_H_4"/><use href="#d_H_5"/></g>
<path d="M237.0,242.5 L239.5,244.0 L240.0,248.5 L238.0,251.0 L235.0,250.5 L234.5,246.0 Z" fill="#2a788e" stroke="#2a788e" stroke-width="0.6"/><use href="#e_I0" fill="#2a788e"/>
<g fill="#375a8c"><use href="#d_I0_0"/><use href="#d_I0_1"/><use href="#d_I0_2"/></g>
<g fill="#1f958b"><use href="#d_I0_3"/><use href="#d_I0_4"/><use href="#d_I0_5"/></g>
<path d="M237.5,252 L238,262 L238.5,272" fill="none" stroke="#2a788e" stroke-width="3"/>
<path d="M240.8,272.2 L249.3,274.3 L252.1,280.0 L247.9,284.9 L239.4,284.9 L233.8,282.8 L236.6,277.1 Z" fill="#2f6b8e" stroke="#2f6b8e" stroke-width="0.6"/><use href="#e_I2" fill="#2f6b8e"/>
<g fill="#3e4a89"><use href="#d_I2_0"/><use href="#d_I2_1"/><use href="#d_I2_2"/></g>
<g fill="#23888e"><use href="#d_I2_3"/><use href="#d_I2_4"/><use href="#d_I2_5"/></g>
<path d="M296.2,214.4 L298.7,221.4 L299.9,224.7 L297.0,228.0 L290.5,227.1 L288.4,223.0 L292.1,217.3 Z" fill="#440154" stroke="#440154" stroke-width="0.6"/><use href="#e_J" fill="#440154"/>
<g fill="#3b528b"><use href="#d_J_0"/><use href="#d_J_1"/><use href="#d_J_2"/><use href="#d_J_3"/><use href="#d_J_4"/><use href="#d_J_5"/><use href="#d_J_6"/><use href="#d_J_7"/><use href="#d_J_8"/><use href="#d_J_9"/></g>
<path d="M289.7,241.1 L288,254.2" fill="none" stroke="#440154" stroke-width="3"/>
<g fill="#3b528b"><use href="#d_K1_0"/><use href="#d_K1_1"/><use href="#d_K1_2"/><use href="#d_K1_3"/><use href="#d_K1_4"/><use href="#d_K1_5"/><use href="#d_K1_6"/><use href="#d_K1_7"/><use href="#d_K1_8"/><use href="#d_K1_9"/></g>
<path d="M288.0,255.0 L290.5,256.6 L293.8,264.0 L289.7,268.1 L286.4,267.3 L284.3,258.3 Z" fill="#440154" stroke="#440154" stroke-width="0.6"/><use href="#e_K2" fill="#440154"/>
<g fill="#3b528b"><use href="#d_K2_0"/><use href="#d_K2_1"/><use href="#d_K2_2"/><use href="#d_K2_3"/><use href="#d_K2_4"/><use href="#d_K2_5"/><use href="#d_K2_6"/><use href="#d_K2_7"/><use href="#d_K2_8"/><use href="#d_K2_9"/></g>
<path d="M347.0,237.8 L356.9,235.3 L357.7,241.1 L357.7,246.8 L355.2,248.4 L348.7,246.8 L345.4,242.7 Z" fill="#440154" stroke="#440154" stroke-width="0.6"/><use href="#e_L" fill="#440154"/>
<g fill="#3b528b"><use href="#d_L_0"/><use href="#d_L_1"/><use href="#d_L_2"/><use href="#d_L_3"/><use href="#d_L_4"/><use href="#d_L_5"/><use href="#d_L_6"/><use href="#d_L_7"/><use href="#d_L_8"/><use href="#d_L_9"/></g>
<path d="M237.2,291.2a1.5,1.5 0 1,0 3,0a1.5,1.5 0 1,0 -3,0M231.6,284.2a1.5,1.5 0 1,0 3,0a1.5,1.5 0 1,0 -3,0M240.1,288.5a1.4,1.4 0 1,0 2.8,0a1.4,1.4 0 1,0 -2.8,0" fill="#2f6b8e" stroke="#2f6b8e" stroke-width="1.5"/>
<path d="M289,234.1a1.5,1.5 0 1,0 3,0a1.5,1.5 0 1,0 -3,0" fill="#440154" stroke="#440154" stroke-width="1.5"/>
</g>
<rect x="377.5" y="40.5" width="12" height="350.0" fill="url(#vir)" stroke="#000" stroke-width="1.0"/>
<line x1="389.5" y1="390.5" x2="395.5" y2="390.5" stroke="#000" stroke-width="1.25"/>
<text x="402.3" y="400.1" font-size="26" fill="#000">0</text>
<line x1="389.5" y1="327.2" x2="395.5" y2="327.2" stroke="#000" stroke-width="1.25"/>
<text x="402.3" y="336.8" font-size="26" fill="#000">1</text>
<line x1="389.5" y1="263.9" x2="395.5" y2="263.9" stroke="#000" stroke-width="1.25"/>
<text x="402.3" y="273.5" font-size="26" fill="#000">2</text>
<line x1="389.5" y1="200.6" x2="395.5" y2="200.6" stroke="#000" stroke-width="1.25"/>
<text x="402.3" y="210.2" font-size="26" fill="#000">3</text>
<line x1="389.5" y1="137.3" x2="395.5" y2="137.3" stroke="#000" stroke-width="1.25"/>
<text x="402.3" y="146.9" font-size="26" fill="#000">4</text>
<line x1="389.5" y1="74.0" x2="395.5" y2="74.0" stroke="#000" stroke-width="1.25"/>
<text x="402.3" y="83.6" font-size="26" fill="#000">5</text>
</g>
<g transform="translate(1916.0,0.0)">
<text x="192.9" y="30.7" font-size="26" text-anchor="middle" fill="#000">SLC24A2</text>
<g stroke-linejoin="round" stroke-linecap="round">
<path d="M39.0,164.1 L41.4,168.3 L39.0,174.0 L34.0,177.5 L27.4,177.5 L27.7,173.6 L30.5,169.0 L34.0,166.2 Z" fill="#33638d" stroke="#33638d" stroke-width="0.6"/><use href="#e_A" fill="#33638d"/>
<g fill="#424186"><use href="#d_A_0"/><use href="#d_A_1"/><use href="#d_A_2"/></g>
<g fill="#26818e"><use href="#d_A_3"/><use href="#d_A_4"/><use href="#d_A_5"/></g>
<path d="M253.4,83.9 L255.6,78.4 L260.0,75.0 L261.2,69.5 L263.4,62.8 L266.7,60.6 L267.8,56.7 L273.4,55.0 L279.0,58.3 L284.5,62.8 L285.6,67.2 L282.3,73.9 L279.0,80.6 L275.6,78.4 L276.7,73.9 L272.3,72.8 L269.0,78.4 L266.7,85.0 L264.5,93.0 L256.7,94.0 L253.4,87.3 Z" fill="#440154" stroke="#440154" stroke-width="0.6"/><use href="#e_B1" fill="#440154"/>
<g fill="#2d6f8e"><use href="#d_B1_0"/><use href="#d_B1_1"/><use href="#d_B1_2"/><use href="#d_B1_3"/><use href="#d_B1_4"/><use href="#d_B1_5"/></g>
<path d="M235.2,98.8 L240.5,96.4 L246.4,92.9 L250.5,94.1 L255.1,94.7 L261.0,94.7 L268.6,94.1 L272.7,97.6 L277.4,101.7 L276.2,106.4 L279.7,110.5 L281.5,115.8 L281.5,122.8 L278.6,129.8 L272.7,130.4 L266.9,131.0 L262.2,127.5 L255.1,128.1 L249.3,130.4 L244.6,132.2 L240.5,131.0 L237.0,125.1 L233.5,119.9 L232.3,112.3 L233.5,104.1 Z" fill="#440154" stroke="#440154" stroke-width="0.6"/><use href="#e_B2" fill="#440154"/>
<g fill="#2d6f8e"><use href="#d_B2_0"/><use href="#d_B2_1"/><use href="#d_B2_2"/><use href="#d_B2_3"/><use href="#d_B2_4"/><use href="#d_B2_5"/></g>
<linearGradient id="gc4" gradientUnits="userSpaceOnUse" x1="120" y1="0" x2="210" y2="0"><stop offset="0.3" stop-color="#b0dd2f"/><stop offset="1" stop-color="#6ccd5a"/></linearGradient>
<path d="M146.8,155.1 L141.0,158.6 L137.5,164.5 L134.5,169.2 L134.0,175.0 L123.4,178.5 L117.6,182.0 L116.4,190.3 L117.6,199.6 L115.2,206.7 L121.0,212.5 L129.3,214.8 L142.2,216.6 L152.7,214.8 L163.2,213.7 L170.3,210.2 L179.6,212.5 L189.0,210.2 L193.7,204.3 L200.7,197.3 L207.7,190.3 L209.5,184.4 L205.4,179.7 L197.2,177.4 L192.5,173.9 L190.2,169.2 L186.7,166.8 L186.7,173.9 L182.0,176.2 L173.8,173.9 L167.9,169.2 L163.2,165.7 L158.5,161.0 L152.7,156.3 Z" fill="url(#gc4)" stroke="url(#gc4)" stroke-width="0.6"/><use href="#e_C" fill="url(#gc4)"/>
<g fill="#e5e419" fill-opacity="0.7"><use href="#d_C_0"/><use href="#d_C_1"/><use href="#d_C_2"/><use href="#d_C_3"/></g>
<g fill="#70cf57" fill-opacity="0.6"><use href="#d_C_4"/><use href="#d_C_5"/><use href="#d_C_6"/><use href="#d_C_7"/></g>
<path d="M195.2,129.1 L199.4,130.5 L201.5,135.5 L203.6,141.8 L201.5,146.7 L198.7,151.6 L195.9,155.1 L193.1,153.0 L190.8,150.5 L190.3,148.1 L191.0,142.5 L189.6,137.6 L191.0,131.9 Z" fill="#6ccd5a" stroke="#6ccd5a" stroke-width="0.6"/><use href="#e_D" fill="#6ccd5a"/>
<g fill="#31b57b"><use href="#d_D_0"/><use href="#d_D_1"/><use href="#d_D_2"/></g>
<g fill="#bade28"><use href="#d_D_3"/><use href="#d_D_4"/><use href="#d_D_5"/></g>
<path d="M183.9,153.7 L186.8,150.2 L190.3,148.1 L193.1,150.0 L193.1,153.0 L191.7,156.5 L191.0,162.2 L188.2,164.3 L186.0,163.6 L185.4,157.2 Z" fill="#b0dd2f" stroke="#b0dd2f" stroke-width="0.6"/><use href="#e_Dl" fill="#b0dd2f"/>
<g fill="#63cb5f"><use href="#d_Dl_0"/><use href="#d_Dl_1"/><use href="#d_Dl_2"/></g>
<g fill="#fde725"><use href="#d_Dl_3"/><use href="#d_Dl_4"/><use href="#d_Dl_5"/></g>
<path d="M42.1,289.7 L51.1,288.0 L56.9,292.1 L62.6,298.7 L65.9,303.6 L62.6,308.5 L55.2,311.8 L51.1,315.9 L44.6,322.5 L35.6,320.8 L29.8,315.9 L28.2,308.5 L33.1,303.6 L37.2,296.2 Z" fill="#306a8d" stroke="#306a8d" stroke-width="0.6"/><use href="#e_E" fill="#306a8d"/>
<g fill="#3e4989"><use href="#d_E_0"/><use href="#d_E_1"/><use href="#d_E_2"/></g>
<g fill="#24878e"><use href="#d_E_3"/><use href="#d_E_4"/><use href="#d_E_5"/></g>
<path d="M60.0,298.0 L64.0,301.0 L66.0,304.0 L63.0,309.0 L57.0,312.0 L54.0,311.0 L57.0,305.0 Z" fill="#3a9a80" stroke="#3a9a80" stroke-width="0.6"/><use href="#e_E2" fill="#3a9a80"/>
<g fill="#20928c"><use href="#d_E2_0"/><use href="#d_E2_1"/><use href="#d_E2_2"/></g>
<g fill="#5cc863"><use href="#d_E2_3"/><use href="#d_E2_4"/><use href="#d_E2_5"/></g>
<path d="M138.9,288.2 L148.2,291.7 L154.1,298.7 L150.6,308.1 L148.2,316.3 L141.2,319.8 L138.9,314.0 L142.4,306.9 L136.5,304.6 L133.0,299.9 L135.4,291.7 Z" fill="#3aa87e" stroke="#3aa87e" stroke-width="0.6"/><use href="#e_F1" fill="#3aa87e"/>
<g fill="#1f988b"><use href="#d_F1_0"/><use href="#d_F1_1"/><use href="#d_F1_2"/></g>
<g fill="#6ccd5a"><use href="#d_F1_3"/><use href="#d_F1_4"/><use href="#d_F1_5"/></g>
<path d="M141,319 L135.4,322 L123.6,330.4" fill="none" stroke="#2a9b84" stroke-width="3"/>
<path d="M129.5,305.8 L126,316.3" fill="none" stroke="#2a9b84" stroke-width="3"/>
<path d="M110.8,301.7 L119.0,308.1 L117.8,315.1 L113.1,315.1 L107.8,308.1 Z" fill="#2c8f88" stroke="#2c8f88" stroke-width="0.6"/><use href="#e_F4" fill="#2c8f88"/>
<g fill="#2e6f8e"><use href="#d_F4_0"/><use href="#d_F4_1"/><use href="#d_F4_2"/></g>
<g fill="#23a983"><use href="#d_F4_3"/><use href="#d_F4_4"/><use href="#d_F4_5"/></g>
<path d="M107.2,325.1 L114.3,328.0 L120.1,332.7 L113.1,336.2 L106.1,340.9 L99.1,347.9 L94.4,346.7 L93.2,335.0 L99.1,329.2 L103.7,326.8 Z" fill="#440154" stroke="#440154" stroke-width="0.6"/><use href="#e_F5" fill="#440154"/>
<g fill="#3b528b"><use href="#d_F5_0"/><use href="#d_F5_1"/><use href="#d_F5_2"/><use href="#d_F5_3"/><use href="#d_F5_4"/><use href="#d_F5_5"/><use href="#d_F5_6"/><use href="#d_F5_7"/><use href="#d_F5_8"/><use href="#d_F5_9"/></g>
<path d="M120.1,326.8 L126.0,331.5 L129.5,338.5 L135.4,335.0 L136.5,339.7 L131.8,345.6 L136.5,350.3 L134.2,354.9 L127.2,357.3 L122.5,352.6 L117.8,350.3 L120.1,343.2 L115.4,335.0 Z" fill="#2f7c8b" stroke="#2f7c8b" stroke-width="0.6"/><use href="#e_F6" fill="#2f7c8b"/>
<g fill="#365c8d"><use href="#d_F6_0"/><use href="#d_F6_1"/><use href="#d_F6_2"/></g>
<g fill="#1f978b"><use href="#d_F6_3"/><use href="#d_F6_4"/><use href="#d_F6_5"/></g>
<path d="M142.4,350.3 L148.2,356.1 L143.5,360.2 L138.9,354.9 Z" fill="#2c8f88" stroke="#2c8f88" stroke-width="0.6"/><use href="#e_F7" fill="#2c8f88"/>
<g fill="#2e6f8e"><use href="#d_F7_0"/><use href="#d_F7_1"/><use href="#d_F7_2"/></g>
<g fill="#23a983"><use href="#d_F7_3"/><use href="#d_F7_4"/><use href="#d_F7_5"/></g>
<path d="M124.8,364.3 L119.5,374.8" fill="none" stroke="#2a788e" stroke-width="4"/>
<path d="M205.1,299.2 L213.5,299.6 L221.1,303.4 L225.7,307.5 L229.5,312.9 L233.3,317.4 L234.4,322.8 L234.0,329.6 L231.7,335.7 L227.2,340.3 L221.1,344.1 L213.5,347.1 L208.2,348.3 L201.3,344.8 L196.7,339.5 L193.7,332.7 L189.9,326.6 L189.5,320.5 L190.7,312.9 L194.5,305.3 L199.8,300.7 Z" fill="#440154" stroke="#440154" stroke-width="0.6"/><use href="#e_G" fill="#440154"/>
<g fill="#2d6f8e"><use href="#d_G_0"/><use href="#d_G_1"/><use href="#d_G_2"/><use href="#d_G_3"/><use href="#d_G_4"/></g>
<path d="M172.5,333.0 L174.0,330.0 L180.0,326.0 L182.5,326.5 L181.0,330.0 L175.0,333.5 Z" fill="#355f8d" stroke="#355f8d" stroke-width="0.6"/><use href="#e_H" fill="#355f8d"/>
<g fill="#433d84"><use href="#d_H_0"/><use href="#d_H_1"/><use href="#d_H_2"/></g>
<g fill="#287d8e"><use href="#d_H_3"/><use href="#d_H_4"/><use href="#d_H_5"/></g>
<path d="M237.0,242.5 L239.5,244.0 L240.0,248.5 L238.0,251.0 L235.0,250.5 L234.5,246.0 Z" fill="#440154" stroke="#440154" stroke-width="0.6"/><use href="#e_I0" fill="#440154"/>
<g fill="#2d6f8e"><use href="#d_I0_0"/><use href="#d_I0_1"/><use href="#d_I0_2"/><use href="#d_I0_3"/></g>
<path d="M237.5,252 L238,262 L238.5,272" fill="none" stroke="#440154" stroke-width="3"/>
<g fill="#2d6f8e"><use href="#d_I1_0"/><use href="#d_I1_1"/><use href="#d_I1_2"/><use href="#d_I1_3"/></g>
<path d="M240.8,272.2 L249.3,274.3 L252.1,280.0 L247.9,284.9 L239.4,284.9 L233.8,282.8 L236.6,277.1 Z" fill="#440154" stroke="#440154" stroke-width="0.6"/><use href="#e_I2" fill="#440154"/>
<g fill="#2d6f8e"><use href="#d_I2_0"/><use href="#d_I2_1"/><use href="#d_I2_2"/><use href="#d_I2_3"/></g>
<path d="M296.2,214.4 L298.7,221.4 L299.9,224.7 L297.0,228.0 L290.5,227.1 L288.4,223.0 L292.1,217.3 Z" fill="#440154" stroke="#440154" stroke-width="0.6"/><use href="#e_J" fill="#440154"/>
<g fill="#2d6f8e"><use href="#d_J_0"/><use href="#d_J_1"/><use href="#d_J_2"/><use href="#d_J_3"/><use href="#d_J_4"/></g>
<path d="M289.7,241.1 L288,254.2" fill="none" stroke="#3e4a89" stroke-width="3"/>
<path d="M288.0,255.0 L290.5,256.6 L293.8,264.0 L289.7,268.1 L286.4,267.3 L284.3,258.3 Z" fill="#3e4a89" stroke="#3e4a89" stroke-width="0.6"/><use href="#e_K2" fill="#3e4a89"/>
<g fill="#482576"><use href="#d_K2_0"/><use href="#d_K2_1"/><use href="#d_K2_2"/></g>
<g fill="#2f6b8e"><use href="#d_K2_3"/><use href="#d_K2_4"/><use href="#d_K2_5"/></g>
<path d="M347.0,237.8 L356.9,235.3 L357.7,241.1 L357.7,246.8 L355.2,248.4 L348.7,246.8 L345.4,242.7 Z" fill="#440154" stroke="#440154" stroke-width="0.6"/><use href="#e_L" fill="#440154"/>
<g fill="#2d6f8e"><use href="#d_L_0"/><use href="#d_L_1"/><use href="#d_L_2"/></g>
<path d="M237.2,291.2a1.5,1.5 0 1,0 3,0a1.5,1.5 0 1,0 -3,0M231.6,284.2a1.5,1.5 0 1,0 3,0a1.5,1.5 0 1,0 -3,0M240.1,288.5a1.4,1.4 0 1,0 2.8,0a1.4,1.4 0 1,0 -2.8,0" fill="#440154" stroke="#440154" stroke-width="1.5"/>
<path d="M289,234.1a1.5,1.5 0 1,0 3,0a1.5,1.5 0 1,0 -3,0" fill="#3e4a89" stroke="#3e4a89" stroke-width="1.5"/>
</g>
<rect x="377.5" y="40.5" width="12" height="350.0" fill="url(#vir)" stroke="#000" stroke-width="1.0"/>
<line x1="389.5" y1="390.5" x2="395.5" y2="390.5" stroke="#000" stroke-width="1.25"/>
<text x="402.3" y="400.1" font-size="26" fill="#000">0</text>
<line x1="389.5" y1="322.3" x2="395.5" y2="322.3" stroke="#000" stroke-width="1.25"/>
<text x="402.3" y="331.9" font-size="26" fill="#000">1</text>
<line x1="389.5" y1="254.0" x2="395.5" y2="254.0" stroke="#000" stroke-width="1.25"/>
<text x="402.3" y="263.6" font-size="26" fill="#000">2</text>
<line x1="389.5" y1="185.8" x2="395.5" y2="185.8" stroke="#000" stroke-width="1.25"/>
<text x="402.3" y="195.4" font-size="26" fill="#000">3</text>
<line x1="389.5" y1="117.6" x2="395.5" y2="117.6" stroke="#000" stroke-width="1.25"/>
<text x="402.3" y="127.2" font-size="26" fill="#000">4</text>
<line x1="389.5" y1="49.4" x2="395.5" y2="49.4" stroke="#000" stroke-width="1.25"/>
<text x="402.3" y="59.0" font-size="26" fill="#000">5</text>
</g>
<g transform="translate(0.0,438.0)">
<text x="192.9" y="29.8" font-size="26" text-anchor="middle" fill="#000">RNF220</text>
<g stroke-linejoin="round" stroke-linecap="round">
<path d="M39.0,164.1 L41.4,168.3 L39.0,174.0 L34.0,177.5 L27.4,177.5 L27.7,173.6 L30.5,169.0 L34.0,166.2 Z" fill="#440154" stroke="#440154" stroke-width="0.6"/><use href="#e_A" fill="#440154"/>
<g fill="#2d6f8e"><use href="#d_A_0"/><use href="#d_A_1"/><use href="#d_A_2"/><use href="#d_A_3"/><use href="#d_A_4"/><use href="#d_A_5"/><use href="#d_A_6"/><use href="#d_A_7"/><use href="#d_A_8"/><use href="#d_A_9"/></g>
<path d="M253.4,83.9 L255.6,78.4 L260.0,75.0 L261.2,69.5 L263.4,62.8 L266.7,60.6 L267.8,56.7 L273.4,55.0 L279.0,58.3 L284.5,62.8 L285.6,67.2 L282.3,73.9 L279.0,80.6 L275.6,78.4 L276.7,73.9 L272.3,72.8 L269.0,78.4 L266.7,85.0 L264.5,93.0 L256.7,94.0 L253.4,87.3 Z" fill="#440154" stroke="#440154" stroke-width="0.6"/><use href="#e_B1" fill="#440154"/>
<g fill="#3b528b"><use href="#d_B1_0"/><use href="#d_B1_1"/><use href="#d_B1_2"/><use href="#d_B1_3"/><use href="#d_B1_4"/><use href="#d_B1_5"/><use href="#d_B1_6"/><use href="#d_B1_7"/></g>
<path d="M235.2,98.8 L240.5,96.4 L246.4,92.9 L250.5,94.1 L255.1,94.7 L261.0,94.7 L268.6,94.1 L272.7,97.6 L277.4,101.7 L276.2,106.4 L279.7,110.5 L281.5,115.8 L281.5,122.8 L278.6,129.8 L272.7,130.4 L266.9,131.0 L262.2,127.5 L255.1,128.1 L249.3,130.4 L244.6,132.2 L240.5,131.0 L237.0,125.1 L233.5,119.9 L232.3,112.3 L233.5,104.1 Z" fill="#440154" stroke="#440154" stroke-width="0.6"/><use href="#e_B2" fill="#440154"/>
<g fill="#3b528b"><use href="#d_B2_0"/><use href="#d_B2_1"/><use href="#d_B2_2"/><use href="#d_B2_3"/><use href="#d_B2_4"/><use href="#d_B2_5"/><use href="#d_B2_6"/><use href="#d_B2_7"/></g>
<linearGradient id="gc5" gradientUnits="userSpaceOnUse" x1="120" y1="0" x2="210" y2="0"><stop offset="0.3" stop-color="#7ad151"/><stop offset="1" stop-color="#93d741"/></linearGradient>
<path d="M146.8,155.1 L141.0,158.6 L137.5,164.5 L134.5,169.2 L134.0,175.0 L123.4,178.5 L117.6,182.0 L116.4,190.3 L117.6,199.6 L115.2,206.7 L121.0,212.5 L129.3,214.8 L142.2,216.6 L152.7,214.8 L163.2,213.7 L170.3,210.2 L179.6,212.5 L189.0,210.2 L193.7,204.3 L200.7,197.3 L207.7,190.3 L209.5,184.4 L205.4,179.7 L197.2,177.4 L192.5,173.9 L190.2,169.2 L186.7,166.8 L186.7,173.9 L182.0,176.2 L173.8,173.9 L167.9,169.2 L163.2,165.7 L158.5,161.0 L152.7,156.3 Z" fill="url(#gc5)" stroke="url(#gc5)" stroke-width="0.6"/><use href="#e_C" fill="url(#gc5)"/>
<g fill="#addc30" fill-opacity="0.7"><use href="#d_C_0"/><use href="#d_C_1"/><use href="#d_C_2"/><use href="#d_C_3"/></g>
<g fill="#44bf70" fill-opacity="0.6"><use href="#d_C_4"/><use href="#d_C_5"/><use href="#d_C_6"/><use href="#d_C_7"/></g>
<path d="M195.2,129.1 L199.4,130.5 L201.5,135.5 L203.6,141.8 L201.5,146.7 L198.7,151.6 L195.9,155.1 L193.1,153.0 L190.8,150.5 L190.3,148.1 L191.0,142.5 L189.6,137.6 L191.0,131.9 Z" fill="#54c568" stroke="#54c568" stroke-width="0.6"/><use href="#e_D" fill="#54c568"/>
<g fill="#25ab82"><use href="#d_D_0"/><use href="#d_D_1"/><use href="#d_D_2"/></g>
<g fill="#9dd93b"><use href="#d_D_3"/><use href="#d_D_4"/><use href="#d_D_5"/></g>
<path d="M183.9,153.7 L186.8,150.2 L190.3,148.1 L193.1,150.0 L193.1,153.0 L191.7,156.5 L191.0,162.2 L188.2,164.3 L186.0,163.6 L185.4,157.2 Z" fill="#7ad151" stroke="#7ad151" stroke-width="0.6"/><use href="#e_Dl" fill="#7ad151"/>
<g fill="#3aba76"><use href="#d_Dl_0"/><use href="#d_Dl_1"/><use href="#d_Dl_2"/></g>
<g fill="#cae11f"><use href="#d_Dl_3"/><use href="#d_Dl_4"/><use href="#d_Dl_5"/></g>
<path d="M42.1,289.7 L51.1,288.0 L56.9,292.1 L62.6,298.7 L65.9,303.6 L62.6,308.5 L55.2,311.8 L51.1,315.9 L44.6,322.5 L35.6,320.8 L29.8,315.9 L28.2,308.5 L33.1,303.6 L37.2,296.2 Z" fill="#440154" stroke="#440154" stroke-width="0.6"/><use href="#e_E" fill="#440154"/>
<g fill="#3b528b"><use href="#d_E_0"/><use href="#d_E_1"/><use href="#d_E_2"/><use href="#d_E_3"/><use href="#d_E_4"/><use href="#d_E_5"/><use href="#d_E_6"/><use href="#d_E_7"/></g>
<path d="M60.0,298.0 L64.0,301.0 L66.0,304.0 L63.0,309.0 L57.0,312.0 L54.0,311.0 L57.0,305.0 Z" fill="#326d76" stroke="#326d76" stroke-width="0.6"/><use href="#e_E2" fill="#326d76"/>
<g fill="#3e4a89"><use href="#d_E2_0"/><use href="#d_E2_1"/><use href="#d_E2_2"/></g>
<g fill="#23888e"><use href="#d_E2_3"/><use href="#d_E2_4"/><use href="#d_E2_5"/></g>
<path d="M138.9,288.2 L148.2,291.7 L154.1,298.7 L150.6,308.1 L148.2,316.3 L141.2,319.8 L138.9,314.0 L142.4,306.9 L136.5,304.6 L133.0,299.9 L135.4,291.7 Z" fill="#440154" stroke="#440154" stroke-width="0.6"/><use href="#e_F1" fill="#440154"/>
<g fill="#3b528b"><use href="#d_F1_0"/><use href="#d_F1_1"/><use href="#d_F1_2"/><use href="#d_F1_3"/><use href="#d_F1_4"/><use href="#d_F1_5"/><use href="#d_F1_6"/><use href="#d_F1_7"/></g>
<path d="M141,319 L135.4,322 L123.6,330.4" fill="none" stroke="#440154" stroke-width="3"/>
<g fill="#3b528b"><use href="#d_F2_0"/><use href="#d_F2_1"/><use href="#d_F2_2"/><use href="#d_F2_3"/><use href="#d_F2_4"/><use href="#d_F2_5"/><use href="#d_F2_6"/><use href="#d_F2_7"/></g>
<path d="M129.5,305.8 L126,316.3" fill="none" stroke="#440154" stroke-width="3"/>
<g fill="#3b528b"><use href="#d_F3_0"/><use href="#d_F3_1"/><use href="#d_F3_2"/><use href="#d_F3_3"/><use href="#d_F3_4"/><use href="#d_F3_5"/><use href="#d_F3_6"/><use href="#d_F3_7"/></g>
<path d="M110.8,301.7 L119.0,308.1 L117.8,315.1 L113.1,315.1 L107.8,308.1 Z" fill="#440154" stroke="#440154" stroke-width="0.6"/><use href="#e_F4" fill="#440154"/>
<g fill="#3b528b"><use href="#d_F4_0"/><use href="#d_F4_1"/><use href="#d_F4_2"/><use href="#d_F4_3"/><use href="#d_F4_4"/><use href="#d_F4_5"/><use href="#d_F4_6"/><use href="#d_F4_7"/></g>
<path d="M107.2,325.1 L114.3,328.0 L120.1,332.7 L113.1,336.2 L106.1,340.9 L99.1,347.9 L94.4,346.7 L93.2,335.0 L99.1,329.2 L103.7,326.8 Z" fill="#440154" stroke="#440154" stroke-width="0.6"/><use href="#e_F5" fill="#440154"/>
<g fill="#3b528b"><use href="#d_F5_0"/><use href="#d_F5_1"/><use href="#d_F5_2"/><use href="#d_F5_3"/><use href="#d_F5_4"/><use href="#d_F5_5"/><use href="#d_F5_6"/><use href="#d_F5_7"/></g>
<path d="M120.1,326.8 L126.0,331.5 L129.5,338.5 L135.4,335.0 L136.5,339.7 L131.8,345.6 L136.5,350.3 L134.2,354.9 L127.2,357.3 L122.5,352.6 L117.8,350.3 L120.1,343.2 L115.4,335.0 Z" fill="#440154" stroke="#440154" stroke-width="0.6"/><use href="#e_F6" fill="#440154"/>
<g fill="#3b528b"><use href="#d_F6_0"/><use href="#d_F6_1"/><use href="#d_F6_2"/><use href="#d_F6_3"/><use href="#d_F6_4"/><use href="#d_F6_5"/><use href="#d_F6_6"/><use href="#d_F6_7"/></g>
<path d="M142.4,350.3 L148.2,356.1 L143.5,360.2 L138.9,354.9 Z" fill="#440154" stroke="#440154" stroke-width="0.6"/><use href="#e_F7" fill="#440154"/>
<g fill="#3b528b"><use href="#d_F7_0"/><use href="#d_F7_1"/><use href="#d_F7_2"/><use href="#d_F7_3"/><use href="#d_F7_4"/><use href="#d_F7_5"/><use href="#d_F7_6"/><use href="#d_F7_7"/></g>
<path d="M124.8,364.3 L119.5,374.8" fill="none" stroke="#440154" stroke-width="4"/>
<g fill="#3b528b"><use href="#d_F8_0"/><use href="#d_F8_1"/><use href="#d_F8_2"/><use href="#d_F8_3"/><use href="#d_F8_4"/><use href="#d_F8_5"/><use href="#d_F8_6"/><use href="#d_F8_7"/></g>
<path d="M205.1,299.2 L213.5,299.6 L221.1,303.4 L225.7,307.5 L229.5,312.9 L233.3,317.4 L234.4,322.8 L234.0,329.6 L231.7,335.7 L227.2,340.3 L221.1,344.1 L213.5,347.1 L208.2,348.3 L201.3,344.8 L196.7,339.5 L193.7,332.7 L189.9,326.6 L189.5,320.5 L190.7,312.9 L194.5,305.3 L199.8,300.7 Z" fill="#440154" stroke="#440154" stroke-width="0.6"/><use href="#e_G" fill="#440154"/>
<g fill="#2d6f8e"><use href="#d_G_0"/><use href="#d_G_1"/><use href="#d_G_2"/><use href="#d_G_3"/><use href="#d_G_4"/><use href="#d_G_5"/><use href="#d_G_6"/></g>
<path d="M172.5,333.0 L174.0,330.0 L180.0,326.0 L182.5,326.5 L181.0,330.0 L175.0,333.5 Z" fill="#440154" stroke="#440154" stroke-width="0.6"/><use href="#e_H" fill="#440154"/>
<g fill="#2d6f8e"><use href="#d_H_0"/><use href="#d_H_1"/><use href="#d_H_2"/><use href="#d_H_3"/><use href="#d_H_4"/><use href="#d_H_5"/><use href="#d_H_6"/><use href="#d_H_7"/><use href="#d_H_8"/><use href="#d_H_9"/></g>
<path d="M237.0,242.5 L239.5,244.0 L240.0,248.5 L238.0,251.0 L235.0,250.5 L234.5,246.0 Z" fill="#440154" stroke="#440154" stroke-width="0.6"/><use href="#e_I0" fill="#440154"/>
<g fill="#2d6f8e"><use href="#d_I0_0"/><use href="#d_I0_1"/><use href="#d_I0_2"/></g>
<path d="M237.5,252 L238,262 L238.5,272" fill="none" stroke="#440154" stroke-width="3"/>
<g fill="#2d6f8e"><use href="#d_I1_0"/><use href="#d_I1_1"/><use href="#d_I1_2"/></g>
<path d="M240.8,272.2 L249.3,274.3 L252.1,280.0 L247.9,284.9 L239.4,284.9 L233.8,282.8 L236.6,277.1 Z" fill="#440154" stroke="#440154" stroke-width="0.6"/><use href="#e_I2" fill="#440154"/>
<g fill="#2d6f8e"><use href="#d_I2_0"/><use href="#d_I2_1"/><use href="#d_I2_2"/></g>
<path d="M296.2,214.4 L298.7,221.4 L299.9,224.7 L297.0,228.0 L290.5,227.1 L288.4,223.0 L292.1,217.3 Z" fill="#33638d" stroke="#33638d" stroke-width="0.6"/><use href="#e_J" fill="#33638d"/>
<g fill="#424186"><use href="#d_J_0"/><use href="#d_J_1"/><use href="#d_J_2"/></g>
<g fill="#26818e"><use href="#d_J_3"/><use href="#d_J_4"/><use href="#d_J_5"/></g>
<path d="M289.7,241.1 L288,254.2" fill="none" stroke="#3b528b" stroke-width="3"/>
<path d="M288.0,255.0 L290.5,256.6 L293.8,264.0 L289.7,268.1 L286.4,267.3 L284.3,258.3 Z" fill="#3b528b" stroke="#3b528b" stroke-width="0.6"/><use href="#e_K2" fill="#3b528b"/>
<g fill="#472e7c"><use href="#d_K2_0"/><use href="#d_K2_1"/><use href="#d_K2_2"/></g>
<g fill="#2c718e"><use href="#d_K2_3"/><use href="#d_K2_4"/><use href="#d_K2_5"/></g>
<path d="M347.0,237.8 L356.9,235.3 L357.7,241.1 L357.7,246.8 L355.2,248.4 L348.7,246.8 L345.4,242.7 Z" fill="#a5db36" stroke="#a5db36" stroke-width="0.6"/><use href="#e_L" fill="#a5db36"/>
<g fill="#5ac864"><use href="#d_L_0"/><use href="#d_L_1"/><use href="#d_L_2"/></g>
<g fill="#f6e620"><use href="#d_L_3"/><use href="#d_L_4"/><use href="#d_L_5"/></g>
<path d="M237.2,291.2a1.5,1.5 0 1,0 3,0a1.5,1.5 0 1,0 -3,0M231.6,284.2a1.5,1.5 0 1,0 3,0a1.5,1.5 0 1,0 -3,0M240.1,288.5a1.4,1.4 0 1,0 2.8,0a1.4,1.4 0 1,0 -2.8,0" fill="#440154" stroke="#440154" stroke-width="1.5"/>
<path d="M289,234.1a1.5,1.5 0 1,0 3,0a1.5,1.5 0 1,0 -3,0" fill="#3b528b" stroke="#3b528b" stroke-width="1.5"/>
</g>
<rect x="377.5" y="40.5" width="12" height="350.0" fill="url(#vir)" stroke="#000" stroke-width="1.0"/>
<line x1="389.5" y1="390.5" x2="395.5" y2="390.5" stroke="#000" stroke-width="1.25"/>
<text x="402.3" y="400.1" font-size="26" fill="#000">0</text>
<line x1="389.5" y1="323.9" x2="395.5" y2="323.9" stroke="#000" stroke-width="1.25"/>
<text x="402.3" y="333.5" font-size="26" fill="#000">1</text>
<line x1="389.5" y1="257.3" x2="395.5" y2="257.3" stroke="#000" stroke-width="1.25"/>
<text x="402.3" y="266.9" font-size="26" fill="#000">2</text>
<line x1="389.5" y1="190.7" x2="395.5" y2="190.7" stroke="#000" stroke-width="1.25"/>
<text x="402.3" y="200.3" font-size="26" fill="#000">3</text>
<line x1="389.5" y1="124.1" x2="395.5" y2="124.1" stroke="#000" stroke-width="1.25"/>
<text x="402.3" y="133.7" font-size="26" fill="#000">4</text>
<line x1="389.5" y1="57.5" x2="395.5" y2="57.5" stroke="#000" stroke-width="1.25"/>
<text x="402.3" y="67.1" font-size="26" fill="#000">5</text>
</g>
<g transform="translate(479.0,438.0)">
<text x="192.9" y="29.8" font-size="26" text-anchor="middle" fill="#000">SLC44A1</text>
<g stroke-linejoin="round" stroke-linecap="round">
<path d="M39.0,164.1 L41.4,168.3 L39.0,174.0 L34.0,177.5 L27.4,177.5 L27.7,173.6 L30.5,169.0 L34.0,166.2 Z" fill="#31688e" stroke="#31688e" stroke-width="0.6"/><use href="#e_A" fill="#31688e"/>
<g fill="#3f4788"><use href="#d_A_0"/><use href="#d_A_1"/><use href="#d_A_2"/></g>
<g fill="#25858e"><use href="#d_A_3"/><use href="#d_A_4"/><use href="#d_A_5"/></g>
<path d="M253.4,83.9 L255.6,78.4 L260.0,75.0 L261.2,69.5 L263.4,62.8 L266.7,60.6 L267.8,56.7 L273.4,55.0 L279.0,58.3 L284.5,62.8 L285.6,67.2 L282.3,73.9 L279.0,80.6 L275.6,78.4 L276.7,73.9 L272.3,72.8 L269.0,78.4 L266.7,85.0 L264.5,93.0 L256.7,94.0 L253.4,87.3 Z" fill="#2c728e" stroke="#2c728e" stroke-width="0.6"/><use href="#e_B1" fill="#2c728e"/>
<g fill="#228b8d"><use href="#d_B1_18"/><use href="#d_B1_19"/></g>
<g fill="#440154"><use href="#d_B1_0"/><use href="#d_B1_1"/></g>
<path d="M235.2,98.8 L240.5,96.4 L246.4,92.9 L250.5,94.1 L255.1,94.7 L261.0,94.7 L268.6,94.1 L272.7,97.6 L277.4,101.7 L276.2,106.4 L279.7,110.5 L281.5,115.8 L281.5,122.8 L278.6,129.8 L272.7,130.4 L266.9,131.0 L262.2,127.5 L255.1,128.1 L249.3,130.4 L244.6,132.2 L240.5,131.0 L237.0,125.1 L233.5,119.9 L232.3,112.3 L233.5,104.1 Z" fill="#2c728e" stroke="#2c728e" stroke-width="0.6"/><use href="#e_B2" fill="#2c728e"/>
<g fill="#228b8d"><use href="#d_B2_18"/><use href="#d_B2_19"/></g>
<g fill="#440154"><use href="#d_B2_0"/><use href="#d_B2_1"/></g>
<linearGradient id="gc6" gradientUnits="userSpaceOnUse" x1="120" y1="0" x2="210" y2="0"><stop offset="0.3" stop-color="#b5de2b"/><stop offset="1" stop-color="#8fd744"/></linearGradient>
<path d="M146.8,155.1 L141.0,158.6 L137.5,164.5 L134.5,169.2 L134.0,175.0 L123.4,178.5 L117.6,182.0 L116.4,190.3 L117.6,199.6 L115.2,206.7 L121.0,212.5 L129.3,214.8 L142.2,216.6 L152.7,214.8 L163.2,213.7 L170.3,210.2 L179.6,212.5 L189.0,210.2 L193.7,204.3 L200.7,197.3 L207.7,190.3 L209.5,184.4 L205.4,179.7 L197.2,177.4 L192.5,173.9 L190.2,169.2 L186.7,166.8 L186.7,173.9 L182.0,176.2 L173.8,173.9 L167.9,169.2 L163.2,165.7 L158.5,161.0 L152.7,156.3 Z" fill="url(#gc6)" stroke="url(#gc6)" stroke-width="0.6"/><use href="#e_C" fill="url(#gc6)"/>
<g fill="#eae51a" fill-opacity="0.7"><use href="#d_C_0"/><use href="#d_C_1"/><use href="#d_C_2"/><use href="#d_C_3"/></g>
<g fill="#75d054" fill-opacity="0.6"><use href="#d_C_4"/><use href="#d_C_5"/><use href="#d_C_6"/><use href="#d_C_7"/></g>
<path d="M195.2,129.1 L199.4,130.5 L201.5,135.5 L203.6,141.8 L201.5,146.7 L198.7,151.6 L195.9,155.1 L193.1,153.0 L190.8,150.5 L190.3,148.1 L191.0,142.5 L189.6,137.6 L191.0,131.9 Z" fill="#7ad151" stroke="#7ad151" stroke-width="0.6"/><use href="#e_D" fill="#7ad151"/>
<g fill="#3aba76"><use href="#d_D_0"/><use href="#d_D_1"/><use href="#d_D_2"/></g>
<g fill="#cae11f"><use href="#d_D_3"/><use href="#d_D_4"/><use href="#d_D_5"/></g>
<path d="M183.9,153.7 L186.8,150.2 L190.3,148.1 L193.1,150.0 L193.1,153.0 L191.7,156.5 L191.0,162.2 L188.2,164.3 L186.0,163.6 L185.4,157.2 Z" fill="#b5de2b" stroke="#b5de2b" stroke-width="0.6"/><use href="#e_Dl" fill="#b5de2b"/>
<g fill="#67cc5c"><use href="#d_Dl_0"/><use href="#d_Dl_1"/><use href="#d_Dl_2"/></g>
<g fill="#fde725"><use href="#d_Dl_3"/><use href="#d_Dl_4"/><use href="#d_Dl_5"/></g>
<path d="M42.1,289.7 L51.1,288.0 L56.9,292.1 L62.6,298.7 L65.9,303.6 L62.6,308.5 L55.2,311.8 L51.1,315.9 L44.6,322.5 L35.6,320.8 L29.8,315.9 L28.2,308.5 L33.1,303.6 L37.2,296.2 Z" fill="#2e6e8e" stroke="#2e6e8e" stroke-width="0.6"/><use href="#e_E" fill="#2e6e8e"/>
<g fill="#3d4e8a"><use href="#d_E_0"/><use href="#d_E_1"/><use href="#d_E_2"/></g>
<g fill="#228b8d"><use href="#d_E_3"/><use href="#d_E_4"/><use href="#d_E_5"/></g>
<path d="M60.0,298.0 L64.0,301.0 L66.0,304.0 L63.0,309.0 L57.0,312.0 L54.0,311.0 L57.0,305.0 Z" fill="#5ec962" stroke="#5ec962" stroke-width="0.6"/><use href="#e_E2" fill="#5ec962"/>
<g fill="#29af7f"><use href="#d_E2_0"/><use href="#d_E2_1"/><use href="#d_E2_2"/></g>
<g fill="#aadc32"><use href="#d_E2_3"/><use href="#d_E2_4"/><use href="#d_E2_5"/></g>
<path d="M138.9,288.2 L148.2,291.7 L154.1,298.7 L150.6,308.1 L148.2,316.3 L141.2,319.8 L138.9,314.0 L142.4,306.9 L136.5,304.6 L133.0,299.9 L135.4,291.7 Z" fill="#37598c" stroke="#37598c" stroke-width="0.6"/><use href="#e_F1" fill="#37598c"/>
<g fill="#453781"><use href="#d_F1_0"/><use href="#d_F1_1"/><use href="#d_F1_2"/></g>
<g fill="#2a788e"><use href="#d_F1_3"/><use href="#d_F1_4"/><use href="#d_F1_5"/></g>
<path d="M141,319 L135.4,322 L123.6,330.4" fill="none" stroke="#37598c" stroke-width="3"/>
<path d="M129.5,305.8 L126,316.3" fill="none" stroke="#37598c" stroke-width="3"/>
<path d="M110.8,301.7 L119.0,308.1 L117.8,315.1 L113.1,315.1 L107.8,308.1 Z" fill="#2f6b8e" stroke="#2f6b8e" stroke-width="0.6"/><use href="#e_F4" fill="#2f6b8e"/>
<g fill="#3e4a89"><use href="#d_F4_0"/><use href="#d_F4_1"/><use href="#d_F4_2"/></g>
<g fill="#23888e"><use href="#d_F4_3"/><use href="#d_F4_4"/><use href="#d_F4_5"/></g>
<path d="M107.2,325.1 L114.3,328.0 L120.1,332.7 L113.1,336.2 L106.1,340.9 L99.1,347.9 L94.4,346.7 L93.2,335.0 L99.1,329.2 L103.7,326.8 Z" fill="#37598c" stroke="#37598c" stroke-width="0.6"/><use href="#e_F5" fill="#37598c"/>
<g fill="#453781"><use href="#d_F5_0"/><use href="#d_F5_1"/><use href="#d_F5_2"/></g>
<g fill="#2a788e"><use href="#d_F5_3"/><use href="#d_F5_4"/><use href="#d_F5_5"/></g>
<path d="M120.1,326.8 L126.0,331.5 L129.5,338.5 L135.4,335.0 L136.5,339.7 L131.8,345.6 L136.5,350.3 L134.2,354.9 L127.2,357.3 L122.5,352.6 L117.8,350.3 L120.1,343.2 L115.4,335.0 Z" fill="#37598c" stroke="#37598c" stroke-width="0.6"/><use href="#e_F6" fill="#37598c"/>
<g fill="#453781"><use href="#d_F6_0"/><use href="#d_F6_1"/><use href="#d_F6_2"/></g>
<g fill="#2a788e"><use href="#d_F6_3"/><use href="#d_F6_4"/><use href="#d_F6_5"/></g>
<path d="M142.4,350.3 L148.2,356.1 L143.5,360.2 L138.9,354.9 Z" fill="#2f6b8e" stroke="#2f6b8e" stroke-width="0.6"/><use href="#e_F7" fill="#2f6b8e"/>
<g fill="#3e4a89"><use href="#d_F7_0"/><use href="#d_F7_1"/><use href="#d_F7_2"/></g>
<g fill="#23888e"><use href="#d_F7_3"/><use href="#d_F7_4"/><use href="#d_F7_5"/></g>
<path d="M124.8,364.3 L119.5,374.8" fill="none" stroke="#37598c" stroke-width="4"/>
<path d="M205.1,299.2 L213.5,299.6 L221.1,303.4 L225.7,307.5 L229.5,312.9 L233.3,317.4 L234.4,322.8 L234.0,329.6 L231.7,335.7 L227.2,340.3 L221.1,344.1 L213.5,347.1 L208.2,348.3 L201.3,344.8 L196.7,339.5 L193.7,332.7 L189.9,326.6 L189.5,320.5 L190.7,312.9 L194.5,305.3 L199.8,300.7 Z" fill="#2d6f8e" stroke="#2d6f8e" stroke-width="0.6"/><use href="#e_G" fill="#2d6f8e"/>
<g fill="#3c508b"><use href="#d_G_0"/><use href="#d_G_1"/><use href="#d_G_2"/></g>
<g fill="#228d8d"><use href="#d_G_3"/><use href="#d_G_4"/><use href="#d_G_5"/></g>
<path d="M172.5,333.0 L174.0,330.0 L180.0,326.0 L182.5,326.5 L181.0,330.0 L175.0,333.5 Z" fill="#33638d" stroke="#33638d" stroke-width="0.6"/><use href="#e_H" fill="#33638d"/>
<g fill="#424186"><use href="#d_H_0"/><use href="#d_H_1"/><use href="#d_H_2"/></g>
<g fill="#26818e"><use href="#d_H_3"/><use href="#d_H_4"/><use href="#d_H_5"/></g>
<path d="M237.0,242.5 L239.5,244.0 L240.0,248.5 L238.0,251.0 L235.0,250.5 L234.5,246.0 Z" fill="#3b528b" stroke="#3b528b" stroke-width="0.6"/><use href="#e_I0" fill="#3b528b"/>
<g fill="#472e7c"><use href="#d_I0_0"/><use href="#d_I0_1"/><use href="#d_I0_2"/></g>
<g fill="#2c718e"><use href="#d_I0_3"/><use href="#d_I0_4"/><use href="#d_I0_5"/></g>
<path d="M237.5,252 L238,262 L238.5,272" fill="none" stroke="#3b528b" stroke-width="3"/>
<path d="M240.8,272.2 L249.3,274.3 L252.1,280.0 L247.9,284.9 L239.4,284.9 L233.8,282.8 L236.6,277.1 Z" fill="#3b528b" stroke="#3b528b" stroke-width="0.6"/><use href="#e_I2" fill="#3b528b"/>
<g fill="#472e7c"><use href="#d_I2_0"/><use href="#d_I2_1"/><use href="#d_I2_2"/></g>
<g fill="#2c718e"><use href="#d_I2_3"/><use href="#d_I2_4"/><use href="#d_I2_5"/></g>
<path d="M296.2,214.4 L298.7,221.4 L299.9,224.7 L297.0,228.0 L290.5,227.1 L288.4,223.0 L292.1,217.3 Z" fill="#31688e" stroke="#31688e" stroke-width="0.6"/><use href="#e_J" fill="#31688e"/>
<g fill="#3f4788"><use href="#d_J_0"/><use href="#d_J_1"/><use href="#d_J_2"/></g>
<g fill="#25858e"><use href="#d_J_3"/><use href="#d_J_4"/><use href="#d_J_5"/></g>
<path d="M289.7,241.1 L288,254.2" fill="none" stroke="#3b528b" stroke-width="3"/>
<path d="M288.0,255.0 L290.5,256.6 L293.8,264.0 L289.7,268.1 L286.4,267.3 L284.3,258.3 Z" fill="#3b528b" stroke="#3b528b" stroke-width="0.6"/><use href="#e_K2" fill="#3b528b"/>
<g fill="#472e7c"><use href="#d_K2_0"/><use href="#d_K2_1"/><use href="#d_K2_2"/></g>
<g fill="#2c718e"><use href="#d_K2_3"/><use href="#d_K2_4"/><use href="#d_K2_5"/></g>
<path d="M347.0,237.8 L356.9,235.3 L357.7,241.1 L357.7,246.8 L355.2,248.4 L348.7,246.8 L345.4,242.7 Z" fill="#2f6b8e" stroke="#2f6b8e" stroke-width="0.6"/><use href="#e_L" fill="#2f6b8e"/>
<g fill="#3e4a89"><use href="#d_L_0"/><use href="#d_L_1"/><use href="#d_L_2"/></g>
<g fill="#23888e"><use href="#d_L_3"/><use href="#d_L_4"/><use href="#d_L_5"/></g>
<path d="M237.2,291.2a1.5,1.5 0 1,0 3,0a1.5,1.5 0 1,0 -3,0M231.6,284.2a1.5,1.5 0 1,0 3,0a1.5,1.5 0 1,0 -3,0M240.1,288.5a1.4,1.4 0 1,0 2.8,0a1.4,1.4 0 1,0 -2.8,0" fill="#3b528b" stroke="#3b528b" stroke-width="1.5"/>
<path d="M289,234.1a1.5,1.5 0 1,0 3,0a1.5,1.5 0 1,0 -3,0" fill="#3b528b" stroke="#3b528b" stroke-width="1.5"/>
</g>
<rect x="377.5" y="40.5" width="12" height="350.0" fill="url(#vir)" stroke="#000" stroke-width="1.0"/>
<line x1="389.5" y1="390.5" x2="395.5" y2="390.5" stroke="#000" stroke-width="1.25"/>
<text x="402.3" y="400.1" font-size="26" fill="#000">0</text>
<line x1="389.5" y1="319.4" x2="395.5" y2="319.4" stroke="#000" stroke-width="1.25"/>
<text x="402.3" y="329.0" font-size="26" fill="#000">1</text>
<line x1="389.5" y1="248.2" x2="395.5" y2="248.2" stroke="#000" stroke-width="1.25"/>
<text x="402.3" y="257.8" font-size="26" fill="#000">2</text>
<line x1="389.5" y1="177.1" x2="395.5" y2="177.1" stroke="#000" stroke-width="1.25"/>
<text x="402.3" y="186.7" font-size="26" fill="#000">3</text>
<line x1="389.5" y1="105.9" x2="395.5" y2="105.9" stroke="#000" stroke-width="1.25"/>
<text x="402.3" y="115.5" font-size="26" fill="#000">4</text>
</g>
<g transform="translate(958.0,438.0)">
<text x="192.9" y="29.8" font-size="26" text-anchor="middle" fill="#000">EDIL3</text>
<g stroke-linejoin="round" stroke-linecap="round">
<path d="M39.0,164.1 L41.4,168.3 L39.0,174.0 L34.0,177.5 L27.4,177.5 L27.7,173.6 L30.5,169.0 L34.0,166.2 Z" fill="#440154" stroke="#440154" stroke-width="0.6"/><use href="#e_A" fill="#440154"/>
<g fill="#2d6f8e"><use href="#d_A_0"/><use href="#d_A_1"/><use href="#d_A_2"/><use href="#d_A_3"/><use href="#d_A_4"/><use href="#d_A_5"/><use href="#d_A_6"/><use href="#d_A_7"/><use href="#d_A_8"/></g>
<path d="M253.4,83.9 L255.6,78.4 L260.0,75.0 L261.2,69.5 L263.4,62.8 L266.7,60.6 L267.8,56.7 L273.4,55.0 L279.0,58.3 L284.5,62.8 L285.6,67.2 L282.3,73.9 L279.0,80.6 L275.6,78.4 L276.7,73.9 L272.3,72.8 L269.0,78.4 L266.7,85.0 L264.5,93.0 L256.7,94.0 L253.4,87.3 Z" fill="#440154" stroke="#440154" stroke-width="0.6"/><use href="#e_B1" fill="#440154"/>
<g fill="#2d6f8e"><use href="#d_B1_0"/><use href="#d_B1_1"/><use href="#d_B1_2"/><use href="#d_B1_3"/><use href="#d_B1_4"/><use href="#d_B1_5"/></g>
<path d="M235.2,98.8 L240.5,96.4 L246.4,92.9 L250.5,94.1 L255.1,94.7 L261.0,94.7 L268.6,94.1 L272.7,97.6 L277.4,101.7 L276.2,106.4 L279.7,110.5 L281.5,115.8 L281.5,122.8 L278.6,129.8 L272.7,130.4 L266.9,131.0 L262.2,127.5 L255.1,128.1 L249.3,130.4 L244.6,132.2 L240.5,131.0 L237.0,125.1 L233.5,119.9 L232.3,112.3 L233.5,104.1 Z" fill="#440154" stroke="#440154" stroke-width="0.6"/><use href="#e_B2" fill="#440154"/>
<g fill="#2d6f8e"><use href="#d_B2_0"/><use href="#d_B2_1"/><use href="#d_B2_2"/><use href="#d_B2_3"/><use href="#d_B2_4"/><use href="#d_B2_5"/></g>
<linearGradient id="gc7" gradientUnits="userSpaceOnUse" x1="120" y1="0" x2="210" y2="0"><stop offset="0.3" stop-color="#a5db36"/><stop offset="1" stop-color="#7ad151"/></linearGradient>
<path d="M146.8,155.1 L141.0,158.6 L137.5,164.5 L134.5,169.2 L134.0,175.0 L123.4,178.5 L117.6,182.0 L116.4,190.3 L117.6,199.6 L115.2,206.7 L121.0,212.5 L129.3,214.8 L142.2,216.6 L152.7,214.8 L163.2,213.7 L170.3,210.2 L179.6,212.5 L189.0,210.2 L193.7,204.3 L200.7,197.3 L207.7,190.3 L209.5,184.4 L205.4,179.7 L197.2,177.4 L192.5,173.9 L190.2,169.2 L186.7,166.8 L186.7,173.9 L182.0,176.2 L173.8,173.9 L167.9,169.2 L163.2,165.7 L158.5,161.0 L152.7,156.3 Z" fill="url(#gc7)" stroke="url(#gc7)" stroke-width="0.6"/><use href="#e_C" fill="url(#gc7)"/>
<g fill="#dae319" fill-opacity="0.7"><use href="#d_C_0"/><use href="#d_C_1"/><use href="#d_C_2"/><use href="#d_C_3"/></g>
<g fill="#67cc5c" fill-opacity="0.6"><use href="#d_C_4"/><use href="#d_C_5"/><use href="#d_C_6"/><use href="#d_C_7"/></g>
<path d="M195.2,129.1 L199.4,130.5 L201.5,135.5 L203.6,141.8 L201.5,146.7 L198.7,151.6 L195.9,155.1 L193.1,153.0 L190.8,150.5 L190.3,148.1 L191.0,142.5 L189.6,137.6 L191.0,131.9 Z" fill="#7ad151" stroke="#7ad151" stroke-width="0.6"/><use href="#e_D" fill="#7ad151"/>
<g fill="#3aba76"><use href="#d_D_0"/><use href="#d_D_1"/><use href="#d_D_2"/></g>
<g fill="#cae11f"><use href="#d_D_3"/><use href="#d_D_4"/><use href="#d_D_5"/></g>
<path d="M183.9,153.7 L186.8,150.2 L190.3,148.1 L193.1,150.0 L193.1,153.0 L191.7,156.5 L191.0,162.2 L188.2,164.3 L186.0,163.6 L185.4,157.2 Z" fill="#a5db36" stroke="#a5db36" stroke-width="0.6"/><use href="#e_Dl" fill="#a5db36"/>
<g fill="#5ac864"><use href="#d_Dl_0"/><use href="#d_Dl_1"/><use href="#d_Dl_2"/></g>
<g fill="#f6e620"><use href="#d_Dl_3"/><use href="#d_Dl_4"/><use href="#d_Dl_5"/></g>
<path d="M42.1,289.7 L51.1,288.0 L56.9,292.1 L62.6,298.7 L65.9,303.6 L62.6,308.5 L55.2,311.8 L51.1,315.9 L44.6,322.5 L35.6,320.8 L29.8,315.9 L28.2,308.5 L33.1,303.6 L37.2,296.2 Z" fill="#37aa7d" stroke="#37aa7d" stroke-width="0.6"/><use href="#e_E" fill="#37aa7d"/>
<g fill="#1f978b"><use href="#d_E_0"/><use href="#d_E_1"/><use href="#d_E_2"/></g>
<g fill="#69cd5b"><use href="#d_E_3"/><use href="#d_E_4"/><use href="#d_E_5"/></g>
<path d="M60.0,298.0 L64.0,301.0 L66.0,304.0 L63.0,309.0 L57.0,312.0 L54.0,311.0 L57.0,305.0 Z" fill="#2f8a88" stroke="#2f8a88" stroke-width="0.6"/><use href="#e_E2" fill="#2f8a88"/>
<g fill="#30698e"><use href="#d_E2_0"/><use href="#d_E2_1"/><use href="#d_E2_2"/></g>
<g fill="#20a386"><use href="#d_E2_3"/><use href="#d_E2_4"/><use href="#d_E2_5"/></g>
<path d="M138.9,288.2 L148.2,291.7 L154.1,298.7 L150.6,308.1 L148.2,316.3 L141.2,319.8 L138.9,314.0 L142.4,306.9 L136.5,304.6 L133.0,299.9 L135.4,291.7 Z" fill="#35608d" stroke="#35608d" stroke-width="0.6"/><use href="#e_F1" fill="#35608d"/>
<g fill="#433e85"><use href="#d_F1_0"/><use href="#d_F1_1"/><use href="#d_F1_2"/></g>
<g fill="#277e8e"><use href="#d_F1_3"/><use href="#d_F1_4"/><use href="#d_F1_5"/></g>
<path d="M141,319 L135.4,322 L123.6,330.4" fill="none" stroke="#2f6b8e" stroke-width="3"/>
<path d="M129.5,305.8 L126,316.3" fill="none" stroke="#2f6b8e" stroke-width="3"/>
<path d="M110.8,301.7 L119.0,308.1 L117.8,315.1 L113.1,315.1 L107.8,308.1 Z" fill="#2d8f88" stroke="#2d8f88" stroke-width="0.6"/><use href="#e_F4" fill="#2d8f88"/>
<g fill="#2e6f8e"><use href="#d_F4_0"/><use href="#d_F4_1"/><use href="#d_F4_2"/></g>
<g fill="#23a983"><use href="#d_F4_3"/><use href="#d_F4_4"/><use href="#d_F4_5"/></g>
<path d="M107.2,325.1 L114.3,328.0 L120.1,332.7 L113.1,336.2 L106.1,340.9 L99.1,347.9 L94.4,346.7 L93.2,335.0 L99.1,329.2 L103.7,326.8 Z" fill="#440154" stroke="#440154" stroke-width="0.6"/><use href="#e_F5" fill="#440154"/>
<g fill="#3b528b"><use href="#d_F5_0"/><use href="#d_F5_1"/><use href="#d_F5_2"/><use href="#d_F5_3"/><use href="#d_F5_4"/><use href="#d_F5_5"/><use href="#d_F5_6"/><use href="#d_F5_7"/></g>
<path d="M120.1,326.8 L126.0,331.5 L129.5,338.5 L135.4,335.0 L136.5,339.7 L131.8,345.6 L136.5,350.3 L134.2,354.9 L127.2,357.3 L122.5,352.6 L117.8,350.3 L120.1,343.2 L115.4,335.0 Z" fill="#2c8a88" stroke="#2c8a88" stroke-width="0.6"/><use href="#e_F6" fill="#2c8a88"/>
<g fill="#306a8e"><use href="#d_F6_0"/><use href="#d_F6_1"/><use href="#d_F6_2"/></g>
<g fill="#20a486"><use href="#d_F6_3"/><use href="#d_F6_4"/><use href="#d_F6_5"/></g>
<path d="M142.4,350.3 L148.2,356.1 L143.5,360.2 L138.9,354.9 Z" fill="#4ac16d" stroke="#4ac16d" stroke-width="0.6"/><use href="#e_F7" fill="#4ac16d"/>
<g fill="#21a685"><use href="#d_F7_0"/><use href="#d_F7_1"/><use href="#d_F7_2"/></g>
<g fill="#90d743"><use href="#d_F7_3"/><use href="#d_F7_4"/><use href="#d_F7_5"/></g>
<path d="M124.8,364.3 L119.5,374.8" fill="none" stroke="#31688e" stroke-width="4"/>
<path d="M205.1,299.2 L213.5,299.6 L221.1,303.4 L225.7,307.5 L229.5,312.9 L233.3,317.4 L234.4,322.8 L234.0,329.6 L231.7,335.7 L227.2,340.3 L221.1,344.1 L213.5,347.1 L208.2,348.3 L201.3,344.8 L196.7,339.5 L193.7,332.7 L189.9,326.6 L189.5,320.5 L190.7,312.9 L194.5,305.3 L199.8,300.7 Z" fill="#440154" stroke="#440154" stroke-width="0.6"/><use href="#e_G" fill="#440154"/>
<g fill="#2d6f8e"><use href="#d_G_0"/><use href="#d_G_1"/><use href="#d_G_2"/><use href="#d_G_3"/><use href="#d_G_4"/></g>
<path d="M172.5,333.0 L174.0,330.0 L180.0,326.0 L182.5,326.5 L181.0,330.0 L175.0,333.5 Z" fill="#440154" stroke="#440154" stroke-width="0.6"/><use href="#e_H" fill="#440154"/>
<g fill="#2d6f8e"><use href="#d_H_0"/><use href="#d_H_1"/><use href="#d_H_2"/><use href="#d_H_3"/><use href="#d_H_4"/><use href="#d_H_5"/><use href="#d_H_6"/><use href="#d_H_7"/><use href="#d_H_8"/><use href="#d_H_9"/></g>
<path d="M237.0,242.5 L239.5,244.0 L240.0,248.5 L238.0,251.0 L235.0,250.5 L234.5,246.0 Z" fill="#440154" stroke="#440154" stroke-width="0.6"/><use href="#e_I0" fill="#440154"/>
<g fill="#2d6f8e"><use href="#d_I0_0"/><use href="#d_I0_1"/><use href="#d_I0_2"/></g>
<path d="M237.5,252 L238,262 L238.5,272" fill="none" stroke="#440154" stroke-width="3"/>
<g fill="#2d6f8e"><use href="#d_I1_0"/><use href="#d_I1_1"/><use href="#d_I1_2"/></g>
<path d="M240.8,272.2 L249.3,274.3 L252.1,280.0 L247.9,284.9 L239.4,284.9 L233.8,282.8 L236.6,277.1 Z" fill="#440154" stroke="#440154" stroke-width="0.6"/><use href="#e_I2" fill="#440154"/>
<g fill="#2d6f8e"><use href="#d_I2_0"/><use href="#d_I2_1"/><use href="#d_I2_2"/></g>
<path d="M296.2,214.4 L298.7,221.4 L299.9,224.7 L297.0,228.0 L290.5,227.1 L288.4,223.0 L292.1,217.3 Z" fill="#440154" stroke="#440154" stroke-width="0.6"/><use href="#e_J" fill="#440154"/>
<g fill="#2d6f8e"><use href="#d_J_0"/><use href="#d_J_1"/><use href="#d_J_2"/><use href="#d_J_3"/><use href="#d_J_4"/><use href="#d_J_5"/></g>
<path d="M289.7,241.1 L288,254.2" fill="none" stroke="#2a9a84" stroke-width="3"/>
<path d="M288.0,255.0 L290.5,256.6 L293.8,264.0 L289.7,268.1 L286.4,267.3 L284.3,258.3 Z" fill="#2a9a84" stroke="#2a9a84" stroke-width="0.6"/><use href="#e_K2" fill="#2a9a84"/>
<g fill="#277f8e"><use href="#d_K2_0"/><use href="#d_K2_1"/><use href="#d_K2_2"/></g>
<g fill="#37b878"><use href="#d_K2_3"/><use href="#d_K2_4"/><use href="#d_K2_5"/></g>
<path d="M347.0,237.8 L356.9,235.3 L357.7,241.1 L357.7,246.8 L355.2,248.4 L348.7,246.8 L345.4,242.7 Z" fill="#440154" stroke="#440154" stroke-width="0.6"/><use href="#e_L" fill="#440154"/>
<g fill="#3b528b"><use href="#d_L_0"/><use href="#d_L_1"/><use href="#d_L_2"/><use href="#d_L_3"/><use href="#d_L_4"/><use href="#d_L_5"/><use href="#d_L_6"/><use href="#d_L_7"/></g>
<path d="M237.2,291.2a1.5,1.5 0 1,0 3,0a1.5,1.5 0 1,0 -3,0M231.6,284.2a1.5,1.5 0 1,0 3,0a1.5,1.5 0 1,0 -3,0M240.1,288.5a1.4,1.4 0 1,0 2.8,0a1.4,1.4 0 1,0 -2.8,0" fill="#440154" stroke="#440154" stroke-width="1.5"/>
<path d="M289,234.1a1.5,1.5 0 1,0 3,0a1.5,1.5 0 1,0 -3,0" fill="#2a9a84" stroke="#2a9a84" stroke-width="1.5"/>
</g>
<rect x="377.5" y="40.5" width="12" height="350.0" fill="url(#vir)" stroke="#000" stroke-width="1.0"/>
<line x1="389.5" y1="390.5" x2="395.5" y2="390.5" stroke="#000" stroke-width="1.25"/>
<text x="402.3" y="400.1" font-size="26" fill="#000">0</text>
<line x1="389.5" y1="317.4" x2="395.5" y2="317.4" stroke="#000" stroke-width="1.25"/>
<text x="402.3" y="327.0" font-size="26" fill="#000">1</text>
<line x1="389.5" y1="244.4" x2="395.5" y2="244.4" stroke="#000" stroke-width="1.25"/>
<text x="402.3" y="254.0" font-size="26" fill="#000">2</text>
<line x1="389.5" y1="171.3" x2="395.5" y2="171.3" stroke="#000" stroke-width="1.25"/>
<text x="402.3" y="180.9" font-size="26" fill="#000">3</text>
<line x1="389.5" y1="98.2" x2="395.5" y2="98.2" stroke="#000" stroke-width="1.25"/>
<text x="402.3" y="107.8" font-size="26" fill="#000">4</text>
</g>
<g transform="translate(1437.0,438.0)">
<text x="192.9" y="29.8" font-size="26" text-anchor="middle" fill="#000">ENPP2</text>
<g stroke-linejoin="round" stroke-linecap="round">
<path d="M39.0,164.1 L41.4,168.3 L39.0,174.0 L34.0,177.5 L27.4,177.5 L27.7,173.6 L30.5,169.0 L34.0,166.2 Z" fill="#440154" stroke="#440154" stroke-width="0.6"/><use href="#e_A" fill="#440154"/>
<g fill="#2d6f8e"><use href="#d_A_0"/><use href="#d_A_1"/><use href="#d_A_2"/><use href="#d_A_3"/><use href="#d_A_4"/></g>
<path d="M253.4,83.9 L255.6,78.4 L260.0,75.0 L261.2,69.5 L263.4,62.8 L266.7,60.6 L267.8,56.7 L273.4,55.0 L279.0,58.3 L284.5,62.8 L285.6,67.2 L282.3,73.9 L279.0,80.6 L275.6,78.4 L276.7,73.9 L272.3,72.8 L269.0,78.4 L266.7,85.0 L264.5,93.0 L256.7,94.0 L253.4,87.3 Z" fill="#440154" stroke="#440154" stroke-width="0.6"/><use href="#e_B1" fill="#440154"/>
<g fill="#2d6f8e"><use href="#d_B1_0"/><use href="#d_B1_1"/><use href="#d_B1_2"/><use href="#d_B1_3"/></g>
<path d="M235.2,98.8 L240.5,96.4 L246.4,92.9 L250.5,94.1 L255.1,94.7 L261.0,94.7 L268.6,94.1 L272.7,97.6 L277.4,101.7 L276.2,106.4 L279.7,110.5 L281.5,115.8 L281.5,122.8 L278.6,129.8 L272.7,130.4 L266.9,131.0 L262.2,127.5 L255.1,128.1 L249.3,130.4 L244.6,132.2 L240.5,131.0 L237.0,125.1 L233.5,119.9 L232.3,112.3 L233.5,104.1 Z" fill="#440154" stroke="#440154" stroke-width="0.6"/><use href="#e_B2" fill="#440154"/>
<g fill="#2d6f8e"><use href="#d_B2_0"/><use href="#d_B2_1"/><use href="#d_B2_2"/><use href="#d_B2_3"/></g>
<linearGradient id="gc8" gradientUnits="userSpaceOnUse" x1="120" y1="0" x2="210" y2="0"><stop offset="0.3" stop-color="#a0da39"/><stop offset="1" stop-color="#6ccd5a"/></linearGradient>
<path d="M146.8,155.1 L141.0,158.6 L137.5,164.5 L134.5,169.2 L134.0,175.0 L123.4,178.5 L117.6,182.0 L116.4,190.3 L117.6,199.6 L115.2,206.7 L121.0,212.5 L129.3,214.8 L142.2,216.6 L152.7,214.8 L163.2,213.7 L170.3,210.2 L179.6,212.5 L189.0,210.2 L193.7,204.3 L200.7,197.3 L207.7,190.3 L209.5,184.4 L205.4,179.7 L197.2,177.4 L192.5,173.9 L190.2,169.2 L186.7,166.8 L186.7,173.9 L182.0,176.2 L173.8,173.9 L167.9,169.2 L163.2,165.7 L158.5,161.0 L152.7,156.3 Z" fill="url(#gc8)" stroke="url(#gc8)" stroke-width="0.6"/><use href="#e_C" fill="url(#gc8)"/>
<g fill="#d5e21a" fill-opacity="0.7"><use href="#d_C_0"/><use href="#d_C_1"/><use href="#d_C_2"/><use href="#d_C_3"/></g>
<g fill="#63cb5f" fill-opacity="0.6"><use href="#d_C_4"/><use href="#d_C_5"/><use href="#d_C_6"/><use href="#d_C_7"/></g>
<path d="M195.2,129.1 L199.4,130.5 L201.5,135.5 L203.6,141.8 L201.5,146.7 L198.7,151.6 L195.9,155.1 L193.1,153.0 L190.8,150.5 L190.3,148.1 L191.0,142.5 L189.6,137.6 L191.0,131.9 Z" fill="#86d549" stroke="#86d549" stroke-width="0.6"/><use href="#e_D" fill="#86d549"/>
<g fill="#42be71"><use href="#d_D_0"/><use href="#d_D_1"/><use href="#d_D_2"/></g>
<g fill="#d8e219"><use href="#d_D_3"/><use href="#d_D_4"/><use href="#d_D_5"/></g>
<path d="M183.9,153.7 L186.8,150.2 L190.3,148.1 L193.1,150.0 L193.1,153.0 L191.7,156.5 L191.0,162.2 L188.2,164.3 L186.0,163.6 L185.4,157.2 Z" fill="#a0da39" stroke="#a0da39" stroke-width="0.6"/><use href="#e_Dl" fill="#a0da39"/>
<g fill="#56c667"><use href="#d_Dl_0"/><use href="#d_Dl_1"/><use href="#d_Dl_2"/></g>
<g fill="#f1e51d"><use href="#d_Dl_3"/><use href="#d_Dl_4"/><use href="#d_Dl_5"/></g>
<path d="M42.1,289.7 L51.1,288.0 L56.9,292.1 L62.6,298.7 L65.9,303.6 L62.6,308.5 L55.2,311.8 L51.1,315.9 L44.6,322.5 L35.6,320.8 L29.8,315.9 L28.2,308.5 L33.1,303.6 L37.2,296.2 Z" fill="#440154" stroke="#440154" stroke-width="0.6"/><use href="#e_E" fill="#440154"/>
<g fill="#3b528b"><use href="#d_E_0"/><use href="#d_E_1"/><use href="#d_E_2"/><use href="#d_E_3"/><use href="#d_E_4"/><use href="#d_E_5"/><use href="#d_E_6"/><use href="#d_E_7"/><use href="#d_E_8"/><use href="#d_E_9"/></g>
<path d="M60.0,298.0 L64.0,301.0 L66.0,304.0 L63.0,309.0 L57.0,312.0 L54.0,311.0 L57.0,305.0 Z" fill="#2d8688" stroke="#2d8688" stroke-width="0.6"/><use href="#e_E2" fill="#2d8688"/>
<g fill="#31668e"><use href="#d_E2_0"/><use href="#d_E2_1"/><use href="#d_E2_2"/></g>
<g fill="#1fa188"><use href="#d_E2_3"/><use href="#d_E2_4"/><use href="#d_E2_5"/></g>
<path d="M138.9,288.2 L148.2,291.7 L154.1,298.7 L150.6,308.1 L148.2,316.3 L141.2,319.8 L138.9,314.0 L142.4,306.9 L136.5,304.6 L133.0,299.9 L135.4,291.7 Z" fill="#440154" stroke="#440154" stroke-width="0.6"/><use href="#e_F1" fill="#440154"/>
<g fill="#3b528b"><use href="#d_F1_0"/><use href="#d_F1_1"/><use href="#d_F1_2"/><use href="#d_F1_3"/><use href="#d_F1_4"/><use href="#d_F1_5"/><use href="#d_F1_6"/><use href="#d_F1_7"/></g>
<path d="M141,319 L135.4,322 L123.6,330.4" fill="none" stroke="#440154" stroke-width="3"/>
<g fill="#3b528b"><use href="#d_F2_0"/><use href="#d_F2_1"/><use href="#d_F2_2"/><use href="#d_F2_3"/><use href="#d_F2_4"/><use href="#d_F2_5"/><use href="#d_F2_6"/><use href="#d_F2_7"/></g>
<path d="M129.5,305.8 L126,316.3" fill="none" stroke="#440154" stroke-width="3"/>
<g fill="#3b528b"><use href="#d_F3_0"/><use href="#d_F3_1"/><use href="#d_F3_2"/><use href="#d_F3_3"/><use href="#d_F3_4"/><use href="#d_F3_5"/><use href="#d_F3_6"/><use href="#d_F3_7"/></g>
<path d="M110.8,301.7 L119.0,308.1 L117.8,315.1 L113.1,315.1 L107.8,308.1 Z" fill="#440154" stroke="#440154" stroke-width="0.6"/><use href="#e_F4" fill="#440154"/>
<g fill="#3b528b"><use href="#d_F4_0"/><use href="#d_F4_1"/><use href="#d_F4_2"/><use href="#d_F4_3"/><use href="#d_F4_4"/><use href="#d_F4_5"/><use href="#d_F4_6"/><use href="#d_F4_7"/><use href="#d_F4_8"/><use href="#d_F4_9"/></g>
<path d="M107.2,325.1 L114.3,328.0 L120.1,332.7 L113.1,336.2 L106.1,340.9 L99.1,347.9 L94.4,346.7 L93.2,335.0 L99.1,329.2 L103.7,326.8 Z" fill="#440154" stroke="#440154" stroke-width="0.6"/><use href="#e_F5" fill="#440154"/>
<g fill="#3b528b"><use href="#d_F5_0"/><use href="#d_F5_1"/><use href="#d_F5_2"/><use href="#d_F5_3"/><use href="#d_F5_4"/><use href="#d_F5_5"/><use href="#d_F5_6"/><use href="#d_F5_7"/></g>
<path d="M120.1,326.8 L126.0,331.5 L129.5,338.5 L135.4,335.0 L136.5,339.7 L131.8,345.6 L136.5,350.3 L134.2,354.9 L127.2,357.3 L122.5,352.6 L117.8,350.3 L120.1,343.2 L115.4,335.0 Z" fill="#440154" stroke="#440154" stroke-width="0.6"/><use href="#e_F6" fill="#440154"/>
<g fill="#3b528b"><use href="#d_F6_0"/><use href="#d_F6_1"/><use href="#d_F6_2"/><use href="#d_F6_3"/><use href="#d_F6_4"/><use href="#d_F6_5"/><use href="#d_F6_6"/><use href="#d_F6_7"/></g>
<path d="M142.4,350.3 L148.2,356.1 L143.5,360.2 L138.9,354.9 Z" fill="#440154" stroke="#440154" stroke-width="0.6"/><use href="#e_F7" fill="#440154"/>
<g fill="#3b528b"><use href="#d_F7_0"/><use href="#d_F7_1"/><use href="#d_F7_2"/><use href="#d_F7_3"/><use href="#d_F7_4"/><use href="#d_F7_5"/><use href="#d_F7_6"/><use href="#d_F7_7"/><use href="#d_F7_8"/><use href="#d_F7_9"/></g>
<path d="M124.8,364.3 L119.5,374.8" fill="none" stroke="#440154" stroke-width="4"/>
<g fill="#3b528b"><use href="#d_F8_0"/><use href="#d_F8_1"/><use href="#d_F8_2"/><use href="#d_F8_3"/><use href="#d_F8_4"/><use href="#d_F8_5"/><use href="#d_F8_6"/><use href="#d_F8_7"/></g>
<path d="M205.1,299.2 L213.5,299.6 L221.1,303.4 L225.7,307.5 L229.5,312.9 L233.3,317.4 L234.4,322.8 L234.0,329.6 L231.7,335.7 L227.2,340.3 L221.1,344.1 L213.5,347.1 L208.2,348.3 L201.3,344.8 L196.7,339.5 L193.7,332.7 L189.9,326.6 L189.5,320.5 L190.7,312.9 L194.5,305.3 L199.8,300.7 Z" fill="#440154" stroke="#440154" stroke-width="0.6"/><use href="#e_G" fill="#440154"/>
<g fill="#2d6f8e"><use href="#d_G_0"/><use href="#d_G_1"/><use href="#d_G_2"/><use href="#d_G_3"/><use href="#d_G_4"/><use href="#d_G_5"/></g>
<path d="M172.5,333.0 L174.0,330.0 L180.0,326.0 L182.5,326.5 L181.0,330.0 L175.0,333.5 Z" fill="#440154" stroke="#440154" stroke-width="0.6"/><use href="#e_H" fill="#440154"/>
<g fill="#440154"><use href="#d_H_0"/><use href="#d_H_1"/><use href="#d_H_2"/></g>
<g fill="#472c7a"><use href="#d_H_3"/><use href="#d_H_4"/><use href="#d_H_5"/></g>
<path d="M237.0,242.5 L239.5,244.0 L240.0,248.5 L238.0,251.0 L235.0,250.5 L234.5,246.0 Z" fill="#440154" stroke="#440154" stroke-width="0.6"/><use href="#e_I0" fill="#440154"/>
<g fill="#2d6f8e"><use href="#d_I0_0"/><use href="#d_I0_1"/><use href="#d_I0_2"/><use href="#d_I0_3"/><use href="#d_I0_4"/><use href="#d_I0_5"/><use href="#d_I0_6"/><use href="#d_I0_7"/><use href="#d_I0_8"/><use href="#d_I0_9"/></g>
<path d="M237.5,252 L238,262 L238.5,272" fill="none" stroke="#440154" stroke-width="3"/>
<g fill="#2d6f8e"><use href="#d_I1_0"/><use href="#d_I1_1"/><use href="#d_I1_2"/><use href="#d_I1_3"/><use href="#d_I1_4"/><use href="#d_I1_5"/><use href="#d_I1_6"/><use href="#d_I1_7"/><use href="#d_I1_8"/><use href="#d_I1_9"/></g>
<path d="M240.8,272.2 L249.3,274.3 L252.1,280.0 L247.9,284.9 L239.4,284.9 L233.8,282.8 L236.6,277.1 Z" fill="#440154" stroke="#440154" stroke-width="0.6"/><use href="#e_I2" fill="#440154"/>
<g fill="#2d6f8e"><use href="#d_I2_0"/><use href="#d_I2_1"/><use href="#d_I2_2"/><use href="#d_I2_3"/><use href="#d_I2_4"/><use href="#d_I2_5"/><use href="#d_I2_6"/><use href="#d_I2_7"/><use href="#d_I2_8"/><use href="#d_I2_9"/></g>
<path d="M296.2,214.4 L298.7,221.4 L299.9,224.7 L297.0,228.0 L290.5,227.1 L288.4,223.0 L292.1,217.3 Z" fill="#440154" stroke="#440154" stroke-width="0.6"/><use href="#e_J" fill="#440154"/>
<g fill="#2d6f8e"><use href="#d_J_0"/><use href="#d_J_1"/><use href="#d_J_2"/><use href="#d_J_3"/><use href="#d_J_4"/><use href="#d_J_5"/><use href="#d_J_6"/><use href="#d_J_7"/></g>
<path d="M289.7,241.1 L288,254.2" fill="none" stroke="#440154" stroke-width="3"/>
<g fill="#2d6f8e"><use href="#d_K1_0"/><use href="#d_K1_1"/><use href="#d_K1_2"/><use href="#d_K1_3"/><use href="#d_K1_4"/><use href="#d_K1_5"/><use href="#d_K1_6"/><use href="#d_K1_7"/><use href="#d_K1_8"/><use href="#d_K1_9"/></g>
<path d="M288.0,255.0 L290.5,256.6 L293.8,264.0 L289.7,268.1 L286.4,267.3 L284.3,258.3 Z" fill="#440154" stroke="#440154" stroke-width="0.6"/><use href="#e_K2" fill="#440154"/>
<g fill="#2d6f8e"><use href="#d_K2_0"/><use href="#d_K2_1"/><use href="#d_K2_2"/><use href="#d_K2_3"/><use href="#d_K2_4"/><use href="#d_K2_5"/><use href="#d_K2_6"/><use href="#d_K2_7"/><use href="#d_K2_8"/><use href="#d_K2_9"/></g>
<path d="M347.0,237.8 L356.9,235.3 L357.7,241.1 L357.7,246.8 L355.2,248.4 L348.7,246.8 L345.4,242.7 Z" fill="#440154" stroke="#440154" stroke-width="0.6"/><use href="#e_L" fill="#440154"/>
<g fill="#2d6f8e"><use href="#d_L_0"/><use href="#d_L_1"/><use href="#d_L_2"/><use href="#d_L_3"/><use href="#d_L_4"/><use href="#d_L_5"/><use href="#d_L_6"/><use href="#d_L_7"/></g>
<path d="M237.2,291.2a1.5,1.5 0 1,0 3,0a1.5,1.5 0 1,0 -3,0M231.6,284.2a1.5,1.5 0 1,0 3,0a1.5,1.5 0 1,0 -3,0M240.1,288.5a1.4,1.4 0 1,0 2.8,0a1.4,1.4 0 1,0 -2.8,0" fill="#440154" stroke="#440154" stroke-width="1.5"/>
<path d="M289,234.1a1.5,1.5 0 1,0 3,0a1.5,1.5 0 1,0 -3,0" fill="#440154" stroke="#440154" stroke-width="1.5"/>
</g>
<rect x="377.5" y="40.5" width="12" height="350.0" fill="url(#vir)" stroke="#000" stroke-width="1.0"/>
<line x1="389.5" y1="390.5" x2="395.5" y2="390.5" stroke="#000" stroke-width="1.25"/>
<text x="402.3" y="400.1" font-size="26" fill="#000">0</text>
<line x1="389.5" y1="306.6" x2="395.5" y2="306.6" stroke="#000" stroke-width="1.25"/>
<text x="402.3" y="316.2" font-size="26" fill="#000">1</text>
<line x1="389.5" y1="222.6" x2="395.5" y2="222.6" stroke="#000" stroke-width="1.25"/>
<text x="402.3" y="232.2" font-size="26" fill="#000">2</text>
<line x1="389.5" y1="138.7" x2="395.5" y2="138.7" stroke="#000" stroke-width="1.25"/>
<text x="402.3" y="148.3" font-size="26" fill="#000">3</text>
<line x1="389.5" y1="54.8" x2="395.5" y2="54.8" stroke="#000" stroke-width="1.25"/>
<text x="402.3" y="64.4" font-size="26" fill="#000">4</text>
</g>
<g transform="translate(1916.0,438.0)">
<text x="192.9" y="29.8" font-size="26" text-anchor="middle" fill="#000">TMEM144</text>
<g stroke-linejoin="round" stroke-linecap="round">
<path d="M39.0,164.1 L41.4,168.3 L39.0,174.0 L34.0,177.5 L27.4,177.5 L27.7,173.6 L30.5,169.0 L34.0,166.2 Z" fill="#440154" stroke="#440154" stroke-width="0.6"/><use href="#e_A" fill="#440154"/>
<g fill="#2d6f8e"><use href="#d_A_0"/><use href="#d_A_1"/><use href="#d_A_2"/><use href="#d_A_3"/><use href="#d_A_4"/><use href="#d_A_5"/><use href="#d_A_6"/><use href="#d_A_7"/></g>
<path d="M253.4,83.9 L255.6,78.4 L260.0,75.0 L261.2,69.5 L263.4,62.8 L266.7,60.6 L267.8,56.7 L273.4,55.0 L279.0,58.3 L284.5,62.8 L285.6,67.2 L282.3,73.9 L279.0,80.6 L275.6,78.4 L276.7,73.9 L272.3,72.8 L269.0,78.4 L266.7,85.0 L264.5,93.0 L256.7,94.0 L253.4,87.3 Z" fill="#2d6f8e" stroke="#2d6f8e" stroke-width="0.6"/><use href="#e_B1" fill="#2d6f8e"/>
<g fill="#24878e"><use href="#d_B1_18"/><use href="#d_B1_19"/></g>
<g fill="#440154"><use href="#d_B1_0"/><use href="#d_B1_1"/><use href="#d_B1_2"/><use href="#d_B1_3"/><use href="#d_B1_4"/><use href="#d_B1_5"/><use href="#d_B1_6"/><use href="#d_B1_7"/></g>
<path d="M235.2,98.8 L240.5,96.4 L246.4,92.9 L250.5,94.1 L255.1,94.7 L261.0,94.7 L268.6,94.1 L272.7,97.6 L277.4,101.7 L276.2,106.4 L279.7,110.5 L281.5,115.8 L281.5,122.8 L278.6,129.8 L272.7,130.4 L266.9,131.0 L262.2,127.5 L255.1,128.1 L249.3,130.4 L244.6,132.2 L240.5,131.0 L237.0,125.1 L233.5,119.9 L232.3,112.3 L233.5,104.1 Z" fill="#2d6f8e" stroke="#2d6f8e" stroke-width="0.6"/><use href="#e_B2" fill="#2d6f8e"/>
<g fill="#24878e"><use href="#d_B2_18"/><use href="#d_B2_19"/></g>
<g fill="#440154"><use href="#d_B2_0"/><use href="#d_B2_1"/><use href="#d_B2_2"/><use href="#d_B2_3"/><use href="#d_B2_4"/><use href="#d_B2_5"/></g>
<linearGradient id="gc9" gradientUnits="userSpaceOnUse" x1="120" y1="0" x2="210" y2="0"><stop offset="0.3" stop-color="#a5db36"/><stop offset="1" stop-color="#7ad151"/></linearGradient>
<path d="M146.8,155.1 L141.0,158.6 L137.5,164.5 L134.5,169.2 L134.0,175.0 L123.4,178.5 L117.6,182.0 L116.4,190.3 L117.6,199.6 L115.2,206.7 L121.0,212.5 L129.3,214.8 L142.2,216.6 L152.7,214.8 L163.2,213.7 L170.3,210.2 L179.6,212.5 L189.0,210.2 L193.7,204.3 L200.7,197.3 L207.7,190.3 L209.5,184.4 L205.4,179.7 L197.2,177.4 L192.5,173.9 L190.2,169.2 L186.7,166.8 L186.7,173.9 L182.0,176.2 L173.8,173.9 L167.9,169.2 L163.2,165.7 L158.5,161.0 L152.7,156.3 Z" fill="url(#gc9)" stroke="url(#gc9)" stroke-width="0.6"/><use href="#e_C" fill="url(#gc9)"/>
<g fill="#dae319" fill-opacity="0.7"><use href="#d_C_0"/><use href="#d_C_1"/><use href="#d_C_2"/><use href="#d_C_3"/></g>
<g fill="#67cc5c" fill-opacity="0.6"><use href="#d_C_4"/><use href="#d_C_5"/><use href="#d_C_6"/><use href="#d_C_7"/></g>
<path d="M195.2,129.1 L199.4,130.5 L201.5,135.5 L203.6,141.8 L201.5,146.7 L198.7,151.6 L195.9,155.1 L193.1,153.0 L190.8,150.5 L190.3,148.1 L191.0,142.5 L189.6,137.6 L191.0,131.9 Z" fill="#7ad151" stroke="#7ad151" stroke-width="0.6"/><use href="#e_D" fill="#7ad151"/>
<g fill="#3aba76"><use href="#d_D_0"/><use href="#d_D_1"/><use href="#d_D_2"/></g>
<g fill="#cae11f"><use href="#d_D_3"/><use href="#d_D_4"/><use href="#d_D_5"/></g>
<path d="M183.9,153.7 L186.8,150.2 L190.3,148.1 L193.1,150.0 L193.1,153.0 L191.7,156.5 L191.0,162.2 L188.2,164.3 L186.0,163.6 L185.4,157.2 Z" fill="#a5db36" stroke="#a5db36" stroke-width="0.6"/><use href="#e_Dl" fill="#a5db36"/>
<g fill="#5ac864"><use href="#d_Dl_0"/><use href="#d_Dl_1"/><use href="#d_Dl_2"/></g>
<g fill="#f6e620"><use href="#d_Dl_3"/><use href="#d_Dl_4"/><use href="#d_Dl_5"/></g>
<path d="M42.1,289.7 L51.1,288.0 L56.9,292.1 L62.6,298.7 L65.9,303.6 L62.6,308.5 L55.2,311.8 L51.1,315.9 L44.6,322.5 L35.6,320.8 L29.8,315.9 L28.2,308.5 L33.1,303.6 L37.2,296.2 Z" fill="#440154" stroke="#440154" stroke-width="0.6"/><use href="#e_E" fill="#440154"/>
<g fill="#3b528b"><use href="#d_E_0"/><use href="#d_E_1"/><use href="#d_E_2"/><use href="#d_E_3"/><use href="#d_E_4"/><use href="#d_E_5"/><use href="#d_E_6"/><use href="#d_E_7"/></g>
<path d="M60.0,298.0 L64.0,301.0 L66.0,304.0 L63.0,309.0 L57.0,312.0 L54.0,311.0 L57.0,305.0 Z" fill="#2a9b84" stroke="#2a9b84" stroke-width="0.6"/><use href="#e_E2" fill="#2a9b84"/>
<g fill="#26818e"><use href="#d_E2_0"/><use href="#d_E2_1"/><use href="#d_E2_2"/></g>
<g fill="#3aba76"><use href="#d_E2_3"/><use href="#d_E2_4"/><use href="#d_E2_5"/></g>
<path d="M138.9,288.2 L148.2,291.7 L154.1,298.7 L150.6,308.1 L148.2,316.3 L141.2,319.8 L138.9,314.0 L142.4,306.9 L136.5,304.6 L133.0,299.9 L135.4,291.7 Z" fill="#440154" stroke="#440154" stroke-width="0.6"/><use href="#e_F1" fill="#440154"/>
<g fill="#3b528b"><use href="#d_F1_0"/><use href="#d_F1_1"/><use href="#d_F1_2"/><use href="#d_F1_3"/><use href="#d_F1_4"/><use href="#d_F1_5"/><use href="#d_F1_6"/><use href="#d_F1_7"/></g>
<path d="M141,319 L135.4,322 L123.6,330.4" fill="none" stroke="#440154" stroke-width="3"/>
<g fill="#3b528b"><use href="#d_F2_0"/><use href="#d_F2_1"/><use href="#d_F2_2"/><use href="#d_F2_3"/><use href="#d_F2_4"/><use href="#d_F2_5"/><use href="#d_F2_6"/><use href="#d_F2_7"/></g>
<path d="M129.5,305.8 L126,316.3" fill="none" stroke="#440154" stroke-width="3"/>
<g fill="#3b528b"><use href="#d_F3_0"/><use href="#d_F3_1"/><use href="#d_F3_2"/><use href="#d_F3_3"/><use href="#d_F3_4"/><use href="#d_F3_5"/><use href="#d_F3_6"/><use href="#d_F3_7"/></g>
<path d="M110.8,301.7 L119.0,308.1 L117.8,315.1 L113.1,315.1 L107.8,308.1 Z" fill="#440154" stroke="#440154" stroke-width="0.6"/><use href="#e_F4" fill="#440154"/>
<g fill="#3b528b"><use href="#d_F4_0"/><use href="#d_F4_1"/><use href="#d_F4_2"/><use href="#d_F4_3"/><use href="#d_F4_4"/><use href="#d_F4_5"/><use href="#d_F4_6"/><use href="#d_F4_7"/><use href="#d_F4_8"/><use href="#d_F4_9"/></g>
<path d="M107.2,325.1 L114.3,328.0 L120.1,332.7 L113.1,336.2 L106.1,340.9 L99.1,347.9 L94.4,346.7 L93.2,335.0 L99.1,329.2 L103.7,326.8 Z" fill="#440154" stroke="#440154" stroke-width="0.6"/><use href="#e_F5" fill="#440154"/>
<g fill="#3b528b"><use href="#d_F5_0"/><use href="#d_F5_1"/><use href="#d_F5_2"/><use href="#d_F5_3"/><use href="#d_F5_4"/><use href="#d_F5_5"/><use href="#d_F5_6"/><use href="#d_F5_7"/></g>
<path d="M120.1,326.8 L126.0,331.5 L129.5,338.5 L135.4,335.0 L136.5,339.7 L131.8,345.6 L136.5,350.3 L134.2,354.9 L127.2,357.3 L122.5,352.6 L117.8,350.3 L120.1,343.2 L115.4,335.0 Z" fill="#440154" stroke="#440154" stroke-width="0.6"/><use href="#e_F6" fill="#440154"/>
<g fill="#2d6f8e"><use href="#d_F6_0"/><use href="#d_F6_1"/><use href="#d_F6_2"/><use href="#d_F6_3"/><use href="#d_F6_4"/><use href="#d_F6_5"/><use href="#d_F6_6"/><use href="#d_F6_7"/><use href="#d_F6_8"/><use href="#d_F6_9"/></g>
<path d="M142.4,350.3 L148.2,356.1 L143.5,360.2 L138.9,354.9 Z" fill="#440154" stroke="#440154" stroke-width="0.6"/><use href="#e_F7" fill="#440154"/>
<g fill="#3b528b"><use href="#d_F7_0"/><use href="#d_F7_1"/><use href="#d_F7_2"/><use href="#d_F7_3"/><use href="#d_F7_4"/><use href="#d_F7_5"/><use href="#d_F7_6"/><use href="#d_F7_7"/><use href="#d_F7_8"/><use href="#d_F7_9"/></g>
<path d="M124.8,364.3 L119.5,374.8" fill="none" stroke="#440154" stroke-width="4"/>
<g fill="#3b528b"><use href="#d_F8_0"/><use href="#d_F8_1"/><use href="#d_F8_2"/><use href="#d_F8_3"/><use href="#d_F8_4"/><use href="#d_F8_5"/><use href="#d_F8_6"/><use href="#d_F8_7"/></g>
<path d="M205.1,299.2 L213.5,299.6 L221.1,303.4 L225.7,307.5 L229.5,312.9 L233.3,317.4 L234.4,322.8 L234.0,329.6 L231.7,335.7 L227.2,340.3 L221.1,344.1 L213.5,347.1 L208.2,348.3 L201.3,344.8 L196.7,339.5 L193.7,332.7 L189.9,326.6 L189.5,320.5 L190.7,312.9 L194.5,305.3 L199.8,300.7 Z" fill="#2d6f8e" stroke="#2d6f8e" stroke-width="0.6"/><use href="#e_G" fill="#2d6f8e"/>
<g fill="#24878e"><use href="#d_G_18"/><use href="#d_G_19"/></g>
<g fill="#440154"><use href="#d_G_0"/><use href="#d_G_1"/><use href="#d_G_2"/><use href="#d_G_3"/><use href="#d_G_4"/><use href="#d_G_5"/><use href="#d_G_6"/></g>
<path d="M172.5,333.0 L174.0,330.0 L180.0,326.0 L182.5,326.5 L181.0,330.0 L175.0,333.5 Z" fill="#3b528b" stroke="#3b528b" stroke-width="0.6"/><use href="#e_H" fill="#3b528b"/>
<g fill="#2e6d8e"><use href="#d_H_18"/><use href="#d_H_19"/></g>
<g fill="#440154"><use href="#d_H_0"/><use href="#d_H_1"/><use href="#d_H_2"/><use href="#d_H_3"/><use href="#d_H_4"/><use href="#d_H_5"/><use href="#d_H_6"/><use href="#d_H_7"/></g>
<path d="M237.0,242.5 L239.5,244.0 L240.0,248.5 L238.0,251.0 L235.0,250.5 L234.5,246.0 Z" fill="#440154" stroke="#440154" stroke-width="0.6"/><use href="#e_I0" fill="#440154"/>
<g fill="#2d6f8e"><use href="#d_I0_0"/><use href="#d_I0_1"/><use href="#d_I0_2"/><use href="#d_I0_3"/><use href="#d_I0_4"/><use href="#d_I0_5"/><use href="#d_I0_6"/><use href="#d_I0_7"/></g>
<path d="M237.5,252 L238,262 L238.5,272" fill="none" stroke="#440154" stroke-width="3"/>
<g fill="#2d6f8e"><use href="#d_I1_0"/><use href="#d_I1_1"/><use href="#d_I1_2"/><use href="#d_I1_3"/><use href="#d_I1_4"/><use href="#d_I1_5"/><use href="#d_I1_6"/><use href="#d_I1_7"/></g>
<path d="M240.8,272.2 L249.3,274.3 L252.1,280.0 L247.9,284.9 L239.4,284.9 L233.8,282.8 L236.6,277.1 Z" fill="#2d6f8e" stroke="#2d6f8e" stroke-width="0.6"/><use href="#e_I2" fill="#2d6f8e"/>
<g fill="#24878e"><use href="#d_I2_18"/><use href="#d_I2_19"/></g>
<g fill="#440154"><use href="#d_I2_0"/><use href="#d_I2_1"/><use href="#d_I2_2"/><use href="#d_I2_3"/><use href="#d_I2_4"/><use href="#d_I2_5"/><use href="#d_I2_6"/><use href="#d_I2_7"/></g>
<path d="M296.2,214.4 L298.7,221.4 L299.9,224.7 L297.0,228.0 L290.5,227.1 L288.4,223.0 L292.1,217.3 Z" fill="#440154" stroke="#440154" stroke-width="0.6"/><use href="#e_J" fill="#440154"/>
<g fill="#3b528b"><use href="#d_J_0"/><use href="#d_J_1"/><use href="#d_J_2"/></g>
<path d="M289.7,241.1 L288,254.2" fill="none" stroke="#440154" stroke-width="3"/>
<g fill="#2d6f8e"><use href="#d_K1_0"/><use href="#d_K1_1"/><use href="#d_K1_2"/><use href="#d_K1_3"/><use href="#d_K1_4"/><use href="#d_K1_5"/><use href="#d_K1_6"/><use href="#d_K1_7"/></g>
<path d="M288.0,255.0 L290.5,256.6 L293.8,264.0 L289.7,268.1 L286.4,267.3 L284.3,258.3 Z" fill="#440154" stroke="#440154" stroke-width="0.6"/><use href="#e_K2" fill="#440154"/>
<g fill="#2d6f8e"><use href="#d_K2_0"/><use href="#d_K2_1"/><use href="#d_K2_2"/><use href="#d_K2_3"/><use href="#d_K2_4"/><use href="#d_K2_5"/><use href="#d_K2_6"/><use href="#d_K2_7"/></g>
<path d="M347.0,237.8 L356.9,235.3 L357.7,241.1 L357.7,246.8 L355.2,248.4 L348.7,246.8 L345.4,242.7 Z" fill="#440154" stroke="#440154" stroke-width="0.6"/><use href="#e_L" fill="#440154"/>
<g fill="#2d6f8e"><use href="#d_L_0"/><use href="#d_L_1"/><use href="#d_L_2"/><use href="#d_L_3"/><use href="#d_L_4"/><use href="#d_L_5"/><use href="#d_L_6"/><use href="#d_L_7"/><use href="#d_L_8"/><use href="#d_L_9"/></g>
<path d="M237.2,291.2a1.5,1.5 0 1,0 3,0a1.5,1.5 0 1,0 -3,0M231.6,284.2a1.5,1.5 0 1,0 3,0a1.5,1.5 0 1,0 -3,0M240.1,288.5a1.4,1.4 0 1,0 2.8,0a1.4,1.4 0 1,0 -2.8,0" fill="#2d6f8e" stroke="#2d6f8e" stroke-width="1.5"/>
<path d="M289,234.1a1.5,1.5 0 1,0 3,0a1.5,1.5 0 1,0 -3,0" fill="#440154" stroke="#440154" stroke-width="1.5"/>
</g>
<rect x="377.5" y="40.5" width="12" height="350.0" fill="url(#vir)" stroke="#000" stroke-width="1.0"/>
<line x1="389.5" y1="390.5" x2="395.5" y2="390.5" stroke="#000" stroke-width="1.25"/>
<text x="402.3" y="400.1" font-size="26" fill="#000">0</text>
<line x1="389.5" y1="314.7" x2="395.5" y2="314.7" stroke="#000" stroke-width="1.25"/>
<text x="402.3" y="324.3" font-size="26" fill="#000">1</text>
<line x1="389.5" y1="239.0" x2="395.5" y2="239.0" stroke="#000" stroke-width="1.25"/>
<text x="402.3" y="248.6" font-size="26" fill="#000">2</text>
<line x1="389.5" y1="163.2" x2="395.5" y2="163.2" stroke="#000" stroke-width="1.25"/>
<text x="402.3" y="172.8" font-size="26" fill="#000">3</text>
<line x1="389.5" y1="87.5" x2="395.5" y2="87.5" stroke="#000" stroke-width="1.25"/>
<text x="402.3" y="97.1" font-size="26" fill="#000">4</text>
</g>
</svg></body></html>
